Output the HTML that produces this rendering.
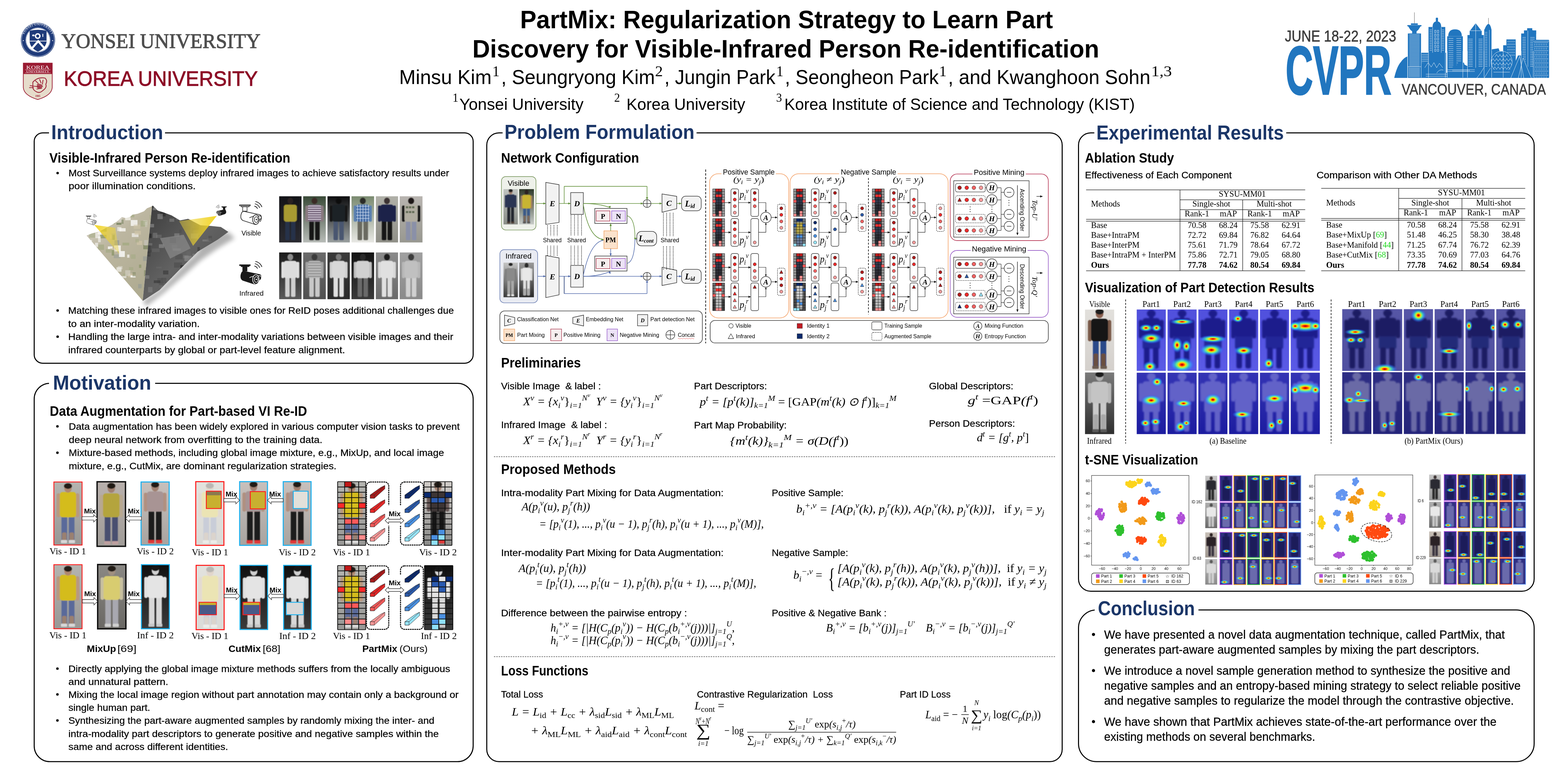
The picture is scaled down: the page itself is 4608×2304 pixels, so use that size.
<!DOCTYPE html>
<html><head><meta charset="utf-8"><title>PartMix: Regularization Strategy to Learn Part Discovery for Visible-Infrared Person Re-identification</title>
<style>
html,body{margin:0;padding:0;background:#fff;width:4608px;height:2304px;overflow:hidden}
svg{display:block}
text{white-space:pre}
.s{font-family:"Liberation Sans",Arial,sans-serif}
.w{stroke:#000;stroke-width:0.35px}
.r{font-family:"Liberation Serif","Times New Roman",serif}
.b{font-weight:bold}
.i{font-style:italic}
</style></head><body>
<svg width="4608" height="2304" viewBox="0 0 4608 2304">
<rect width="4608" height="2304" fill="#fff"/>
<defs><path id="yring" d="M68.6,117.4 A43,43 0 0 1 154.6,117.4"/><filter id="blur6" x="-20%" y="-20%" width="140%" height="140%"><feGaussianBlur stdDeviation="7"/></filter><clipPath id="cmL"><path d="M254.4,692.3 L270,686 L288,681.5 L300,676 L312,669.4 L330,660 L345,650 L358,638 L370,641 L382,638 L389,631 L405,628 L423,621 L432,612 L444.6,606.9 L447,605.6 L419.3,883.7 Z"/></clipPath><clipPath id="cmR"><path d="M447,605.6 L449.4,604.4 L463.9,619 L480,624 L504.8,633.3 L528.9,647.8 L553,643 L570,652 L589,662 L620,664 L649,667 L671,681.5 L640,704 L581.8,739 L530,790 L468.7,852.4 L419.3,884.5 Z"/></clipPath><linearGradient id="g1" x1="0" y1="0" x2="0.6" y2="1"><stop offset="0" stop-color="#dcd8ce"/><stop offset="0.45" stop-color="#bcb6a0"/><stop offset="1" stop-color="#b0ac92"/></linearGradient><linearGradient id="g2" x1="0" y1="0" x2="1" y2="1"><stop offset="0" stop-color="#3a3a3a"/><stop offset="0.5" stop-color="#626262"/><stop offset="1" stop-color="#4a4a4a"/></linearGradient><linearGradient id="g3" x1="0" y1="0" x2="1" y2="0.4"><stop offset="0" stop-color="#f4d418" stop-opacity="0.95"/><stop offset="1" stop-color="#e8d040" stop-opacity="0.45"/></linearGradient><linearGradient id="g4" x1="0" y1="0" x2="1" y2="0"><stop offset="0" stop-color="#e8d040" stop-opacity="0.45"/><stop offset="1" stop-color="#f4d418" stop-opacity="0.95"/></linearGradient><linearGradient id="g5" x1="0" y1="0" x2="0" y2="1"><stop offset="0" stop-color="#141418"/><stop offset="1" stop-color="#2a2a30"/></linearGradient><clipPath id="c6"><rect x="820.4" y="576.8" width="65.7" height="135.7"/></clipPath><filter id="b1_2" x="-10%" y="-10%" width="120%" height="120%"><feGaussianBlur stdDeviation="1.2"/></filter><linearGradient id="g7" x1="0" y1="0" x2="0" y2="1"><stop offset="0" stop-color="#3a4a38"/><stop offset="1" stop-color="#b8bcb8"/></linearGradient><clipPath id="c8"><rect x="891.0" y="576.8" width="66.5" height="135.7"/></clipPath><linearGradient id="g9" x1="0" y1="0" x2="0" y2="1"><stop offset="0" stop-color="#0e0e10"/><stop offset="1" stop-color="#9aa0a0"/></linearGradient><clipPath id="c10"><rect x="962.4" y="576.8" width="65.6" height="135.7"/></clipPath><linearGradient id="g11" x1="0" y1="0" x2="0" y2="1"><stop offset="0" stop-color="#7a8a70"/><stop offset="1" stop-color="#e8e8e4"/></linearGradient><clipPath id="c12"><rect x="1033.0" y="576.8" width="66.4" height="135.7"/></clipPath><linearGradient id="g13" x1="0" y1="0" x2="0" y2="1"><stop offset="0" stop-color="#b0b0a8"/><stop offset="1" stop-color="#909088"/></linearGradient><clipPath id="c14"><rect x="1104.5" y="576.8" width="65.3" height="135.7"/></clipPath><linearGradient id="g15" x1="0" y1="0" x2="0" y2="1"><stop offset="0" stop-color="#b8b4b0"/><stop offset="1" stop-color="#989890"/></linearGradient><clipPath id="c16"><rect x="1174.7" y="576.8" width="66.9" height="135.7"/></clipPath><linearGradient id="g17" x1="0" y1="0" x2="0" y2="1"><stop offset="0" stop-color="#1a1a1a"/><stop offset="1" stop-color="#5a5a5a"/></linearGradient><clipPath id="c18"><rect x="820.4" y="741.9" width="65.7" height="137.4"/></clipPath><linearGradient id="g19" x1="0" y1="0" x2="0" y2="1"><stop offset="0" stop-color="#6a6a6a"/><stop offset="1" stop-color="#505050"/></linearGradient><clipPath id="c20"><rect x="891.0" y="741.9" width="66.5" height="137.4"/></clipPath><linearGradient id="g21" x1="0" y1="0" x2="0" y2="1"><stop offset="0" stop-color="#3a3a3a"/><stop offset="1" stop-color="#2a2a2a"/></linearGradient><clipPath id="c22"><rect x="962.4" y="741.9" width="65.6" height="137.4"/></clipPath><linearGradient id="g23" x1="0" y1="0" x2="0" y2="1"><stop offset="0" stop-color="#141414"/><stop offset="1" stop-color="#3a3a3a"/></linearGradient><clipPath id="c24"><rect x="1033.0" y="741.9" width="66.4" height="137.4"/></clipPath><linearGradient id="g25" x1="0" y1="0" x2="0" y2="1"><stop offset="0" stop-color="#8a8a8a"/><stop offset="1" stop-color="#6a6a6a"/></linearGradient><clipPath id="c26"><rect x="1104.5" y="741.9" width="65.3" height="137.4"/></clipPath><linearGradient id="g27" x1="0" y1="0" x2="0" y2="1"><stop offset="0" stop-color="#a0a0a0"/><stop offset="1" stop-color="#8a8a8a"/></linearGradient><clipPath id="c28"><rect x="1174.7" y="741.9" width="66.9" height="137.4"/></clipPath><linearGradient id="g29" x1="0" y1="0" x2="0" y2="1"><stop offset="0" stop-color="#b4b4b0"/><stop offset="1" stop-color="#989896"/></linearGradient><clipPath id="c30"><rect x="158.3" y="1416.4" width="82.9" height="185.4"/></clipPath><linearGradient id="g31" x1="0" y1="0" x2="0" y2="1"><stop offset="0" stop-color="#b4b4b0"/><stop offset="1" stop-color="#989896"/></linearGradient><clipPath id="c32"><rect x="158.3" y="1659.5" width="82.9" height="188.3"/></clipPath><linearGradient id="g33" x1="0" y1="0" x2="0" y2="1"><stop offset="0" stop-color="#b8b0ac"/><stop offset="1" stop-color="#a09c98"/></linearGradient><clipPath id="c34"><rect x="285.3" y="1415.8" width="83.5" height="189.7"/></clipPath><linearGradient id="g35" x1="0" y1="0" x2="0" y2="1"><stop offset="0" stop-color="#c8c0bc"/><stop offset="1" stop-color="#a8a4a0"/></linearGradient><clipPath id="c36"><rect x="414.5" y="1416.4" width="82.7" height="185.4"/></clipPath><linearGradient id="g37" x1="0" y1="0" x2="0" y2="1"><stop offset="0" stop-color="#8a8884"/><stop offset="1" stop-color="#6a6864"/></linearGradient><clipPath id="c38"><rect x="287.0" y="1659.0" width="83.0" height="189.0"/></clipPath><linearGradient id="g39" x1="0" y1="0" x2="0" y2="1"><stop offset="0" stop-color="#101010"/><stop offset="1" stop-color="#3a3a3a"/></linearGradient><clipPath id="c40"><rect x="415.5" y="1659.5" width="82.2" height="188.3"/></clipPath><linearGradient id="g41" x1="0" y1="0" x2="0" y2="1"><stop offset="0" stop-color="#b4b4b0"/><stop offset="1" stop-color="#989896"/></linearGradient><clipPath id="c42"><rect x="575.2" y="1415.5" width="82.8" height="187.2"/></clipPath><linearGradient id="g43" x1="0" y1="0" x2="0" y2="1"><stop offset="0" stop-color="#c8c0bc"/><stop offset="1" stop-color="#a8a4a0"/></linearGradient><clipPath id="c44"><rect x="704.2" y="1415.5" width="81.9" height="187.2"/></clipPath><linearGradient id="g45" x1="0" y1="0" x2="0" y2="1"><stop offset="0" stop-color="#c8c0bc"/><stop offset="1" stop-color="#a8a4a0"/></linearGradient><clipPath id="c46"><rect x="832.3" y="1415.5" width="81.9" height="187.2"/></clipPath><linearGradient id="g47" x1="0" y1="0" x2="0" y2="1"><stop offset="0" stop-color="#b4b4b0"/><stop offset="1" stop-color="#989896"/></linearGradient><clipPath id="c48"><rect x="576.4" y="1661.4" width="82.3" height="189.1"/></clipPath><linearGradient id="g49" x1="0" y1="0" x2="0" y2="1"><stop offset="0" stop-color="#101010"/><stop offset="1" stop-color="#3a3a3a"/></linearGradient><clipPath id="c50"><rect x="705.3" y="1661.4" width="81.3" height="188.5"/></clipPath><linearGradient id="g51" x1="0" y1="0" x2="0" y2="1"><stop offset="0" stop-color="#101010"/><stop offset="1" stop-color="#3a3a3a"/></linearGradient><clipPath id="c52"><rect x="833.5" y="1661.4" width="81.3" height="188.5"/></clipPath><linearGradient id="g53" x1="0" y1="0" x2="0" y2="1"><stop offset="0" stop-color="#b4b4b0"/><stop offset="1" stop-color="#989896"/></linearGradient><clipPath id="c54"><rect x="992.2" y="1415.5" width="82.4" height="187.2"/></clipPath><linearGradient id="g55" x1="0" y1="0" x2="0" y2="1"><stop offset="0" stop-color="#d0ccc8"/><stop offset="1" stop-color="#8a8a88"/></linearGradient><clipPath id="c56"><rect x="1246.2" y="1415.5" width="82.0" height="187.2"/></clipPath><linearGradient id="g57" x1="0" y1="0" x2="0" y2="1"><stop offset="0" stop-color="#b4b4b0"/><stop offset="1" stop-color="#989896"/></linearGradient><clipPath id="c58"><rect x="992.2" y="1662.0" width="82.4" height="188.5"/></clipPath><linearGradient id="g59" x1="0" y1="0" x2="0" y2="1"><stop offset="0" stop-color="#101010"/><stop offset="1" stop-color="#3a3a3a"/></linearGradient><clipPath id="c60"><rect x="1247.4" y="1662.0" width="83.5" height="188.5"/></clipPath><linearGradient id="g61" x1="0" y1="0" x2="0" y2="1"><stop offset="0" stop-color="#c0c4c0"/><stop offset="1" stop-color="#8a8e88"/></linearGradient><clipPath id="c62"><rect x="1479.7" y="555.8" width="42.0" height="103.7"/></clipPath><linearGradient id="g63" x1="0" y1="0" x2="0" y2="1"><stop offset="0" stop-color="#2e3a2a"/><stop offset="1" stop-color="#c8ccc8"/></linearGradient><clipPath id="c64"><rect x="1525.8" y="555.8" width="43.2" height="103.7"/></clipPath><linearGradient id="g65" x1="0" y1="0" x2="0" y2="1"><stop offset="0" stop-color="#c4c4c4"/><stop offset="1" stop-color="#3a3a3a"/></linearGradient><clipPath id="c66"><rect x="1479.7" y="771.8" width="42.0" height="101.7"/></clipPath><linearGradient id="g67" x1="0" y1="0" x2="0" y2="1"><stop offset="0" stop-color="#9a9a9a"/><stop offset="1" stop-color="#2a2a2a"/></linearGradient><clipPath id="c68"><rect x="1525.8" y="771.8" width="43.2" height="101.7"/></clipPath><linearGradient id="g69" x1="0" y1="0" x2="0" y2="1"><stop offset="0" stop-color="#e2e0dc"/><stop offset="1" stop-color="#d4d0cc"/></linearGradient><clipPath id="c70"><rect x="3188.6" y="909.8" width="85.7" height="179.5"/></clipPath><linearGradient id="g71" x1="0" y1="0" x2="0" y2="1"><stop offset="0" stop-color="#7a7a7a"/><stop offset="1" stop-color="#2e2e2e"/></linearGradient><clipPath id="c72"><rect x="3188.6" y="1094.6" width="85.7" height="181.1"/></clipPath><linearGradient id="g73" x1="0" y1="0" x2="0" y2="1"><stop offset="0" stop-color="#5050dc"/><stop offset="1" stop-color="#5a5ae6"/></linearGradient><clipPath id="c74"><rect x="3340.6" y="909.6" width="85.4" height="180.2"/></clipPath><filter id="b2" x="-10%" y="-10%" width="120%" height="120%"><feGaussianBlur stdDeviation="2"/></filter><radialGradient id="g75"><stop offset="0" stop-color="#900000"/><stop offset="0.12" stop-color="#ff2000"/><stop offset="0.28" stop-color="#ffe000"/><stop offset="0.46" stop-color="#60ffa0" stop-opacity="0.9"/><stop offset="0.68" stop-color="#30b0ff" stop-opacity="0.6"/><stop offset="1" stop-color="#3040ff" stop-opacity="0"/></radialGradient><linearGradient id="g76" x1="0" y1="0" x2="0" y2="1"><stop offset="0" stop-color="#3434b4"/><stop offset="1" stop-color="#1c1ca0"/></linearGradient><clipPath id="c77"><rect x="3340.6" y="1095.3" width="85.4" height="180.4"/></clipPath><linearGradient id="g78" x1="0" y1="0" x2="0" y2="1"><stop offset="0" stop-color="#5656a6"/><stop offset="1" stop-color="#5050a0"/></linearGradient><clipPath id="c79"><rect x="3944.5" y="908.5" width="85.6" height="181.5"/></clipPath><linearGradient id="g80" x1="0" y1="0" x2="0" y2="1"><stop offset="0" stop-color="#2e2e84"/><stop offset="1" stop-color="#24247a"/></linearGradient><clipPath id="c81"><rect x="3944.5" y="1093.8" width="85.6" height="181.6"/></clipPath><linearGradient id="g82" x1="0" y1="0" x2="0" y2="1"><stop offset="0" stop-color="#5050dc"/><stop offset="1" stop-color="#5a5ae6"/></linearGradient><clipPath id="c83"><rect x="3431.2" y="909.6" width="85.4" height="180.2"/></clipPath><linearGradient id="g84" x1="0" y1="0" x2="0" y2="1"><stop offset="0" stop-color="#3434b4"/><stop offset="1" stop-color="#1c1ca0"/></linearGradient><clipPath id="c85"><rect x="3431.2" y="1095.3" width="85.4" height="180.4"/></clipPath><linearGradient id="g86" x1="0" y1="0" x2="0" y2="1"><stop offset="0" stop-color="#5656a6"/><stop offset="1" stop-color="#5050a0"/></linearGradient><clipPath id="c87"><rect x="4035.1" y="908.5" width="85.6" height="181.5"/></clipPath><linearGradient id="g88" x1="0" y1="0" x2="0" y2="1"><stop offset="0" stop-color="#2e2e84"/><stop offset="1" stop-color="#24247a"/></linearGradient><clipPath id="c89"><rect x="4035.1" y="1093.8" width="85.6" height="181.6"/></clipPath><linearGradient id="g90" x1="0" y1="0" x2="0" y2="1"><stop offset="0" stop-color="#5050dc"/><stop offset="1" stop-color="#5a5ae6"/></linearGradient><clipPath id="c91"><rect x="3521.7" y="909.6" width="85.4" height="180.2"/></clipPath><linearGradient id="g92" x1="0" y1="0" x2="0" y2="1"><stop offset="0" stop-color="#3434b4"/><stop offset="1" stop-color="#1c1ca0"/></linearGradient><clipPath id="c93"><rect x="3521.7" y="1095.3" width="85.4" height="180.4"/></clipPath><linearGradient id="g94" x1="0" y1="0" x2="0" y2="1"><stop offset="0" stop-color="#5656a6"/><stop offset="1" stop-color="#5050a0"/></linearGradient><clipPath id="c95"><rect x="4125.6" y="908.5" width="85.6" height="181.5"/></clipPath><linearGradient id="g96" x1="0" y1="0" x2="0" y2="1"><stop offset="0" stop-color="#2e2e84"/><stop offset="1" stop-color="#24247a"/></linearGradient><clipPath id="c97"><rect x="4125.6" y="1093.8" width="85.6" height="181.6"/></clipPath><linearGradient id="g98" x1="0" y1="0" x2="0" y2="1"><stop offset="0" stop-color="#5050dc"/><stop offset="1" stop-color="#5a5ae6"/></linearGradient><clipPath id="c99"><rect x="3612.2" y="909.6" width="85.4" height="180.2"/></clipPath><linearGradient id="g100" x1="0" y1="0" x2="0" y2="1"><stop offset="0" stop-color="#3434b4"/><stop offset="1" stop-color="#1c1ca0"/></linearGradient><clipPath id="c101"><rect x="3612.2" y="1095.3" width="85.4" height="180.4"/></clipPath><linearGradient id="g102" x1="0" y1="0" x2="0" y2="1"><stop offset="0" stop-color="#5656a6"/><stop offset="1" stop-color="#5050a0"/></linearGradient><clipPath id="c103"><rect x="4216.1" y="908.5" width="85.6" height="181.5"/></clipPath><linearGradient id="g104" x1="0" y1="0" x2="0" y2="1"><stop offset="0" stop-color="#2e2e84"/><stop offset="1" stop-color="#24247a"/></linearGradient><clipPath id="c105"><rect x="4216.1" y="1093.8" width="85.6" height="181.6"/></clipPath><linearGradient id="g106" x1="0" y1="0" x2="0" y2="1"><stop offset="0" stop-color="#5050dc"/><stop offset="1" stop-color="#5a5ae6"/></linearGradient><clipPath id="c107"><rect x="3702.8" y="909.6" width="85.4" height="180.2"/></clipPath><linearGradient id="g108" x1="0" y1="0" x2="0" y2="1"><stop offset="0" stop-color="#3434b4"/><stop offset="1" stop-color="#1c1ca0"/></linearGradient><clipPath id="c109"><rect x="3702.8" y="1095.3" width="85.4" height="180.4"/></clipPath><linearGradient id="g110" x1="0" y1="0" x2="0" y2="1"><stop offset="0" stop-color="#5656a6"/><stop offset="1" stop-color="#5050a0"/></linearGradient><clipPath id="c111"><rect x="4306.7" y="908.5" width="85.6" height="181.5"/></clipPath><linearGradient id="g112" x1="0" y1="0" x2="0" y2="1"><stop offset="0" stop-color="#2e2e84"/><stop offset="1" stop-color="#24247a"/></linearGradient><clipPath id="c113"><rect x="4306.7" y="1093.8" width="85.6" height="181.6"/></clipPath><linearGradient id="g114" x1="0" y1="0" x2="0" y2="1"><stop offset="0" stop-color="#5050dc"/><stop offset="1" stop-color="#5a5ae6"/></linearGradient><clipPath id="c115"><rect x="3793.3" y="909.6" width="85.4" height="180.2"/></clipPath><linearGradient id="g116" x1="0" y1="0" x2="0" y2="1"><stop offset="0" stop-color="#3434b4"/><stop offset="1" stop-color="#1c1ca0"/></linearGradient><clipPath id="c117"><rect x="3793.3" y="1095.3" width="85.4" height="180.4"/></clipPath><linearGradient id="g118" x1="0" y1="0" x2="0" y2="1"><stop offset="0" stop-color="#5656a6"/><stop offset="1" stop-color="#5050a0"/></linearGradient><clipPath id="c119"><rect x="4397.2" y="908.5" width="85.6" height="181.5"/></clipPath><linearGradient id="g120" x1="0" y1="0" x2="0" y2="1"><stop offset="0" stop-color="#2e2e84"/><stop offset="1" stop-color="#24247a"/></linearGradient><clipPath id="c121"><rect x="4397.2" y="1093.8" width="85.6" height="181.6"/></clipPath><linearGradient id="g122" x1="0" y1="0" x2="0" y2="1"><stop offset="0" stop-color="#c8c8c8"/><stop offset="1" stop-color="#9a9a9a"/></linearGradient><clipPath id="c123"><rect x="3542.0" y="1398.0" width="35.0" height="75.0"/></clipPath><linearGradient id="g124" x1="0" y1="0" x2="0" y2="1"><stop offset="0" stop-color="#b0b0b0"/><stop offset="1" stop-color="#6a6a6a"/></linearGradient><clipPath id="c125"><rect x="3542.0" y="1477.0" width="35.0" height="75.0"/></clipPath><linearGradient id="g126" x1="0" y1="0" x2="0" y2="1"><stop offset="0" stop-color="#c8c0b8"/><stop offset="1" stop-color="#a09890"/></linearGradient><clipPath id="c127"><rect x="3542.0" y="1564.5" width="35.0" height="73.9"/></clipPath><linearGradient id="g128" x1="0" y1="0" x2="0" y2="1"><stop offset="0" stop-color="#bcbcbc"/><stop offset="1" stop-color="#8a8a8a"/></linearGradient><clipPath id="c129"><rect x="3542.0" y="1643.0" width="35.0" height="75.0"/></clipPath><linearGradient id="g130" x1="0" y1="0" x2="0" y2="1"><stop offset="0" stop-color="#c8c8c8"/><stop offset="1" stop-color="#9a9a9a"/></linearGradient><clipPath id="c131"><rect x="4200.0" y="1394.6" width="34.8" height="76.1"/></clipPath><linearGradient id="g132" x1="0" y1="0" x2="0" y2="1"><stop offset="0" stop-color="#b0b0b0"/><stop offset="1" stop-color="#6a6a6a"/></linearGradient><clipPath id="c133"><rect x="4200.0" y="1474.5" width="34.8" height="76.5"/></clipPath><linearGradient id="g134" x1="0" y1="0" x2="0" y2="1"><stop offset="0" stop-color="#c8c0b8"/><stop offset="1" stop-color="#a09890"/></linearGradient><clipPath id="c135"><rect x="4200.0" y="1561.8" width="34.8" height="76.0"/></clipPath><linearGradient id="g136" x1="0" y1="0" x2="0" y2="1"><stop offset="0" stop-color="#bcbcbc"/><stop offset="1" stop-color="#8a8a8a"/></linearGradient><clipPath id="c137"><rect x="4200.0" y="1641.0" width="34.8" height="76.0"/></clipPath></defs>
<circle cx="111.6" cy="117.4" r="50.3" fill="#1f3b7a"/>
<circle cx="111.6" cy="117.4" r="48.3" fill="none" stroke="#fff" stroke-width="1.0"/>
<circle cx="111.6" cy="117.4" r="36.5" fill="#fff"/>
<circle cx="111.6" cy="117.4" r="35.2" fill="none" stroke="#1f3b7a" stroke-width="0.8"/>
<path d="M87.19999999999999,90.4 Q111.6,84.4 136.79999999999998,90.4 L136.79999999999998,123.4 Q133.6,141.4 111.6,151.8 Q89.6,141.4 87.19999999999999,123.4 Z" fill="#1f3b7a"/>
<circle cx="110.8" cy="106.0" r="8.5" fill="#fff"/>
<circle cx="110.8" cy="106.0" r="4.5" fill="#1f3b7a"/>
<line x1="87.6" y1="120.8" x2="136.6" y2="120.8" stroke="#fff" stroke-width="2" />
<path d="M91.6,144.4 L112.3,121.0 L133.0,144.4" fill="none" stroke="#fff" stroke-width="6"/>
<rect x="94.6" y="101.4" width="7.0" height="5.0" fill="#fff" rx="2"/>
<rect x="124.6" y="99.4" width="2.5" height="9.0" fill="#fff"/>
<text font-size="9.5" class="r" fill="#fff" letter-spacing="0.6"><textPath href="#yring" startOffset="50%" text-anchor="middle">YONSEI UNIVERSITY</textPath></text>
<circle cx="68.6" cy="119.4" r="1.4" fill="#fff"/>
<circle cx="154.6" cy="119.4" r="1.4" fill="#fff"/>
<text x="180.5" y="141.0" font-size="61.5" class="r" textLength="585.0" lengthAdjust="spacingAndGlyphs" fill="#4f4f4f" stroke="#4f4f4f" stroke-width="1.4">YONSEI UNIVERSITY</text>
<path d="M68.5,185.5 L153.5,185.5 L153.5,257.5 Q151.5,280.5 111.0,292.5 Q70.5,280.5 68.5,257.5 Z" fill="#e6dccb" stroke="#9a1b32" stroke-width="2"/>
<rect x="68.5" y="185.5" width="85.0" height="32.0" fill="#9a1b32"/>
<line x1="73.5" y1="205.0" x2="148.5" y2="205.0" stroke="#f4e8e0" stroke-width="0.8" />
<line x1="73.5" y1="214.0" x2="148.5" y2="214.0" stroke="#f4e8e0" stroke-width="0.8" />
<text x="111.0" y="202.5" font-size="14.5" class="r" textLength="68.0" lengthAdjust="spacingAndGlyphs" fill="#fff" text-anchor="middle">KOREA</text>
<text x="111.0" y="212.5" font-size="7.2" class="r" textLength="68.0" lengthAdjust="spacingAndGlyphs" fill="#fff" text-anchor="middle">UNIVERSITY</text>
<g fill="none" stroke="#9a1b32" stroke-width="2.2" stroke-linecap="round">
<path d="M96.5,241.5 Q110.5,225.5 132.5,229.5 Q140.5,237.5 134.5,247.5 Q138.5,257.5 126.5,265.5 Q116.5,275.5 106.5,269.5 Q94.5,263.5 96.5,251.5 Z" fill="none"/>
<path d="M104.5,237.5 L112.5,245.5 M116.5,233.5 L120.5,243.5 M126.5,235.5 L124.5,247.5 M102.5,253.5 L116.5,255.5 M108.5,261.5 L122.5,259.5 M88.5,251.5 L100.5,253.5 M86.5,257.5 L98.5,257.5" fill="none"/>
</g>
<path d="M108.5,247.5 Q120.5,243.5 126.5,253.5 Q118.5,265.5 108.5,257.5 Z" fill="#9a1b32" opacity="0.75"/>
<text x="111.0" y="284.5" font-size="7.5" class="r b" fill="#9a1b32" text-anchor="middle">1905</text>
<text x="187.5" y="251.5" font-size="61.3" class="s" textLength="570.0" lengthAdjust="spacingAndGlyphs" fill="#8d0d27" stroke="#8d0d27" stroke-width="1.3">KOREA UNIVERSITY</text>
<text x="1528.5" y="83.4" font-size="74.6" class="s b" textLength="1566.0" lengthAdjust="spacingAndGlyphs">PartMix: Regularization Strategy to Learn Part</text>
<text x="1388.3" y="169.4" font-size="74.6" class="s b" textLength="1842.0" lengthAdjust="spacingAndGlyphs">Discovery for Visible-Infrared Person Re-identification</text>
<text x="1173.0" y="246.8" font-size="59.2" class="s" textLength="271.7" lengthAdjust="spacingAndGlyphs">Minsu Kim</text>
<text x="1472.7" y="246.8" font-size="59.2" class="s" textLength="451.8" lengthAdjust="spacingAndGlyphs">, Seungryong Kim</text>
<text x="1952.5" y="246.8" font-size="59.2" class="s" textLength="326.1" lengthAdjust="spacingAndGlyphs">, Jungin Park</text>
<text x="2306.5" y="246.8" font-size="59.2" class="s" textLength="451.9" lengthAdjust="spacingAndGlyphs">, Seongheon Park</text>
<text x="2786.0" y="246.8" font-size="59.2" class="s" textLength="594.7" lengthAdjust="spacingAndGlyphs">, and Kwanghoon Sohn</text>
<text x="1447.0" y="223.7" font-size="44" class="r" textLength="21.0" lengthAdjust="spacingAndGlyphs">1</text>
<text x="1925.0" y="223.7" font-size="44" class="r" textLength="23.0" lengthAdjust="spacingAndGlyphs">2</text>
<text x="2281.4" y="223.7" font-size="44" class="r" textLength="20.6" lengthAdjust="spacingAndGlyphs">1</text>
<text x="2760.0" y="223.7" font-size="44" class="r" textLength="21.7" lengthAdjust="spacingAndGlyphs">1</text>
<text x="3383.0" y="223.7" font-size="44" class="r" textLength="61.0" lengthAdjust="spacingAndGlyphs">1,3</text>
<text x="1330.0" y="299.0" font-size="36" class="r" textLength="17.0" lengthAdjust="spacingAndGlyphs">1</text>
<text x="1350.0" y="323.2" font-size="48.0" class="s" textLength="365.0" lengthAdjust="spacingAndGlyphs">Yonsei University</text>
<text x="1805.0" y="299.0" font-size="36" class="r" textLength="17.0" lengthAdjust="spacingAndGlyphs">2</text>
<text x="1841.0" y="323.2" font-size="48.0" class="s" textLength="349.0" lengthAdjust="spacingAndGlyphs">Korea University</text>
<text x="2281.0" y="299.0" font-size="36" class="r" textLength="17.0" lengthAdjust="spacingAndGlyphs">3</text>
<text x="2305.0" y="323.2" font-size="48.0" class="s" textLength="1030.0" lengthAdjust="spacingAndGlyphs">Korea Institute of Science and Technology (KIST)</text>
<text x="3776.0" y="122.0" font-size="46.5" class="s" textLength="327.0" lengthAdjust="spacingAndGlyphs" fill="#3c3c3c" stroke="#3c3c3c" stroke-width="0.8">JUNE 18-22, 2023</text>
<text x="3778.0" y="277.0" font-size="203" class="s b" textLength="311.0" lengthAdjust="spacingAndGlyphs" fill="#2176bf" stroke="#2176bf" stroke-width="3.5">CVPR</text>
<text x="4119.0" y="278.0" font-size="45" class="s" textLength="424.0" lengthAdjust="spacingAndGlyphs" fill="#3c3c3c" stroke="#3c3c3c" stroke-width="0.8">VANCOUVER, CANADA</text>
<path d="M4097.3,229 Q4105,195 4117,182 Q4125,170 4136,166 L4136,229 Z" fill="#2176bf"/>
<rect x="4176.0" y="155.0" width="74.0" height="74.0" fill="#2176bf"/>
<line x1="4178.0" y1="160.0" x2="4220.0" y2="160.0" stroke="#fff" stroke-width="0.9" />
<line x1="4178.0" y1="165.0" x2="4220.0" y2="165.0" stroke="#fff" stroke-width="0.9" />
<line x1="4178.0" y1="170.0" x2="4220.0" y2="170.0" stroke="#fff" stroke-width="0.9" />
<line x1="4178.0" y1="175.0" x2="4220.0" y2="175.0" stroke="#fff" stroke-width="0.9" />
<line x1="4178.0" y1="180.0" x2="4220.0" y2="180.0" stroke="#fff" stroke-width="0.9" />
<line x1="4178.0" y1="185.0" x2="4220.0" y2="185.0" stroke="#fff" stroke-width="0.9" />
<rect x="4198.0" y="79.3" width="49.3" height="149.7" fill="#2176bf"/>
<path d="M4210,80 Q4210,63 4222.7,62.8 Q4235.4,63 4235.4,80 Z" fill="#2176bf"/>
<rect x="4219.5" y="52.0" width="6.5" height="11.0" fill="#2176bf" rx="1.5"/>
<rect x="4216.0" y="89.0" width="4.0" height="7.0" fill="none" stroke="#fff" stroke-width="0.9"/>
<rect x="4224.0" y="89.0" width="4.0" height="7.0" fill="none" stroke="#fff" stroke-width="0.9"/>
<rect x="4216.0" y="100.0" width="4.0" height="7.0" fill="none" stroke="#fff" stroke-width="0.9"/>
<rect x="4224.0" y="100.0" width="4.0" height="7.0" fill="none" stroke="#fff" stroke-width="0.9"/>
<rect x="4216.0" y="111.0" width="4.0" height="7.0" fill="none" stroke="#fff" stroke-width="0.9"/>
<rect x="4224.0" y="111.0" width="4.0" height="7.0" fill="none" stroke="#fff" stroke-width="0.9"/>
<rect x="4216.0" y="122.0" width="4.0" height="7.0" fill="none" stroke="#fff" stroke-width="0.9"/>
<rect x="4224.0" y="122.0" width="4.0" height="7.0" fill="none" stroke="#fff" stroke-width="0.9"/>
<rect x="4216.0" y="133.0" width="4.0" height="7.0" fill="none" stroke="#fff" stroke-width="0.9"/>
<rect x="4224.0" y="133.0" width="4.0" height="7.0" fill="none" stroke="#fff" stroke-width="0.9"/>
<rect x="4216.0" y="144.0" width="4.0" height="7.0" fill="none" stroke="#fff" stroke-width="0.9"/>
<rect x="4224.0" y="144.0" width="4.0" height="7.0" fill="none" stroke="#fff" stroke-width="0.9"/>
<line x1="4201.0" y1="88.0" x2="4208.0" y2="88.0" stroke="#fff" stroke-width="0.9" />
<line x1="4237.0" y1="88.0" x2="4244.0" y2="88.0" stroke="#fff" stroke-width="0.9" />
<line x1="4201.0" y1="93.0" x2="4208.0" y2="93.0" stroke="#fff" stroke-width="0.9" />
<line x1="4237.0" y1="93.0" x2="4244.0" y2="93.0" stroke="#fff" stroke-width="0.9" />
<line x1="4201.0" y1="98.0" x2="4208.0" y2="98.0" stroke="#fff" stroke-width="0.9" />
<line x1="4237.0" y1="98.0" x2="4244.0" y2="98.0" stroke="#fff" stroke-width="0.9" />
<line x1="4201.0" y1="103.0" x2="4208.0" y2="103.0" stroke="#fff" stroke-width="0.9" />
<line x1="4237.0" y1="103.0" x2="4244.0" y2="103.0" stroke="#fff" stroke-width="0.9" />
<line x1="4201.0" y1="108.0" x2="4208.0" y2="108.0" stroke="#fff" stroke-width="0.9" />
<line x1="4237.0" y1="108.0" x2="4244.0" y2="108.0" stroke="#fff" stroke-width="0.9" />
<line x1="4201.0" y1="113.0" x2="4208.0" y2="113.0" stroke="#fff" stroke-width="0.9" />
<line x1="4237.0" y1="113.0" x2="4244.0" y2="113.0" stroke="#fff" stroke-width="0.9" />
<line x1="4201.0" y1="118.0" x2="4208.0" y2="118.0" stroke="#fff" stroke-width="0.9" />
<line x1="4237.0" y1="118.0" x2="4244.0" y2="118.0" stroke="#fff" stroke-width="0.9" />
<line x1="4201.0" y1="123.0" x2="4208.0" y2="123.0" stroke="#fff" stroke-width="0.9" />
<line x1="4237.0" y1="123.0" x2="4244.0" y2="123.0" stroke="#fff" stroke-width="0.9" />
<line x1="4201.0" y1="128.0" x2="4208.0" y2="128.0" stroke="#fff" stroke-width="0.9" />
<line x1="4237.0" y1="128.0" x2="4244.0" y2="128.0" stroke="#fff" stroke-width="0.9" />
<line x1="4201.0" y1="133.0" x2="4208.0" y2="133.0" stroke="#fff" stroke-width="0.9" />
<line x1="4237.0" y1="133.0" x2="4244.0" y2="133.0" stroke="#fff" stroke-width="0.9" />
<line x1="4201.0" y1="138.0" x2="4208.0" y2="138.0" stroke="#fff" stroke-width="0.9" />
<line x1="4237.0" y1="138.0" x2="4244.0" y2="138.0" stroke="#fff" stroke-width="0.9" />
<line x1="4201.0" y1="143.0" x2="4208.0" y2="143.0" stroke="#fff" stroke-width="0.9" />
<line x1="4237.0" y1="143.0" x2="4244.0" y2="143.0" stroke="#fff" stroke-width="0.9" />
<line x1="4201.0" y1="148.0" x2="4208.0" y2="148.0" stroke="#fff" stroke-width="0.9" />
<line x1="4237.0" y1="148.0" x2="4244.0" y2="148.0" stroke="#fff" stroke-width="0.9" />
<line x1="4210.0" y1="80.0" x2="4210.0" y2="155.0" stroke="#fff" stroke-width="0.9" />
<line x1="4235.4" y1="80.0" x2="4235.4" y2="155.0" stroke="#fff" stroke-width="0.9" />
<rect x="4137.4" y="98.4" width="38.7" height="130.6" fill="#2176bf"/>
<rect x="4135.6" y="73.8" width="42.0" height="3.5" fill="#2176bf" rx="1.5"/>
<rect x="4146.5" y="68.7" width="20.0" height="4.5" fill="#2176bf"/>
<path d="M4138,77 L4175,77 L4168,88 L4163,92 L4150,92 L4145,88 Z" fill="#2176bf"/>
<rect x="4150.0" y="92.0" width="13.0" height="6.4" fill="#2176bf"/>
<line x1="4156.6" y1="36.4" x2="4156.6" y2="68.7" stroke="#555" stroke-width="1" />
<line x1="4141.5" y1="102.0" x2="4172.0" y2="102.0" stroke="#fff" stroke-width="0.9" />
<line x1="4141.5" y1="106.0" x2="4172.0" y2="106.0" stroke="#fff" stroke-width="0.9" />
<line x1="4141.5" y1="110.0" x2="4172.0" y2="110.0" stroke="#fff" stroke-width="0.9" />
<line x1="4141.5" y1="114.0" x2="4172.0" y2="114.0" stroke="#fff" stroke-width="0.9" />
<line x1="4141.5" y1="118.0" x2="4172.0" y2="118.0" stroke="#fff" stroke-width="0.9" />
<line x1="4141.5" y1="122.0" x2="4172.0" y2="122.0" stroke="#fff" stroke-width="0.9" />
<line x1="4141.5" y1="126.0" x2="4172.0" y2="126.0" stroke="#fff" stroke-width="0.9" />
<line x1="4141.5" y1="130.0" x2="4172.0" y2="130.0" stroke="#fff" stroke-width="0.9" />
<line x1="4141.5" y1="134.0" x2="4172.0" y2="134.0" stroke="#fff" stroke-width="0.9" />
<line x1="4141.5" y1="138.0" x2="4172.0" y2="138.0" stroke="#fff" stroke-width="0.9" />
<line x1="4141.5" y1="142.0" x2="4172.0" y2="142.0" stroke="#fff" stroke-width="0.9" />
<line x1="4141.5" y1="146.0" x2="4172.0" y2="146.0" stroke="#fff" stroke-width="0.9" />
<line x1="4141.5" y1="150.0" x2="4172.0" y2="150.0" stroke="#fff" stroke-width="0.9" />
<line x1="4141.5" y1="154.0" x2="4172.0" y2="154.0" stroke="#fff" stroke-width="0.9" />
<line x1="4141.5" y1="158.0" x2="4172.0" y2="158.0" stroke="#fff" stroke-width="0.9" />
<line x1="4141.5" y1="162.0" x2="4172.0" y2="162.0" stroke="#fff" stroke-width="0.9" />
<line x1="4141.5" y1="166.0" x2="4172.0" y2="166.0" stroke="#fff" stroke-width="0.9" />
<line x1="4141.5" y1="170.0" x2="4172.0" y2="170.0" stroke="#fff" stroke-width="0.9" />
<line x1="4141.5" y1="174.0" x2="4172.0" y2="174.0" stroke="#fff" stroke-width="0.9" />
<line x1="4141.5" y1="178.0" x2="4172.0" y2="178.0" stroke="#fff" stroke-width="0.9" />
<line x1="4141.5" y1="182.0" x2="4172.0" y2="182.0" stroke="#fff" stroke-width="0.9" />
<line x1="4141.5" y1="186.0" x2="4172.0" y2="186.0" stroke="#fff" stroke-width="0.9" />
<line x1="4141.5" y1="190.0" x2="4172.0" y2="190.0" stroke="#fff" stroke-width="0.9" />
<line x1="4141.5" y1="194.0" x2="4172.0" y2="194.0" stroke="#fff" stroke-width="0.9" />
<line x1="4141.0" y1="198.0" x2="4141.0" y2="227.0" stroke="#fff" stroke-width="0.8" />
<line x1="4144.0" y1="198.0" x2="4144.0" y2="227.0" stroke="#fff" stroke-width="0.8" />
<line x1="4147.0" y1="198.0" x2="4147.0" y2="227.0" stroke="#fff" stroke-width="0.8" />
<line x1="4150.0" y1="198.0" x2="4150.0" y2="227.0" stroke="#fff" stroke-width="0.8" />
<line x1="4153.0" y1="198.0" x2="4153.0" y2="227.0" stroke="#fff" stroke-width="0.8" />
<line x1="4156.0" y1="198.0" x2="4156.0" y2="227.0" stroke="#fff" stroke-width="0.8" />
<line x1="4159.0" y1="198.0" x2="4159.0" y2="227.0" stroke="#fff" stroke-width="0.8" />
<line x1="4162.0" y1="198.0" x2="4162.0" y2="227.0" stroke="#fff" stroke-width="0.8" />
<line x1="4165.0" y1="198.0" x2="4165.0" y2="227.0" stroke="#fff" stroke-width="0.8" />
<line x1="4168.0" y1="198.0" x2="4168.0" y2="227.0" stroke="#fff" stroke-width="0.8" />
<line x1="4171.0" y1="198.0" x2="4171.0" y2="227.0" stroke="#fff" stroke-width="0.8" />
<line x1="4137.4" y1="196.0" x2="4176.0" y2="196.0" stroke="#fff" stroke-width="0.9" />
<rect x="4253.0" y="106.6" width="46.0" height="122.4" fill="#2176bf"/>
<path d="M4256,106.6 Q4256,86.2 4276,86.2 Q4296,86.2 4296,106.6 Z" fill="#2176bf"/>
<line x1="4257.0" y1="113.0" x2="4271.0" y2="113.0" stroke="#fff" stroke-width="0.9" />
<line x1="4280.0" y1="113.0" x2="4294.0" y2="113.0" stroke="#fff" stroke-width="0.9" />
<line x1="4257.0" y1="119.0" x2="4271.0" y2="119.0" stroke="#fff" stroke-width="0.9" />
<line x1="4280.0" y1="119.0" x2="4294.0" y2="119.0" stroke="#fff" stroke-width="0.9" />
<line x1="4257.0" y1="125.0" x2="4271.0" y2="125.0" stroke="#fff" stroke-width="0.9" />
<line x1="4280.0" y1="125.0" x2="4294.0" y2="125.0" stroke="#fff" stroke-width="0.9" />
<line x1="4257.0" y1="131.0" x2="4271.0" y2="131.0" stroke="#fff" stroke-width="0.9" />
<line x1="4280.0" y1="131.0" x2="4294.0" y2="131.0" stroke="#fff" stroke-width="0.9" />
<line x1="4257.0" y1="137.0" x2="4271.0" y2="137.0" stroke="#fff" stroke-width="0.9" />
<line x1="4280.0" y1="137.0" x2="4294.0" y2="137.0" stroke="#fff" stroke-width="0.9" />
<line x1="4257.0" y1="143.0" x2="4271.0" y2="143.0" stroke="#fff" stroke-width="0.9" />
<line x1="4280.0" y1="143.0" x2="4294.0" y2="143.0" stroke="#fff" stroke-width="0.9" />
<line x1="4257.0" y1="149.0" x2="4271.0" y2="149.0" stroke="#fff" stroke-width="0.9" />
<line x1="4280.0" y1="149.0" x2="4294.0" y2="149.0" stroke="#fff" stroke-width="0.9" />
<line x1="4257.0" y1="155.0" x2="4271.0" y2="155.0" stroke="#fff" stroke-width="0.9" />
<line x1="4280.0" y1="155.0" x2="4294.0" y2="155.0" stroke="#fff" stroke-width="0.9" />
<line x1="4257.0" y1="161.0" x2="4271.0" y2="161.0" stroke="#fff" stroke-width="0.9" />
<line x1="4280.0" y1="161.0" x2="4294.0" y2="161.0" stroke="#fff" stroke-width="0.9" />
<line x1="4257.0" y1="167.0" x2="4271.0" y2="167.0" stroke="#fff" stroke-width="0.9" />
<line x1="4280.0" y1="167.0" x2="4294.0" y2="167.0" stroke="#fff" stroke-width="0.9" />
<line x1="4257.0" y1="173.0" x2="4271.0" y2="173.0" stroke="#fff" stroke-width="0.9" />
<line x1="4280.0" y1="173.0" x2="4294.0" y2="173.0" stroke="#fff" stroke-width="0.9" />
<line x1="4257.0" y1="179.0" x2="4271.0" y2="179.0" stroke="#fff" stroke-width="0.9" />
<line x1="4280.0" y1="179.0" x2="4294.0" y2="179.0" stroke="#fff" stroke-width="0.9" />
<line x1="4257.0" y1="185.0" x2="4271.0" y2="185.0" stroke="#fff" stroke-width="0.9" />
<line x1="4280.0" y1="185.0" x2="4294.0" y2="185.0" stroke="#fff" stroke-width="0.9" />
<line x1="4257.0" y1="191.0" x2="4271.0" y2="191.0" stroke="#fff" stroke-width="0.9" />
<line x1="4280.0" y1="191.0" x2="4294.0" y2="191.0" stroke="#fff" stroke-width="0.9" />
<line x1="4257.0" y1="197.0" x2="4271.0" y2="197.0" stroke="#fff" stroke-width="0.9" />
<line x1="4280.0" y1="197.0" x2="4294.0" y2="197.0" stroke="#fff" stroke-width="0.9" />
<rect x="4312.6" y="103.0" width="48.0" height="126.0" fill="#2176bf"/>
<rect x="4319.0" y="90.2" width="35.5" height="13.0" fill="#2176bf"/>
<path d="M4320,90.2 L4336.7,68.3 L4353.5,90.2 Z" fill="#2176bf"/>
<line x1="4336.7" y1="68.3" x2="4336.7" y2="225.0" stroke="#fff" stroke-width="0.9" />
<line x1="4320.0" y1="90.2" x2="4353.5" y2="90.2" stroke="#fff" stroke-width="0.9" />
<line x1="4315.0" y1="115.0" x2="4328.0" y2="115.0" stroke="#fff" stroke-width="0.9" />
<line x1="4345.0" y1="115.0" x2="4357.0" y2="115.0" stroke="#fff" stroke-width="0.9" />
<line x1="4315.0" y1="120.0" x2="4328.0" y2="120.0" stroke="#fff" stroke-width="0.9" />
<line x1="4345.0" y1="120.0" x2="4357.0" y2="120.0" stroke="#fff" stroke-width="0.9" />
<line x1="4315.0" y1="125.0" x2="4328.0" y2="125.0" stroke="#fff" stroke-width="0.9" />
<line x1="4345.0" y1="125.0" x2="4357.0" y2="125.0" stroke="#fff" stroke-width="0.9" />
<line x1="4315.0" y1="130.0" x2="4328.0" y2="130.0" stroke="#fff" stroke-width="0.9" />
<line x1="4345.0" y1="130.0" x2="4357.0" y2="130.0" stroke="#fff" stroke-width="0.9" />
<line x1="4315.0" y1="135.0" x2="4328.0" y2="135.0" stroke="#fff" stroke-width="0.9" />
<line x1="4345.0" y1="135.0" x2="4357.0" y2="135.0" stroke="#fff" stroke-width="0.9" />
<line x1="4315.0" y1="140.0" x2="4328.0" y2="140.0" stroke="#fff" stroke-width="0.9" />
<line x1="4345.0" y1="140.0" x2="4357.0" y2="140.0" stroke="#fff" stroke-width="0.9" />
<line x1="4315.0" y1="145.0" x2="4328.0" y2="145.0" stroke="#fff" stroke-width="0.9" />
<line x1="4345.0" y1="145.0" x2="4357.0" y2="145.0" stroke="#fff" stroke-width="0.9" />
<line x1="4315.0" y1="150.0" x2="4328.0" y2="150.0" stroke="#fff" stroke-width="0.9" />
<line x1="4345.0" y1="150.0" x2="4357.0" y2="150.0" stroke="#fff" stroke-width="0.9" />
<line x1="4315.0" y1="155.0" x2="4328.0" y2="155.0" stroke="#fff" stroke-width="0.9" />
<line x1="4345.0" y1="155.0" x2="4357.0" y2="155.0" stroke="#fff" stroke-width="0.9" />
<line x1="4315.0" y1="160.0" x2="4328.0" y2="160.0" stroke="#fff" stroke-width="0.9" />
<line x1="4345.0" y1="160.0" x2="4357.0" y2="160.0" stroke="#fff" stroke-width="0.9" />
<line x1="4315.0" y1="165.0" x2="4328.0" y2="165.0" stroke="#fff" stroke-width="0.9" />
<line x1="4345.0" y1="165.0" x2="4357.0" y2="165.0" stroke="#fff" stroke-width="0.9" />
<line x1="4315.0" y1="170.0" x2="4328.0" y2="170.0" stroke="#fff" stroke-width="0.9" />
<line x1="4345.0" y1="170.0" x2="4357.0" y2="170.0" stroke="#fff" stroke-width="0.9" />
<line x1="4315.0" y1="175.0" x2="4328.0" y2="175.0" stroke="#fff" stroke-width="0.9" />
<line x1="4345.0" y1="175.0" x2="4357.0" y2="175.0" stroke="#fff" stroke-width="0.9" />
<line x1="4315.0" y1="180.0" x2="4328.0" y2="180.0" stroke="#fff" stroke-width="0.9" />
<line x1="4345.0" y1="180.0" x2="4357.0" y2="180.0" stroke="#fff" stroke-width="0.9" />
<line x1="4315.0" y1="185.0" x2="4328.0" y2="185.0" stroke="#fff" stroke-width="0.9" />
<line x1="4345.0" y1="185.0" x2="4357.0" y2="185.0" stroke="#fff" stroke-width="0.9" />
<line x1="4315.0" y1="190.0" x2="4328.0" y2="190.0" stroke="#fff" stroke-width="0.9" />
<line x1="4345.0" y1="190.0" x2="4357.0" y2="190.0" stroke="#fff" stroke-width="0.9" />
<line x1="4315.0" y1="195.0" x2="4328.0" y2="195.0" stroke="#fff" stroke-width="0.9" />
<line x1="4345.0" y1="195.0" x2="4357.0" y2="195.0" stroke="#fff" stroke-width="0.9" />
<rect x="4361.8" y="86.6" width="21.4" height="142.4" fill="#2176bf"/>
<path d="M4362.5,87 Q4368,72 4374.3,70.1 Q4380.5,72 4383,87 Z" fill="#2176bf"/>
<line x1="4374.3" y1="52.8" x2="4374.3" y2="70.0" stroke="#555" stroke-width="1" />
<line x1="4364.0" y1="95.0" x2="4371.0" y2="95.0" stroke="#fff" stroke-width="0.9" />
<line x1="4364.0" y1="100.0" x2="4371.0" y2="100.0" stroke="#fff" stroke-width="0.9" />
<line x1="4364.0" y1="105.0" x2="4371.0" y2="105.0" stroke="#fff" stroke-width="0.9" />
<line x1="4364.0" y1="110.0" x2="4371.0" y2="110.0" stroke="#fff" stroke-width="0.9" />
<line x1="4364.0" y1="115.0" x2="4371.0" y2="115.0" stroke="#fff" stroke-width="0.9" />
<line x1="4364.0" y1="120.0" x2="4371.0" y2="120.0" stroke="#fff" stroke-width="0.9" />
<line x1="4364.0" y1="125.0" x2="4371.0" y2="125.0" stroke="#fff" stroke-width="0.9" />
<line x1="4364.0" y1="130.0" x2="4371.0" y2="130.0" stroke="#fff" stroke-width="0.9" />
<line x1="4364.0" y1="135.0" x2="4371.0" y2="135.0" stroke="#fff" stroke-width="0.9" />
<line x1="4364.0" y1="140.0" x2="4371.0" y2="140.0" stroke="#fff" stroke-width="0.9" />
<line x1="4364.0" y1="145.0" x2="4371.0" y2="145.0" stroke="#fff" stroke-width="0.9" />
<line x1="4364.0" y1="150.0" x2="4371.0" y2="150.0" stroke="#fff" stroke-width="0.9" />
<line x1="4364.0" y1="155.0" x2="4371.0" y2="155.0" stroke="#fff" stroke-width="0.9" />
<line x1="4364.0" y1="160.0" x2="4371.0" y2="160.0" stroke="#fff" stroke-width="0.9" />
<line x1="4364.0" y1="165.0" x2="4371.0" y2="165.0" stroke="#fff" stroke-width="0.9" />
<line x1="4364.0" y1="170.0" x2="4371.0" y2="170.0" stroke="#fff" stroke-width="0.9" />
<line x1="4364.0" y1="175.0" x2="4371.0" y2="175.0" stroke="#fff" stroke-width="0.9" />
<line x1="4364.0" y1="180.0" x2="4371.0" y2="180.0" stroke="#fff" stroke-width="0.9" />
<line x1="4364.0" y1="185.0" x2="4371.0" y2="185.0" stroke="#fff" stroke-width="0.9" />
<line x1="4364.0" y1="190.0" x2="4371.0" y2="190.0" stroke="#fff" stroke-width="0.9" />
<line x1="4364.0" y1="195.0" x2="4371.0" y2="195.0" stroke="#fff" stroke-width="0.9" />
<line x1="4377.0" y1="88.0" x2="4377.0" y2="200.0" stroke="#fff" stroke-width="0.9" />
<path d="M4384,229 L4384,145 L4404,142 L4407,150 L4407,229 Z" fill="#2176bf"/>
<rect x="4417.5" y="133.0" width="37.0" height="96.0" fill="#2176bf"/>
<rect x="4427.0" y="115.8" width="27.3" height="20.0" fill="#2176bf"/>
<line x1="4431.0" y1="120.0" x2="4431.0" y2="124.0" stroke="#fff" stroke-width="0.9" />
<line x1="4435.0" y1="120.0" x2="4435.0" y2="124.0" stroke="#fff" stroke-width="0.9" />
<line x1="4439.0" y1="120.0" x2="4439.0" y2="124.0" stroke="#fff" stroke-width="0.9" />
<line x1="4443.0" y1="120.0" x2="4443.0" y2="124.0" stroke="#fff" stroke-width="0.9" />
<line x1="4447.0" y1="120.0" x2="4447.0" y2="124.0" stroke="#fff" stroke-width="0.9" />
<line x1="4451.0" y1="120.0" x2="4451.0" y2="124.0" stroke="#fff" stroke-width="0.9" />
<line x1="4431.0" y1="128.0" x2="4431.0" y2="132.0" stroke="#fff" stroke-width="0.9" />
<line x1="4435.0" y1="128.0" x2="4435.0" y2="132.0" stroke="#fff" stroke-width="0.9" />
<line x1="4439.0" y1="128.0" x2="4439.0" y2="132.0" stroke="#fff" stroke-width="0.9" />
<line x1="4443.0" y1="128.0" x2="4443.0" y2="132.0" stroke="#fff" stroke-width="0.9" />
<line x1="4447.0" y1="128.0" x2="4447.0" y2="132.0" stroke="#fff" stroke-width="0.9" />
<line x1="4451.0" y1="128.0" x2="4451.0" y2="132.0" stroke="#fff" stroke-width="0.9" />
<line x1="4431.0" y1="136.0" x2="4431.0" y2="140.0" stroke="#fff" stroke-width="0.9" />
<line x1="4435.0" y1="136.0" x2="4435.0" y2="140.0" stroke="#fff" stroke-width="0.9" />
<line x1="4439.0" y1="136.0" x2="4439.0" y2="140.0" stroke="#fff" stroke-width="0.9" />
<line x1="4443.0" y1="136.0" x2="4443.0" y2="140.0" stroke="#fff" stroke-width="0.9" />
<line x1="4447.0" y1="136.0" x2="4447.0" y2="140.0" stroke="#fff" stroke-width="0.9" />
<line x1="4451.0" y1="136.0" x2="4451.0" y2="140.0" stroke="#fff" stroke-width="0.9" />
<line x1="4431.0" y1="144.0" x2="4431.0" y2="148.0" stroke="#fff" stroke-width="0.9" />
<line x1="4435.0" y1="144.0" x2="4435.0" y2="148.0" stroke="#fff" stroke-width="0.9" />
<line x1="4439.0" y1="144.0" x2="4439.0" y2="148.0" stroke="#fff" stroke-width="0.9" />
<line x1="4443.0" y1="144.0" x2="4443.0" y2="148.0" stroke="#fff" stroke-width="0.9" />
<line x1="4447.0" y1="144.0" x2="4447.0" y2="148.0" stroke="#fff" stroke-width="0.9" />
<line x1="4451.0" y1="144.0" x2="4451.0" y2="148.0" stroke="#fff" stroke-width="0.9" />
<line x1="4431.0" y1="152.0" x2="4431.0" y2="156.0" stroke="#fff" stroke-width="0.9" />
<line x1="4435.0" y1="152.0" x2="4435.0" y2="156.0" stroke="#fff" stroke-width="0.9" />
<line x1="4439.0" y1="152.0" x2="4439.0" y2="156.0" stroke="#fff" stroke-width="0.9" />
<line x1="4443.0" y1="152.0" x2="4443.0" y2="156.0" stroke="#fff" stroke-width="0.9" />
<line x1="4447.0" y1="152.0" x2="4447.0" y2="156.0" stroke="#fff" stroke-width="0.9" />
<line x1="4451.0" y1="152.0" x2="4451.0" y2="156.0" stroke="#fff" stroke-width="0.9" />
<line x1="4431.0" y1="160.0" x2="4431.0" y2="164.0" stroke="#fff" stroke-width="0.9" />
<line x1="4435.0" y1="160.0" x2="4435.0" y2="164.0" stroke="#fff" stroke-width="0.9" />
<line x1="4439.0" y1="160.0" x2="4439.0" y2="164.0" stroke="#fff" stroke-width="0.9" />
<line x1="4443.0" y1="160.0" x2="4443.0" y2="164.0" stroke="#fff" stroke-width="0.9" />
<line x1="4447.0" y1="160.0" x2="4447.0" y2="164.0" stroke="#fff" stroke-width="0.9" />
<line x1="4451.0" y1="160.0" x2="4451.0" y2="164.0" stroke="#fff" stroke-width="0.9" />
<rect x="4470.4" y="98.4" width="44.0" height="130.6" fill="#2176bf"/>
<rect x="4478.6" y="89.3" width="36.0" height="10.0" fill="#2176bf"/>
<rect x="4488.0" y="82.9" width="15.0" height="8.0" fill="#2176bf"/>
<path d="M4503,88 L4514,97 L4514,110 L4503,110 Z" fill="#2176bf"/>
<line x1="4474.0" y1="110.0" x2="4484.0" y2="110.0" stroke="#fff" stroke-width="0.9" />
<line x1="4497.0" y1="110.0" x2="4510.0" y2="110.0" stroke="#fff" stroke-width="0.9" />
<line x1="4474.0" y1="115.0" x2="4484.0" y2="115.0" stroke="#fff" stroke-width="0.9" />
<line x1="4497.0" y1="115.0" x2="4510.0" y2="115.0" stroke="#fff" stroke-width="0.9" />
<line x1="4474.0" y1="120.0" x2="4484.0" y2="120.0" stroke="#fff" stroke-width="0.9" />
<line x1="4497.0" y1="120.0" x2="4510.0" y2="120.0" stroke="#fff" stroke-width="0.9" />
<line x1="4474.0" y1="125.0" x2="4484.0" y2="125.0" stroke="#fff" stroke-width="0.9" />
<line x1="4497.0" y1="125.0" x2="4510.0" y2="125.0" stroke="#fff" stroke-width="0.9" />
<line x1="4474.0" y1="130.0" x2="4484.0" y2="130.0" stroke="#fff" stroke-width="0.9" />
<line x1="4497.0" y1="130.0" x2="4510.0" y2="130.0" stroke="#fff" stroke-width="0.9" />
<line x1="4474.0" y1="135.0" x2="4484.0" y2="135.0" stroke="#fff" stroke-width="0.9" />
<line x1="4497.0" y1="135.0" x2="4510.0" y2="135.0" stroke="#fff" stroke-width="0.9" />
<line x1="4474.0" y1="140.0" x2="4484.0" y2="140.0" stroke="#fff" stroke-width="0.9" />
<line x1="4497.0" y1="140.0" x2="4510.0" y2="140.0" stroke="#fff" stroke-width="0.9" />
<line x1="4474.0" y1="145.0" x2="4484.0" y2="145.0" stroke="#fff" stroke-width="0.9" />
<line x1="4497.0" y1="145.0" x2="4510.0" y2="145.0" stroke="#fff" stroke-width="0.9" />
<line x1="4474.0" y1="150.0" x2="4484.0" y2="150.0" stroke="#fff" stroke-width="0.9" />
<line x1="4497.0" y1="150.0" x2="4510.0" y2="150.0" stroke="#fff" stroke-width="0.9" />
<line x1="4474.0" y1="155.0" x2="4484.0" y2="155.0" stroke="#fff" stroke-width="0.9" />
<line x1="4497.0" y1="155.0" x2="4510.0" y2="155.0" stroke="#fff" stroke-width="0.9" />
<line x1="4474.0" y1="160.0" x2="4484.0" y2="160.0" stroke="#fff" stroke-width="0.9" />
<line x1="4497.0" y1="160.0" x2="4510.0" y2="160.0" stroke="#fff" stroke-width="0.9" />
<line x1="4474.0" y1="165.0" x2="4484.0" y2="165.0" stroke="#fff" stroke-width="0.9" />
<line x1="4497.0" y1="165.0" x2="4510.0" y2="165.0" stroke="#fff" stroke-width="0.9" />
<line x1="4474.0" y1="170.0" x2="4484.0" y2="170.0" stroke="#fff" stroke-width="0.9" />
<line x1="4497.0" y1="170.0" x2="4510.0" y2="170.0" stroke="#fff" stroke-width="0.9" />
<line x1="4474.0" y1="175.0" x2="4484.0" y2="175.0" stroke="#fff" stroke-width="0.9" />
<line x1="4497.0" y1="175.0" x2="4510.0" y2="175.0" stroke="#fff" stroke-width="0.9" />
<line x1="4474.0" y1="180.0" x2="4484.0" y2="180.0" stroke="#fff" stroke-width="0.9" />
<line x1="4497.0" y1="180.0" x2="4510.0" y2="180.0" stroke="#fff" stroke-width="0.9" />
<line x1="4474.0" y1="185.0" x2="4484.0" y2="185.0" stroke="#fff" stroke-width="0.9" />
<line x1="4497.0" y1="185.0" x2="4510.0" y2="185.0" stroke="#fff" stroke-width="0.9" />
<line x1="4474.0" y1="190.0" x2="4484.0" y2="190.0" stroke="#fff" stroke-width="0.9" />
<line x1="4497.0" y1="190.0" x2="4510.0" y2="190.0" stroke="#fff" stroke-width="0.9" />
<line x1="4474.0" y1="195.0" x2="4484.0" y2="195.0" stroke="#fff" stroke-width="0.9" />
<line x1="4497.0" y1="195.0" x2="4510.0" y2="195.0" stroke="#fff" stroke-width="0.9" />
<line x1="4490.0" y1="90.0" x2="4490.0" y2="225.0" stroke="#fff" stroke-width="0.9" />
<rect x="4506.0" y="117.0" width="46.5" height="112.0" fill="#2176bf" rx="2"/>
<line x1="4508.0" y1="125.0" x2="4550.0" y2="125.0" stroke="#fff" stroke-width="0.9" />
<line x1="4510.0" y1="128.0" x2="4510.0" y2="134.0" stroke="#fff" stroke-width="0.8" />
<line x1="4515.0" y1="128.0" x2="4515.0" y2="134.0" stroke="#fff" stroke-width="0.8" />
<line x1="4520.0" y1="128.0" x2="4520.0" y2="134.0" stroke="#fff" stroke-width="0.8" />
<line x1="4525.0" y1="128.0" x2="4525.0" y2="134.0" stroke="#fff" stroke-width="0.8" />
<line x1="4530.0" y1="128.0" x2="4530.0" y2="134.0" stroke="#fff" stroke-width="0.8" />
<line x1="4535.0" y1="128.0" x2="4535.0" y2="134.0" stroke="#fff" stroke-width="0.8" />
<line x1="4540.0" y1="128.0" x2="4540.0" y2="134.0" stroke="#fff" stroke-width="0.8" />
<line x1="4545.0" y1="128.0" x2="4545.0" y2="134.0" stroke="#fff" stroke-width="0.8" />
<line x1="4508.0" y1="137.0" x2="4550.0" y2="137.0" stroke="#fff" stroke-width="0.9" />
<line x1="4510.0" y1="140.0" x2="4510.0" y2="146.0" stroke="#fff" stroke-width="0.8" />
<line x1="4515.0" y1="140.0" x2="4515.0" y2="146.0" stroke="#fff" stroke-width="0.8" />
<line x1="4520.0" y1="140.0" x2="4520.0" y2="146.0" stroke="#fff" stroke-width="0.8" />
<line x1="4525.0" y1="140.0" x2="4525.0" y2="146.0" stroke="#fff" stroke-width="0.8" />
<line x1="4530.0" y1="140.0" x2="4530.0" y2="146.0" stroke="#fff" stroke-width="0.8" />
<line x1="4535.0" y1="140.0" x2="4535.0" y2="146.0" stroke="#fff" stroke-width="0.8" />
<line x1="4540.0" y1="140.0" x2="4540.0" y2="146.0" stroke="#fff" stroke-width="0.8" />
<line x1="4545.0" y1="140.0" x2="4545.0" y2="146.0" stroke="#fff" stroke-width="0.8" />
<line x1="4508.0" y1="149.0" x2="4550.0" y2="149.0" stroke="#fff" stroke-width="0.9" />
<line x1="4510.0" y1="152.0" x2="4510.0" y2="158.0" stroke="#fff" stroke-width="0.8" />
<line x1="4515.0" y1="152.0" x2="4515.0" y2="158.0" stroke="#fff" stroke-width="0.8" />
<line x1="4520.0" y1="152.0" x2="4520.0" y2="158.0" stroke="#fff" stroke-width="0.8" />
<line x1="4525.0" y1="152.0" x2="4525.0" y2="158.0" stroke="#fff" stroke-width="0.8" />
<line x1="4530.0" y1="152.0" x2="4530.0" y2="158.0" stroke="#fff" stroke-width="0.8" />
<line x1="4535.0" y1="152.0" x2="4535.0" y2="158.0" stroke="#fff" stroke-width="0.8" />
<line x1="4540.0" y1="152.0" x2="4540.0" y2="158.0" stroke="#fff" stroke-width="0.8" />
<line x1="4545.0" y1="152.0" x2="4545.0" y2="158.0" stroke="#fff" stroke-width="0.8" />
<line x1="4508.0" y1="161.0" x2="4550.0" y2="161.0" stroke="#fff" stroke-width="0.9" />
<line x1="4510.0" y1="164.0" x2="4510.0" y2="170.0" stroke="#fff" stroke-width="0.8" />
<line x1="4515.0" y1="164.0" x2="4515.0" y2="170.0" stroke="#fff" stroke-width="0.8" />
<line x1="4520.0" y1="164.0" x2="4520.0" y2="170.0" stroke="#fff" stroke-width="0.8" />
<line x1="4525.0" y1="164.0" x2="4525.0" y2="170.0" stroke="#fff" stroke-width="0.8" />
<line x1="4530.0" y1="164.0" x2="4530.0" y2="170.0" stroke="#fff" stroke-width="0.8" />
<line x1="4535.0" y1="164.0" x2="4535.0" y2="170.0" stroke="#fff" stroke-width="0.8" />
<line x1="4540.0" y1="164.0" x2="4540.0" y2="170.0" stroke="#fff" stroke-width="0.8" />
<line x1="4545.0" y1="164.0" x2="4545.0" y2="170.0" stroke="#fff" stroke-width="0.8" />
<line x1="4508.0" y1="173.0" x2="4550.0" y2="173.0" stroke="#fff" stroke-width="0.9" />
<line x1="4510.0" y1="176.0" x2="4510.0" y2="182.0" stroke="#fff" stroke-width="0.8" />
<line x1="4515.0" y1="176.0" x2="4515.0" y2="182.0" stroke="#fff" stroke-width="0.8" />
<line x1="4520.0" y1="176.0" x2="4520.0" y2="182.0" stroke="#fff" stroke-width="0.8" />
<line x1="4525.0" y1="176.0" x2="4525.0" y2="182.0" stroke="#fff" stroke-width="0.8" />
<line x1="4530.0" y1="176.0" x2="4530.0" y2="182.0" stroke="#fff" stroke-width="0.8" />
<line x1="4535.0" y1="176.0" x2="4535.0" y2="182.0" stroke="#fff" stroke-width="0.8" />
<line x1="4540.0" y1="176.0" x2="4540.0" y2="182.0" stroke="#fff" stroke-width="0.8" />
<line x1="4545.0" y1="176.0" x2="4545.0" y2="182.0" stroke="#fff" stroke-width="0.8" />
<line x1="4508.0" y1="185.0" x2="4550.0" y2="185.0" stroke="#fff" stroke-width="0.9" />
<line x1="4510.0" y1="188.0" x2="4510.0" y2="194.0" stroke="#fff" stroke-width="0.8" />
<line x1="4515.0" y1="188.0" x2="4515.0" y2="194.0" stroke="#fff" stroke-width="0.8" />
<line x1="4520.0" y1="188.0" x2="4520.0" y2="194.0" stroke="#fff" stroke-width="0.8" />
<line x1="4525.0" y1="188.0" x2="4525.0" y2="194.0" stroke="#fff" stroke-width="0.8" />
<line x1="4530.0" y1="188.0" x2="4530.0" y2="194.0" stroke="#fff" stroke-width="0.8" />
<line x1="4535.0" y1="188.0" x2="4535.0" y2="194.0" stroke="#fff" stroke-width="0.8" />
<line x1="4540.0" y1="188.0" x2="4540.0" y2="194.0" stroke="#fff" stroke-width="0.8" />
<line x1="4545.0" y1="188.0" x2="4545.0" y2="194.0" stroke="#fff" stroke-width="0.8" />
<line x1="4508.0" y1="197.0" x2="4550.0" y2="197.0" stroke="#fff" stroke-width="0.9" />
<line x1="4510.0" y1="200.0" x2="4510.0" y2="206.0" stroke="#fff" stroke-width="0.8" />
<line x1="4515.0" y1="200.0" x2="4515.0" y2="206.0" stroke="#fff" stroke-width="0.8" />
<line x1="4520.0" y1="200.0" x2="4520.0" y2="206.0" stroke="#fff" stroke-width="0.8" />
<line x1="4525.0" y1="200.0" x2="4525.0" y2="206.0" stroke="#fff" stroke-width="0.8" />
<line x1="4530.0" y1="200.0" x2="4530.0" y2="206.0" stroke="#fff" stroke-width="0.8" />
<line x1="4535.0" y1="200.0" x2="4535.0" y2="206.0" stroke="#fff" stroke-width="0.8" />
<line x1="4540.0" y1="200.0" x2="4540.0" y2="206.0" stroke="#fff" stroke-width="0.8" />
<line x1="4545.0" y1="200.0" x2="4545.0" y2="206.0" stroke="#fff" stroke-width="0.8" />
<line x1="4508.0" y1="209.0" x2="4550.0" y2="209.0" stroke="#fff" stroke-width="0.9" />
<line x1="4510.0" y1="212.0" x2="4510.0" y2="218.0" stroke="#fff" stroke-width="0.8" />
<line x1="4515.0" y1="212.0" x2="4515.0" y2="218.0" stroke="#fff" stroke-width="0.8" />
<line x1="4520.0" y1="212.0" x2="4520.0" y2="218.0" stroke="#fff" stroke-width="0.8" />
<line x1="4525.0" y1="212.0" x2="4525.0" y2="218.0" stroke="#fff" stroke-width="0.8" />
<line x1="4530.0" y1="212.0" x2="4530.0" y2="218.0" stroke="#fff" stroke-width="0.8" />
<line x1="4535.0" y1="212.0" x2="4535.0" y2="218.0" stroke="#fff" stroke-width="0.8" />
<line x1="4540.0" y1="212.0" x2="4540.0" y2="218.0" stroke="#fff" stroke-width="0.8" />
<line x1="4545.0" y1="212.0" x2="4545.0" y2="218.0" stroke="#fff" stroke-width="0.8" />
<line x1="4508.0" y1="221.0" x2="4550.0" y2="221.0" stroke="#fff" stroke-width="0.9" />
<line x1="4510.0" y1="224.0" x2="4510.0" y2="230.0" stroke="#fff" stroke-width="0.8" />
<line x1="4515.0" y1="224.0" x2="4515.0" y2="230.0" stroke="#fff" stroke-width="0.8" />
<line x1="4520.0" y1="224.0" x2="4520.0" y2="230.0" stroke="#fff" stroke-width="0.8" />
<line x1="4525.0" y1="224.0" x2="4525.0" y2="230.0" stroke="#fff" stroke-width="0.8" />
<line x1="4530.0" y1="224.0" x2="4530.0" y2="230.0" stroke="#fff" stroke-width="0.8" />
<line x1="4535.0" y1="224.0" x2="4535.0" y2="230.0" stroke="#fff" stroke-width="0.8" />
<line x1="4540.0" y1="224.0" x2="4540.0" y2="230.0" stroke="#fff" stroke-width="0.8" />
<line x1="4545.0" y1="224.0" x2="4545.0" y2="230.0" stroke="#fff" stroke-width="0.8" />
<line x1="4506.0" y1="121.0" x2="4552.5" y2="121.0" stroke="#fff" stroke-width="0.9" />
<circle cx="4413.0" cy="181.4" r="31.0" fill="#2176bf"/>
<circle cx="4413.0" cy="181.4" r="31.0" fill="none" stroke="#fff" stroke-width="0.9"/>
<path d="M4393,168 L4398,160 L4403,168" fill="none" stroke="#fff" stroke-width="0.9"/>
<path d="M4403,168 L4408,160 L4413,168" fill="none" stroke="#fff" stroke-width="0.9"/>
<path d="M4413,168 L4418,160 L4423,168" fill="none" stroke="#fff" stroke-width="0.9"/>
<path d="M4423,168 L4428,160 L4433,168" fill="none" stroke="#fff" stroke-width="0.9"/>
<path d="M4383,180 L4388,172 L4393,180" fill="none" stroke="#fff" stroke-width="0.9"/>
<path d="M4393,180 L4398,172 L4403,180" fill="none" stroke="#fff" stroke-width="0.9"/>
<path d="M4403,180 L4408,172 L4413,180" fill="none" stroke="#fff" stroke-width="0.9"/>
<path d="M4413,180 L4418,172 L4423,180" fill="none" stroke="#fff" stroke-width="0.9"/>
<path d="M4423,180 L4428,172 L4433,180" fill="none" stroke="#fff" stroke-width="0.9"/>
<path d="M4433,180 L4438,172 L4443,180" fill="none" stroke="#fff" stroke-width="0.9"/>
<path d="M4383,192 L4388,184 L4393,192" fill="none" stroke="#fff" stroke-width="0.9"/>
<path d="M4393,192 L4398,184 L4403,192" fill="none" stroke="#fff" stroke-width="0.9"/>
<path d="M4403,192 L4408,184 L4413,192" fill="none" stroke="#fff" stroke-width="0.9"/>
<path d="M4413,192 L4418,184 L4423,192" fill="none" stroke="#fff" stroke-width="0.9"/>
<path d="M4423,192 L4428,184 L4433,192" fill="none" stroke="#fff" stroke-width="0.9"/>
<path d="M4433,192 L4438,184 L4443,192" fill="none" stroke="#fff" stroke-width="0.9"/>
<path d="M4388,204 L4393,196 L4398,204" fill="none" stroke="#fff" stroke-width="0.9"/>
<path d="M4398,204 L4403,196 L4408,204" fill="none" stroke="#fff" stroke-width="0.9"/>
<path d="M4408,204 L4413,196 L4418,204" fill="none" stroke="#fff" stroke-width="0.9"/>
<path d="M4418,204 L4423,196 L4428,204" fill="none" stroke="#fff" stroke-width="0.9"/>
<path d="M4428,204 L4433,196 L4438,204" fill="none" stroke="#fff" stroke-width="0.9"/>
<rect x="4389.0" y="205.0" width="48.0" height="24.0" fill="#2176bf"/>
<line x1="4389.0" y1="212.0" x2="4437.0" y2="212.0" stroke="#fff" stroke-width="0.9" />
<path d="M4433,229 L4461,163 L4474,163 L4506,229 Z" fill="#2176bf"/>
<path d="M4440,229 L4466,165 L4478,229 M4462,229 L4476,170 L4500,229" fill="none" stroke="#fff" stroke-width="0.9"/>
<path d="M4177,229 L4177,185 Q4210,180 4240,200 L4252,229 Z" fill="#2176bf"/>
<path d="M4187,199 L4197,184 L4206,197 L4214,184 L4222,199 L4230,186 L4240,199" fill="none" stroke="#fff" stroke-width="0.9"/>
<path d="M4190,229 Q4195,200 4215,200 Q4235,200 4240,214 L4262,214 L4262,229 Z" fill="#2176bf"/>
<path d="M4190,218 L4262,218 M4190,224 L4262,224 M4222,215 Q4230,202 4242,206" fill="none" stroke="#fff" stroke-width="0.9"/>
<path d="M4254,229 L4254,205 L4283,190 L4285,184 L4302,184 L4304,190 L4334,205 L4334,229 Z" fill="#2176bf"/>
<path d="M4254,205 L4334,205 M4254,210 L4334,210" fill="none" stroke="#fff" stroke-width="0.9"/>
<line x1="4270.0" y1="205.0" x2="4270.0" y2="210.0" stroke="#fff" stroke-width="0.8" />
<line x1="4274.0" y1="205.0" x2="4274.0" y2="210.0" stroke="#fff" stroke-width="0.8" />
<line x1="4278.0" y1="205.0" x2="4278.0" y2="210.0" stroke="#fff" stroke-width="0.8" />
<line x1="4282.0" y1="205.0" x2="4282.0" y2="210.0" stroke="#fff" stroke-width="0.8" />
<line x1="4286.0" y1="205.0" x2="4286.0" y2="210.0" stroke="#fff" stroke-width="0.8" />
<line x1="4290.0" y1="205.0" x2="4290.0" y2="210.0" stroke="#fff" stroke-width="0.8" />
<line x1="4294.0" y1="205.0" x2="4294.0" y2="210.0" stroke="#fff" stroke-width="0.8" />
<line x1="4298.0" y1="205.0" x2="4298.0" y2="210.0" stroke="#fff" stroke-width="0.8" />
<line x1="4302.0" y1="205.0" x2="4302.0" y2="210.0" stroke="#fff" stroke-width="0.8" />
<line x1="4306.0" y1="205.0" x2="4306.0" y2="210.0" stroke="#fff" stroke-width="0.8" />
<line x1="4310.0" y1="205.0" x2="4310.0" y2="210.0" stroke="#fff" stroke-width="0.8" />
<line x1="4314.0" y1="205.0" x2="4314.0" y2="210.0" stroke="#fff" stroke-width="0.8" />
<line x1="4318.0" y1="205.0" x2="4318.0" y2="210.0" stroke="#fff" stroke-width="0.8" />
<path d="M4334,229 L4334,200 L4345,196 L4360,200 L4375,196 L4384,198 L4384,229 Z" fill="#2176bf"/>
<path d="M4340,229 Q4352,215 4360,200 M4362,229 Q4372,212 4380,200" fill="none" stroke="#fff" stroke-width="0.9"/>
<path d="M4125,229 L4125,185 L4134,183 L4134,229 Z" fill="#2176bf"/>
<line x1="4136.5" y1="150.0" x2="4136.5" y2="228.0" stroke="#fff" stroke-width="0.9" />
<line x1="4176.6" y1="150.0" x2="4176.6" y2="228.0" stroke="#fff" stroke-width="0.9" />
<line x1="4198.0" y1="150.0" x2="4198.0" y2="228.0" stroke="#fff" stroke-width="0.9" />
<line x1="4247.6" y1="150.0" x2="4247.6" y2="228.0" stroke="#fff" stroke-width="0.9" />
<line x1="4253.0" y1="150.0" x2="4253.0" y2="228.0" stroke="#fff" stroke-width="0.9" />
<line x1="4299.0" y1="150.0" x2="4299.0" y2="228.0" stroke="#fff" stroke-width="0.9" />
<line x1="4312.6" y1="150.0" x2="4312.6" y2="228.0" stroke="#fff" stroke-width="0.9" />
<line x1="4361.4" y1="150.0" x2="4361.4" y2="228.0" stroke="#fff" stroke-width="0.9" />
<line x1="4383.6" y1="150.0" x2="4383.6" y2="228.0" stroke="#fff" stroke-width="0.9" />
<line x1="4417.5" y1="150.0" x2="4417.5" y2="228.0" stroke="#fff" stroke-width="0.9" />
<line x1="4470.4" y1="150.0" x2="4470.4" y2="228.0" stroke="#fff" stroke-width="0.9" />
<line x1="4506.0" y1="150.0" x2="4506.0" y2="228.0" stroke="#fff" stroke-width="0.9" />
<line x1="4098.0" y1="229.5" x2="4552.0" y2="229.5" stroke="#fff" stroke-width="1" />
<rect x="100.5" y="390.5" width="1290.0" height="677.0" rx="25" ry="25" fill="none" stroke="#000" stroke-width="3"/>
<rect x="144" y="386.5" width="341" height="8" fill="#fff"/>
<text x="150.5" y="408.6" font-size="58.7" class="s b" textLength="329.0" lengthAdjust="spacingAndGlyphs" fill="#1b3668">Introduction</text>
<rect x="100.5" y="1126.5" width="1290.0" height="1111.8000000000002" rx="46" ry="46" fill="none" stroke="#000" stroke-width="3"/>
<rect x="144" y="1122.5" width="312" height="8" fill="#fff"/>
<text x="155.4" y="1145.3" font-size="58.7" class="s b" textLength="289.0" lengthAdjust="spacingAndGlyphs" fill="#1b3668">Motivation</text>
<rect x="1430.5" y="390.5" width="1691.0" height="1847.8000000000002" rx="36" ry="36" fill="none" stroke="#000" stroke-width="3"/>
<rect x="1477" y="386.5" width="570" height="8" fill="#fff"/>
<text x="1482.5" y="407.5" font-size="58.7" class="s b" textLength="558.5" lengthAdjust="spacingAndGlyphs" fill="#1b3668">Problem Formulation</text>
<rect x="3169.5" y="390.5" width="1339.0" height="1347.0" rx="36" ry="36" fill="none" stroke="#000" stroke-width="3"/>
<rect x="3216" y="386.5" width="564" height="8" fill="#fff"/>
<text x="3222.0" y="409.5" font-size="58.7" class="s b" textLength="551.0" lengthAdjust="spacingAndGlyphs" fill="#1b3668">Experimental Results</text>
<rect x="3169.5" y="1792.5" width="1339.0" height="445.8000000000002" rx="53" ry="53" fill="none" stroke="#000" stroke-width="3"/>
<rect x="3217" y="1788.5" width="305" height="8" fill="#fff"/>
<text x="3226.6" y="1808.0" font-size="58.7" class="s b" textLength="285.0" lengthAdjust="spacingAndGlyphs" fill="#1b3668">Conclusion</text>
<text x="145.0" y="478.0" font-size="39.8" class="s b" textLength="708.0" lengthAdjust="spacingAndGlyphs">Visible-Infrared Person Re-identification</text>
<circle cx="169.3" cy="508.6" r="3.7" fill="#000"/>
<text x="201.5" y="518.4" font-size="27.9" class="s w" textLength="1118.5" lengthAdjust="spacingAndGlyphs">Most Surveillance systems deploy infrared images to achieve satisfactory results under</text>
<text x="201.5" y="556.0" font-size="27.9" class="s w" textLength="373.5" lengthAdjust="spacingAndGlyphs">poor illumination conditions.</text>
<circle cx="169.3" cy="912.4" r="3.7" fill="#000"/>
<text x="200.5" y="922.2" font-size="27.9" class="s w" textLength="1133.5" lengthAdjust="spacingAndGlyphs">Matching these infrared images to visible ones for ReID poses additional challenges due</text>
<text x="200.5" y="961.0" font-size="27.9" class="s w" textLength="386.5" lengthAdjust="spacingAndGlyphs">to an inter-modality variation.</text>
<circle cx="169.3" cy="989.4" r="3.7" fill="#000"/>
<text x="200.5" y="999.2" font-size="27.9" class="s w" textLength="1131.5" lengthAdjust="spacingAndGlyphs">Handling the large intra- and inter-modality variations between visible images and their</text>
<text x="200.5" y="1038.0" font-size="27.9" class="s w" textLength="813.5" lengthAdjust="spacingAndGlyphs">infrared counterparts by global or part-level feature alignment.</text>
<text x="709.7" y="691.7" font-size="20.9" class="s" textLength="57.6" lengthAdjust="spacingAndGlyphs">Visible</text>
<text x="703.5" y="868.6" font-size="20.9" class="s" textLength="71.2" lengthAdjust="spacingAndGlyphs">Infrared</text>
<text x="146.3" y="1222.4" font-size="39.8" class="s b" textLength="756.0" lengthAdjust="spacingAndGlyphs">Data Augmentation for Part-based VI Re-ID</text>
<circle cx="168.8" cy="1252.9" r="3.7" fill="#000"/>
<text x="202.0" y="1262.7" font-size="27.9" class="s w" textLength="1149.0" lengthAdjust="spacingAndGlyphs">Data augmentation has been widely explored in various computer vision tasks to prevent</text>
<text x="202.0" y="1301.6" font-size="27.9" class="s w" textLength="745.7" lengthAdjust="spacingAndGlyphs">deep neural network from overfitting to the training data.</text>
<circle cx="168.8" cy="1330.5" r="3.7" fill="#000"/>
<text x="202.0" y="1340.3" font-size="27.9" class="s w" textLength="1103.0" lengthAdjust="spacingAndGlyphs">Mixture-based methods, including global image mixture, e.g., MixUp, and local image</text>
<text x="202.0" y="1378.7" font-size="27.9" class="s w" textLength="786.8" lengthAdjust="spacingAndGlyphs">mixture, e.g., CutMix, are dominant regularization strategies.</text>
<circle cx="168.8" cy="1964.9" r="3.7" fill="#000"/>
<text x="201.0" y="1974.7" font-size="27.9" class="s w" textLength="1122.0" lengthAdjust="spacingAndGlyphs">Directly applying the global image mixture methods suffers from the locally ambiguous</text>
<text x="201.0" y="2012.7" font-size="27.9" class="s w" textLength="293.6" lengthAdjust="spacingAndGlyphs">and unnatural pattern.</text>
<circle cx="168.8" cy="2040.8" r="3.7" fill="#000"/>
<text x="201.0" y="2050.6" font-size="27.9" class="s w" textLength="1146.7" lengthAdjust="spacingAndGlyphs">Mixing the local image region without part annotation may contain only a background or</text>
<text x="201.0" y="2089.0" font-size="27.9" class="s w" textLength="240.5" lengthAdjust="spacingAndGlyphs">single human part.</text>
<circle cx="168.8" cy="2117.2" r="3.7" fill="#000"/>
<text x="201.0" y="2127.0" font-size="27.9" class="s w" textLength="1075.5" lengthAdjust="spacingAndGlyphs">Synthesizing the part-aware augmented samples by randomly mixing the inter- and</text>
<text x="201.0" y="2166.0" font-size="27.9" class="s w" textLength="1088.5" lengthAdjust="spacingAndGlyphs">intra-modality part descriptors to generate positive and negative samples within the</text>
<text x="201.0" y="2204.0" font-size="27.9" class="s w" textLength="469.4" lengthAdjust="spacingAndGlyphs">same and across different identities.</text>
<text x="255.0" y="1916.0" font-size="27.9" class="s b" textLength="86.0" lengthAdjust="spacingAndGlyphs">MixUp</text>
<text x="345.0" y="1916.0" font-size="27.9" class="s" textLength="56.0" lengthAdjust="spacingAndGlyphs">[69]</text>
<text x="671.5" y="1916.0" font-size="27.9" class="s b" textLength="95.0" lengthAdjust="spacingAndGlyphs">CutMix</text>
<text x="772.0" y="1916.0" font-size="27.9" class="s" textLength="52.0" lengthAdjust="spacingAndGlyphs">[68]</text>
<text x="1064.7" y="1916.0" font-size="27.9" class="s b" textLength="103.0" lengthAdjust="spacingAndGlyphs">PartMix</text>
<text x="1174.0" y="1916.0" font-size="27.9" class="s" textLength="82.7" lengthAdjust="spacingAndGlyphs">(Ours)</text>
<text x="1472.5" y="477.6" font-size="39.8" class="s b" textLength="405.5" lengthAdjust="spacingAndGlyphs">Network Configuration</text>
<text x="1472.5" y="1080.0" font-size="39.8" class="s b" textLength="234.5" lengthAdjust="spacingAndGlyphs">Preliminaries</text>
<text x="1472.5" y="1144.0" font-size="27.9" class="s w" textLength="293.5" lengthAdjust="spacingAndGlyphs">Visible Image  &amp; label :</text>
<text x="1472.5" y="1258.0" font-size="27.9" class="s w" textLength="311.5" lengthAdjust="spacingAndGlyphs">Infrared Image  &amp; label :</text>
<text x="2039.6" y="1143.7" font-size="27.9" class="s w" textLength="214.4" lengthAdjust="spacingAndGlyphs">Part Descriptors:</text>
<text x="2039.6" y="1259.2" font-size="27.9" class="s w" textLength="272.4" lengthAdjust="spacingAndGlyphs">Part Map Probability:</text>
<text x="2730.0" y="1144.0" font-size="27.9" class="s w" textLength="248.0" lengthAdjust="spacingAndGlyphs">Global Descriptors:</text>
<text x="2730.0" y="1253.6" font-size="27.9" class="s w" textLength="253.0" lengthAdjust="spacingAndGlyphs">Person Descriptors:</text>
<text x="1537.6" y="1191.0" font-size="34" class="r i" textLength="409.0" lengthAdjust="spacingAndGlyphs" xml:space="preserve"><tspan dy="0.0" font-size="34.0">X</tspan><tspan dy="-14.3" font-size="23.8">v</tspan><tspan dy="14.3" font-size="34.0"> = {x</tspan><tspan dy="7.5" font-size="23.8">i</tspan><tspan dy="-21.8" font-size="23.8">v</tspan><tspan dy="14.3" font-size="34.0" font-style="normal">}</tspan><tspan dy="7.5" font-size="23.8">i=1</tspan><tspan dy="-21.8" font-size="23.8">N</tspan><tspan dy="-10.0" font-size="16.7">v</tspan><tspan dy="24.3" font-size="34.0">  Y</tspan><tspan dy="-14.3" font-size="23.8">v</tspan><tspan dy="14.3" font-size="34.0"> = {y</tspan><tspan dy="7.5" font-size="23.8">i</tspan><tspan dy="-21.8" font-size="23.8">v</tspan><tspan dy="14.3" font-size="34.0" font-style="normal">}</tspan><tspan dy="7.5" font-size="23.8">i=1</tspan><tspan dy="-21.8" font-size="23.8">N</tspan><tspan dy="-10.0" font-size="16.7">v</tspan></text>
<text x="1537.6" y="1305.0" font-size="34" class="r i" textLength="409.0" lengthAdjust="spacingAndGlyphs" xml:space="preserve"><tspan dy="0.0" font-size="34.0">X</tspan><tspan dy="-14.3" font-size="23.8">r</tspan><tspan dy="14.3" font-size="34.0"> = {x</tspan><tspan dy="7.5" font-size="23.8">i</tspan><tspan dy="-21.8" font-size="23.8">r</tspan><tspan dy="14.3" font-size="34.0" font-style="normal">}</tspan><tspan dy="7.5" font-size="23.8">i=1</tspan><tspan dy="-21.8" font-size="23.8">N</tspan><tspan dy="-10.0" font-size="16.7">r</tspan><tspan dy="24.3" font-size="34.0">  Y</tspan><tspan dy="-14.3" font-size="23.8">r</tspan><tspan dy="14.3" font-size="34.0"> = {y</tspan><tspan dy="7.5" font-size="23.8">i</tspan><tspan dy="-21.8" font-size="23.8">r</tspan><tspan dy="14.3" font-size="34.0" font-style="normal">}</tspan><tspan dy="7.5" font-size="23.8">i=1</tspan><tspan dy="-21.8" font-size="23.8">N</tspan><tspan dy="-10.0" font-size="16.7">r</tspan></text>
<text x="2056.5" y="1191.8" font-size="34" class="r i" textLength="578.0" lengthAdjust="spacingAndGlyphs" xml:space="preserve"><tspan dy="0.0" font-size="34.0">p</tspan><tspan dy="-14.3" font-size="23.8">t</tspan><tspan dy="14.3" font-size="34.0"> = [p</tspan><tspan dy="-14.3" font-size="23.8">t</tspan><tspan dy="14.3" font-size="34.0">(k)]</tspan><tspan dy="7.5" font-size="23.8">k=1</tspan><tspan dy="-21.8" font-size="23.8">M</tspan><tspan dy="14.3" font-size="34.0" font-style="normal"> = [</tspan><tspan dy="0.0" font-size="34.0" font-style="normal">GAP</tspan><tspan dy="0.0" font-size="34.0">(m</tspan><tspan dy="-14.3" font-size="23.8">t</tspan><tspan dy="14.3" font-size="34.0">(k) ⊙ f</tspan><tspan dy="-14.3" font-size="23.8">t</tspan><tspan dy="14.3" font-size="34.0" font-style="normal">)]</tspan><tspan dy="7.5" font-size="23.8">k=1</tspan><tspan dy="-21.8" font-size="23.8">M</tspan></text>
<text x="2145.5" y="1307.4" font-size="34" class="r i" textLength="348.0" lengthAdjust="spacingAndGlyphs" xml:space="preserve"><tspan dy="0.0" font-size="34.0">{m</tspan><tspan dy="-14.3" font-size="23.8">t</tspan><tspan dy="14.3" font-size="34.0">(k)}</tspan><tspan dy="7.5" font-size="23.8">k=1</tspan><tspan dy="-21.8" font-size="23.8">M</tspan><tspan dy="14.3" font-size="34.0"> = σ(D(f</tspan><tspan dy="-14.3" font-size="23.8">t</tspan><tspan dy="14.3" font-size="34.0" font-style="normal">))</tspan></text>
<text x="2844.0" y="1188.0" font-size="34" class="r i" textLength="207.0" lengthAdjust="spacingAndGlyphs" xml:space="preserve"><tspan dy="0.0" font-size="34.0">g</tspan><tspan dy="-14.3" font-size="23.8">t</tspan><tspan dy="14.3" font-size="34.0" font-style="normal"> =</tspan><tspan dy="0.0" font-size="34.0" font-style="normal">GAP</tspan><tspan dy="0.0" font-size="34.0">(f</tspan><tspan dy="-14.3" font-size="23.8">t</tspan><tspan dy="14.3" font-size="34.0" font-style="normal">)</tspan></text>
<text x="2870.7" y="1297.0" font-size="34" class="r i" textLength="153.0" lengthAdjust="spacingAndGlyphs" xml:space="preserve"><tspan dy="0.0" font-size="34.0">d</tspan><tspan dy="-14.3" font-size="23.8">t</tspan><tspan dy="14.3" font-size="34.0"> = [g</tspan><tspan dy="-14.3" font-size="23.8">t</tspan><tspan dy="14.3" font-size="34.0">, p</tspan><tspan dy="-14.3" font-size="23.8">t</tspan><tspan dy="14.3" font-size="34.0" font-style="normal">]</tspan></text>
<line x1="1451.6" y1="1342.3" x2="3100.4" y2="1342.3" stroke="#333" stroke-width="1.5" stroke-dasharray="4 3"/>
<text x="1472.5" y="1392.7" font-size="39.8" class="s b" textLength="337.0" lengthAdjust="spacingAndGlyphs">Proposed Methods</text>
<text x="1472.5" y="1457.8" font-size="27.9" class="s w" textLength="654.1" lengthAdjust="spacingAndGlyphs">Intra-modality Part Mixing for Data Augmentation:</text>
<text x="1472.5" y="1634.0" font-size="27.9" class="s w" textLength="654.1" lengthAdjust="spacingAndGlyphs">Inter-modality Part Mixing for Data Augmentation:</text>
<text x="1472.5" y="1810.6" font-size="27.9" class="s w" textLength="546.5" lengthAdjust="spacingAndGlyphs">Difference between the pairwise entropy :</text>
<text x="2268.0" y="1457.8" font-size="27.9" class="s w" textLength="211.0" lengthAdjust="spacingAndGlyphs">Positive Sample:</text>
<text x="2268.0" y="1634.0" font-size="27.9" class="s w" textLength="224.6" lengthAdjust="spacingAndGlyphs">Negative Sample:</text>
<text x="2268.0" y="1810.6" font-size="27.9" class="s w" textLength="337.4" lengthAdjust="spacingAndGlyphs">Positive &amp; Negative Bank :</text>
<text x="1533.0" y="1500.0" font-size="34" class="r i" textLength="201.0" lengthAdjust="spacingAndGlyphs" xml:space="preserve"><tspan dy="0.0" font-size="34.0">A(p</tspan><tspan dy="7.5" font-size="23.8">i</tspan><tspan dy="-21.8" font-size="23.8">v</tspan><tspan dy="14.3" font-size="34.0">(u), p</tspan><tspan dy="7.5" font-size="23.8">j</tspan><tspan dy="-21.8" font-size="23.8">r</tspan><tspan dy="14.3" font-size="34.0">(h))</tspan></text>
<text x="1584.6" y="1550.5" font-size="34" class="r i" textLength="660.0" lengthAdjust="spacingAndGlyphs" xml:space="preserve"><tspan dy="0.0" font-size="34.0">= [p</tspan><tspan dy="7.5" font-size="23.8">i</tspan><tspan dy="-21.8" font-size="23.8">v</tspan><tspan dy="14.3" font-size="34.0">(1), ..., p</tspan><tspan dy="7.5" font-size="23.8">i</tspan><tspan dy="-21.8" font-size="23.8">v</tspan><tspan dy="14.3" font-size="34.0">(u − 1), p</tspan><tspan dy="7.5" font-size="23.8">j</tspan><tspan dy="-21.8" font-size="23.8">r</tspan><tspan dy="14.3" font-size="34.0">(h), p</tspan><tspan dy="7.5" font-size="23.8">i</tspan><tspan dy="-21.8" font-size="23.8">v</tspan><tspan dy="14.3" font-size="34.0">(u + 1), ..., p</tspan><tspan dy="7.5" font-size="23.8">i</tspan><tspan dy="-21.8" font-size="23.8">v</tspan><tspan dy="14.3" font-size="34.0">(M)],</tspan></text>
<text x="2340.0" y="1506.8" font-size="34" class="r i" textLength="729.0" lengthAdjust="spacingAndGlyphs" xml:space="preserve"><tspan dy="0.0" font-size="34.0">b</tspan><tspan dy="7.5" font-size="23.8">i</tspan><tspan dy="-21.8" font-size="23.8">+,v</tspan><tspan dy="14.3" font-size="34.0"> = [A(p</tspan><tspan dy="7.5" font-size="23.8">i</tspan><tspan dy="-21.8" font-size="23.8">v</tspan><tspan dy="14.3" font-size="34.0">(k), p</tspan><tspan dy="7.5" font-size="23.8">j</tspan><tspan dy="-21.8" font-size="23.8">r</tspan><tspan dy="14.3" font-size="34.0">(k)), A(p</tspan><tspan dy="7.5" font-size="23.8">i</tspan><tspan dy="-21.8" font-size="23.8">v</tspan><tspan dy="14.3" font-size="34.0">(k), p</tspan><tspan dy="7.5" font-size="23.8">j</tspan><tspan dy="-21.8" font-size="23.8">v</tspan><tspan dy="14.3" font-size="34.0">(k))],   </tspan><tspan dy="0.0" font-size="34.0" font-style="normal">if</tspan><tspan dy="0.0" font-size="34.0"> y</tspan><tspan dy="7.5" font-size="23.8">i</tspan><tspan dy="-7.5" font-size="34.0"> = y</tspan><tspan dy="7.5" font-size="23.8">j</tspan></text>
<text x="1524.0" y="1681.0" font-size="34" class="r i" textLength="198.0" lengthAdjust="spacingAndGlyphs" xml:space="preserve"><tspan dy="0.0" font-size="34.0">A(p</tspan><tspan dy="7.5" font-size="23.8">i</tspan><tspan dy="-21.8" font-size="23.8">t</tspan><tspan dy="14.3" font-size="34.0">(u), p</tspan><tspan dy="7.5" font-size="23.8">j</tspan><tspan dy="-21.8" font-size="23.8">t</tspan><tspan dy="14.3" font-size="34.0">(h))</tspan></text>
<text x="1574.5" y="1724.7" font-size="34" class="r i" textLength="648.0" lengthAdjust="spacingAndGlyphs" xml:space="preserve"><tspan dy="0.0" font-size="34.0">= [p</tspan><tspan dy="7.5" font-size="23.8">i</tspan><tspan dy="-21.8" font-size="23.8">t</tspan><tspan dy="14.3" font-size="34.0">(1), ..., p</tspan><tspan dy="7.5" font-size="23.8">i</tspan><tspan dy="-21.8" font-size="23.8">t</tspan><tspan dy="14.3" font-size="34.0">(u − 1), p</tspan><tspan dy="7.5" font-size="23.8">j</tspan><tspan dy="-21.8" font-size="23.8">t</tspan><tspan dy="14.3" font-size="34.0">(h), p</tspan><tspan dy="7.5" font-size="23.8">i</tspan><tspan dy="-21.8" font-size="23.8">t</tspan><tspan dy="14.3" font-size="34.0">(u + 1), ..., p</tspan><tspan dy="7.5" font-size="23.8">i</tspan><tspan dy="-21.8" font-size="23.8">t</tspan><tspan dy="14.3" font-size="34.0">(M)],</tspan></text>
<text x="2331.4" y="1701.0" font-size="34" class="r i" textLength="85.0" lengthAdjust="spacingAndGlyphs" xml:space="preserve"><tspan dy="0.0" font-size="34.0">b</tspan><tspan dy="7.5" font-size="23.8">i</tspan><tspan dy="-21.8" font-size="23.8">−,v</tspan><tspan dy="14.3" font-size="34.0" font-style="normal"> =</tspan></text>
<text x="2434.0" y="1726.0" font-size="80" class="r" textLength="20.0" lengthAdjust="spacingAndGlyphs">{</text>
<text x="2461.0" y="1681.0" font-size="34" class="r i" textLength="614.6" lengthAdjust="spacingAndGlyphs" xml:space="preserve"><tspan dy="0.0" font-size="34.0">[A(p</tspan><tspan dy="7.5" font-size="23.8">i</tspan><tspan dy="-21.8" font-size="23.8">v</tspan><tspan dy="14.3" font-size="34.0">(k), p</tspan><tspan dy="7.5" font-size="23.8">j</tspan><tspan dy="-21.8" font-size="23.8">r</tspan><tspan dy="14.3" font-size="34.0">(h)), A(p</tspan><tspan dy="7.5" font-size="23.8">i</tspan><tspan dy="-21.8" font-size="23.8">v</tspan><tspan dy="14.3" font-size="34.0">(k), p</tspan><tspan dy="7.5" font-size="23.8">j</tspan><tspan dy="-21.8" font-size="23.8">v</tspan><tspan dy="14.3" font-size="34.0">(h))],  </tspan><tspan dy="0.0" font-size="34.0" font-style="normal">if</tspan><tspan dy="0.0" font-size="34.0"> y</tspan><tspan dy="7.5" font-size="23.8">i</tspan><tspan dy="-7.5" font-size="34.0"> = y</tspan><tspan dy="7.5" font-size="23.8">j</tspan></text>
<text x="2461.0" y="1721.3" font-size="34" class="r i" textLength="614.6" lengthAdjust="spacingAndGlyphs" xml:space="preserve"><tspan dy="0.0" font-size="34.0">[A(p</tspan><tspan dy="7.5" font-size="23.8">i</tspan><tspan dy="-21.8" font-size="23.8">v</tspan><tspan dy="14.3" font-size="34.0">(k), p</tspan><tspan dy="7.5" font-size="23.8">j</tspan><tspan dy="-21.8" font-size="23.8">r</tspan><tspan dy="14.3" font-size="34.0">(k)), A(p</tspan><tspan dy="7.5" font-size="23.8">i</tspan><tspan dy="-21.8" font-size="23.8">v</tspan><tspan dy="14.3" font-size="34.0">(k), p</tspan><tspan dy="7.5" font-size="23.8">j</tspan><tspan dy="-21.8" font-size="23.8">v</tspan><tspan dy="14.3" font-size="34.0">(k))],  </tspan><tspan dy="0.0" font-size="34.0" font-style="normal">if</tspan><tspan dy="0.0" font-size="34.0"> y</tspan><tspan dy="7.5" font-size="23.8">i</tspan><tspan dy="-7.5" font-size="34.0"> ≠ y</tspan><tspan dy="7.5" font-size="23.8">j</tspan></text>
<text x="1618.0" y="1855.6" font-size="34" class="r i" textLength="541.0" lengthAdjust="spacingAndGlyphs" xml:space="preserve"><tspan dy="0.0" font-size="34.0">h</tspan><tspan dy="7.5" font-size="23.8">i</tspan><tspan dy="-21.8" font-size="23.8">+,v</tspan><tspan dy="14.3" font-size="34.0"> = [|H(C</tspan><tspan dy="7.5" font-size="23.8">p</tspan><tspan dy="-7.5" font-size="34.0">(p</tspan><tspan dy="7.5" font-size="23.8">i</tspan><tspan dy="-21.8" font-size="23.8">v</tspan><tspan dy="14.3" font-size="34.0">)) − H(C</tspan><tspan dy="7.5" font-size="23.8">p</tspan><tspan dy="-7.5" font-size="34.0">(b</tspan><tspan dy="7.5" font-size="23.8">i</tspan><tspan dy="-21.8" font-size="23.8">+,v</tspan><tspan dy="14.3" font-size="34.0">(j)))|]</tspan><tspan dy="7.5" font-size="23.8">j=1</tspan><tspan dy="-21.8" font-size="23.8">U</tspan><tspan dy="14.3" font-size="34.0" font-style="normal">,</tspan></text>
<text x="1618.0" y="1892.6" font-size="34" class="r i" textLength="541.0" lengthAdjust="spacingAndGlyphs" xml:space="preserve"><tspan dy="0.0" font-size="34.0">h</tspan><tspan dy="7.5" font-size="23.8">i</tspan><tspan dy="-21.8" font-size="23.8">−,v</tspan><tspan dy="14.3" font-size="34.0"> = [|H(C</tspan><tspan dy="7.5" font-size="23.8">p</tspan><tspan dy="-7.5" font-size="34.0">(p</tspan><tspan dy="7.5" font-size="23.8">i</tspan><tspan dy="-21.8" font-size="23.8">v</tspan><tspan dy="14.3" font-size="34.0">)) − H(C</tspan><tspan dy="7.5" font-size="23.8">p</tspan><tspan dy="-7.5" font-size="34.0">(b</tspan><tspan dy="7.5" font-size="23.8">i</tspan><tspan dy="-21.8" font-size="23.8">−,v</tspan><tspan dy="14.3" font-size="34.0">(j)))|]</tspan><tspan dy="7.5" font-size="23.8">j=1</tspan><tspan dy="-21.8" font-size="23.8">Q</tspan><tspan dy="14.3" font-size="34.0" font-style="normal">,</tspan></text>
<text x="2427.5" y="1855.6" font-size="34" class="r i" textLength="554.0" lengthAdjust="spacingAndGlyphs" xml:space="preserve"><tspan dy="0.0" font-size="34.0">B</tspan><tspan dy="7.5" font-size="23.8">i</tspan><tspan dy="-21.8" font-size="23.8">+,v</tspan><tspan dy="14.3" font-size="34.0"> = [b</tspan><tspan dy="7.5" font-size="23.8">i</tspan><tspan dy="-21.8" font-size="23.8">+,v</tspan><tspan dy="14.3" font-size="34.0">(j)]</tspan><tspan dy="7.5" font-size="23.8">j=1</tspan><tspan dy="-21.8" font-size="23.8">U′</tspan><tspan dy="14.3" font-size="34.0">    B</tspan><tspan dy="7.5" font-size="23.8">i</tspan><tspan dy="-21.8" font-size="23.8">−,v</tspan><tspan dy="14.3" font-size="34.0"> = [b</tspan><tspan dy="7.5" font-size="23.8">i</tspan><tspan dy="-21.8" font-size="23.8">−,v</tspan><tspan dy="14.3" font-size="34.0">(j)]</tspan><tspan dy="7.5" font-size="23.8">j=1</tspan><tspan dy="-21.8" font-size="23.8">Q′</tspan></text>
<line x1="1451.6" y1="1929.7" x2="3100.4" y2="1929.7" stroke="#333" stroke-width="1.5" stroke-dasharray="4 3"/>
<text x="1472.5" y="1985.0" font-size="39.8" class="s b" textLength="256.5" lengthAdjust="spacingAndGlyphs">Loss Functions</text>
<text x="1472.5" y="2049.6" font-size="27.9" class="s w" textLength="123.5" lengthAdjust="spacingAndGlyphs">Total Loss</text>
<text x="2048.0" y="2049.6" font-size="27.9" class="s w" textLength="399.6" lengthAdjust="spacingAndGlyphs">Contrastive Regularization  Loss</text>
<text x="2644.4" y="2049.6" font-size="27.9" class="s w" textLength="149.1" lengthAdjust="spacingAndGlyphs">Part ID Loss</text>
<text x="1504.0" y="2102.7" font-size="34" class="r i" textLength="477.0" lengthAdjust="spacingAndGlyphs" xml:space="preserve"><tspan dy="0.0" font-size="34.0">L = L</tspan><tspan dy="7.5" font-size="23.8" font-style="normal">id</tspan><tspan dy="-7.5" font-size="34.0"> + L</tspan><tspan dy="7.5" font-size="23.8" font-style="normal">cc</tspan><tspan dy="-7.5" font-size="34.0"> + λ</tspan><tspan dy="7.5" font-size="23.8" font-style="normal">sid</tspan><tspan dy="-7.5" font-size="34.0">L</tspan><tspan dy="7.5" font-size="23.8" font-style="normal">sid</tspan><tspan dy="-7.5" font-size="34.0"> + λ</tspan><tspan dy="7.5" font-size="23.8" font-style="normal">ML</tspan><tspan dy="-7.5" font-size="34.0">L</tspan><tspan dy="7.5" font-size="23.8" font-style="normal">ML</tspan></text>
<text x="1559.0" y="2158.4" font-size="34" class="r i" textLength="460.0" lengthAdjust="spacingAndGlyphs" xml:space="preserve"><tspan dy="0.0" font-size="34.0">+ λ</tspan><tspan dy="7.5" font-size="23.8" font-style="normal">ML</tspan><tspan dy="-7.5" font-size="34.0">L</tspan><tspan dy="7.5" font-size="23.8" font-style="normal">ML</tspan><tspan dy="-7.5" font-size="34.0"> + λ</tspan><tspan dy="7.5" font-size="23.8" font-style="normal">aid</tspan><tspan dy="-7.5" font-size="34.0">L</tspan><tspan dy="7.5" font-size="23.8" font-style="normal">aid</tspan><tspan dy="-7.5" font-size="34.0"> + λ</tspan><tspan dy="7.5" font-size="23.8" font-style="normal">cont</tspan><tspan dy="-7.5" font-size="34.0">L</tspan><tspan dy="7.5" font-size="23.8" font-style="normal">cont</tspan></text>
<text x="2041.0" y="2084.5" font-size="34" class="r i" textLength="87.6" lengthAdjust="spacingAndGlyphs" xml:space="preserve"><tspan dy="0.0" font-size="34.0">L</tspan><tspan dy="7.5" font-size="23.8" font-style="normal">cont</tspan><tspan dy="-7.5" font-size="34.0" font-style="normal"> =</tspan></text>
<text x="2044.0" y="2128.0" font-size="26" class="r i" textLength="46.0" lengthAdjust="spacingAndGlyphs" xml:space="preserve"><tspan dy="0.0" font-size="26.0">N</tspan><tspan dy="-10.9" font-size="18.2">v</tspan><tspan dy="10.9" font-size="26.0">+N</tspan><tspan dy="-10.9" font-size="18.2">r</tspan></text>
<text x="2046.0" y="2163.0" font-size="50" class="r" textLength="42.0" lengthAdjust="spacingAndGlyphs">∑</text>
<text x="2067.0" y="2192.0" font-size="21" class="r i" text-anchor="middle">i=1</text>
<text x="2128.6" y="2158.4" font-size="34" class="r i" textLength="57.0" lengthAdjust="spacingAndGlyphs" xml:space="preserve"><tspan dy="0.0" font-size="34.0" font-style="normal">− </tspan><tspan dy="0.0" font-size="34.0" font-style="normal">log</tspan></text>
<text x="2316.6" y="2138.0" font-size="30" class="r i" textLength="198.0" lengthAdjust="spacingAndGlyphs" xml:space="preserve"><tspan dy="0.0" font-size="30.0">∑</tspan><tspan dy="6.6" font-size="21.0">j=1</tspan><tspan dy="-19.2" font-size="21.0">U′</tspan><tspan dy="12.6" font-size="30.0" font-style="normal"> </tspan><tspan dy="0.0" font-size="30.0" font-style="normal">exp</tspan><tspan dy="0.0" font-size="30.0">(s</tspan><tspan dy="6.6" font-size="21.0">i,j</tspan><tspan dy="-19.2" font-size="21.0" font-style="normal">+</tspan><tspan dy="12.6" font-size="30.0">/τ)</tspan></text>
<line x1="2195.8" y1="2151.7" x2="2633.6" y2="2151.7" stroke="#000" stroke-width="1.6" />
<text x="2195.8" y="2183.0" font-size="30" class="r i" textLength="437.8" lengthAdjust="spacingAndGlyphs" xml:space="preserve"><tspan dy="0.0" font-size="30.0">∑</tspan><tspan dy="6.6" font-size="21.0">j=1</tspan><tspan dy="-19.2" font-size="21.0">U′</tspan><tspan dy="12.6" font-size="30.0" font-style="normal"> </tspan><tspan dy="0.0" font-size="30.0" font-style="normal">exp</tspan><tspan dy="0.0" font-size="30.0">(s</tspan><tspan dy="6.6" font-size="21.0">i,j</tspan><tspan dy="-19.2" font-size="21.0" font-style="normal">+</tspan><tspan dy="12.6" font-size="30.0">/τ) + ∑</tspan><tspan dy="6.6" font-size="21.0">k=1</tspan><tspan dy="-19.2" font-size="21.0">Q′</tspan><tspan dy="12.6" font-size="30.0" font-style="normal"> </tspan><tspan dy="0.0" font-size="30.0" font-style="normal">exp</tspan><tspan dy="0.0" font-size="30.0">(s</tspan><tspan dy="6.6" font-size="21.0">i,k</tspan><tspan dy="-19.2" font-size="21.0" font-style="normal">−</tspan><tspan dy="12.6" font-size="30.0">/τ)</tspan></text>
<text x="2719.6" y="2111.4" font-size="34" class="r i" textLength="95.0" lengthAdjust="spacingAndGlyphs" xml:space="preserve"><tspan dy="0.0" font-size="34.0">L</tspan><tspan dy="7.5" font-size="23.8" font-style="normal">aid</tspan><tspan dy="-7.5" font-size="34.0" font-style="normal"> = −</tspan></text>
<text x="2836.0" y="2092.0" font-size="28" class="r" text-anchor="middle">1</text>
<line x1="2825.0" y1="2100.0" x2="2847.0" y2="2100.0" stroke="#000" stroke-width="1.5" />
<text x="2836.0" y="2127.0" font-size="28" class="r i" text-anchor="middle">N</text>
<text x="2853.0" y="2117.0" font-size="44" class="r" textLength="34.0" lengthAdjust="spacingAndGlyphs">∑</text>
<text x="2870.0" y="2072.0" font-size="20" class="r i" text-anchor="middle">N</text>
<text x="2870.0" y="2146.0" font-size="19" class="r i" text-anchor="middle">i=1</text>
<text x="2890.0" y="2111.4" font-size="34" class="r i" textLength="168.8" lengthAdjust="spacingAndGlyphs" xml:space="preserve"><tspan dy="0.0" font-size="34.0">y</tspan><tspan dy="7.5" font-size="23.8">i</tspan><tspan dy="-7.5" font-size="34.0" font-style="normal"> </tspan><tspan dy="0.0" font-size="34.0" font-style="normal">log</tspan><tspan dy="0.0" font-size="34.0">(C</tspan><tspan dy="7.5" font-size="23.8">p</tspan><tspan dy="-7.5" font-size="34.0">(p</tspan><tspan dy="7.5" font-size="23.8">i</tspan><tspan dy="-7.5" font-size="34.0" font-style="normal">))</tspan></text>
<text x="3188.6" y="477.5" font-size="39.8" class="s b" textLength="261.4" lengthAdjust="spacingAndGlyphs">Ablation Study</text>
<text x="3188.6" y="524.1" font-size="27.9" class="s w" textLength="431.2" lengthAdjust="spacingAndGlyphs">Effectiveness of Each Component</text>
<text x="3869.0" y="524.1" font-size="27.9" class="s w" textLength="472.0" lengthAdjust="spacingAndGlyphs">Comparison with Other DA Methods</text>
<text x="3188.6" y="859.0" font-size="39.8" class="s b" textLength="674.0" lengthAdjust="spacingAndGlyphs">Visualization of Part Detection Results</text>
<text x="3188.6" y="1365.0" font-size="39.8" class="s b" textLength="332.4" lengthAdjust="spacingAndGlyphs">t-SNE Visualization</text>
<circle cx="3213.5" cy="1864.6" r="4.6" fill="#000"/>
<circle cx="3213.5" cy="1970.7" r="4.6" fill="#000"/>
<circle cx="3213.5" cy="2120.7" r="4.6" fill="#000"/>
<text x="3244.8" y="1876.6" font-size="34.9" class="s w" textLength="1177.5" lengthAdjust="spacingAndGlyphs">We have presented a novel data augmentation technique, called PartMix, that</text>
<text x="3244.8" y="1921.0" font-size="34.9" class="s w" textLength="1102.5" lengthAdjust="spacingAndGlyphs">generates part-aware augmented samples by mixing the part descriptors.</text>
<text x="3244.8" y="1982.7" font-size="34.9" class="s w" textLength="1193.6" lengthAdjust="spacingAndGlyphs">We introduce a novel sample generation method to synthesize the positive and</text>
<text x="3244.8" y="2026.6" font-size="34.9" class="s w" textLength="1224.2" lengthAdjust="spacingAndGlyphs">negative samples and an entropy-based mining strategy to select reliable positive</text>
<text x="3244.8" y="2071.0" font-size="34.9" class="s w" textLength="1204.2" lengthAdjust="spacingAndGlyphs">and negative samples to regularize the model through the contrastive objective.</text>
<text x="3244.8" y="2132.7" font-size="34.9" class="s w" textLength="1153.2" lengthAdjust="spacingAndGlyphs">We have shown that PartMix achieves state-of-the-art performance over the</text>
<text x="3244.8" y="2176.6" font-size="34.9" class="s w" textLength="620.2" lengthAdjust="spacingAndGlyphs">existing methods on several benchmarks.</text>
<path d="M600,690 L671,681.5 L690,700 L640,730 L590,765 L540,810 L480,862 L430,900 L419.3,884.5 L468.7,852.4 L530,790 L581.8,739 Z" fill="#000" opacity="0.3" filter="url(#blur6)"/>
<path d="M254.4,692.3 L270,686 L288,681.5 L300,676 L312,669.4 L330,660 L345,650 L358,638 L370,641 L382,638 L389,631 L405,628 L423,621 L432,612 L444.6,606.9 L447,605.6 L419.3,883.7 Z" fill="url(#g1)"/>
<g clip-path="url(#cmL)">
<rect x="297.6" y="755.1" width="11.9" height="12.9" fill="#ffffff" opacity="0.53"/>
<rect x="252.6" y="838.7" width="10.1" height="8.0" fill="#c4c0b4" opacity="0.72"/>
<rect x="359.9" y="713.2" width="19.8" height="8.0" fill="#a4aa84" opacity="0.85"/>
<rect x="354.6" y="811.3" width="16.7" height="5.8" fill="#ffffff" opacity="0.52"/>
<rect x="406.0" y="834.7" width="10.3" height="12.7" fill="#9a9e96" opacity="0.79"/>
<rect x="434.2" y="712.6" width="18.8" height="10.8" fill="#a4aa84" opacity="0.85"/>
<rect x="269.5" y="638.8" width="9.5" height="17.6" fill="#9a9e96" opacity="0.81"/>
<rect x="421.0" y="720.0" width="19.3" height="12.5" fill="#7a8460" opacity="0.73"/>
<rect x="366.9" y="857.7" width="16.9" height="17.1" fill="#d0c4a8" opacity="0.90"/>
<rect x="384.3" y="646.5" width="19.8" height="17.5" fill="#ffffff" opacity="0.73"/>
<rect x="392.8" y="660.2" width="19.3" height="12.5" fill="#d0c4a8" opacity="0.55"/>
<rect x="346.4" y="782.0" width="13.7" height="9.5" fill="#d8d4ca" opacity="0.66"/>
<rect x="280.2" y="683.8" width="18.3" height="16.3" fill="#eeece6" opacity="0.74"/>
<rect x="402.3" y="707.7" width="15.4" height="12.2" fill="#d0c4a8" opacity="0.70"/>
<rect x="449.7" y="688.3" width="7.2" height="12.8" fill="#eeece6" opacity="0.88"/>
<rect x="444.3" y="683.1" width="10.2" height="14.0" fill="#f6f4ee" opacity="0.63"/>
<rect x="441.7" y="855.5" width="12.0" height="11.0" fill="#7a8460" opacity="0.65"/>
<rect x="423.4" y="794.1" width="7.6" height="17.6" fill="#7a8460" opacity="0.61"/>
<rect x="376.9" y="804.0" width="21.0" height="10.7" fill="#d0c4a8" opacity="0.71"/>
<rect x="359.7" y="603.3" width="12.6" height="12.5" fill="#eeece6" opacity="0.65"/>
<rect x="367.8" y="638.0" width="16.1" height="9.3" fill="#f6f4ee" opacity="0.77"/>
<rect x="320.5" y="801.5" width="17.8" height="5.3" fill="#eeece6" opacity="0.88"/>
<rect x="254.3" y="705.2" width="16.0" height="8.9" fill="#ffffff" opacity="0.63"/>
<rect x="322.8" y="689.1" width="11.9" height="12.7" fill="#d0c4a8" opacity="0.81"/>
<rect x="271.0" y="831.7" width="21.5" height="13.9" fill="#a4aa84" opacity="0.62"/>
<rect x="294.5" y="829.1" width="9.8" height="7.4" fill="#9a9e96" opacity="0.76"/>
<rect x="269.4" y="771.2" width="21.2" height="13.8" fill="#8a9466" opacity="0.68"/>
<rect x="421.1" y="648.2" width="11.4" height="13.5" fill="#ffffff" opacity="0.68"/>
<rect x="295.0" y="634.5" width="14.5" height="7.5" fill="#ffffff" opacity="0.57"/>
<rect x="305.7" y="830.1" width="16.3" height="15.5" fill="#f6f4ee" opacity="0.74"/>
<rect x="334.3" y="747.7" width="19.6" height="11.0" fill="#9a9e96" opacity="0.62"/>
<rect x="363.7" y="610.1" width="12.6" height="7.6" fill="#c4c0b4" opacity="0.88"/>
<rect x="426.0" y="881.3" width="12.9" height="17.4" fill="#8a9466" opacity="0.51"/>
<rect x="341.3" y="814.7" width="18.0" height="17.5" fill="#7a8460" opacity="0.64"/>
<rect x="295.5" y="619.4" width="15.4" height="8.7" fill="#8a9466" opacity="0.52"/>
<rect x="430.7" y="797.7" width="20.8" height="16.7" fill="#9a9e96" opacity="0.73"/>
<rect x="252.6" y="812.4" width="8.7" height="8.9" fill="#eeece6" opacity="0.71"/>
<rect x="332.8" y="867.6" width="15.8" height="9.4" fill="#d0c4a8" opacity="0.89"/>
<rect x="358.2" y="831.3" width="7.0" height="7.9" fill="#d8d4ca" opacity="0.71"/>
<rect x="413.4" y="648.8" width="18.7" height="17.0" fill="#a4aa84" opacity="0.83"/>
<rect x="251.5" y="779.2" width="19.8" height="5.6" fill="#d0c4a8" opacity="0.60"/>
<rect x="373.6" y="748.1" width="6.8" height="9.2" fill="#eeece6" opacity="0.84"/>
<rect x="405.0" y="613.2" width="6.8" height="11.3" fill="#eeece6" opacity="0.84"/>
<rect x="267.2" y="743.1" width="11.1" height="9.1" fill="#f6f4ee" opacity="0.65"/>
<rect x="327.9" y="686.7" width="10.2" height="17.8" fill="#9a9e96" opacity="0.55"/>
<rect x="361.1" y="804.1" width="12.1" height="6.0" fill="#a4aa84" opacity="0.52"/>
<rect x="342.2" y="785.3" width="14.7" height="13.3" fill="#eeece6" opacity="0.75"/>
<rect x="336.3" y="706.1" width="13.9" height="14.1" fill="#9a9e96" opacity="0.88"/>
<rect x="333.7" y="605.1" width="9.5" height="8.5" fill="#ffffff" opacity="0.53"/>
<rect x="335.0" y="721.4" width="20.1" height="17.2" fill="#f6f4ee" opacity="0.89"/>
<rect x="361.8" y="848.1" width="7.9" height="14.0" fill="#7a8460" opacity="0.82"/>
<rect x="383.5" y="809.1" width="15.0" height="6.3" fill="#ffffff" opacity="0.79"/>
<rect x="344.7" y="667.3" width="12.2" height="11.9" fill="#ffffff" opacity="0.54"/>
<rect x="426.1" y="651.1" width="6.4" height="15.9" fill="#d8d4ca" opacity="0.51"/>
<rect x="273.0" y="737.3" width="17.1" height="8.7" fill="#d0c4a8" opacity="0.82"/>
<rect x="257.3" y="818.7" width="14.2" height="14.3" fill="#d8d4ca" opacity="0.72"/>
<rect x="270.0" y="757.7" width="14.8" height="16.3" fill="#a4aa84" opacity="0.83"/>
<rect x="298.4" y="651.2" width="10.0" height="13.0" fill="#9a9e96" opacity="0.60"/>
<rect x="369.9" y="867.5" width="14.9" height="17.6" fill="#9a9e96" opacity="0.70"/>
<rect x="444.6" y="717.7" width="18.0" height="7.1" fill="#ffffff" opacity="0.80"/>
<rect x="384.8" y="747.4" width="13.7" height="13.4" fill="#a4aa84" opacity="0.57"/>
<rect x="349.6" y="737.8" width="17.2" height="17.4" fill="#ffffff" opacity="0.79"/>
<rect x="287.2" y="676.2" width="9.2" height="12.6" fill="#f6f4ee" opacity="0.87"/>
<rect x="420.3" y="753.3" width="18.5" height="13.7" fill="#9a9e96" opacity="0.74"/>
<rect x="366.9" y="880.4" width="20.2" height="9.0" fill="#d0c4a8" opacity="0.69"/>
<rect x="326.6" y="649.1" width="11.8" height="9.2" fill="#a4aa84" opacity="0.67"/>
<rect x="389.5" y="799.9" width="9.3" height="12.5" fill="#7a8460" opacity="0.51"/>
<rect x="448.6" y="620.6" width="21.2" height="15.2" fill="#eeece6" opacity="0.69"/>
<rect x="295.9" y="666.9" width="17.5" height="13.8" fill="#8a9466" opacity="0.84"/>
<rect x="298.4" y="654.0" width="10.1" height="7.4" fill="#eeece6" opacity="0.86"/>
<rect x="301.0" y="846.6" width="11.0" height="10.5" fill="#d8d4ca" opacity="0.55"/>
<rect x="302.8" y="860.4" width="6.6" height="10.9" fill="#f6f4ee" opacity="0.50"/>
<rect x="317.0" y="724.3" width="13.8" height="7.7" fill="#ffffff" opacity="0.80"/>
<rect x="348.0" y="635.7" width="11.1" height="16.5" fill="#d8d4ca" opacity="0.77"/>
<rect x="272.5" y="852.8" width="20.5" height="6.3" fill="#f6f4ee" opacity="0.77"/>
<rect x="323.7" y="728.4" width="16.6" height="13.7" fill="#d0c4a8" opacity="0.54"/>
<rect x="438.9" y="696.5" width="15.1" height="11.8" fill="#c4c0b4" opacity="0.70"/>
<rect x="261.9" y="683.9" width="17.6" height="14.6" fill="#a4aa84" opacity="0.57"/>
<rect x="428.0" y="786.8" width="8.0" height="17.1" fill="#a4aa84" opacity="0.87"/>
<rect x="379.0" y="785.1" width="12.7" height="8.9" fill="#a4aa84" opacity="0.68"/>
<rect x="312.5" y="650.3" width="7.1" height="14.3" fill="#7a8460" opacity="0.72"/>
<rect x="397.9" y="702.4" width="10.3" height="10.0" fill="#a4aa84" opacity="0.52"/>
<rect x="350.9" y="670.5" width="18.3" height="9.6" fill="#f6f4ee" opacity="0.88"/>
<rect x="339.6" y="830.6" width="7.1" height="11.5" fill="#d8d4ca" opacity="0.56"/>
<rect x="368.0" y="794.2" width="15.0" height="16.8" fill="#d8d4ca" opacity="0.57"/>
<rect x="287.8" y="718.7" width="17.9" height="15.6" fill="#a4aa84" opacity="0.74"/>
<rect x="279.3" y="713.5" width="9.1" height="11.9" fill="#ffffff" opacity="0.57"/>
<rect x="423.7" y="705.3" width="10.7" height="15.9" fill="#c4c0b4" opacity="0.86"/>
<rect x="439.9" y="709.2" width="14.8" height="12.6" fill="#c4c0b4" opacity="0.89"/>
<rect x="387.3" y="685.3" width="19.8" height="11.3" fill="#ffffff" opacity="0.58"/>
<rect x="376.8" y="630.6" width="18.1" height="8.0" fill="#a4aa84" opacity="0.71"/>
<rect x="342.1" y="655.1" width="14.5" height="5.5" fill="#7a8460" opacity="0.87"/>
<rect x="439.3" y="631.8" width="10.5" height="13.5" fill="#a4aa84" opacity="0.55"/>
<rect x="408.5" y="777.6" width="6.8" height="9.7" fill="#8a9466" opacity="0.70"/>
<rect x="349.7" y="605.4" width="11.4" height="9.3" fill="#f6f4ee" opacity="0.78"/>
<rect x="276.9" y="844.6" width="15.6" height="17.1" fill="#d8d4ca" opacity="0.80"/>
<rect x="318.7" y="829.9" width="20.9" height="16.2" fill="#9a9e96" opacity="0.78"/>
<rect x="294.2" y="690.0" width="18.6" height="10.3" fill="#8a9466" opacity="0.78"/>
<rect x="328.3" y="734.9" width="7.1" height="16.1" fill="#8a9466" opacity="0.76"/>
<rect x="310.9" y="732.4" width="18.1" height="10.2" fill="#a4aa84" opacity="0.68"/>
<rect x="257.4" y="673.1" width="19.6" height="10.8" fill="#f6f4ee" opacity="0.74"/>
<rect x="294.8" y="600.8" width="9.3" height="15.2" fill="#a4aa84" opacity="0.84"/>
<rect x="356.8" y="645.3" width="6.4" height="12.6" fill="#7a8460" opacity="0.57"/>
<rect x="255.5" y="631.4" width="8.7" height="11.4" fill="#eeece6" opacity="0.84"/>
<rect x="330.6" y="690.6" width="6.5" height="14.3" fill="#8a9466" opacity="0.66"/>
<rect x="329.3" y="607.6" width="21.4" height="7.8" fill="#d8d4ca" opacity="0.66"/>
<rect x="288.1" y="694.9" width="7.9" height="16.9" fill="#ffffff" opacity="0.52"/>
<rect x="395.5" y="678.4" width="18.6" height="11.1" fill="#d0c4a8" opacity="0.70"/>
<rect x="362.2" y="608.6" width="11.4" height="17.9" fill="#f6f4ee" opacity="0.54"/>
<rect x="386.5" y="876.2" width="15.5" height="5.0" fill="#eeece6" opacity="0.77"/>
</g>
<path d="M447,605.6 L449.4,604.4 L463.9,619 L480,624 L504.8,633.3 L528.9,647.8 L553,643 L570,652 L589,662 L620,664 L649,667 L671,681.5 L640,704 L581.8,739 L530,790 L468.7,852.4 L419.3,884.5 Z" fill="url(#g2)"/>
<g clip-path="url(#cmR)">
<rect x="424.9" y="743.4" width="14.7" height="7.1" fill="#8c8c8c" opacity="0.76"/>
<rect x="471.2" y="877.5" width="14.6" height="13.8" fill="#7e7e7e" opacity="0.78"/>
<rect x="428.7" y="686.8" width="16.9" height="15.4" fill="#2a2a2a" opacity="0.78"/>
<rect x="466.9" y="717.7" width="15.1" height="11.0" fill="#8c8c8c" opacity="0.67"/>
<rect x="656.8" y="649.8" width="19.3" height="13.1" fill="#8c8c8c" opacity="0.54"/>
<rect x="466.9" y="828.5" width="13.9" height="9.9" fill="#505050" opacity="0.59"/>
<rect x="488.7" y="648.4" width="19.0" height="11.7" fill="#505050" opacity="0.68"/>
<rect x="662.1" y="612.2" width="9.1" height="13.3" fill="#3a3a3a" opacity="0.44"/>
<rect x="596.4" y="788.3" width="11.8" height="11.6" fill="#505050" opacity="0.42"/>
<rect x="576.1" y="613.7" width="14.4" height="14.6" fill="#505050" opacity="0.53"/>
<rect x="514.4" y="620.5" width="13.2" height="15.5" fill="#2a2a2a" opacity="0.54"/>
<rect x="499.4" y="728.3" width="20.8" height="7.3" fill="#505050" opacity="0.42"/>
<rect x="458.9" y="783.7" width="16.5" height="5.1" fill="#6a6a6a" opacity="0.52"/>
<rect x="473.2" y="842.5" width="15.3" height="10.6" fill="#8c8c8c" opacity="0.53"/>
<rect x="645.1" y="822.9" width="14.4" height="11.8" fill="#2a2a2a" opacity="0.73"/>
<rect x="448.7" y="606.8" width="23.4" height="7.2" fill="#7e7e7e" opacity="0.43"/>
<rect x="538.6" y="663.5" width="20.9" height="11.8" fill="#505050" opacity="0.59"/>
<rect x="590.5" y="799.4" width="13.3" height="12.3" fill="#2a2a2a" opacity="0.52"/>
<rect x="661.0" y="726.5" width="12.8" height="6.3" fill="#2a2a2a" opacity="0.59"/>
<rect x="605.6" y="622.0" width="12.2" height="10.3" fill="#2a2a2a" opacity="0.77"/>
<rect x="595.0" y="703.9" width="20.1" height="5.7" fill="#8c8c8c" opacity="0.49"/>
<rect x="509.4" y="883.8" width="12.0" height="9.7" fill="#2a2a2a" opacity="0.50"/>
<rect x="502.4" y="813.6" width="9.7" height="7.4" fill="#505050" opacity="0.64"/>
<rect x="657.5" y="752.7" width="13.5" height="15.4" fill="#8c8c8c" opacity="0.78"/>
<rect x="543.5" y="820.4" width="13.3" height="16.0" fill="#2a2a2a" opacity="0.52"/>
<rect x="658.2" y="652.6" width="7.7" height="12.9" fill="#7e7e7e" opacity="0.60"/>
<rect x="435.6" y="734.5" width="9.5" height="7.3" fill="#3a3a3a" opacity="0.57"/>
<rect x="507.9" y="811.5" width="19.4" height="8.2" fill="#2a2a2a" opacity="0.58"/>
<rect x="651.7" y="726.5" width="9.7" height="10.4" fill="#505050" opacity="0.51"/>
<rect x="515.6" y="829.7" width="17.4" height="15.4" fill="#3a3a3a" opacity="0.52"/>
<rect x="538.1" y="749.9" width="15.8" height="9.0" fill="#7e7e7e" opacity="0.51"/>
<rect x="538.1" y="852.7" width="20.5" height="8.3" fill="#6a6a6a" opacity="0.77"/>
<rect x="552.5" y="604.1" width="17.3" height="6.6" fill="#2a2a2a" opacity="0.47"/>
<rect x="432.8" y="658.1" width="19.9" height="10.1" fill="#7e7e7e" opacity="0.79"/>
<rect x="429.0" y="652.7" width="6.2" height="9.8" fill="#7e7e7e" opacity="0.73"/>
<rect x="573.9" y="831.2" width="14.1" height="7.9" fill="#505050" opacity="0.72"/>
<rect x="526.6" y="674.2" width="6.8" height="9.7" fill="#505050" opacity="0.80"/>
<rect x="462.2" y="817.0" width="16.1" height="15.5" fill="#505050" opacity="0.70"/>
<rect x="621.3" y="745.0" width="21.0" height="11.1" fill="#7e7e7e" opacity="0.41"/>
<rect x="431.6" y="738.5" width="7.1" height="14.0" fill="#3a3a3a" opacity="0.59"/>
<rect x="589.7" y="864.7" width="20.7" height="11.6" fill="#3a3a3a" opacity="0.55"/>
<rect x="581.2" y="683.7" width="7.3" height="6.5" fill="#8c8c8c" opacity="0.44"/>
<rect x="617.4" y="726.6" width="11.0" height="7.8" fill="#7e7e7e" opacity="0.78"/>
<rect x="459.6" y="689.7" width="15.4" height="9.5" fill="#6a6a6a" opacity="0.73"/>
<rect x="657.5" y="774.6" width="6.6" height="11.3" fill="#8c8c8c" opacity="0.45"/>
<rect x="451.9" y="823.9" width="19.6" height="7.9" fill="#3a3a3a" opacity="0.67"/>
<rect x="514.7" y="746.7" width="22.1" height="15.6" fill="#505050" opacity="0.58"/>
<rect x="499.4" y="698.6" width="17.8" height="15.4" fill="#3a3a3a" opacity="0.53"/>
<rect x="489.1" y="870.7" width="23.0" height="8.5" fill="#3a3a3a" opacity="0.62"/>
<rect x="429.1" y="718.9" width="13.4" height="14.9" fill="#3a3a3a" opacity="0.49"/>
<rect x="471.0" y="622.7" width="15.5" height="13.2" fill="#2a2a2a" opacity="0.65"/>
<rect x="628.5" y="601.5" width="11.1" height="15.6" fill="#2a2a2a" opacity="0.57"/>
<rect x="670.9" y="731.6" width="11.2" height="11.2" fill="#6a6a6a" opacity="0.49"/>
<rect x="664.2" y="641.1" width="22.3" height="7.0" fill="#3a3a3a" opacity="0.67"/>
<rect x="585.0" y="640.5" width="7.0" height="13.4" fill="#6a6a6a" opacity="0.52"/>
<rect x="585.4" y="637.3" width="8.6" height="10.8" fill="#6a6a6a" opacity="0.61"/>
<rect x="517.5" y="630.5" width="13.0" height="15.9" fill="#7e7e7e" opacity="0.44"/>
<rect x="449.3" y="684.1" width="12.9" height="15.3" fill="#8c8c8c" opacity="0.43"/>
<rect x="469.0" y="867.7" width="23.9" height="15.8" fill="#6a6a6a" opacity="0.43"/>
<rect x="559.2" y="855.1" width="7.9" height="14.3" fill="#3a3a3a" opacity="0.41"/>
<rect x="508.1" y="813.2" width="20.1" height="11.3" fill="#3a3a3a" opacity="0.62"/>
<rect x="497.9" y="642.5" width="14.2" height="9.2" fill="#8c8c8c" opacity="0.52"/>
<rect x="611.2" y="813.1" width="11.4" height="14.4" fill="#6a6a6a" opacity="0.53"/>
<rect x="634.2" y="637.2" width="16.9" height="5.6" fill="#8c8c8c" opacity="0.75"/>
<rect x="449.2" y="604.0" width="21.7" height="13.7" fill="#8c8c8c" opacity="0.67"/>
<rect x="553.9" y="818.3" width="7.7" height="10.9" fill="#3a3a3a" opacity="0.53"/>
<rect x="570.6" y="662.3" width="14.2" height="11.2" fill="#505050" opacity="0.53"/>
<rect x="511.4" y="771.3" width="23.6" height="15.3" fill="#505050" opacity="0.73"/>
<rect x="493.1" y="878.4" width="10.9" height="6.4" fill="#8c8c8c" opacity="0.49"/>
<rect x="673.8" y="807.7" width="10.5" height="9.8" fill="#7e7e7e" opacity="0.58"/>
<rect x="541.9" y="751.5" width="21.7" height="15.9" fill="#8c8c8c" opacity="0.61"/>
<rect x="673.6" y="614.7" width="13.5" height="11.0" fill="#8c8c8c" opacity="0.71"/>
<rect x="435.1" y="843.5" width="12.9" height="15.8" fill="#7e7e7e" opacity="0.61"/>
<rect x="434.1" y="740.8" width="8.1" height="13.1" fill="#3a3a3a" opacity="0.68"/>
<rect x="512.2" y="685.7" width="15.1" height="9.4" fill="#7e7e7e" opacity="0.76"/>
<rect x="594.8" y="629.7" width="14.9" height="8.6" fill="#2a2a2a" opacity="0.55"/>
<rect x="576.7" y="639.8" width="7.5" height="8.5" fill="#7e7e7e" opacity="0.48"/>
<rect x="427.2" y="809.0" width="11.6" height="9.9" fill="#7e7e7e" opacity="0.73"/>
<rect x="633.6" y="860.2" width="13.9" height="12.5" fill="#2a2a2a" opacity="0.60"/>
<rect x="656.6" y="664.1" width="8.5" height="8.4" fill="#8c8c8c" opacity="0.48"/>
<rect x="630.0" y="770.7" width="7.5" height="5.3" fill="#7e7e7e" opacity="0.55"/>
<rect x="545.0" y="880.9" width="14.5" height="6.5" fill="#6a6a6a" opacity="0.60"/>
<rect x="530.2" y="779.2" width="17.9" height="9.8" fill="#2a2a2a" opacity="0.66"/>
<rect x="610.1" y="850.1" width="7.2" height="14.6" fill="#505050" opacity="0.80"/>
<rect x="436.8" y="602.7" width="14.6" height="9.6" fill="#2a2a2a" opacity="0.73"/>
<rect x="504.6" y="719.3" width="16.5" height="14.7" fill="#6a6a6a" opacity="0.66"/>
<rect x="664.3" y="614.8" width="15.3" height="14.9" fill="#8c8c8c" opacity="0.61"/>
<rect x="566.3" y="624.3" width="10.2" height="10.2" fill="#8c8c8c" opacity="0.56"/>
<rect x="507.7" y="730.0" width="23.3" height="7.5" fill="#8c8c8c" opacity="0.52"/>
<rect x="649.5" y="637.9" width="15.6" height="11.8" fill="#7e7e7e" opacity="0.53"/>
<rect x="639.3" y="766.6" width="19.0" height="10.8" fill="#3a3a3a" opacity="0.42"/>
<rect x="530.4" y="688.9" width="9.5" height="14.6" fill="#6a6a6a" opacity="0.47"/>
<rect x="446.4" y="730.2" width="22.7" height="10.5" fill="#6a6a6a" opacity="0.53"/>
<rect x="612.5" y="693.2" width="10.4" height="14.7" fill="#505050" opacity="0.73"/>
<rect x="434.5" y="714.4" width="13.0" height="7.0" fill="#7e7e7e" opacity="0.54"/>
<rect x="433.5" y="875.2" width="19.2" height="7.3" fill="#7e7e7e" opacity="0.58"/>
<rect x="564.0" y="670.0" width="18.6" height="7.4" fill="#505050" opacity="0.55"/>
<rect x="479.2" y="794.9" width="15.6" height="11.6" fill="#3a3a3a" opacity="0.64"/>
<rect x="580.2" y="726.1" width="7.0" height="13.7" fill="#3a3a3a" opacity="0.60"/>
<rect x="567.6" y="676.5" width="22.2" height="12.5" fill="#6a6a6a" opacity="0.56"/>
<rect x="547.7" y="738.3" width="13.3" height="11.8" fill="#6a6a6a" opacity="0.45"/>
<rect x="526.9" y="846.3" width="8.6" height="8.5" fill="#7e7e7e" opacity="0.61"/>
<rect x="637.0" y="736.2" width="15.7" height="14.5" fill="#3a3a3a" opacity="0.55"/>
<rect x="430.7" y="699.0" width="17.4" height="11.9" fill="#505050" opacity="0.70"/>
<rect x="560.9" y="686.3" width="22.1" height="14.7" fill="#8c8c8c" opacity="0.53"/>
<rect x="524.6" y="863.2" width="17.7" height="15.2" fill="#3a3a3a" opacity="0.67"/>
<rect x="607.5" y="699.9" width="14.6" height="11.2" fill="#6a6a6a" opacity="0.52"/>
<rect x="468.2" y="837.7" width="18.8" height="8.6" fill="#6a6a6a" opacity="0.53"/>
<rect x="604.8" y="649.2" width="13.1" height="7.2" fill="#3a3a3a" opacity="0.62"/>
<rect x="513.3" y="806.3" width="16.9" height="12.7" fill="#6a6a6a" opacity="0.60"/>
<rect x="462.6" y="628.7" width="15.7" height="15.2" fill="#8c8c8c" opacity="0.61"/>
<rect x="521.3" y="618.8" width="11.0" height="8.5" fill="#7e7e7e" opacity="0.45"/>
<rect x="661.7" y="735.9" width="13.8" height="7.9" fill="#505050" opacity="0.47"/>
<rect x="565.7" y="745.6" width="9.6" height="7.5" fill="#7e7e7e" opacity="0.72"/>
<rect x="607.0" y="857.3" width="7.8" height="12.7" fill="#2a2a2a" opacity="0.49"/>
<rect x="536.5" y="877.7" width="11.9" height="13.4" fill="#6a6a6a" opacity="0.42"/>
<rect x="545.2" y="883.6" width="8.4" height="14.9" fill="#3a3a3a" opacity="0.70"/>
<rect x="548.6" y="795.9" width="13.7" height="13.8" fill="#7e7e7e" opacity="0.52"/>
<rect x="489.4" y="856.8" width="8.8" height="5.3" fill="#3a3a3a" opacity="0.66"/>
<rect x="473.9" y="816.1" width="15.1" height="15.5" fill="#505050" opacity="0.69"/>
<path d="M470,700 L540,690 L560,730 L500,760 Z" fill="#8a8a8a" opacity="0.7"/>
</g>
<path d="M277,661 L338.7,669.4 L350.7,746.5 Z" fill="url(#g3)"/>
<path d="M637,634.5 L526.5,650 L567.4,722.4 Z" fill="url(#g4)"/>
<rect x="704.0" y="602.0" width="31.5" height="2.6" fill="#fff" stroke="#1a1a1a" stroke-width="1.6"/>
<rect x="708.7" y="604.6" width="23.3" height="3.0" fill="#fff" stroke="#1a1a1a" stroke-width="1.6"/>
<rect x="713.3" y="607.6" width="12.7" height="13.0" fill="#fff" stroke="#1a1a1a" stroke-width="1.6"/>
<path d="M715.6,620.8 L762,630.5 Q770,633 767,642 L751,660 L714,648 Q706,644 708,632 Q710,622 715.6,620.8 Z" fill="#fff" stroke="#1a1a1a" stroke-width="1.8"/>
<path d="M733,640 Q749,632 767,635 Q770,644 764,652" fill="none" stroke="#1a1a1a" stroke-width="1.6"/>
<ellipse cx="752.0" cy="645.3" rx="9.5" ry="14.0" fill="#fff" stroke="#1a1a1a" stroke-width="1.8"/>
<ellipse cx="753.0" cy="645.3" rx="5.5" ry="8.5" fill="#fff" stroke="#1a1a1a" stroke-width="1.6"/>
<circle cx="753.5" cy="645.3" r="2.0" fill="#1a1a1a"/>
<path d="M747.5,605.8 A13,13 0 0 1 756.9,613.6" fill="none" stroke="#1a1a1a" stroke-width="1.9"/>
<path d="M749.0,598.9 A20,20 0 0 1 763.3,611.0" fill="none" stroke="#1a1a1a" stroke-width="1.9"/>
<path d="M750.4,592.1 A27,27 0 0 1 769.8,608.4" fill="none" stroke="#1a1a1a" stroke-width="1.9"/>
<rect x="704.0" y="778.0" width="31.5" height="2.6" fill="#1a1a1a" stroke="#1a1a1a" stroke-width="1.6"/>
<rect x="708.7" y="780.6" width="23.3" height="3.0" fill="#1a1a1a" stroke="#1a1a1a" stroke-width="1.6"/>
<rect x="713.3" y="783.6" width="12.7" height="13.0" fill="#1a1a1a" stroke="#1a1a1a" stroke-width="1.6"/>
<path d="M715.6,796.8 L762,806.5 Q770,809 767,818 L751,836 L714,824 Q706,820 708,808 Q710,798 715.6,796.8 Z" fill="#1a1a1a" stroke="#1a1a1a" stroke-width="1.8"/>
<path d="M733,816 Q749,808 767,811 Q770,820 764,828" fill="none" stroke="#fff" stroke-width="1.6"/>
<ellipse cx="752.0" cy="821.3" rx="9.5" ry="14.0" fill="#1a1a1a" stroke="#fff" stroke-width="1.8"/>
<ellipse cx="753.0" cy="821.3" rx="5.5" ry="8.5" fill="#1a1a1a" stroke="#fff" stroke-width="1.6"/>
<circle cx="753.5" cy="821.3" r="2.0" fill="#fff"/>
<path d="M747.5,781.8 A13,13 0 0 1 756.9,789.6" fill="none" stroke="#1a1a1a" stroke-width="1.9"/>
<path d="M749.0,774.9 A20,20 0 0 1 763.3,787.0" fill="none" stroke="#1a1a1a" stroke-width="1.9"/>
<path d="M750.4,768.1 A27,27 0 0 1 769.8,784.4" fill="none" stroke="#1a1a1a" stroke-width="1.9"/>
<g transform="translate(253,634) scale(0.47)">
<rect x="0.0" y="0.0" width="31.5" height="2.6" fill="#fff" stroke="#1a1a1a" stroke-width="1.6"/>
<rect x="4.7" y="2.6" width="23.3" height="3.0" fill="#fff" stroke="#1a1a1a" stroke-width="1.6"/>
<rect x="9.3" y="5.6" width="12.7" height="13.0" fill="#fff" stroke="#1a1a1a" stroke-width="1.6"/>
<path d="M11.6,18.8 L58,28.5 Q66,31 63,40 L47,58 L10,46 Q2,42 4,30 Q6,20 11.6,18.8 Z" fill="#fff" stroke="#1a1a1a" stroke-width="1.8"/>
<path d="M29,38 Q45,30 63,33 Q66,42 60,50" fill="none" stroke="#1a1a1a" stroke-width="1.6"/>
<ellipse cx="48.0" cy="43.3" rx="9.5" ry="14.0" fill="#fff" stroke="#1a1a1a" stroke-width="1.8"/>
<ellipse cx="49.0" cy="43.3" rx="5.5" ry="8.5" fill="#fff" stroke="#1a1a1a" stroke-width="1.6"/>
<circle cx="49.5" cy="43.3" r="2.0" fill="#1a1a1a"/>
<path d="M43.5,3.8 A13,13 0 0 1 52.9,11.6" fill="none" stroke="#1a1a1a" stroke-width="1.9"/>
<path d="M45.0,-3.1 A20,20 0 0 1 59.3,9.0" fill="none" stroke="#1a1a1a" stroke-width="1.9"/>
<path d="M46.4,-9.9 A27,27 0 0 1 65.8,6.4" fill="none" stroke="#1a1a1a" stroke-width="1.9"/>
</g>
<g transform="translate(666,607) scale(-0.47,0.47)">
<rect x="0.0" y="0.0" width="31.5" height="2.6" fill="#1a1a1a" stroke="#1a1a1a" stroke-width="1.6"/>
<rect x="4.7" y="2.6" width="23.3" height="3.0" fill="#1a1a1a" stroke="#1a1a1a" stroke-width="1.6"/>
<rect x="9.3" y="5.6" width="12.7" height="13.0" fill="#1a1a1a" stroke="#1a1a1a" stroke-width="1.6"/>
<path d="M11.6,18.8 L58,28.5 Q66,31 63,40 L47,58 L10,46 Q2,42 4,30 Q6,20 11.6,18.8 Z" fill="#1a1a1a" stroke="#1a1a1a" stroke-width="1.8"/>
<path d="M29,38 Q45,30 63,33 Q66,42 60,50" fill="none" stroke="#fff" stroke-width="1.6"/>
<ellipse cx="48.0" cy="43.3" rx="9.5" ry="14.0" fill="#1a1a1a" stroke="#fff" stroke-width="1.8"/>
<ellipse cx="49.0" cy="43.3" rx="5.5" ry="8.5" fill="#1a1a1a" stroke="#fff" stroke-width="1.6"/>
<circle cx="49.5" cy="43.3" r="2.0" fill="#fff"/>
<path d="M43.5,3.8 A13,13 0 0 1 52.9,11.6" fill="none" stroke="#1a1a1a" stroke-width="1.9"/>
<path d="M45.0,-3.1 A20,20 0 0 1 59.3,9.0" fill="none" stroke="#1a1a1a" stroke-width="1.9"/>
<path d="M46.4,-9.9 A27,27 0 0 1 65.8,6.4" fill="none" stroke="#1a1a1a" stroke-width="1.9"/>
</g>
<rect x="820.4" y="576.8" width="65.7" height="135.7" fill="url(#g5)"/>
<g clip-path="url(#c6)">
<g opacity="1.0" filter="url(#b1_2)">
<rect x="838.1" y="647.4" width="13.1" height="58.4" fill="#283048" rx="3.2850000000000024"/>
<rect x="855.2" y="647.4" width="13.1" height="58.4" fill="#283048" rx="3.2850000000000024"/>
<rect x="827.0" y="603.9" width="8.5" height="47.5" fill="#1a1a22" rx="3.9420000000000024"/>
<rect x="871.0" y="603.9" width="8.5" height="47.5" fill="#1a1a22" rx="3.9420000000000024"/>
<rect x="834.2" y="601.2" width="38.1" height="50.2" fill="#a89a30" rx="6.570000000000005"/>
<ellipse cx="853.2" cy="590.4" rx="8.5" ry="9.5" fill="#2a2020"/>
</g>
</g>
<rect x="891.0" y="576.8" width="66.5" height="135.7" fill="url(#g7)"/>
<g clip-path="url(#c8)">
<g opacity="1.0" filter="url(#b1_2)">
<rect x="909.0" y="647.4" width="13.3" height="58.4" fill="#141414" rx="3.325"/>
<rect x="926.2" y="647.4" width="13.3" height="58.4" fill="#141414" rx="3.325"/>
<rect x="897.6" y="603.9" width="8.6" height="47.5" fill="#8a7a80" rx="3.9899999999999998"/>
<rect x="942.2" y="603.9" width="8.6" height="47.5" fill="#8a7a80" rx="3.9899999999999998"/>
<rect x="905.0" y="601.2" width="38.6" height="50.2" fill="#7a6a80" rx="6.65"/>
<ellipse cx="924.2" cy="590.4" rx="8.6" ry="9.5" fill="#3a2a28"/>
</g>
</g>
<rect x="962.4" y="576.8" width="65.6" height="135.7" fill="url(#g9)"/>
<g clip-path="url(#c10)">
<g opacity="1.0" filter="url(#b1_2)">
<rect x="980.1" y="647.4" width="13.1" height="58.4" fill="#4a5670" rx="3.280000000000001"/>
<rect x="997.2" y="647.4" width="13.1" height="58.4" fill="#4a5670" rx="3.280000000000001"/>
<rect x="969.0" y="603.9" width="8.5" height="47.5" fill="#141414" rx="3.9360000000000013"/>
<rect x="1012.9" y="603.9" width="8.5" height="47.5" fill="#141414" rx="3.9360000000000013"/>
<rect x="976.2" y="601.2" width="38.0" height="50.2" fill="#1c2228" rx="6.560000000000002"/>
<ellipse cx="995.2" cy="590.4" rx="8.5" ry="9.5" fill="#101010"/>
</g>
</g>
<rect x="1033.0" y="576.8" width="66.4" height="135.7" fill="url(#g11)"/>
<g clip-path="url(#c12)">
<g opacity="1.0" filter="url(#b1_2)">
<rect x="1050.9" y="647.4" width="13.3" height="58.4" fill="#6a6a60" rx="3.3200000000000047"/>
<rect x="1068.2" y="647.4" width="13.3" height="58.4" fill="#6a6a60" rx="3.3200000000000047"/>
<rect x="1039.6" y="603.9" width="8.6" height="47.5" fill="#5a80b0" rx="3.9840000000000053"/>
<rect x="1084.1" y="603.9" width="8.6" height="47.5" fill="#5a80b0" rx="3.9840000000000053"/>
<rect x="1046.9" y="601.2" width="38.5" height="50.2" fill="#4a70a8" rx="6.6400000000000095"/>
<ellipse cx="1066.2" cy="590.4" rx="8.6" ry="9.5" fill="#2a2a28"/>
</g>
</g>
<rect x="1104.5" y="576.8" width="65.3" height="135.7" fill="url(#g13)"/>
<g clip-path="url(#c14)">
<g opacity="1.0" filter="url(#b1_2)">
<rect x="1122.1" y="647.4" width="13.1" height="58.4" fill="#121212" rx="3.264999999999998"/>
<rect x="1139.1" y="647.4" width="13.1" height="58.4" fill="#121212" rx="3.264999999999998"/>
<rect x="1111.0" y="603.9" width="8.5" height="47.5" fill="#1a2448" rx="3.917999999999997"/>
<rect x="1154.8" y="603.9" width="8.5" height="47.5" fill="#1a2448" rx="3.917999999999997"/>
<rect x="1118.2" y="601.2" width="37.9" height="50.2" fill="#1a2448" rx="6.529999999999996"/>
<ellipse cx="1137.2" cy="590.4" rx="8.5" ry="9.5" fill="#3a3030"/>
</g>
</g>
<rect x="1174.7" y="576.8" width="66.9" height="135.7" fill="url(#g15)"/>
<g clip-path="url(#c16)">
<g opacity="1.0" filter="url(#b1_2)">
<rect x="1192.8" y="647.4" width="13.4" height="58.4" fill="#8a90a8" rx="3.3449999999999935"/>
<rect x="1210.2" y="647.4" width="13.4" height="58.4" fill="#8a90a8" rx="3.3449999999999935"/>
<rect x="1181.4" y="603.9" width="8.7" height="47.5" fill="#161616" rx="4.013999999999991"/>
<rect x="1226.2" y="603.9" width="8.7" height="47.5" fill="#161616" rx="4.013999999999991"/>
<rect x="1188.7" y="601.2" width="38.8" height="50.2" fill="#b0aca0" rx="6.689999999999987"/>
<ellipse cx="1208.2" cy="590.4" rx="8.7" ry="9.5" fill="#1a1414"/>
</g>
</g>
<rect x="905.0" y="604.2" width="38.6" height="2.4" fill="#e8e0ec" opacity="0.85"/>
<rect x="905.0" y="610.7" width="38.6" height="2.4" fill="#e8e0ec" opacity="0.85"/>
<rect x="905.0" y="617.2" width="38.6" height="2.4" fill="#e8e0ec" opacity="0.85"/>
<rect x="905.0" y="623.7" width="38.6" height="2.4" fill="#e8e0ec" opacity="0.85"/>
<rect x="905.0" y="630.2" width="38.6" height="2.4" fill="#e8e0ec" opacity="0.85"/>
<rect x="905.0" y="636.7" width="38.6" height="2.4" fill="#e8e0ec" opacity="0.85"/>
<rect x="905.0" y="643.2" width="38.6" height="2.4" fill="#e8e0ec" opacity="0.85"/>
<rect x="1046.9" y="605.2" width="38.5" height="1.6" fill="#d8e4f4" opacity="0.8"/>
<rect x="1049.9" y="601.2" width="1.6" height="50.2" fill="#d8e4f4" opacity="0.8"/>
<rect x="1046.9" y="614.2" width="38.5" height="1.6" fill="#d8e4f4" opacity="0.8"/>
<rect x="1057.9" y="601.2" width="1.6" height="50.2" fill="#d8e4f4" opacity="0.8"/>
<rect x="1046.9" y="623.2" width="38.5" height="1.6" fill="#d8e4f4" opacity="0.8"/>
<rect x="1065.9" y="601.2" width="1.6" height="50.2" fill="#d8e4f4" opacity="0.8"/>
<rect x="1046.9" y="632.2" width="38.5" height="1.6" fill="#d8e4f4" opacity="0.8"/>
<rect x="1073.9" y="601.2" width="1.6" height="50.2" fill="#d8e4f4" opacity="0.8"/>
<rect x="1046.9" y="641.2" width="38.5" height="1.6" fill="#d8e4f4" opacity="0.8"/>
<rect x="1081.9" y="601.2" width="1.6" height="50.2" fill="#d8e4f4" opacity="0.8"/>
<rect x="1192.7" y="606.2" width="7.0" height="6.0" fill="#3a4a30" opacity="0.6"/>
<rect x="1201.7" y="606.2" width="7.0" height="6.0" fill="#3a4a30" opacity="0.6"/>
<rect x="1210.7" y="606.2" width="7.0" height="6.0" fill="#3a4a30" opacity="0.6"/>
<rect x="1192.7" y="620.2" width="7.0" height="6.0" fill="#3a4a30" opacity="0.6"/>
<rect x="1201.7" y="620.2" width="7.0" height="6.0" fill="#3a4a30" opacity="0.6"/>
<rect x="1210.7" y="620.2" width="7.0" height="6.0" fill="#3a4a30" opacity="0.6"/>
<rect x="820.4" y="741.9" width="65.7" height="137.4" fill="url(#g17)"/>
<g clip-path="url(#c18)">
<g opacity="1.0" filter="url(#b1_2)">
<rect x="838.1" y="813.3" width="13.1" height="59.1" fill="#d0d0d0" rx="3.2850000000000024"/>
<rect x="855.2" y="813.3" width="13.1" height="59.1" fill="#d0d0d0" rx="3.2850000000000024"/>
<rect x="827.0" y="769.4" width="8.5" height="48.1" fill="#e0e0e0" rx="3.9420000000000024"/>
<rect x="871.0" y="769.4" width="8.5" height="48.1" fill="#e0e0e0" rx="3.9420000000000024"/>
<rect x="834.2" y="766.6" width="38.1" height="50.8" fill="#dcdcdc" rx="6.570000000000005"/>
<ellipse cx="853.2" cy="755.6" rx="8.5" ry="9.6" fill="#8a8a8a"/>
</g>
</g>
<rect x="891.0" y="741.9" width="66.5" height="137.4" fill="url(#g19)"/>
<g clip-path="url(#c20)">
<g opacity="1.0" filter="url(#b1_2)">
<rect x="909.0" y="813.3" width="13.3" height="59.1" fill="#c8c8c8" rx="3.325"/>
<rect x="926.2" y="813.3" width="13.3" height="59.1" fill="#c8c8c8" rx="3.325"/>
<rect x="897.6" y="769.4" width="8.6" height="48.1" fill="#a0a0a0" rx="3.9899999999999998"/>
<rect x="942.2" y="769.4" width="8.6" height="48.1" fill="#a0a0a0" rx="3.9899999999999998"/>
<rect x="905.0" y="766.6" width="38.6" height="50.8" fill="#b8b8b8" rx="6.65"/>
<ellipse cx="924.2" cy="755.6" rx="8.6" ry="9.6" fill="#3a3a3a"/>
</g>
</g>
<rect x="962.4" y="741.9" width="65.6" height="137.4" fill="url(#g21)"/>
<g clip-path="url(#c22)">
<g opacity="1.0" filter="url(#b1_2)">
<rect x="980.1" y="813.3" width="13.1" height="59.1" fill="#e0e0e0" rx="3.280000000000001"/>
<rect x="997.2" y="813.3" width="13.1" height="59.1" fill="#e0e0e0" rx="3.280000000000001"/>
<rect x="969.0" y="769.4" width="8.5" height="48.1" fill="#d0d0d0" rx="3.9360000000000013"/>
<rect x="1012.9" y="769.4" width="8.5" height="48.1" fill="#d0d0d0" rx="3.9360000000000013"/>
<rect x="976.2" y="766.6" width="38.0" height="50.8" fill="#d8d8d8" rx="6.560000000000002"/>
<ellipse cx="995.2" cy="755.6" rx="8.5" ry="9.6" fill="#7a7a7a"/>
</g>
</g>
<rect x="1033.0" y="741.9" width="66.4" height="137.4" fill="url(#g23)"/>
<g clip-path="url(#c24)">
<g opacity="1.0" filter="url(#b1_2)">
<rect x="1050.9" y="813.3" width="13.3" height="59.1" fill="#6a6a6a" rx="3.3200000000000047"/>
<rect x="1068.2" y="813.3" width="13.3" height="59.1" fill="#6a6a6a" rx="3.3200000000000047"/>
<rect x="1039.6" y="769.4" width="8.6" height="48.1" fill="#c0c0c0" rx="3.9840000000000053"/>
<rect x="1084.1" y="769.4" width="8.6" height="48.1" fill="#c0c0c0" rx="3.9840000000000053"/>
<rect x="1046.9" y="766.6" width="38.5" height="50.8" fill="#d0d0d0" rx="6.6400000000000095"/>
<ellipse cx="1066.2" cy="755.6" rx="8.6" ry="9.6" fill="#2a2a2a"/>
</g>
</g>
<rect x="1104.5" y="741.9" width="65.3" height="137.4" fill="url(#g25)"/>
<g clip-path="url(#c26)">
<g opacity="1.0" filter="url(#b1_2)">
<rect x="1122.1" y="813.3" width="13.1" height="59.1" fill="#e0e0e0" rx="3.264999999999998"/>
<rect x="1139.1" y="813.3" width="13.1" height="59.1" fill="#e0e0e0" rx="3.264999999999998"/>
<rect x="1111.0" y="769.4" width="8.5" height="48.1" fill="#d8d8d8" rx="3.917999999999997"/>
<rect x="1154.8" y="769.4" width="8.5" height="48.1" fill="#d8d8d8" rx="3.917999999999997"/>
<rect x="1118.2" y="766.6" width="37.9" height="50.8" fill="#e0e0e0" rx="6.529999999999996"/>
<ellipse cx="1137.2" cy="755.6" rx="8.5" ry="9.6" fill="#1a1a1a"/>
</g>
</g>
<rect x="1174.7" y="741.9" width="66.9" height="137.4" fill="url(#g27)"/>
<g clip-path="url(#c28)">
<g opacity="1.0" filter="url(#b1_2)">
<rect x="1192.8" y="813.3" width="13.4" height="59.1" fill="#d0d0d0" rx="3.3449999999999935"/>
<rect x="1210.2" y="813.3" width="13.4" height="59.1" fill="#d0d0d0" rx="3.3449999999999935"/>
<rect x="1181.4" y="769.4" width="8.7" height="48.1" fill="#b8b8b8" rx="4.013999999999991"/>
<rect x="1226.2" y="769.4" width="8.7" height="48.1" fill="#b8b8b8" rx="4.013999999999991"/>
<rect x="1188.7" y="766.6" width="38.8" height="50.8" fill="#c0c0c0" rx="6.689999999999987"/>
<ellipse cx="1208.2" cy="755.6" rx="8.7" ry="9.6" fill="#3a3a3a"/>
</g>
</g>
<rect x="905.0" y="770.6" width="38.6" height="3.5" fill="#8a8a8a" opacity="0.7"/>
<rect x="905.0" y="778.6" width="38.6" height="3.5" fill="#8a8a8a" opacity="0.7"/>
<rect x="905.0" y="786.6" width="38.6" height="3.5" fill="#8a8a8a" opacity="0.7"/>
<rect x="905.0" y="794.6" width="38.6" height="3.5" fill="#8a8a8a" opacity="0.7"/>
<rect x="905.0" y="802.6" width="38.6" height="3.5" fill="#8a8a8a" opacity="0.7"/>
<rect x="905.0" y="810.6" width="38.6" height="3.5" fill="#8a8a8a" opacity="0.7"/>
<rect x="158.3" y="1416.4" width="82.9" height="185.4" fill="url(#g29)"/>
<g clip-path="url(#c30)">
<g opacity="1.0" filter="url(#b1_2)">
<rect x="180.7" y="1514.7" width="16.6" height="77.9" fill="#5a6a9a" rx="4.1450000000000005"/>
<rect x="202.2" y="1514.7" width="16.6" height="77.9" fill="#5a6a9a" rx="4.1450000000000005"/>
<rect x="182.3" y="1564.7" width="13.3" height="27.8" fill="#9a8070" rx="4.1450000000000005"/>
<rect x="203.9" y="1564.7" width="13.3" height="27.8" fill="#9a8070" rx="4.1450000000000005"/>
<rect x="179.0" y="1587.0" width="18.2" height="9.3" fill="#d8d8d8" rx="2"/>
<rect x="202.2" y="1587.0" width="18.2" height="9.3" fill="#d8d8d8" rx="2"/>
<rect x="166.6" y="1449.8" width="10.8" height="70.5" fill="#b89880" rx="4.974"/>
<rect x="222.1" y="1449.8" width="10.8" height="70.5" fill="#b89880" rx="4.974"/>
<rect x="175.7" y="1446.1" width="48.1" height="74.2" fill="#d4bc1c" rx="8.290000000000001"/>
<ellipse cx="199.8" cy="1434.9" rx="10.8" ry="13.0" fill="#b08870"/>
<ellipse cx="199.8" cy="1428.5" rx="11.6" ry="8.3" fill="#201a18"/>
</g>
</g>
<rect x="158.3" y="1416.4" width="82.9" height="185.4" fill="none" stroke="#ff1a1a" stroke-width="2.5"/>
<rect x="158.3" y="1659.5" width="82.9" height="188.3" fill="url(#g31)"/>
<g clip-path="url(#c32)">
<g opacity="1.0" filter="url(#b1_2)">
<rect x="180.7" y="1759.3" width="16.6" height="79.1" fill="#5a6a9a" rx="4.1450000000000005"/>
<rect x="202.2" y="1759.3" width="16.6" height="79.1" fill="#5a6a9a" rx="4.1450000000000005"/>
<rect x="182.3" y="1810.1" width="13.3" height="28.2" fill="#9a8070" rx="4.1450000000000005"/>
<rect x="203.9" y="1810.1" width="13.3" height="28.2" fill="#9a8070" rx="4.1450000000000005"/>
<rect x="179.0" y="1832.7" width="18.2" height="9.4" fill="#d8d8d8" rx="2"/>
<rect x="202.2" y="1832.7" width="18.2" height="9.4" fill="#d8d8d8" rx="2"/>
<rect x="166.6" y="1693.4" width="10.8" height="71.6" fill="#b89880" rx="4.974"/>
<rect x="222.1" y="1693.4" width="10.8" height="71.6" fill="#b89880" rx="4.974"/>
<rect x="175.7" y="1689.6" width="48.1" height="75.3" fill="#d4bc1c" rx="8.290000000000001"/>
<ellipse cx="199.8" cy="1678.3" rx="10.8" ry="13.2" fill="#b08870"/>
<ellipse cx="199.8" cy="1671.7" rx="11.6" ry="8.5" fill="#201a18"/>
</g>
</g>
<rect x="158.3" y="1659.5" width="82.9" height="188.3" fill="none" stroke="#ff1a1a" stroke-width="2.5"/>
<rect x="285.3" y="1415.8" width="83.5" height="189.7" fill="url(#g33)"/>
<g clip-path="url(#c34)">
<g opacity="1.0" filter="url(#b1_2)">
<rect x="307.8" y="1514.4" width="16.7" height="81.6" fill="#4a5070" rx="4.175"/>
<rect x="329.6" y="1514.4" width="16.7" height="81.6" fill="#4a5070" rx="4.175"/>
<rect x="306.2" y="1590.3" width="18.4" height="9.5" fill="#c0a0a0" rx="2"/>
<rect x="329.6" y="1590.3" width="18.4" height="9.5" fill="#c0a0a0" rx="2"/>
<rect x="293.7" y="1453.7" width="10.9" height="66.4" fill="#b8a890" rx="5.01"/>
<rect x="349.6" y="1453.7" width="10.9" height="66.4" fill="#b8a890" rx="5.01"/>
<rect x="302.8" y="1449.9" width="48.4" height="70.2" fill="#b4a43c" rx="8.35"/>
<ellipse cx="327.1" cy="1434.8" rx="10.9" ry="13.3" fill="#a08070"/>
<ellipse cx="327.1" cy="1428.1" rx="11.7" ry="8.5" fill="#201a18"/>
</g>
</g>
<rect x="285.3" y="1415.8" width="83.5" height="189.7" fill="none" stroke="#111" stroke-width="4"/>
<rect x="414.5" y="1416.4" width="82.7" height="185.4" fill="url(#g35)"/>
<g clip-path="url(#c36)">
<g opacity="1.0" filter="url(#b1_2)">
<rect x="436.8" y="1498.0" width="16.5" height="94.6" fill="#1c1c1c" rx="4.135000000000001"/>
<rect x="458.3" y="1498.0" width="16.5" height="94.6" fill="#1c1c1c" rx="4.135000000000001"/>
<rect x="435.2" y="1587.0" width="18.2" height="9.3" fill="#e03838" rx="2"/>
<rect x="458.3" y="1587.0" width="18.2" height="9.3" fill="#e03838" rx="2"/>
<rect x="422.8" y="1447.9" width="10.8" height="55.6" fill="#b09080" rx="4.962"/>
<rect x="478.2" y="1447.9" width="10.8" height="55.6" fill="#b09080" rx="4.962"/>
<rect x="431.9" y="1444.2" width="48.0" height="59.3" fill="#a89494" rx="8.270000000000001"/>
<ellipse cx="455.9" cy="1431.2" rx="10.8" ry="13.0" fill="#a08070"/>
<ellipse cx="455.9" cy="1424.7" rx="11.6" ry="8.3" fill="#201a18"/>
</g>
</g>
<rect x="414.5" y="1416.4" width="82.7" height="185.4" fill="none" stroke="#1ab0ef" stroke-width="3"/>
<rect x="287.0" y="1659.0" width="83.0" height="189.0" fill="url(#g37)"/>
<g clip-path="url(#c38)">
<g opacity="1.0" filter="url(#b1_2)">
<rect x="309.4" y="1757.3" width="16.6" height="81.3" fill="#a8a8b0" rx="4.15"/>
<rect x="331.0" y="1757.3" width="16.6" height="81.3" fill="#a8a8b0" rx="4.15"/>
<rect x="307.8" y="1832.9" width="18.3" height="9.5" fill="#d0d0d0" rx="2"/>
<rect x="331.0" y="1832.9" width="18.3" height="9.5" fill="#d0d0d0" rx="2"/>
<rect x="295.3" y="1696.8" width="10.8" height="66.2" fill="#c8c0a0" rx="4.9799999999999995"/>
<rect x="350.9" y="1696.8" width="10.8" height="66.2" fill="#c8c0a0" rx="4.9799999999999995"/>
<rect x="304.4" y="1693.0" width="48.1" height="69.9" fill="#d8cc70" rx="8.3"/>
<ellipse cx="328.5" cy="1677.9" rx="10.8" ry="13.2" fill="#a09080"/>
<ellipse cx="328.5" cy="1671.3" rx="11.6" ry="8.5" fill="#201a18"/>
</g>
</g>
<rect x="287.0" y="1659.0" width="83.0" height="189.0" fill="none" stroke="#111" stroke-width="4"/>
<rect x="415.5" y="1659.5" width="82.2" height="188.3" fill="url(#g39)"/>
<g clip-path="url(#c40)">
<g opacity="1.0" filter="url(#b1_2)">
<rect x="437.7" y="1751.8" width="16.4" height="86.6" fill="#d8d8d8" rx="4.11"/>
<rect x="459.1" y="1751.8" width="16.4" height="86.6" fill="#d8d8d8" rx="4.11"/>
<rect x="436.1" y="1832.7" width="18.1" height="9.4" fill="#c8c8c8" rx="2"/>
<rect x="459.1" y="1832.7" width="18.1" height="9.4" fill="#c8c8c8" rx="2"/>
<rect x="423.7" y="1695.3" width="10.7" height="62.1" fill="#e0e0e0" rx="4.932"/>
<rect x="478.8" y="1695.3" width="10.7" height="62.1" fill="#e0e0e0" rx="4.932"/>
<rect x="432.8" y="1691.5" width="47.7" height="65.9" fill="#e4e4e4" rx="8.22"/>
<ellipse cx="456.6" cy="1676.4" rx="10.7" ry="13.2" fill="#d0d0d0"/>
<ellipse cx="456.6" cy="1669.9" rx="11.5" ry="8.5" fill="#151515"/>
</g>
</g>
<rect x="415.5" y="1659.5" width="82.2" height="188.3" fill="none" stroke="#1ab0ef" stroke-width="3"/>
<path d="M241.2,1518.3 L275.3,1518.3 L275.3,1512.3 L286.3,1523.3 L275.3,1534.3 L275.3,1528.3 L241.2,1528.3 Z" fill="#fff" stroke="#222" stroke-width="1.3"/>
<path d="M415.4,1518.3 L380,1518.3 L380,1512.3 L369,1523.3 L380,1534.3 L380,1528.3 L415.4,1528.3 Z" fill="#fff" stroke="#222" stroke-width="1.3"/>
<text x="247.0" y="1509.0" font-size="20.4" class="s b" textLength="34.6" lengthAdjust="spacingAndGlyphs">Mix</text>
<text x="375.7" y="1509.0" font-size="20.4" class="s b" textLength="34.3" lengthAdjust="spacingAndGlyphs">Mix</text>
<path d="M242,1762.0 L276,1762.0 L276,1756.0 L287,1767 L276,1778.0 L276,1772.0 L242,1772.0 Z" fill="#fff" stroke="#222" stroke-width="1.3"/>
<path d="M416,1762.0 L381,1762.0 L381,1756.0 L370,1767 L381,1778.0 L381,1772.0 L416,1772.0 Z" fill="#fff" stroke="#222" stroke-width="1.3"/>
<text x="247.5" y="1752.0" font-size="20.4" class="s b" textLength="34.5" lengthAdjust="spacingAndGlyphs">Mix</text>
<text x="376.0" y="1752.0" font-size="20.4" class="s b" textLength="34.5" lengthAdjust="spacingAndGlyphs">Mix</text>
<text x="145.6" y="1629.2" font-size="27" class="r" textLength="107.1" lengthAdjust="spacingAndGlyphs">Vis - ID 1</text>
<text x="401.8" y="1629.2" font-size="27" class="r" textLength="109.0" lengthAdjust="spacingAndGlyphs">Vis - ID 2</text>
<text x="145.0" y="1876.4" font-size="27" class="r" textLength="109.0" lengthAdjust="spacingAndGlyphs">Vis - ID 1</text>
<text x="402.5" y="1876.4" font-size="27" class="r" textLength="108.2" lengthAdjust="spacingAndGlyphs">Inf - ID 2</text>
<rect x="575.2" y="1415.5" width="82.8" height="187.2" fill="url(#g41)"/>
<g clip-path="url(#c42)">
<g opacity="1.0" filter="url(#b1_2)">
<rect x="597.6" y="1514.7" width="16.6" height="78.6" fill="#5a6a9a" rx="4.14"/>
<rect x="619.1" y="1514.7" width="16.6" height="78.6" fill="#5a6a9a" rx="4.14"/>
<rect x="599.2" y="1565.3" width="13.2" height="28.1" fill="#9a8070" rx="4.14"/>
<rect x="620.7" y="1565.3" width="13.2" height="28.1" fill="#9a8070" rx="4.14"/>
<rect x="595.9" y="1587.7" width="18.2" height="9.4" fill="#d8d8d8" rx="2"/>
<rect x="619.1" y="1587.7" width="18.2" height="9.4" fill="#d8d8d8" rx="2"/>
<rect x="583.5" y="1449.2" width="10.8" height="71.1" fill="#b89880" rx="4.968"/>
<rect x="639.0" y="1449.2" width="10.8" height="71.1" fill="#b89880" rx="4.968"/>
<rect x="592.6" y="1445.5" width="48.0" height="74.9" fill="#d4bc1c" rx="8.28"/>
<ellipse cx="616.6" cy="1434.2" rx="10.8" ry="13.1" fill="#b08870"/>
<ellipse cx="616.6" cy="1427.7" rx="11.6" ry="8.4" fill="#201a18"/>
</g>
</g>
<rect x="575.2" y="1415.5" width="82.8" height="187.2" fill="#f4f4f0" opacity="0.72"/>
<rect x="575.2" y="1415.5" width="82.8" height="187.2" fill="none" stroke="#ff1a1a" stroke-width="3"/>
<rect x="606.3" y="1443.5" width="43.9" height="50.9" fill="#c8b030"/>
<rect x="606.3" y="1443.5" width="43.9" height="12.0" fill="#8a7a50"/>
<rect x="606.3" y="1443.5" width="43.9" height="50.9" fill="none" stroke="#ff1a1a" stroke-width="2.5"/>
<rect x="704.2" y="1415.5" width="81.9" height="187.2" fill="url(#g43)"/>
<g clip-path="url(#c44)">
<g opacity="1.0" filter="url(#b1_2)">
<rect x="726.3" y="1497.9" width="16.4" height="95.5" fill="#1c1c1c" rx="4.095000000000001"/>
<rect x="747.6" y="1497.9" width="16.4" height="95.5" fill="#1c1c1c" rx="4.095000000000001"/>
<rect x="724.7" y="1587.7" width="18.0" height="9.4" fill="#e03838" rx="2"/>
<rect x="747.6" y="1587.7" width="18.0" height="9.4" fill="#e03838" rx="2"/>
<rect x="712.4" y="1447.3" width="10.6" height="56.2" fill="#b09080" rx="4.914000000000001"/>
<rect x="767.3" y="1447.3" width="10.6" height="56.2" fill="#b09080" rx="4.914000000000001"/>
<rect x="721.4" y="1443.6" width="47.5" height="59.9" fill="#a89494" rx="8.190000000000001"/>
<ellipse cx="745.2" cy="1430.5" rx="10.6" ry="13.1" fill="#a08070"/>
<ellipse cx="745.2" cy="1423.9" rx="11.5" ry="8.4" fill="#201a18"/>
</g>
</g>
<rect x="704.2" y="1415.5" width="81.9" height="187.2" fill="none" stroke="#1ab0ef" stroke-width="3"/>
<rect x="832.3" y="1415.5" width="81.9" height="187.2" fill="url(#g45)"/>
<g clip-path="url(#c46)">
<g opacity="1.0" filter="url(#b1_2)">
<rect x="854.4" y="1497.9" width="16.4" height="95.5" fill="#1c1c1c" rx="4.095000000000001"/>
<rect x="875.7" y="1497.9" width="16.4" height="95.5" fill="#1c1c1c" rx="4.095000000000001"/>
<rect x="852.8" y="1587.7" width="18.0" height="9.4" fill="#e03838" rx="2"/>
<rect x="875.7" y="1587.7" width="18.0" height="9.4" fill="#e03838" rx="2"/>
<rect x="840.5" y="1447.3" width="10.6" height="56.2" fill="#b09080" rx="4.914000000000001"/>
<rect x="895.4" y="1447.3" width="10.6" height="56.2" fill="#b09080" rx="4.914000000000001"/>
<rect x="849.5" y="1443.6" width="47.5" height="59.9" fill="#a89494" rx="8.190000000000001"/>
<ellipse cx="873.2" cy="1430.5" rx="10.6" ry="13.1" fill="#a08070"/>
<ellipse cx="873.2" cy="1423.9" rx="11.5" ry="8.4" fill="#201a18"/>
</g>
</g>
<rect x="832.3" y="1415.5" width="81.9" height="187.2" fill="none" stroke="#1ab0ef" stroke-width="3"/>
<rect x="735.6" y="1444.7" width="44.3" height="50.8" fill="#c8b030"/>
<rect x="735.6" y="1444.7" width="44.3" height="50.8" fill="none" stroke="#ff1a1a" stroke-width="2.5"/>
<rect x="861.8" y="1443.5" width="43.5" height="50.9" fill="#e2e0da"/>
<rect x="861.8" y="1443.5" width="43.5" height="50.9" fill="none" stroke="#1ab0ef" stroke-width="2.5"/>
<path d="M658,1465.0 L693,1465.0 L693,1459.0 L704,1470 L693,1481.0 L693,1475.0 L658,1475.0 Z" fill="#fff" stroke="#222" stroke-width="1.3"/>
<path d="M832,1465.0 L797,1465.0 L797,1459.0 L786,1470 L797,1481.0 L797,1475.0 L832,1475.0 Z" fill="#fff" stroke="#222" stroke-width="1.3"/>
<text x="663.0" y="1459.0" font-size="20.4" class="s b" textLength="34.0" lengthAdjust="spacingAndGlyphs">Mix</text>
<text x="791.0" y="1459.0" font-size="20.4" class="s b" textLength="35.0" lengthAdjust="spacingAndGlyphs">Mix</text>
<rect x="576.4" y="1661.4" width="82.3" height="189.1" fill="url(#g47)"/>
<g clip-path="url(#c48)">
<g opacity="1.0" filter="url(#b1_2)">
<rect x="598.6" y="1761.6" width="16.5" height="79.4" fill="#5a6a9a" rx="4.115"/>
<rect x="620.0" y="1761.6" width="16.5" height="79.4" fill="#5a6a9a" rx="4.115"/>
<rect x="600.3" y="1812.7" width="13.2" height="28.4" fill="#9a8070" rx="4.115"/>
<rect x="621.7" y="1812.7" width="13.2" height="28.4" fill="#9a8070" rx="4.115"/>
<rect x="597.0" y="1835.4" width="18.1" height="9.5" fill="#d8d8d8" rx="2"/>
<rect x="620.0" y="1835.4" width="18.1" height="9.5" fill="#d8d8d8" rx="2"/>
<rect x="584.6" y="1695.4" width="10.7" height="71.9" fill="#b89880" rx="4.938"/>
<rect x="639.8" y="1695.4" width="10.7" height="71.9" fill="#b89880" rx="4.938"/>
<rect x="593.7" y="1691.7" width="47.7" height="75.6" fill="#d4bc1c" rx="8.23"/>
<ellipse cx="617.5" cy="1680.3" rx="10.7" ry="13.2" fill="#b08870"/>
<ellipse cx="617.5" cy="1673.7" rx="11.5" ry="8.5" fill="#201a18"/>
</g>
</g>
<rect x="576.4" y="1661.4" width="82.3" height="189.1" fill="#f4f4f0" opacity="0.72"/>
<rect x="576.4" y="1661.4" width="82.3" height="189.1" fill="none" stroke="#ff1a1a" stroke-width="3"/>
<rect x="585.0" y="1770.0" width="51.0" height="36.6" fill="#4a5a88"/>
<rect x="585.0" y="1770.0" width="51.0" height="8.0" fill="#c8b030"/>
<rect x="585.0" y="1770.0" width="51.0" height="36.6" fill="none" stroke="#ff1a1a" stroke-width="2.5"/>
<rect x="705.3" y="1661.4" width="81.3" height="188.5" fill="url(#g49)"/>
<g clip-path="url(#c50)">
<g opacity="1.0" filter="url(#b1_2)">
<rect x="727.3" y="1753.8" width="16.3" height="86.7" fill="#d8d8d8" rx="4.065"/>
<rect x="748.4" y="1753.8" width="16.3" height="86.7" fill="#d8d8d8" rx="4.065"/>
<rect x="725.6" y="1834.8" width="17.9" height="9.4" fill="#c8c8c8" rx="2"/>
<rect x="748.4" y="1834.8" width="17.9" height="9.4" fill="#c8c8c8" rx="2"/>
<rect x="713.4" y="1697.2" width="10.6" height="62.2" fill="#e0e0e0" rx="4.877999999999999"/>
<rect x="767.9" y="1697.2" width="10.6" height="62.2" fill="#e0e0e0" rx="4.877999999999999"/>
<rect x="722.4" y="1693.4" width="47.2" height="66.0" fill="#e4e4e4" rx="8.13"/>
<ellipse cx="745.9" cy="1678.4" rx="10.6" ry="13.2" fill="#d0d0d0"/>
<ellipse cx="745.9" cy="1671.8" rx="11.4" ry="8.5" fill="#151515"/>
</g>
</g>
<rect x="705.3" y="1661.4" width="81.3" height="188.5" fill="none" stroke="#1ab0ef" stroke-width="3"/>
<rect x="833.5" y="1661.4" width="81.3" height="188.5" fill="url(#g51)"/>
<g clip-path="url(#c52)">
<g opacity="1.0" filter="url(#b1_2)">
<rect x="855.5" y="1753.8" width="16.3" height="86.7" fill="#d8d8d8" rx="4.065"/>
<rect x="876.6" y="1753.8" width="16.3" height="86.7" fill="#d8d8d8" rx="4.065"/>
<rect x="853.8" y="1834.8" width="17.9" height="9.4" fill="#c8c8c8" rx="2"/>
<rect x="876.6" y="1834.8" width="17.9" height="9.4" fill="#c8c8c8" rx="2"/>
<rect x="841.6" y="1697.2" width="10.6" height="62.2" fill="#e0e0e0" rx="4.877999999999999"/>
<rect x="896.1" y="1697.2" width="10.6" height="62.2" fill="#e0e0e0" rx="4.877999999999999"/>
<rect x="850.6" y="1693.4" width="47.2" height="66.0" fill="#e4e4e4" rx="8.13"/>
<ellipse cx="874.1" cy="1678.4" rx="10.6" ry="13.2" fill="#d0d0d0"/>
<ellipse cx="874.1" cy="1671.8" rx="11.4" ry="8.5" fill="#151515"/>
</g>
</g>
<rect x="833.5" y="1661.4" width="81.3" height="188.5" fill="none" stroke="#1ab0ef" stroke-width="3"/>
<rect x="713.9" y="1770.0" width="49.7" height="36.6" fill="#4a5a88"/>
<rect x="713.9" y="1770.0" width="49.7" height="8.0" fill="#c8b030"/>
<rect x="713.9" y="1770.0" width="49.7" height="36.6" fill="none" stroke="#ff1a1a" stroke-width="2.5"/>
<rect x="841.3" y="1770.0" width="50.4" height="36.6" fill="#d8d8d8"/>
<rect x="841.3" y="1770.0" width="50.4" height="36.6" fill="none" stroke="#1ab0ef" stroke-width="2.5"/>
<path d="M659,1746.5 L694,1746.5 L694,1740.5 L705,1751.5 L694,1762.5 L694,1756.5 L659,1756.5 Z" fill="#fff" stroke="#222" stroke-width="1.3"/>
<path d="M833,1746.5 L798,1746.5 L798,1740.5 L787,1751.5 L798,1762.5 L798,1756.5 L833,1756.5 Z" fill="#fff" stroke="#222" stroke-width="1.3"/>
<text x="664.0" y="1741.0" font-size="20.4" class="s b" textLength="34.0" lengthAdjust="spacingAndGlyphs">Mix</text>
<text x="792.0" y="1741.0" font-size="20.4" class="s b" textLength="35.0" lengthAdjust="spacingAndGlyphs">Mix</text>
<text x="563.6" y="1631.8" font-size="27" class="r" textLength="106.8" lengthAdjust="spacingAndGlyphs">Vis - ID 1</text>
<text x="819.0" y="1631.8" font-size="27" class="r" textLength="109.0" lengthAdjust="spacingAndGlyphs">Vis - ID 2</text>
<text x="562.8" y="1877.7" font-size="27" class="r" textLength="108.2" lengthAdjust="spacingAndGlyphs">Vis - ID 1</text>
<text x="820.7" y="1877.7" font-size="27" class="r" textLength="107.3" lengthAdjust="spacingAndGlyphs">Inf - ID 2</text>
<rect x="992.2" y="1415.5" width="82.4" height="187.2" fill="url(#g53)"/>
<g clip-path="url(#c54)">
<g opacity="1.0" filter="url(#b1_2)">
<rect x="1014.4" y="1514.7" width="16.5" height="78.6" fill="#5a6a9a" rx="4.12"/>
<rect x="1035.9" y="1514.7" width="16.5" height="78.6" fill="#5a6a9a" rx="4.12"/>
<rect x="1016.1" y="1565.3" width="13.2" height="28.1" fill="#9a8070" rx="4.12"/>
<rect x="1037.5" y="1565.3" width="13.2" height="28.1" fill="#9a8070" rx="4.12"/>
<rect x="1012.8" y="1587.7" width="18.1" height="9.4" fill="#d8d8d8" rx="2"/>
<rect x="1035.9" y="1587.7" width="18.1" height="9.4" fill="#d8d8d8" rx="2"/>
<rect x="1000.4" y="1449.2" width="10.7" height="71.1" fill="#b89880" rx="4.944"/>
<rect x="1055.6" y="1449.2" width="10.7" height="71.1" fill="#b89880" rx="4.944"/>
<rect x="1009.5" y="1445.5" width="47.8" height="74.9" fill="#d4bc1c" rx="8.24"/>
<ellipse cx="1033.4" cy="1434.2" rx="10.7" ry="13.1" fill="#b08870"/>
<ellipse cx="1033.4" cy="1427.7" rx="11.5" ry="8.4" fill="#201a18"/>
</g>
</g>
<rect x="1012.8" y="1415.5" width="20.6" height="15.6" fill="#c01818"/>
<rect x="992.2" y="1477.9" width="20.6" height="15.6" fill="#ff2a2a"/>
<rect x="1054.0" y="1477.9" width="20.6" height="15.6" fill="#ff2a2a"/>
<rect x="1012.8" y="1524.7" width="20.6" height="15.6" fill="#ff5a5a"/>
<rect x="1033.4" y="1524.7" width="20.6" height="15.6" fill="#ff5a5a"/>
<rect x="1012.8" y="1571.5" width="20.6" height="15.6" fill="#ff8a8a"/>
<rect x="1054.0" y="1571.5" width="20.6" height="15.6" fill="#ff8a8a"/>
<line x1="992.2" y1="1415.5" x2="992.2" y2="1602.7" stroke="#111" stroke-width="2.2" />
<line x1="1012.8" y1="1415.5" x2="1012.8" y2="1602.7" stroke="#111" stroke-width="2.2" />
<line x1="1033.4" y1="1415.5" x2="1033.4" y2="1602.7" stroke="#111" stroke-width="2.2" />
<line x1="1054.0" y1="1415.5" x2="1054.0" y2="1602.7" stroke="#111" stroke-width="2.2" />
<line x1="1074.6" y1="1415.5" x2="1074.6" y2="1602.7" stroke="#111" stroke-width="2.2" />
<line x1="992.2" y1="1415.5" x2="1074.6" y2="1415.5" stroke="#111" stroke-width="2.2" />
<line x1="992.2" y1="1431.1" x2="1074.6" y2="1431.1" stroke="#111" stroke-width="2.2" />
<line x1="992.2" y1="1446.7" x2="1074.6" y2="1446.7" stroke="#111" stroke-width="2.2" />
<line x1="992.2" y1="1462.3" x2="1074.6" y2="1462.3" stroke="#111" stroke-width="2.2" />
<line x1="992.2" y1="1477.9" x2="1074.6" y2="1477.9" stroke="#111" stroke-width="2.2" />
<line x1="992.2" y1="1493.5" x2="1074.6" y2="1493.5" stroke="#111" stroke-width="2.2" />
<line x1="992.2" y1="1509.1" x2="1074.6" y2="1509.1" stroke="#111" stroke-width="2.2" />
<line x1="992.2" y1="1524.7" x2="1074.6" y2="1524.7" stroke="#111" stroke-width="2.2" />
<line x1="992.2" y1="1540.3" x2="1074.6" y2="1540.3" stroke="#111" stroke-width="2.2" />
<line x1="992.2" y1="1555.9" x2="1074.6" y2="1555.9" stroke="#111" stroke-width="2.2" />
<line x1="992.2" y1="1571.5" x2="1074.6" y2="1571.5" stroke="#111" stroke-width="2.2" />
<line x1="992.2" y1="1587.1" x2="1074.6" y2="1587.1" stroke="#111" stroke-width="2.2" />
<line x1="992.2" y1="1602.7" x2="1074.6" y2="1602.7" stroke="#111" stroke-width="2.2" />
<rect x="1246.2" y="1415.5" width="82.0" height="187.2" fill="url(#g55)"/>
<g clip-path="url(#c56)">
<g opacity="1.0" filter="url(#b1_2)">
<rect x="1268.3" y="1497.9" width="16.4" height="95.5" fill="#121212" rx="4.1000000000000005"/>
<rect x="1289.7" y="1497.9" width="16.4" height="95.5" fill="#121212" rx="4.1000000000000005"/>
<rect x="1266.7" y="1587.7" width="18.0" height="9.4" fill="#e03838" rx="2"/>
<rect x="1289.7" y="1587.7" width="18.0" height="9.4" fill="#e03838" rx="2"/>
<rect x="1254.4" y="1447.3" width="10.7" height="56.2" fill="#6a5a58" rx="4.92"/>
<rect x="1309.3" y="1447.3" width="10.7" height="56.2" fill="#6a5a58" rx="4.92"/>
<rect x="1263.4" y="1443.6" width="47.6" height="59.9" fill="#3e3636" rx="8.200000000000001"/>
<ellipse cx="1287.2" cy="1430.5" rx="10.7" ry="13.1" fill="#a08070"/>
<ellipse cx="1287.2" cy="1423.9" rx="11.5" ry="8.4" fill="#201a18"/>
</g>
</g>
<rect x="1246.2" y="1446.7" width="20.5" height="15.6" fill="#0a2a70"/>
<rect x="1307.7" y="1446.7" width="20.5" height="15.6" fill="#0a2a70"/>
<rect x="1266.7" y="1462.3" width="20.5" height="15.6" fill="#2a5ab0"/>
<rect x="1287.2" y="1462.3" width="20.5" height="15.6" fill="#2a5ab0"/>
<rect x="1287.2" y="1555.9" width="20.5" height="15.6" fill="#4a90e0"/>
<rect x="1266.7" y="1571.5" width="20.5" height="15.6" fill="#4a90e0"/>
<rect x="1287.2" y="1571.5" width="20.5" height="15.6" fill="#90e0f8"/>
<rect x="1266.7" y="1587.1" width="20.5" height="15.6" fill="#90e0f8"/>
<line x1="1246.2" y1="1415.5" x2="1246.2" y2="1602.7" stroke="#111" stroke-width="2.2" />
<line x1="1266.7" y1="1415.5" x2="1266.7" y2="1602.7" stroke="#111" stroke-width="2.2" />
<line x1="1287.2" y1="1415.5" x2="1287.2" y2="1602.7" stroke="#111" stroke-width="2.2" />
<line x1="1307.7" y1="1415.5" x2="1307.7" y2="1602.7" stroke="#111" stroke-width="2.2" />
<line x1="1328.2" y1="1415.5" x2="1328.2" y2="1602.7" stroke="#111" stroke-width="2.2" />
<line x1="1246.2" y1="1415.5" x2="1328.2" y2="1415.5" stroke="#111" stroke-width="2.2" />
<line x1="1246.2" y1="1431.1" x2="1328.2" y2="1431.1" stroke="#111" stroke-width="2.2" />
<line x1="1246.2" y1="1446.7" x2="1328.2" y2="1446.7" stroke="#111" stroke-width="2.2" />
<line x1="1246.2" y1="1462.3" x2="1328.2" y2="1462.3" stroke="#111" stroke-width="2.2" />
<line x1="1246.2" y1="1477.9" x2="1328.2" y2="1477.9" stroke="#111" stroke-width="2.2" />
<line x1="1246.2" y1="1493.5" x2="1328.2" y2="1493.5" stroke="#111" stroke-width="2.2" />
<line x1="1246.2" y1="1509.1" x2="1328.2" y2="1509.1" stroke="#111" stroke-width="2.2" />
<line x1="1246.2" y1="1524.7" x2="1328.2" y2="1524.7" stroke="#111" stroke-width="2.2" />
<line x1="1246.2" y1="1540.3" x2="1328.2" y2="1540.3" stroke="#111" stroke-width="2.2" />
<line x1="1246.2" y1="1555.9" x2="1328.2" y2="1555.9" stroke="#111" stroke-width="2.2" />
<line x1="1246.2" y1="1571.5" x2="1328.2" y2="1571.5" stroke="#111" stroke-width="2.2" />
<line x1="1246.2" y1="1587.1" x2="1328.2" y2="1587.1" stroke="#111" stroke-width="2.2" />
<line x1="1246.2" y1="1602.7" x2="1328.2" y2="1602.7" stroke="#111" stroke-width="2.2" />
<rect x="1077.0" y="1416.5" width="65.5" height="185.2" fill="none" stroke="#111" stroke-width="3" rx="12" stroke-dasharray="2.5 4" stroke-linecap="round"/>
<rect x="1177.0" y="1416.5" width="67.0" height="185.2" fill="none" stroke="#111" stroke-width="3" rx="12" stroke-dasharray="2.5 4" stroke-linecap="round"/>
<path d="M1088,1454.5 L1119,1432.5 L1131,1426.5 L1131,1436.5 L1100,1464.5 L1088,1464.5 Z" fill="#a81c1c" stroke="#222" stroke-width="1"/>
<path d="M1088,1454.5 L1100,1454.5 L1131,1426.5 " fill="none" stroke="#222" stroke-width="1"/>
<rect x="1088.0" y="1454.5" width="12.0" height="10.0" fill="#a81c1c" stroke="#222" stroke-width="1" opacity="0.9"/>
<path d="M1088,1496.5 L1119,1474.5 L1131,1468.5 L1131,1478.5 L1100,1506.5 L1088,1506.5 Z" fill="#e42828" stroke="#222" stroke-width="1"/>
<path d="M1088,1496.5 L1100,1496.5 L1131,1468.5 " fill="none" stroke="#222" stroke-width="1"/>
<rect x="1088.0" y="1496.5" width="12.0" height="10.0" fill="#e42828" stroke="#222" stroke-width="1" opacity="0.9"/>
<path d="M1088,1538.5 L1119,1516.5 L1131,1510.5 L1131,1520.5 L1100,1548.5 L1088,1548.5 Z" fill="#f05a5a" stroke="#222" stroke-width="1"/>
<path d="M1088,1538.5 L1100,1538.5 L1131,1510.5 " fill="none" stroke="#222" stroke-width="1"/>
<rect x="1088.0" y="1538.5" width="12.0" height="10.0" fill="#f05a5a" stroke="#222" stroke-width="1" opacity="0.9"/>
<path d="M1088,1580.5 L1119,1558.5 L1131,1552.5 L1131,1562.5 L1100,1590.5 L1088,1590.5 Z" fill="#f89898" stroke="#222" stroke-width="1"/>
<path d="M1088,1580.5 L1100,1580.5 L1131,1552.5 " fill="none" stroke="#222" stroke-width="1"/>
<rect x="1088.0" y="1580.5" width="12.0" height="10.0" fill="#f89898" stroke="#222" stroke-width="1" opacity="0.9"/>
<path d="M1190,1454.5 L1221,1432.5 L1233,1426.5 L1233,1436.5 L1202,1464.5 L1190,1464.5 Z" fill="#0c2a6c" stroke="#222" stroke-width="1"/>
<path d="M1190,1454.5 L1202,1454.5 L1233,1426.5 " fill="none" stroke="#222" stroke-width="1"/>
<rect x="1190.0" y="1454.5" width="12.0" height="10.0" fill="#0c2a6c" stroke="#222" stroke-width="1" opacity="0.9"/>
<path d="M1190,1496.5 L1221,1474.5 L1233,1468.5 L1233,1478.5 L1202,1506.5 L1190,1506.5 Z" fill="#2c5aa8" stroke="#222" stroke-width="1"/>
<path d="M1190,1496.5 L1202,1496.5 L1233,1468.5 " fill="none" stroke="#222" stroke-width="1"/>
<rect x="1190.0" y="1496.5" width="12.0" height="10.0" fill="#2c5aa8" stroke="#222" stroke-width="1" opacity="0.9"/>
<path d="M1190,1538.5 L1221,1516.5 L1233,1510.5 L1233,1520.5 L1202,1548.5 L1190,1548.5 Z" fill="#4a90e0" stroke="#222" stroke-width="1"/>
<path d="M1190,1538.5 L1202,1538.5 L1233,1510.5 " fill="none" stroke="#222" stroke-width="1"/>
<rect x="1190.0" y="1538.5" width="12.0" height="10.0" fill="#4a90e0" stroke="#222" stroke-width="1" opacity="0.9"/>
<path d="M1190,1580.5 L1221,1558.5 L1233,1552.5 L1233,1562.5 L1202,1590.5 L1190,1590.5 Z" fill="#98e4f8" stroke="#222" stroke-width="1"/>
<path d="M1190,1580.5 L1202,1580.5 L1233,1552.5 " fill="none" stroke="#222" stroke-width="1"/>
<rect x="1190.0" y="1580.5" width="12.0" height="10.0" fill="#98e4f8" stroke="#222" stroke-width="1" opacity="0.9"/>
<rect x="992.2" y="1662.0" width="82.4" height="188.5" fill="url(#g57)"/>
<g clip-path="url(#c58)">
<g opacity="1.0" filter="url(#b1_2)">
<rect x="1014.4" y="1761.9" width="16.5" height="79.2" fill="#5a6a9a" rx="4.12"/>
<rect x="1035.9" y="1761.9" width="16.5" height="79.2" fill="#5a6a9a" rx="4.12"/>
<rect x="1016.1" y="1812.8" width="13.2" height="28.3" fill="#9a8070" rx="4.12"/>
<rect x="1037.5" y="1812.8" width="13.2" height="28.3" fill="#9a8070" rx="4.12"/>
<rect x="1012.8" y="1835.4" width="18.1" height="9.4" fill="#d8d8d8" rx="2"/>
<rect x="1035.9" y="1835.4" width="18.1" height="9.4" fill="#d8d8d8" rx="2"/>
<rect x="1000.4" y="1695.9" width="10.7" height="71.6" fill="#b89880" rx="4.944"/>
<rect x="1055.6" y="1695.9" width="10.7" height="71.6" fill="#b89880" rx="4.944"/>
<rect x="1009.5" y="1692.2" width="47.8" height="75.4" fill="#d4bc1c" rx="8.24"/>
<ellipse cx="1033.4" cy="1680.8" rx="10.7" ry="13.2" fill="#b08870"/>
<ellipse cx="1033.4" cy="1674.3" rx="11.5" ry="8.5" fill="#201a18"/>
</g>
</g>
<rect x="1012.8" y="1662.0" width="20.6" height="15.7" fill="#c01818"/>
<rect x="992.2" y="1724.8" width="20.6" height="15.7" fill="#ff2a2a"/>
<rect x="1054.0" y="1724.8" width="20.6" height="15.7" fill="#ff2a2a"/>
<rect x="1012.8" y="1772.0" width="20.6" height="15.7" fill="#ff5a5a"/>
<rect x="1033.4" y="1772.0" width="20.6" height="15.7" fill="#ff5a5a"/>
<rect x="1012.8" y="1819.1" width="20.6" height="15.7" fill="#ff8a8a"/>
<rect x="1054.0" y="1819.1" width="20.6" height="15.7" fill="#ff8a8a"/>
<line x1="992.2" y1="1662.0" x2="992.2" y2="1850.5" stroke="#111" stroke-width="2.2" />
<line x1="1012.8" y1="1662.0" x2="1012.8" y2="1850.5" stroke="#111" stroke-width="2.2" />
<line x1="1033.4" y1="1662.0" x2="1033.4" y2="1850.5" stroke="#111" stroke-width="2.2" />
<line x1="1054.0" y1="1662.0" x2="1054.0" y2="1850.5" stroke="#111" stroke-width="2.2" />
<line x1="1074.6" y1="1662.0" x2="1074.6" y2="1850.5" stroke="#111" stroke-width="2.2" />
<line x1="992.2" y1="1662.0" x2="1074.6" y2="1662.0" stroke="#111" stroke-width="2.2" />
<line x1="992.2" y1="1677.7" x2="1074.6" y2="1677.7" stroke="#111" stroke-width="2.2" />
<line x1="992.2" y1="1693.4" x2="1074.6" y2="1693.4" stroke="#111" stroke-width="2.2" />
<line x1="992.2" y1="1709.1" x2="1074.6" y2="1709.1" stroke="#111" stroke-width="2.2" />
<line x1="992.2" y1="1724.8" x2="1074.6" y2="1724.8" stroke="#111" stroke-width="2.2" />
<line x1="992.2" y1="1740.5" x2="1074.6" y2="1740.5" stroke="#111" stroke-width="2.2" />
<line x1="992.2" y1="1756.2" x2="1074.6" y2="1756.2" stroke="#111" stroke-width="2.2" />
<line x1="992.2" y1="1772.0" x2="1074.6" y2="1772.0" stroke="#111" stroke-width="2.2" />
<line x1="992.2" y1="1787.7" x2="1074.6" y2="1787.7" stroke="#111" stroke-width="2.2" />
<line x1="992.2" y1="1803.4" x2="1074.6" y2="1803.4" stroke="#111" stroke-width="2.2" />
<line x1="992.2" y1="1819.1" x2="1074.6" y2="1819.1" stroke="#111" stroke-width="2.2" />
<line x1="992.2" y1="1834.8" x2="1074.6" y2="1834.8" stroke="#111" stroke-width="2.2" />
<line x1="992.2" y1="1850.5" x2="1074.6" y2="1850.5" stroke="#111" stroke-width="2.2" />
<rect x="1247.4" y="1662.0" width="83.5" height="188.5" fill="url(#g59)"/>
<g clip-path="url(#c60)">
<g opacity="1.0" filter="url(#b1_2)">
<rect x="1269.9" y="1754.4" width="16.7" height="86.7" fill="#d8d8d8" rx="4.175"/>
<rect x="1291.7" y="1754.4" width="16.7" height="86.7" fill="#d8d8d8" rx="4.175"/>
<rect x="1268.3" y="1835.4" width="18.4" height="9.4" fill="#c8c8c8" rx="2"/>
<rect x="1291.7" y="1835.4" width="18.4" height="9.4" fill="#c8c8c8" rx="2"/>
<rect x="1255.8" y="1697.8" width="10.9" height="62.2" fill="#e0e0e0" rx="5.01"/>
<rect x="1311.7" y="1697.8" width="10.9" height="62.2" fill="#e0e0e0" rx="5.01"/>
<rect x="1264.9" y="1694.0" width="48.4" height="66.0" fill="#e4e4e4" rx="8.35"/>
<ellipse cx="1289.2" cy="1679.0" rx="10.9" ry="13.2" fill="#d0d0d0"/>
<ellipse cx="1289.2" cy="1672.4" rx="11.7" ry="8.5" fill="#151515"/>
</g>
</g>
<rect x="1268.3" y="1693.4" width="20.9" height="15.7" fill="#0a2a70"/>
<rect x="1310.0" y="1693.4" width="20.9" height="15.7" fill="#0a2a70"/>
<rect x="1268.3" y="1709.1" width="20.9" height="15.7" fill="#2a5ab0"/>
<rect x="1289.2" y="1709.1" width="20.9" height="15.7" fill="#2a5ab0"/>
<rect x="1289.2" y="1724.8" width="20.9" height="15.7" fill="#2a5ab0"/>
<rect x="1289.2" y="1803.4" width="20.9" height="15.7" fill="#4a90e0"/>
<rect x="1268.3" y="1819.1" width="20.9" height="15.7" fill="#4a90e0"/>
<rect x="1289.2" y="1819.1" width="20.9" height="15.7" fill="#90e0f8"/>
<rect x="1268.3" y="1834.8" width="20.9" height="15.7" fill="#90e0f8"/>
<line x1="1247.4" y1="1662.0" x2="1247.4" y2="1850.5" stroke="#111" stroke-width="2.2" />
<line x1="1268.3" y1="1662.0" x2="1268.3" y2="1850.5" stroke="#111" stroke-width="2.2" />
<line x1="1289.2" y1="1662.0" x2="1289.2" y2="1850.5" stroke="#111" stroke-width="2.2" />
<line x1="1310.0" y1="1662.0" x2="1310.0" y2="1850.5" stroke="#111" stroke-width="2.2" />
<line x1="1330.9" y1="1662.0" x2="1330.9" y2="1850.5" stroke="#111" stroke-width="2.2" />
<line x1="1247.4" y1="1662.0" x2="1330.9" y2="1662.0" stroke="#111" stroke-width="2.2" />
<line x1="1247.4" y1="1677.7" x2="1330.9" y2="1677.7" stroke="#111" stroke-width="2.2" />
<line x1="1247.4" y1="1693.4" x2="1330.9" y2="1693.4" stroke="#111" stroke-width="2.2" />
<line x1="1247.4" y1="1709.1" x2="1330.9" y2="1709.1" stroke="#111" stroke-width="2.2" />
<line x1="1247.4" y1="1724.8" x2="1330.9" y2="1724.8" stroke="#111" stroke-width="2.2" />
<line x1="1247.4" y1="1740.5" x2="1330.9" y2="1740.5" stroke="#111" stroke-width="2.2" />
<line x1="1247.4" y1="1756.2" x2="1330.9" y2="1756.2" stroke="#111" stroke-width="2.2" />
<line x1="1247.4" y1="1772.0" x2="1330.9" y2="1772.0" stroke="#111" stroke-width="2.2" />
<line x1="1247.4" y1="1787.7" x2="1330.9" y2="1787.7" stroke="#111" stroke-width="2.2" />
<line x1="1247.4" y1="1803.4" x2="1330.9" y2="1803.4" stroke="#111" stroke-width="2.2" />
<line x1="1247.4" y1="1819.1" x2="1330.9" y2="1819.1" stroke="#111" stroke-width="2.2" />
<line x1="1247.4" y1="1834.8" x2="1330.9" y2="1834.8" stroke="#111" stroke-width="2.2" />
<line x1="1247.4" y1="1850.5" x2="1330.9" y2="1850.5" stroke="#111" stroke-width="2.2" />
<rect x="1077.0" y="1663.0" width="65.5" height="186.5" fill="none" stroke="#111" stroke-width="3" rx="12" stroke-dasharray="2.5 4" stroke-linecap="round"/>
<rect x="1177.0" y="1663.0" width="67.0" height="186.5" fill="none" stroke="#111" stroke-width="3" rx="12" stroke-dasharray="2.5 4" stroke-linecap="round"/>
<path d="M1088,1701 L1119,1679 L1131,1673 L1131,1683 L1100,1711 L1088,1711 Z" fill="#a81c1c" stroke="#222" stroke-width="1"/>
<path d="M1088,1701 L1100,1701 L1131,1673 " fill="none" stroke="#222" stroke-width="1"/>
<rect x="1088.0" y="1701.0" width="12.0" height="10.0" fill="#a81c1c" stroke="#222" stroke-width="1" opacity="0.9"/>
<path d="M1088,1743 L1119,1721 L1131,1715 L1131,1725 L1100,1753 L1088,1753 Z" fill="#e42828" stroke="#222" stroke-width="1"/>
<path d="M1088,1743 L1100,1743 L1131,1715 " fill="none" stroke="#222" stroke-width="1"/>
<rect x="1088.0" y="1743.0" width="12.0" height="10.0" fill="#e42828" stroke="#222" stroke-width="1" opacity="0.9"/>
<path d="M1088,1785 L1119,1763 L1131,1757 L1131,1767 L1100,1795 L1088,1795 Z" fill="#f05a5a" stroke="#222" stroke-width="1"/>
<path d="M1088,1785 L1100,1785 L1131,1757 " fill="none" stroke="#222" stroke-width="1"/>
<rect x="1088.0" y="1785.0" width="12.0" height="10.0" fill="#f05a5a" stroke="#222" stroke-width="1" opacity="0.9"/>
<path d="M1088,1827 L1119,1805 L1131,1799 L1131,1809 L1100,1837 L1088,1837 Z" fill="#f89898" stroke="#222" stroke-width="1"/>
<path d="M1088,1827 L1100,1827 L1131,1799 " fill="none" stroke="#222" stroke-width="1"/>
<rect x="1088.0" y="1827.0" width="12.0" height="10.0" fill="#f89898" stroke="#222" stroke-width="1" opacity="0.9"/>
<path d="M1190,1701 L1221,1679 L1233,1673 L1233,1683 L1202,1711 L1190,1711 Z" fill="#0c2a6c" stroke="#222" stroke-width="1"/>
<path d="M1190,1701 L1202,1701 L1233,1673 " fill="none" stroke="#222" stroke-width="1"/>
<rect x="1190.0" y="1701.0" width="12.0" height="10.0" fill="#0c2a6c" stroke="#222" stroke-width="1" opacity="0.9"/>
<path d="M1190,1743 L1221,1721 L1233,1715 L1233,1725 L1202,1753 L1190,1753 Z" fill="#2c5aa8" stroke="#222" stroke-width="1"/>
<path d="M1190,1743 L1202,1743 L1233,1715 " fill="none" stroke="#222" stroke-width="1"/>
<rect x="1190.0" y="1743.0" width="12.0" height="10.0" fill="#2c5aa8" stroke="#222" stroke-width="1" opacity="0.9"/>
<path d="M1190,1785 L1221,1763 L1233,1757 L1233,1767 L1202,1795 L1190,1795 Z" fill="#4a90e0" stroke="#222" stroke-width="1"/>
<path d="M1190,1785 L1202,1785 L1233,1757 " fill="none" stroke="#222" stroke-width="1"/>
<rect x="1190.0" y="1785.0" width="12.0" height="10.0" fill="#4a90e0" stroke="#222" stroke-width="1" opacity="0.9"/>
<path d="M1190,1827 L1221,1805 L1233,1799 L1233,1809 L1202,1837 L1190,1837 Z" fill="#98e4f8" stroke="#222" stroke-width="1"/>
<path d="M1190,1827 L1202,1827 L1233,1799 " fill="none" stroke="#222" stroke-width="1"/>
<rect x="1190.0" y="1827.0" width="12.0" height="10.0" fill="#98e4f8" stroke="#222" stroke-width="1" opacity="0.9"/>
<rect x="1139.0" y="1485.0" width="8.0" height="60.0" fill="#fff"/>
<rect x="1173.0" y="1485.0" width="8.0" height="60.0" fill="#fff"/>
<path d="M1132,1530 L1142,1521.0 L1142,1526.0 L1177,1526.0 L1177,1521.0 L1187,1530 L1177,1539.0 L1177,1534.0 L1142,1534.0 L1142,1539.0 Z" fill="#fff" stroke="#222" stroke-width="1.3"/>
<text x="1142.5" y="1516.5" font-size="20.4" class="s b" textLength="35.0" lengthAdjust="spacingAndGlyphs">Mix</text>
<rect x="1139.0" y="1689.0" width="8.0" height="60.0" fill="#fff"/>
<rect x="1173.0" y="1689.0" width="8.0" height="60.0" fill="#fff"/>
<path d="M1132,1734 L1142,1725.0 L1142,1730.0 L1177,1730.0 L1177,1725.0 L1187,1734 L1177,1743.0 L1177,1738.0 L1142,1738.0 L1142,1743.0 Z" fill="#fff" stroke="#222" stroke-width="1.3"/>
<text x="1142.5" y="1720.4" font-size="20.4" class="s b" textLength="35.0" lengthAdjust="spacingAndGlyphs">Mix</text>
<text x="978.6" y="1631.8" font-size="27" class="r" textLength="108.8" lengthAdjust="spacingAndGlyphs">Vis - ID 1</text>
<text x="1231.8" y="1631.8" font-size="27" class="r" textLength="110.7" lengthAdjust="spacingAndGlyphs">Vis - ID 2</text>
<text x="978.6" y="1877.7" font-size="27" class="r" textLength="108.8" lengthAdjust="spacingAndGlyphs">Vis - ID 1</text>
<text x="1236.9" y="1877.7" font-size="27" class="r" textLength="105.6" lengthAdjust="spacingAndGlyphs">Inf - ID 2</text>
<rect x="1473.6" y="518.8" width="101.6" height="157.2" fill="#eef1ea" stroke="#76945a" stroke-width="1.7" rx="13"/>
<text x="1492.0" y="545.5" font-size="22.5" class="s" textLength="63.5" lengthAdjust="spacingAndGlyphs">Visible</text>
<rect x="1479.7" y="555.8" width="42.0" height="103.7" fill="url(#g61)"/>
<g clip-path="url(#c62)">
<g opacity="1.0" filter="url(#b1_2)">
<rect x="1491.0" y="606.6" width="8.4" height="47.7" fill="#24282e" rx="2.1"/>
<rect x="1502.0" y="606.6" width="8.4" height="47.7" fill="#24282e" rx="2.1"/>
<rect x="1490.2" y="651.2" width="9.2" height="5.2" fill="#4a3a30" rx="2"/>
<rect x="1502.0" y="651.2" width="9.2" height="5.2" fill="#4a3a30" rx="2"/>
<rect x="1483.9" y="573.4" width="5.5" height="36.3" fill="#2c3652" rx="2.52"/>
<rect x="1512.0" y="573.4" width="5.5" height="36.3" fill="#2c3652" rx="2.52"/>
<rect x="1488.5" y="571.4" width="24.4" height="38.4" fill="#2c3652" rx="4.2"/>
<ellipse cx="1500.7" cy="564.1" rx="5.5" ry="7.3" fill="#a08070"/>
<ellipse cx="1500.7" cy="560.5" rx="5.9" ry="4.7" fill="#1a1a1a"/>
</g>
</g>
<rect x="1525.8" y="555.8" width="43.2" height="103.7" fill="url(#g63)"/>
<g clip-path="url(#c64)">
<g opacity="1.0" filter="url(#b1_2)">
<rect x="1537.5" y="609.7" width="8.6" height="44.6" fill="#3a5a88" rx="2.16"/>
<rect x="1548.7" y="609.7" width="8.6" height="44.6" fill="#3a5a88" rx="2.16"/>
<rect x="1538.3" y="633.6" width="6.9" height="20.7" fill="#7a6a5a" rx="2.16"/>
<rect x="1549.6" y="633.6" width="6.9" height="20.7" fill="#7a6a5a" rx="2.16"/>
<rect x="1536.6" y="651.2" width="9.5" height="5.2" fill="#555" rx="2"/>
<rect x="1548.7" y="651.2" width="9.5" height="5.2" fill="#555" rx="2"/>
<rect x="1530.1" y="574.5" width="5.6" height="38.4" fill="#a08060" rx="2.592"/>
<rect x="1559.1" y="574.5" width="5.6" height="38.4" fill="#a08060" rx="2.592"/>
<rect x="1534.9" y="572.4" width="25.1" height="40.4" fill="#c8b430" rx="4.32"/>
<ellipse cx="1547.4" cy="565.1" rx="5.6" ry="7.3" fill="#2a2420"/>
</g>
</g>
<rect x="1469.0" y="733.6" width="111.0" height="156.4" fill="#e9ebf2" stroke="#6a7eb2" stroke-width="1.7" rx="13"/>
<text x="1485.5" y="759.5" font-size="22.5" class="s" textLength="76.5" lengthAdjust="spacingAndGlyphs">Infrared</text>
<rect x="1479.7" y="771.8" width="42.0" height="101.7" fill="url(#g65)"/>
<g clip-path="url(#c66)">
<g opacity="1.0" filter="url(#b1_2)">
<rect x="1491.0" y="822.6" width="8.4" height="45.8" fill="#a8a8a8" rx="2.1"/>
<rect x="1502.0" y="822.6" width="8.4" height="45.8" fill="#a8a8a8" rx="2.1"/>
<rect x="1490.2" y="865.4" width="9.2" height="5.1" fill="#eee" rx="2"/>
<rect x="1502.0" y="865.4" width="9.2" height="5.1" fill="#eee" rx="2"/>
<rect x="1483.9" y="790.1" width="5.5" height="35.6" fill="#7a7a7a" rx="2.52"/>
<rect x="1512.0" y="790.1" width="5.5" height="35.6" fill="#7a7a7a" rx="2.52"/>
<rect x="1488.5" y="788.1" width="24.4" height="37.6" fill="#8a8a8a" rx="4.2"/>
<ellipse cx="1500.7" cy="781.0" rx="5.5" ry="7.1" fill="#c0c0c0"/>
<ellipse cx="1500.7" cy="777.4" rx="5.9" ry="4.6" fill="#202020"/>
</g>
</g>
<rect x="1525.8" y="771.8" width="43.2" height="101.7" fill="url(#g67)"/>
<g clip-path="url(#c68)">
<g opacity="1.0" filter="url(#b1_2)">
<rect x="1537.5" y="821.6" width="8.6" height="46.8" fill="#e0e0e0" rx="2.16"/>
<rect x="1548.7" y="821.6" width="8.6" height="46.8" fill="#e0e0e0" rx="2.16"/>
<rect x="1538.3" y="848.1" width="6.9" height="20.3" fill="#a8a8a8" rx="2.16"/>
<rect x="1549.6" y="848.1" width="6.9" height="20.3" fill="#a8a8a8" rx="2.16"/>
<rect x="1530.1" y="789.1" width="5.6" height="35.6" fill="#d8d8d8" rx="2.592"/>
<rect x="1559.1" y="789.1" width="5.6" height="35.6" fill="#d8d8d8" rx="2.592"/>
<rect x="1534.9" y="787.1" width="25.1" height="37.6" fill="#e8e8e8" rx="4.32"/>
<ellipse cx="1547.4" cy="779.9" rx="5.6" ry="7.1" fill="#2a2a2a"/>
</g>
</g>
<path d="M1604,536 L1643,542.7 L1643,653.7 L1604,659.5 Z" fill="#f2f2f2" stroke="#2a2a2a" stroke-width="1.5"/>
<path d="M1604,751 L1643,758 L1643,866.5 L1604,874.7 Z" fill="#f2f2f2" stroke="#2a2a2a" stroke-width="1.5"/>
<text x="1623.5" y="605.8" font-size="24" class="r b i" text-anchor="middle">E</text>
<text x="1623.5" y="820.5" font-size="24" class="r b i" text-anchor="middle">E</text>
<rect x="1677.2" y="566.0" width="37.1" height="64.0" fill="#f2f2f2" stroke="#2a2a2a" stroke-width="1.5"/>
<text x="1695.7" y="606.0" font-size="23" class="r b i" text-anchor="middle">D</text>
<rect x="1677.2" y="780.0" width="37.1" height="63.8" fill="#f2f2f2" stroke="#2a2a2a" stroke-width="1.5"/>
<text x="1695.7" y="819.9" font-size="23" class="r b i" text-anchor="middle">D</text>
<path d="M1945.5,570 L1988.7,577 L1988.7,613.4 L1945.5,623.7 Z" fill="#f2f2f2" stroke="#2a2a2a" stroke-width="1.5"/>
<path d="M1945.5,785.4 L1988.7,794.4 L1988.7,830.7 L1945.5,839 Z" fill="#f2f2f2" stroke="#2a2a2a" stroke-width="1.5"/>
<text x="1966.0" y="605.0" font-size="24" class="r b i" text-anchor="middle">C</text>
<text x="1966.0" y="820.0" font-size="24" class="r b i" text-anchor="middle">C</text>
<rect x="2003.0" y="576.4" width="57.7" height="43.2" fill="#f2f2f2" stroke="#2a2a2a" stroke-width="1.5" rx="12"/>
<text x="2013" y="607.0" font-size="26" class="r b i">L<tspan font-size="17" dy="4">id</tspan></text>
<rect x="2003.0" y="791.6" width="57.7" height="41.1" fill="#f2f2f2" stroke="#2a2a2a" stroke-width="1.5" rx="12"/>
<text x="2013" y="821.2" font-size="26" class="r b i">L<tspan font-size="17" dy="4">id</tspan></text>
<line x1="1609.0" y1="662.0" x2="1609.0" y2="693.6" stroke="#111" stroke-width="2" stroke-dasharray="2 2.4"/>
<line x1="1609.0" y1="722.5" x2="1609.0" y2="753.3" stroke="#111" stroke-width="2" stroke-dasharray="2 2.4"/>
<line x1="1618.4" y1="662.0" x2="1618.4" y2="693.6" stroke="#111" stroke-width="2" stroke-dasharray="2 2.4"/>
<line x1="1618.4" y1="722.5" x2="1618.4" y2="753.3" stroke="#111" stroke-width="2" stroke-dasharray="2 2.4"/>
<line x1="1627.9" y1="662.0" x2="1627.9" y2="693.6" stroke="#111" stroke-width="2" stroke-dasharray="2 2.4"/>
<line x1="1627.9" y1="722.5" x2="1627.9" y2="753.3" stroke="#111" stroke-width="2" stroke-dasharray="2 2.4"/>
<line x1="1637.7" y1="662.0" x2="1637.7" y2="693.6" stroke="#111" stroke-width="2" stroke-dasharray="2 2.4"/>
<line x1="1637.7" y1="722.5" x2="1637.7" y2="753.3" stroke="#111" stroke-width="2" stroke-dasharray="2 2.4"/>
<line x1="1678.0" y1="632.0" x2="1678.0" y2="692.4" stroke="#111" stroke-width="2" stroke-dasharray="2 2.4"/>
<line x1="1678.0" y1="722.5" x2="1678.0" y2="778.0" stroke="#111" stroke-width="2" stroke-dasharray="2 2.4"/>
<line x1="1688.3" y1="632.0" x2="1688.3" y2="692.4" stroke="#111" stroke-width="2" stroke-dasharray="2 2.4"/>
<line x1="1688.3" y1="722.5" x2="1688.3" y2="778.0" stroke="#111" stroke-width="2" stroke-dasharray="2 2.4"/>
<line x1="1698.6" y1="632.0" x2="1698.6" y2="692.4" stroke="#111" stroke-width="2" stroke-dasharray="2 2.4"/>
<line x1="1698.6" y1="722.5" x2="1698.6" y2="778.0" stroke="#111" stroke-width="2" stroke-dasharray="2 2.4"/>
<line x1="1709.0" y1="632.0" x2="1709.0" y2="692.4" stroke="#111" stroke-width="2" stroke-dasharray="2 2.4"/>
<line x1="1709.0" y1="722.5" x2="1709.0" y2="778.0" stroke="#111" stroke-width="2" stroke-dasharray="2 2.4"/>
<line x1="1949.6" y1="625.8" x2="1949.6" y2="693.6" stroke="#111" stroke-width="2" stroke-dasharray="2 2.4"/>
<line x1="1949.6" y1="723.7" x2="1949.6" y2="792.4" stroke="#111" stroke-width="2" stroke-dasharray="2 2.4"/>
<line x1="1959.0" y1="625.8" x2="1959.0" y2="693.6" stroke="#111" stroke-width="2" stroke-dasharray="2 2.4"/>
<line x1="1959.0" y1="723.7" x2="1959.0" y2="792.4" stroke="#111" stroke-width="2" stroke-dasharray="2 2.4"/>
<line x1="1968.9" y1="625.8" x2="1968.9" y2="693.6" stroke="#111" stroke-width="2" stroke-dasharray="2 2.4"/>
<line x1="1968.9" y1="723.7" x2="1968.9" y2="792.4" stroke="#111" stroke-width="2" stroke-dasharray="2 2.4"/>
<line x1="1978.4" y1="625.8" x2="1978.4" y2="693.6" stroke="#111" stroke-width="2" stroke-dasharray="2 2.4"/>
<line x1="1978.4" y1="723.7" x2="1978.4" y2="792.4" stroke="#111" stroke-width="2" stroke-dasharray="2 2.4"/>
<text x="1595.8" y="712.2" font-size="18" class="s" textLength="54.7" lengthAdjust="spacingAndGlyphs">Shared</text>
<text x="1667.0" y="712.2" font-size="18" class="s" textLength="55.0" lengthAdjust="spacingAndGlyphs">Shared</text>
<text x="1941.4" y="712.2" font-size="18" class="s" textLength="54.6" lengthAdjust="spacingAndGlyphs">Shared</text>
<circle cx="1901.5" cy="598.2" r="11.5" fill="#fff" stroke="#2a2a2a" stroke-width="1.5"/>
<line x1="1890.0" y1="598.2" x2="1913.0" y2="598.2" stroke="#2a2a2a" stroke-width="1.5" />
<line x1="1901.5" y1="586.7" x2="1901.5" y2="609.7" stroke="#2a2a2a" stroke-width="1.5" />
<circle cx="1901.5" cy="812.0" r="11.5" fill="#fff" stroke="#2a2a2a" stroke-width="1.5"/>
<line x1="1890.0" y1="812.0" x2="1913.0" y2="812.0" stroke="#2a2a2a" stroke-width="1.5" />
<line x1="1901.5" y1="800.5" x2="1901.5" y2="823.5" stroke="#2a2a2a" stroke-width="1.5" />
<rect x="1748.0" y="612.6" width="94.6" height="44.0" fill="#fff" stroke="#2a2a2a" stroke-width="1.6"/>
<rect x="1752.0" y="619.6" width="40.4" height="30.0" fill="#f6eeee" stroke="#a83048" stroke-width="1.5"/>
<rect x="1797.4" y="619.6" width="40.3" height="30.0" fill="#ece2f6" stroke="#9050c8" stroke-width="1.5"/>
<text x="1772.2" y="642.6" font-size="21" class="r b" text-anchor="middle">P</text>
<text x="1817.5" y="642.6" font-size="21" class="r b" text-anchor="middle">N</text>
<rect x="1748.0" y="752.5" width="94.6" height="44.0" fill="#fff" stroke="#2a2a2a" stroke-width="1.6"/>
<rect x="1752.0" y="759.5" width="40.4" height="30.0" fill="#f6eeee" stroke="#a83048" stroke-width="1.5"/>
<rect x="1797.4" y="759.5" width="40.3" height="30.0" fill="#ece2f6" stroke="#9050c8" stroke-width="1.5"/>
<text x="1772.2" y="782.5" font-size="21" class="r b" text-anchor="middle">P</text>
<text x="1817.5" y="782.5" font-size="21" class="r b" text-anchor="middle">N</text>
<rect x="1774.7" y="678.4" width="39.9" height="52.3" fill="#fbe2cc" stroke="#f0a060" stroke-width="1.5"/>
<text x="1794.6" y="712.0" font-size="20" class="r b" text-anchor="middle">PM</text>
<rect x="1871.4" y="680.0" width="58.4" height="42.5" fill="#f2f2f2" stroke="#2a2a2a" stroke-width="1.5" rx="14"/>
<text x="1877" y="709" font-size="25" class="r b i">L<tspan font-size="16" dy="4">cont</tspan></text>
<line x1="1575.2" y1="598.0" x2="1604.0" y2="598.0" stroke="#5b8c32" stroke-width="1.6" />
<path d="M1604.0,598.0 L1597.0,594.9 L1597.0,601.1 Z" fill="#5b8c32"/>
<line x1="1643.0" y1="598.0" x2="1677.2" y2="598.0" stroke="#5b8c32" stroke-width="1.6" />
<path d="M1677.2,598.0 L1670.2,594.9 L1670.2,601.1 Z" fill="#5b8c32"/>
<line x1="1658.0" y1="598.0" x2="1658.0" y2="547.6" stroke="#5b8c32" stroke-width="1.6" />
<line x1="1658.0" y1="547.6" x2="1901.5" y2="547.6" stroke="#5b8c32" stroke-width="1.6" />
<line x1="1901.5" y1="547.6" x2="1901.5" y2="586.7" stroke="#5b8c32" stroke-width="1.6" />
<path d="M1901.5,586.7 L1904.7,579.7 L1898.3,579.7 Z" fill="#5b8c32"/>
<line x1="1714.3" y1="598.0" x2="1890.0" y2="598.0" stroke="#5b8c32" stroke-width="1.6" />
<path d="M1890.0,598.0 L1883.0,594.9 L1883.0,601.1 Z" fill="#5b8c32"/>
<line x1="1913.0" y1="598.0" x2="1945.5" y2="598.0" stroke="#5b8c32" stroke-width="1.6" />
<path d="M1945.5,598.0 L1938.5,594.9 L1938.5,601.1 Z" fill="#5b8c32"/>
<line x1="1988.7" y1="598.0" x2="2003.0" y2="598.0" stroke="#5b8c32" stroke-width="1.6" />
<path d="M2003.0,598.0 L1996.0,594.9 L1996.0,601.1 Z" fill="#5b8c32"/>
<path d="M1714,598 Q1760,598 1793,610" fill="none" stroke="#5b8c32" stroke-width="1.6"/>
<path d="M1793.0,612.6 L1794.9,605.2 L1788.7,606.3 Z" fill="#5b8c32"/>
<path d="M1714,600 Q1730,700 1774,704" fill="none" stroke="#5b8c32" stroke-width="1.6"/>
<path d="M1774.7,704.0 L1767.7,700.9 L1767.7,707.1 Z" fill="#5b8c32"/>
<line x1="1794.6" y1="678.4" x2="1794.6" y2="657.0" stroke="#5b8c32" stroke-width="1.6" />
<path d="M1794.6,657.0 L1791.4,664.0 L1797.8,664.0 Z" fill="#5b8c32"/>
<path d="M1842.6,634 Q1866,640 1866,700 L1871,700" fill="none" stroke="#5b8c32" stroke-width="1.6"/>
<path d="M1871.4,701.0 L1864.4,697.9 L1864.4,704.1 Z" fill="#5b8c32"/>
<line x1="1580.0" y1="812.0" x2="1604.0" y2="812.0" stroke="#4a64a8" stroke-width="1.6" />
<path d="M1604.0,812.0 L1597.0,808.9 L1597.0,815.1 Z" fill="#4a64a8"/>
<line x1="1643.0" y1="812.0" x2="1677.2" y2="812.0" stroke="#4a64a8" stroke-width="1.6" />
<path d="M1677.2,812.0 L1670.2,808.9 L1670.2,815.1 Z" fill="#4a64a8"/>
<line x1="1658.0" y1="812.0" x2="1658.0" y2="862.8" stroke="#000" stroke-width="2" />
<line x1="1658.0" y1="812.0" x2="1658.0" y2="862.8" stroke="#4a64a8" stroke-width="1.6" />
<line x1="1658.0" y1="862.8" x2="1901.5" y2="862.8" stroke="#4a64a8" stroke-width="1.6" />
<line x1="1901.5" y1="862.8" x2="1901.5" y2="823.5" stroke="#4a64a8" stroke-width="1.6" />
<path d="M1901.5,823.5 L1898.3,830.5 L1904.7,830.5 Z" fill="#4a64a8"/>
<line x1="1714.3" y1="812.0" x2="1890.0" y2="812.0" stroke="#4a64a8" stroke-width="1.6" />
<path d="M1890.0,812.0 L1883.0,808.9 L1883.0,815.1 Z" fill="#4a64a8"/>
<line x1="1913.0" y1="812.0" x2="1945.5" y2="812.0" stroke="#4a64a8" stroke-width="1.6" />
<path d="M1945.5,812.0 L1938.5,808.9 L1938.5,815.1 Z" fill="#4a64a8"/>
<line x1="1988.7" y1="812.0" x2="2003.0" y2="812.0" stroke="#4a64a8" stroke-width="1.6" />
<path d="M2003.0,812.0 L1996.0,808.9 L1996.0,815.1 Z" fill="#4a64a8"/>
<path d="M1714,812 Q1760,812 1793,798" fill="none" stroke="#4a64a8" stroke-width="1.6"/>
<path d="M1793.0,796.5 L1788.7,802.8 L1794.9,803.9 Z" fill="#4a64a8"/>
<path d="M1714,810 Q1735,710 1774,706" fill="none" stroke="#4a64a8" stroke-width="1.6"/>
<line x1="1794.6" y1="730.7" x2="1794.6" y2="752.0" stroke="#4a64a8" stroke-width="1.6" />
<path d="M1794.6,752.0 L1797.8,745.0 L1791.4,745.0 Z" fill="#4a64a8"/>
<path d="M1842.6,774 Q1864,770 1866,705 L1871,703" fill="none" stroke="#4a64a8" stroke-width="1.6"/>
<rect x="1469.0" y="913.8" width="595.0" height="95.4" fill="#fff" stroke="#2a2a2a" stroke-width="1.6" rx="14"/>
<path d="M1482.6,926 L1512.7,933 L1512.7,951 L1482.6,958 Z" fill="#f2f2f2" stroke="#2a2a2a" stroke-width="1.5"/>
<text x="1496.0" y="948.0" font-size="16" class="r b i" text-anchor="middle">C</text>
<text x="1519.7" y="943.8" font-size="16.7" class="s" textLength="122.0" lengthAdjust="spacingAndGlyphs">Classification Net</text>
<path d="M1683.4,933 L1715,926 L1715,958 L1683.4,951 Z" fill="#f2f2f2" stroke="#2a2a2a" stroke-width="1.5"/>
<text x="1699.0" y="948.0" font-size="16" class="r b i" text-anchor="middle">E</text>
<text x="1721.7" y="943.8" font-size="16.7" class="s" textLength="110.0" lengthAdjust="spacingAndGlyphs">Embedding Net</text>
<rect x="1873.5" y="924.5" width="30.0" height="33.0" fill="#f2f2f2" stroke="#2a2a2a" stroke-width="1.4"/>
<text x="1888.5" y="947.0" font-size="16" class="r b i" text-anchor="middle">D</text>
<text x="1911.3" y="943.8" font-size="16.7" class="s" textLength="130.0" lengthAdjust="spacingAndGlyphs">Part detection Net</text>
<rect x="1480.6" y="967.0" width="32.0" height="34.4" fill="#fbe2cc" stroke="#f0a060" stroke-width="1.4"/>
<text x="1496.6" y="990.0" font-size="14" class="r b" text-anchor="middle">PM</text>
<text x="1519.7" y="990.0" font-size="16.7" class="s" textLength="81.0" lengthAdjust="spacingAndGlyphs">Part Mixing</text>
<rect x="1618.4" y="967.0" width="32.0" height="34.4" fill="#f6eeee" stroke="#a83048" stroke-width="1.4"/>
<text x="1634.4" y="990.0" font-size="15" class="r b" text-anchor="middle">P</text>
<text x="1655.8" y="990.0" font-size="16.7" class="s" textLength="108.7" lengthAdjust="spacingAndGlyphs">Positive Mining</text>
<rect x="1783.8" y="967.0" width="31.0" height="34.4" fill="#ece2f6" stroke="#9050c8" stroke-width="1.4"/>
<text x="1799.3" y="990.0" font-size="15" class="r b" text-anchor="middle">N</text>
<text x="1821.2" y="990.0" font-size="16.7" class="s" textLength="116.0" lengthAdjust="spacingAndGlyphs">Negative Mining</text>
<circle cx="1970.0" cy="984.0" r="13.0" fill="#fff" stroke="#2a2a2a" stroke-width="1.4"/>
<line x1="1957.0" y1="984.0" x2="1983.0" y2="984.0" stroke="#2a2a2a" stroke-width="1.4" />
<line x1="1970.0" y1="971.0" x2="1970.0" y2="997.0" stroke="#2a2a2a" stroke-width="1.4" />
<text x="1992.0" y="990.0" font-size="16.7" class="s" textLength="49.0" lengthAdjust="spacingAndGlyphs">Concat</text>
<path d="M1992,995 q2,-2 4,0 t4,0 t4,0 t4,0 t4,0 t4,0 t4,0 t4,0 t4,0 t4,0 t4,0 t4,0" fill="none" stroke="#e03030" stroke-width="0.8"/>
<line x1="2073.8" y1="498.0" x2="2073.8" y2="1009.0" stroke="#111" stroke-width="2" stroke-dasharray="7 4"/>
<rect x="2085.3" y="510.6" width="232.4" height="423.7" fill="none" stroke="#f4a46c" stroke-width="1.8" rx="25"/>
<rect x="2321.8" y="510.6" width="464.6" height="423.9" fill="none" stroke="#f4a46c" stroke-width="1.8" rx="25"/>
<rect x="2120.0" y="505.0" width="160.0" height="12.0" fill="#fff"/>
<rect x="2466.0" y="505.0" width="172.0" height="12.0" fill="#fff"/>
<text x="2124.4" y="512.6" font-size="22" class="s" textLength="152.2" lengthAdjust="spacingAndGlyphs">Positive Sample</text>
<text x="2471.0" y="512.6" font-size="22" class="s" textLength="162.6" lengthAdjust="spacingAndGlyphs">Negative Sample</text>
<text x="2155.0" y="535.3" font-size="24" class="r i" textLength="90.7" lengthAdjust="spacingAndGlyphs" xml:space="preserve"><tspan dy="0.0" font-size="24.0">(y</tspan><tspan dy="5.3" font-size="16.8">i</tspan><tspan dy="-5.3" font-size="24.0"> = y</tspan><tspan dy="5.3" font-size="16.8">j</tspan><tspan dy="-5.3" font-size="24.0" font-style="normal">)</tspan></text>
<text x="2391.8" y="535.3" font-size="24" class="r i" textLength="90.5" lengthAdjust="spacingAndGlyphs" xml:space="preserve"><tspan dy="0.0" font-size="24.0">(y</tspan><tspan dy="5.3" font-size="16.8">i</tspan><tspan dy="-5.3" font-size="24.0"> ≠ y</tspan><tspan dy="5.3" font-size="16.8">j</tspan><tspan dy="-5.3" font-size="24.0" font-style="normal">)</tspan></text>
<text x="2623.8" y="535.3" font-size="24" class="r i" textLength="90.5" lengthAdjust="spacingAndGlyphs" xml:space="preserve"><tspan dy="0.0" font-size="24.0">(y</tspan><tspan dy="5.3" font-size="16.8">i</tspan><tspan dy="-5.3" font-size="24.0"> = y</tspan><tspan dy="5.3" font-size="16.8">j</tspan><tspan dy="-5.3" font-size="24.0" font-style="normal">)</tspan></text>
<line x1="2552.2" y1="523.0" x2="2552.2" y2="924.0" stroke="#111" stroke-width="1.8" stroke-dasharray="6 4"/>
<rect x="2094.3" y="555.0" width="35.4" height="81.0" fill="#5a5a5a"/>
<rect x="2094.3" y="555.0" width="7.1" height="81.0" fill="#9a9a9a"/>
<rect x="2122.6" y="555.0" width="7.1" height="81.0" fill="#9a9a9a"/>
<rect x="2104.9" y="561.5" width="14.2" height="9.7" fill="#3a3a48"/>
<rect x="2101.4" y="571.2" width="21.2" height="28.3" fill="#33384a"/>
<rect x="2103.2" y="599.5" width="17.7" height="32.4" fill="#2c2c34"/>
<rect x="2103.2" y="555.0" width="8.8" height="8.1" fill="#c41c1c"/>
<rect x="2112.0" y="555.0" width="8.8" height="8.1" fill="#c41c1c"/>
<rect x="2103.2" y="571.2" width="8.8" height="8.1" fill="#ff3030"/>
<rect x="2112.0" y="571.2" width="8.8" height="8.1" fill="#ff3030"/>
<rect x="2094.3" y="587.4" width="8.8" height="8.1" fill="#ff5a5a"/>
<rect x="2120.9" y="587.4" width="8.8" height="8.1" fill="#ff5a5a"/>
<rect x="2112.0" y="619.8" width="8.8" height="8.1" fill="#ff9090"/>
<rect x="2094.3" y="627.9" width="8.8" height="8.1" fill="#ff9090"/>
<rect x="2112.0" y="627.9" width="8.8" height="8.1" fill="#ff9090"/>
<line x1="2094.3" y1="555.0" x2="2094.3" y2="636.0" stroke="#111" stroke-width="0.9" />
<line x1="2103.2" y1="555.0" x2="2103.2" y2="636.0" stroke="#111" stroke-width="0.9" />
<line x1="2112.0" y1="555.0" x2="2112.0" y2="636.0" stroke="#111" stroke-width="0.9" />
<line x1="2120.9" y1="555.0" x2="2120.9" y2="636.0" stroke="#111" stroke-width="0.9" />
<line x1="2129.7" y1="555.0" x2="2129.7" y2="636.0" stroke="#111" stroke-width="0.9" />
<line x1="2094.3" y1="555.0" x2="2129.7" y2="555.0" stroke="#111" stroke-width="0.9" />
<line x1="2094.3" y1="563.1" x2="2129.7" y2="563.1" stroke="#111" stroke-width="0.9" />
<line x1="2094.3" y1="571.2" x2="2129.7" y2="571.2" stroke="#111" stroke-width="0.9" />
<line x1="2094.3" y1="579.3" x2="2129.7" y2="579.3" stroke="#111" stroke-width="0.9" />
<line x1="2094.3" y1="587.4" x2="2129.7" y2="587.4" stroke="#111" stroke-width="0.9" />
<line x1="2094.3" y1="595.5" x2="2129.7" y2="595.5" stroke="#111" stroke-width="0.9" />
<line x1="2094.3" y1="603.6" x2="2129.7" y2="603.6" stroke="#111" stroke-width="0.9" />
<line x1="2094.3" y1="611.7" x2="2129.7" y2="611.7" stroke="#111" stroke-width="0.9" />
<line x1="2094.3" y1="619.8" x2="2129.7" y2="619.8" stroke="#111" stroke-width="0.9" />
<line x1="2094.3" y1="627.9" x2="2129.7" y2="627.9" stroke="#111" stroke-width="0.9" />
<line x1="2094.3" y1="636.0" x2="2129.7" y2="636.0" stroke="#111" stroke-width="0.9" />
<line x1="2129.7" y1="595.5" x2="2148.2" y2="595.5" stroke="#111" stroke-width="1.2" />
<path d="M2148.2,595.5 L2141.2,592.4 L2141.2,598.6 Z" fill="#111"/>
<rect x="2148.2" y="555.0" width="22.2" height="81.0" fill="#fff" stroke="#2a2a2a" stroke-width="1.4" rx="5"/>
<circle cx="2159.3" cy="567.0" r="4.6" fill="#b01c1c" stroke="#2a2a2a" stroke-width="1"/>
<circle cx="2159.3" cy="586.5" r="4.6" fill="#ee2a2a" stroke="#2a2a2a" stroke-width="1"/>
<circle cx="2159.3" cy="606.0" r="4.6" fill="#f46262" stroke="#2a2a2a" stroke-width="1"/>
<circle cx="2159.3" cy="625.0" r="4.6" fill="#f89a9a" stroke="#2a2a2a" stroke-width="1"/>
<line x1="2170.4" y1="595.5" x2="2206.6" y2="595.5" stroke="#111" stroke-width="1.2" />
<path d="M2206.6,595.5 L2199.6,592.4 L2199.6,598.6 Z" fill="#111"/>
<rect x="2206.6" y="555.0" width="22.7" height="81.0" fill="#fff" stroke="#2a2a2a" stroke-width="1.4" rx="5"/>
<circle cx="2217.9" cy="567.0" r="4.6" fill="#b01c1c" stroke="#2a2a2a" stroke-width="1"/>
<circle cx="2217.9" cy="586.5" r="4.6" fill="#ee2a2a" stroke="#2a2a2a" stroke-width="1"/>
<circle cx="2217.9" cy="606.0" r="4.6" fill="#f46262" stroke="#2a2a2a" stroke-width="1"/>
<text x="2173.7" y="581.0" font-size="30" class="r i" textLength="26.0" lengthAdjust="spacingAndGlyphs" xml:space="preserve"><tspan dy="0.0" font-size="30.0">p</tspan><tspan dy="6.6" font-size="21.0">i</tspan><tspan dy="-19.2" font-size="21.0">v</tspan></text>
<rect x="2094.3" y="642.2" width="35.4" height="81.5" fill="#5a5a5a"/>
<rect x="2094.3" y="642.2" width="7.1" height="81.5" fill="#9a9a9a"/>
<rect x="2122.6" y="642.2" width="7.1" height="81.5" fill="#9a9a9a"/>
<rect x="2104.9" y="648.7" width="14.2" height="9.8" fill="#3a3a48"/>
<rect x="2101.4" y="658.5" width="21.2" height="28.5" fill="#33384a"/>
<rect x="2103.2" y="687.0" width="17.7" height="32.6" fill="#2c2c34"/>
<rect x="2103.2" y="642.2" width="8.8" height="8.2" fill="#c41c1c"/>
<rect x="2112.0" y="642.2" width="8.8" height="8.2" fill="#c41c1c"/>
<rect x="2103.2" y="658.5" width="8.8" height="8.2" fill="#ff3030"/>
<rect x="2112.0" y="658.5" width="8.8" height="8.2" fill="#ff3030"/>
<rect x="2094.3" y="674.8" width="8.8" height="8.2" fill="#ff5a5a"/>
<rect x="2120.9" y="674.8" width="8.8" height="8.2" fill="#ff5a5a"/>
<rect x="2112.0" y="707.4" width="8.8" height="8.2" fill="#ff9090"/>
<rect x="2094.3" y="715.6" width="8.8" height="8.2" fill="#ff9090"/>
<rect x="2112.0" y="715.6" width="8.8" height="8.2" fill="#ff9090"/>
<line x1="2094.3" y1="642.2" x2="2094.3" y2="723.7" stroke="#111" stroke-width="0.9" />
<line x1="2103.2" y1="642.2" x2="2103.2" y2="723.7" stroke="#111" stroke-width="0.9" />
<line x1="2112.0" y1="642.2" x2="2112.0" y2="723.7" stroke="#111" stroke-width="0.9" />
<line x1="2120.9" y1="642.2" x2="2120.9" y2="723.7" stroke="#111" stroke-width="0.9" />
<line x1="2129.7" y1="642.2" x2="2129.7" y2="723.7" stroke="#111" stroke-width="0.9" />
<line x1="2094.3" y1="642.2" x2="2129.7" y2="642.2" stroke="#111" stroke-width="0.9" />
<line x1="2094.3" y1="650.4" x2="2129.7" y2="650.4" stroke="#111" stroke-width="0.9" />
<line x1="2094.3" y1="658.5" x2="2129.7" y2="658.5" stroke="#111" stroke-width="0.9" />
<line x1="2094.3" y1="666.7" x2="2129.7" y2="666.7" stroke="#111" stroke-width="0.9" />
<line x1="2094.3" y1="674.8" x2="2129.7" y2="674.8" stroke="#111" stroke-width="0.9" />
<line x1="2094.3" y1="683.0" x2="2129.7" y2="683.0" stroke="#111" stroke-width="0.9" />
<line x1="2094.3" y1="691.1" x2="2129.7" y2="691.1" stroke="#111" stroke-width="0.9" />
<line x1="2094.3" y1="699.2" x2="2129.7" y2="699.2" stroke="#111" stroke-width="0.9" />
<line x1="2094.3" y1="707.4" x2="2129.7" y2="707.4" stroke="#111" stroke-width="0.9" />
<line x1="2094.3" y1="715.6" x2="2129.7" y2="715.6" stroke="#111" stroke-width="0.9" />
<line x1="2094.3" y1="723.7" x2="2129.7" y2="723.7" stroke="#111" stroke-width="0.9" />
<line x1="2129.7" y1="683.0" x2="2148.2" y2="683.0" stroke="#111" stroke-width="1.2" />
<path d="M2148.2,683.0 L2141.2,679.8 L2141.2,686.1 Z" fill="#111"/>
<rect x="2148.2" y="642.2" width="22.2" height="81.5" fill="#fff" stroke="#2a2a2a" stroke-width="1.4" rx="5"/>
<circle cx="2159.3" cy="654.3" r="4.6" fill="#b01c1c" stroke="#2a2a2a" stroke-width="1"/>
<circle cx="2159.3" cy="673.9" r="4.6" fill="#ee2a2a" stroke="#2a2a2a" stroke-width="1"/>
<circle cx="2159.3" cy="693.5" r="4.6" fill="#f46262" stroke="#2a2a2a" stroke-width="1"/>
<circle cx="2159.3" cy="712.6" r="4.6" fill="#f89a9a" stroke="#2a2a2a" stroke-width="1"/>
<line x1="2170.4" y1="683.0" x2="2206.6" y2="683.0" stroke="#111" stroke-width="1.2" />
<path d="M2206.6,683.0 L2199.6,679.8 L2199.6,686.1 Z" fill="#111"/>
<rect x="2206.6" y="642.2" width="22.7" height="81.5" fill="#fff" stroke="#2a2a2a" stroke-width="1.4" rx="5"/>
<circle cx="2217.9" cy="712.6" r="4.6" fill="#f89a9a" stroke="#2a2a2a" stroke-width="1"/>
<text x="2173.7" y="715.2" font-size="30" class="r i" textLength="26.0" lengthAdjust="spacingAndGlyphs" xml:space="preserve"><tspan dy="0.0" font-size="30.0">p</tspan><tspan dy="6.6" font-size="21.0">j</tspan><tspan dy="-19.2" font-size="21.0">v</tspan></text>
<rect x="2094.3" y="745.0" width="35.4" height="81.5" fill="#5a5a5a"/>
<rect x="2094.3" y="745.0" width="7.1" height="81.5" fill="#9a9a9a"/>
<rect x="2122.6" y="745.0" width="7.1" height="81.5" fill="#9a9a9a"/>
<rect x="2104.9" y="751.5" width="14.2" height="9.8" fill="#3a3a48"/>
<rect x="2101.4" y="761.3" width="21.2" height="28.5" fill="#33384a"/>
<rect x="2103.2" y="789.8" width="17.7" height="32.6" fill="#2c2c34"/>
<rect x="2103.2" y="745.0" width="8.8" height="8.2" fill="#c41c1c"/>
<rect x="2112.0" y="745.0" width="8.8" height="8.2" fill="#c41c1c"/>
<rect x="2103.2" y="761.3" width="8.8" height="8.2" fill="#ff3030"/>
<rect x="2112.0" y="761.3" width="8.8" height="8.2" fill="#ff3030"/>
<rect x="2094.3" y="777.6" width="8.8" height="8.2" fill="#ff5a5a"/>
<rect x="2120.9" y="777.6" width="8.8" height="8.2" fill="#ff5a5a"/>
<rect x="2112.0" y="810.2" width="8.8" height="8.2" fill="#ff9090"/>
<rect x="2094.3" y="818.4" width="8.8" height="8.2" fill="#ff9090"/>
<rect x="2112.0" y="818.4" width="8.8" height="8.2" fill="#ff9090"/>
<line x1="2094.3" y1="745.0" x2="2094.3" y2="826.5" stroke="#111" stroke-width="0.9" />
<line x1="2103.2" y1="745.0" x2="2103.2" y2="826.5" stroke="#111" stroke-width="0.9" />
<line x1="2112.0" y1="745.0" x2="2112.0" y2="826.5" stroke="#111" stroke-width="0.9" />
<line x1="2120.9" y1="745.0" x2="2120.9" y2="826.5" stroke="#111" stroke-width="0.9" />
<line x1="2129.7" y1="745.0" x2="2129.7" y2="826.5" stroke="#111" stroke-width="0.9" />
<line x1="2094.3" y1="745.0" x2="2129.7" y2="745.0" stroke="#111" stroke-width="0.9" />
<line x1="2094.3" y1="753.1" x2="2129.7" y2="753.1" stroke="#111" stroke-width="0.9" />
<line x1="2094.3" y1="761.3" x2="2129.7" y2="761.3" stroke="#111" stroke-width="0.9" />
<line x1="2094.3" y1="769.5" x2="2129.7" y2="769.5" stroke="#111" stroke-width="0.9" />
<line x1="2094.3" y1="777.6" x2="2129.7" y2="777.6" stroke="#111" stroke-width="0.9" />
<line x1="2094.3" y1="785.8" x2="2129.7" y2="785.8" stroke="#111" stroke-width="0.9" />
<line x1="2094.3" y1="793.9" x2="2129.7" y2="793.9" stroke="#111" stroke-width="0.9" />
<line x1="2094.3" y1="802.0" x2="2129.7" y2="802.0" stroke="#111" stroke-width="0.9" />
<line x1="2094.3" y1="810.2" x2="2129.7" y2="810.2" stroke="#111" stroke-width="0.9" />
<line x1="2094.3" y1="818.4" x2="2129.7" y2="818.4" stroke="#111" stroke-width="0.9" />
<line x1="2094.3" y1="826.5" x2="2129.7" y2="826.5" stroke="#111" stroke-width="0.9" />
<line x1="2129.7" y1="785.8" x2="2148.2" y2="785.8" stroke="#111" stroke-width="1.2" />
<path d="M2148.2,785.8 L2141.2,782.6 L2141.2,788.9 Z" fill="#111"/>
<rect x="2148.2" y="745.0" width="22.2" height="81.5" fill="#fff" stroke="#2a2a2a" stroke-width="1.4" rx="5"/>
<circle cx="2159.3" cy="757.1" r="4.6" fill="#b01c1c" stroke="#2a2a2a" stroke-width="1"/>
<circle cx="2159.3" cy="776.7" r="4.6" fill="#ee2a2a" stroke="#2a2a2a" stroke-width="1"/>
<circle cx="2159.3" cy="796.3" r="4.6" fill="#f46262" stroke="#2a2a2a" stroke-width="1"/>
<circle cx="2159.3" cy="815.4" r="4.6" fill="#f89a9a" stroke="#2a2a2a" stroke-width="1"/>
<line x1="2170.4" y1="785.8" x2="2206.6" y2="785.8" stroke="#111" stroke-width="1.2" />
<path d="M2206.6,785.8 L2199.6,782.6 L2199.6,788.9 Z" fill="#111"/>
<rect x="2206.6" y="745.0" width="22.7" height="81.5" fill="#fff" stroke="#2a2a2a" stroke-width="1.4" rx="5"/>
<circle cx="2217.9" cy="776.7" r="4.6" fill="#ee2a2a" stroke="#2a2a2a" stroke-width="1"/>
<circle cx="2217.9" cy="796.3" r="4.6" fill="#f46262" stroke="#2a2a2a" stroke-width="1"/>
<circle cx="2217.9" cy="815.4" r="4.6" fill="#f89a9a" stroke="#2a2a2a" stroke-width="1"/>
<text x="2173.7" y="771.0" font-size="30" class="r i" textLength="26.0" lengthAdjust="spacingAndGlyphs" xml:space="preserve"><tspan dy="0.0" font-size="30.0">p</tspan><tspan dy="6.6" font-size="21.0">i</tspan><tspan dy="-19.2" font-size="21.0">v</tspan></text>
<rect x="2094.3" y="831.5" width="35.4" height="81.5" fill="#6a6a6a"/>
<rect x="2101.4" y="839.6" width="21.2" height="36.7" fill="#d8d8d8"/>
<rect x="2103.2" y="876.3" width="17.7" height="32.6" fill="#bcbcbc"/>
<rect x="2094.3" y="880.4" width="7.1" height="32.6" fill="#3a3a3a"/>
<rect x="2122.6" y="880.4" width="7.1" height="32.6" fill="#3a3a3a"/>
<rect x="2103.2" y="831.5" width="8.8" height="8.2" fill="#c41c1c"/>
<rect x="2112.0" y="831.5" width="8.8" height="8.2" fill="#c41c1c"/>
<rect x="2103.2" y="847.8" width="8.8" height="8.2" fill="#ff3030"/>
<rect x="2112.0" y="847.8" width="8.8" height="8.2" fill="#ff3030"/>
<rect x="2094.3" y="864.1" width="8.8" height="8.2" fill="#ff5a5a"/>
<rect x="2120.9" y="864.1" width="8.8" height="8.2" fill="#ff5a5a"/>
<rect x="2103.2" y="904.9" width="8.8" height="8.2" fill="#ff9090"/>
<rect x="2112.0" y="904.9" width="8.8" height="8.2" fill="#ff9090"/>
<line x1="2094.3" y1="831.5" x2="2094.3" y2="913.0" stroke="#111" stroke-width="0.9" />
<line x1="2103.2" y1="831.5" x2="2103.2" y2="913.0" stroke="#111" stroke-width="0.9" />
<line x1="2112.0" y1="831.5" x2="2112.0" y2="913.0" stroke="#111" stroke-width="0.9" />
<line x1="2120.9" y1="831.5" x2="2120.9" y2="913.0" stroke="#111" stroke-width="0.9" />
<line x1="2129.7" y1="831.5" x2="2129.7" y2="913.0" stroke="#111" stroke-width="0.9" />
<line x1="2094.3" y1="831.5" x2="2129.7" y2="831.5" stroke="#111" stroke-width="0.9" />
<line x1="2094.3" y1="839.6" x2="2129.7" y2="839.6" stroke="#111" stroke-width="0.9" />
<line x1="2094.3" y1="847.8" x2="2129.7" y2="847.8" stroke="#111" stroke-width="0.9" />
<line x1="2094.3" y1="856.0" x2="2129.7" y2="856.0" stroke="#111" stroke-width="0.9" />
<line x1="2094.3" y1="864.1" x2="2129.7" y2="864.1" stroke="#111" stroke-width="0.9" />
<line x1="2094.3" y1="872.2" x2="2129.7" y2="872.2" stroke="#111" stroke-width="0.9" />
<line x1="2094.3" y1="880.4" x2="2129.7" y2="880.4" stroke="#111" stroke-width="0.9" />
<line x1="2094.3" y1="888.5" x2="2129.7" y2="888.5" stroke="#111" stroke-width="0.9" />
<line x1="2094.3" y1="896.7" x2="2129.7" y2="896.7" stroke="#111" stroke-width="0.9" />
<line x1="2094.3" y1="904.9" x2="2129.7" y2="904.9" stroke="#111" stroke-width="0.9" />
<line x1="2094.3" y1="913.0" x2="2129.7" y2="913.0" stroke="#111" stroke-width="0.9" />
<line x1="2129.7" y1="872.2" x2="2148.2" y2="872.2" stroke="#111" stroke-width="1.2" />
<path d="M2148.2,872.2 L2141.2,869.1 L2141.2,875.4 Z" fill="#111"/>
<rect x="2148.2" y="831.5" width="22.2" height="81.5" fill="#fff" stroke="#2a2a2a" stroke-width="1.4" rx="5"/>
<path d="M2159.2999999999997,838.074074074074 L2164.2999999999997,847.574074074074 L2154.2999999999997,847.574074074074 Z" fill="#b01c1c" stroke="#2a2a2a" stroke-width="1"/>
<path d="M2159.2999999999997,857.6944444444445 L2164.2999999999997,867.1944444444445 L2154.2999999999997,867.1944444444445 Z" fill="#ee2a2a" stroke="#2a2a2a" stroke-width="1"/>
<path d="M2159.2999999999997,877.3148148148148 L2164.2999999999997,886.8148148148148 L2154.2999999999997,886.8148148148148 Z" fill="#f46262" stroke="#2a2a2a" stroke-width="1"/>
<path d="M2159.2999999999997,896.4320987654321 L2164.2999999999997,905.9320987654321 L2154.2999999999997,905.9320987654321 Z" fill="#f89a9a" stroke="#2a2a2a" stroke-width="1"/>
<line x1="2170.4" y1="872.2" x2="2206.6" y2="872.2" stroke="#111" stroke-width="1.2" />
<path d="M2206.6,872.2 L2199.6,869.1 L2199.6,875.4 Z" fill="#111"/>
<rect x="2206.6" y="831.5" width="22.7" height="81.5" fill="#fff" stroke="#2a2a2a" stroke-width="1.4" rx="5"/>
<path d="M2217.95,838.074074074074 L2222.95,847.574074074074 L2212.95,847.574074074074 Z" fill="#b01c1c" stroke="#2a2a2a" stroke-width="1"/>
<text x="2173.7" y="904.5" font-size="30" class="r i" textLength="26.0" lengthAdjust="spacingAndGlyphs" xml:space="preserve"><tspan dy="0.0" font-size="30.0">p</tspan><tspan dy="6.6" font-size="21.0">j</tspan><tspan dy="-19.2" font-size="21.0">r</tspan></text>
<path d="M2229.2999999999997,595.5 L2250.7,595.5 L2250.7,623.4" fill="none" stroke="#111" stroke-width="1.2"/>
<path d="M2250.7,623.4 L2253.4,617.4 L2248.0,617.4 Z" fill="#111"/>
<path d="M2229.2999999999997,682.7 L2250.7,682.7 L2250.7,654.6" fill="none" stroke="#111" stroke-width="1.2"/>
<path d="M2250.7,654.6 L2248.0,660.6 L2253.4,660.6 Z" fill="#111"/>
<circle cx="2250.7" cy="639.0" r="15.6" fill="#fff" stroke="#2a2a2a" stroke-width="1.5"/>
<text x="2250.7" y="646.7" font-size="22" class="r b i" text-anchor="middle">A</text>
<line x1="2266.3" y1="639.0" x2="2284.8" y2="639.0" stroke="#111" stroke-width="1.2" />
<path d="M2284.8,639.0 L2277.8,635.9 L2277.8,642.1 Z" fill="#111"/>
<rect x="2284.8" y="600.3" width="22.6" height="80.0" fill="#fff" stroke="#2a2a2a" stroke-width="1.4" rx="5" stroke-dasharray="3 2"/>
<circle cx="2296.1" cy="612.2" r="4.6" fill="#b01c1c" stroke="#2a2a2a" stroke-width="1"/>
<circle cx="2296.1" cy="631.4" r="4.6" fill="#ee2a2a" stroke="#2a2a2a" stroke-width="1"/>
<circle cx="2296.1" cy="650.7" r="4.6" fill="#f46262" stroke="#2a2a2a" stroke-width="1"/>
<circle cx="2296.1" cy="669.4" r="4.6" fill="#f89a9a" stroke="#2a2a2a" stroke-width="1"/>
<path d="M2229.2999999999997,785.5 L2250.7,785.5 L2250.7,812.6" fill="none" stroke="#111" stroke-width="1.2"/>
<path d="M2250.7,812.6 L2253.4,806.6 L2248.0,806.6 Z" fill="#111"/>
<path d="M2229.2999999999997,872.0 L2250.7,872.0 L2250.7,843.8000000000001" fill="none" stroke="#111" stroke-width="1.2"/>
<path d="M2250.7,843.8 L2248.0,849.8 L2253.4,849.8 Z" fill="#111"/>
<circle cx="2250.7" cy="828.2" r="15.6" fill="#fff" stroke="#2a2a2a" stroke-width="1.5"/>
<text x="2250.7" y="835.9" font-size="22" class="r b i" text-anchor="middle">A</text>
<line x1="2266.3" y1="828.2" x2="2284.8" y2="828.2" stroke="#111" stroke-width="1.2" />
<path d="M2284.8,828.2 L2277.8,825.1 L2277.8,831.4 Z" fill="#111"/>
<rect x="2284.8" y="788.0" width="22.6" height="80.0" fill="#fff" stroke="#2a2a2a" stroke-width="1.4" rx="5" stroke-dasharray="3 2"/>
<path d="M2296.1000000000004,794.3518518518518 L2301.1000000000004,803.8518518518518 L2291.1000000000004,803.8518518518518 Z" fill="#b01c1c" stroke="#2a2a2a" stroke-width="1"/>
<circle cx="2296.1" cy="819.1" r="4.6" fill="#ee2a2a" stroke="#2a2a2a" stroke-width="1"/>
<circle cx="2296.1" cy="838.4" r="4.6" fill="#b01c1c" stroke="#2a2a2a" stroke-width="1"/>
<circle cx="2296.1" cy="857.1" r="4.6" fill="#f89a9a" stroke="#2a2a2a" stroke-width="1"/>
<rect x="2332.0" y="555.0" width="35.4" height="81.0" fill="#5a5a5a"/>
<rect x="2332.0" y="555.0" width="7.1" height="81.0" fill="#9a9a9a"/>
<rect x="2360.3" y="555.0" width="7.1" height="81.0" fill="#9a9a9a"/>
<rect x="2342.6" y="561.5" width="14.2" height="9.7" fill="#3a3a48"/>
<rect x="2339.1" y="571.2" width="21.2" height="28.3" fill="#33384a"/>
<rect x="2340.8" y="599.5" width="17.7" height="32.4" fill="#2c2c34"/>
<rect x="2340.8" y="555.0" width="8.8" height="8.1" fill="#c41c1c"/>
<rect x="2349.7" y="555.0" width="8.8" height="8.1" fill="#c41c1c"/>
<rect x="2340.8" y="571.2" width="8.8" height="8.1" fill="#ff3030"/>
<rect x="2349.7" y="571.2" width="8.8" height="8.1" fill="#ff3030"/>
<rect x="2332.0" y="587.4" width="8.8" height="8.1" fill="#ff5a5a"/>
<rect x="2358.6" y="587.4" width="8.8" height="8.1" fill="#ff5a5a"/>
<rect x="2349.7" y="619.8" width="8.8" height="8.1" fill="#ff9090"/>
<rect x="2332.0" y="627.9" width="8.8" height="8.1" fill="#ff9090"/>
<rect x="2349.7" y="627.9" width="8.8" height="8.1" fill="#ff9090"/>
<line x1="2332.0" y1="555.0" x2="2332.0" y2="636.0" stroke="#111" stroke-width="0.9" />
<line x1="2340.8" y1="555.0" x2="2340.8" y2="636.0" stroke="#111" stroke-width="0.9" />
<line x1="2349.7" y1="555.0" x2="2349.7" y2="636.0" stroke="#111" stroke-width="0.9" />
<line x1="2358.6" y1="555.0" x2="2358.6" y2="636.0" stroke="#111" stroke-width="0.9" />
<line x1="2367.4" y1="555.0" x2="2367.4" y2="636.0" stroke="#111" stroke-width="0.9" />
<line x1="2332.0" y1="555.0" x2="2367.4" y2="555.0" stroke="#111" stroke-width="0.9" />
<line x1="2332.0" y1="563.1" x2="2367.4" y2="563.1" stroke="#111" stroke-width="0.9" />
<line x1="2332.0" y1="571.2" x2="2367.4" y2="571.2" stroke="#111" stroke-width="0.9" />
<line x1="2332.0" y1="579.3" x2="2367.4" y2="579.3" stroke="#111" stroke-width="0.9" />
<line x1="2332.0" y1="587.4" x2="2367.4" y2="587.4" stroke="#111" stroke-width="0.9" />
<line x1="2332.0" y1="595.5" x2="2367.4" y2="595.5" stroke="#111" stroke-width="0.9" />
<line x1="2332.0" y1="603.6" x2="2367.4" y2="603.6" stroke="#111" stroke-width="0.9" />
<line x1="2332.0" y1="611.7" x2="2367.4" y2="611.7" stroke="#111" stroke-width="0.9" />
<line x1="2332.0" y1="619.8" x2="2367.4" y2="619.8" stroke="#111" stroke-width="0.9" />
<line x1="2332.0" y1="627.9" x2="2367.4" y2="627.9" stroke="#111" stroke-width="0.9" />
<line x1="2332.0" y1="636.0" x2="2367.4" y2="636.0" stroke="#111" stroke-width="0.9" />
<line x1="2367.4" y1="595.5" x2="2384.4" y2="595.5" stroke="#111" stroke-width="1.2" />
<path d="M2384.4,595.5 L2377.4,592.4 L2377.4,598.6 Z" fill="#111"/>
<rect x="2384.4" y="555.0" width="22.2" height="81.0" fill="#fff" stroke="#2a2a2a" stroke-width="1.4" rx="5"/>
<circle cx="2395.5" cy="567.0" r="4.6" fill="#b01c1c" stroke="#2a2a2a" stroke-width="1"/>
<circle cx="2395.5" cy="586.5" r="4.6" fill="#ee2a2a" stroke="#2a2a2a" stroke-width="1"/>
<circle cx="2395.5" cy="606.0" r="4.6" fill="#f46262" stroke="#2a2a2a" stroke-width="1"/>
<circle cx="2395.5" cy="625.0" r="4.6" fill="#f89a9a" stroke="#2a2a2a" stroke-width="1"/>
<line x1="2406.6" y1="595.5" x2="2442.4" y2="595.5" stroke="#111" stroke-width="1.2" />
<path d="M2442.4,595.5 L2435.4,592.4 L2435.4,598.6 Z" fill="#111"/>
<rect x="2442.4" y="555.0" width="22.7" height="81.0" fill="#fff" stroke="#2a2a2a" stroke-width="1.4" rx="5"/>
<circle cx="2453.8" cy="567.0" r="4.6" fill="#b01c1c" stroke="#2a2a2a" stroke-width="1"/>
<circle cx="2453.8" cy="606.0" r="4.6" fill="#f46262" stroke="#2a2a2a" stroke-width="1"/>
<circle cx="2453.8" cy="625.0" r="4.6" fill="#f89a9a" stroke="#2a2a2a" stroke-width="1"/>
<text x="2409.9" y="581.0" font-size="30" class="r i" textLength="26.0" lengthAdjust="spacingAndGlyphs" xml:space="preserve"><tspan dy="0.0" font-size="30.0">p</tspan><tspan dy="6.6" font-size="21.0">i</tspan><tspan dy="-19.2" font-size="21.0">v</tspan></text>
<rect x="2332.0" y="642.2" width="35.4" height="81.5" fill="#707a80"/>
<rect x="2339.1" y="654.4" width="21.2" height="32.6" fill="#b8a848"/>
<rect x="2340.8" y="687.0" width="17.7" height="32.6" fill="#6a7a98"/>
<rect x="2340.8" y="642.2" width="8.8" height="8.2" fill="#0c2a6c"/>
<rect x="2349.7" y="642.2" width="8.8" height="8.2" fill="#0c2a6c"/>
<rect x="2332.0" y="658.5" width="8.8" height="8.2" fill="#2c5aa8"/>
<rect x="2358.6" y="658.5" width="8.8" height="8.2" fill="#2c5aa8"/>
<rect x="2340.8" y="691.1" width="8.8" height="8.2" fill="#4a90e0"/>
<rect x="2349.7" y="691.1" width="8.8" height="8.2" fill="#4a90e0"/>
<rect x="2332.0" y="715.6" width="8.8" height="8.2" fill="#98e4f8"/>
<rect x="2358.6" y="715.6" width="8.8" height="8.2" fill="#98e4f8"/>
<line x1="2332.0" y1="642.2" x2="2332.0" y2="723.7" stroke="#111" stroke-width="0.9" />
<line x1="2340.8" y1="642.2" x2="2340.8" y2="723.7" stroke="#111" stroke-width="0.9" />
<line x1="2349.7" y1="642.2" x2="2349.7" y2="723.7" stroke="#111" stroke-width="0.9" />
<line x1="2358.6" y1="642.2" x2="2358.6" y2="723.7" stroke="#111" stroke-width="0.9" />
<line x1="2367.4" y1="642.2" x2="2367.4" y2="723.7" stroke="#111" stroke-width="0.9" />
<line x1="2332.0" y1="642.2" x2="2367.4" y2="642.2" stroke="#111" stroke-width="0.9" />
<line x1="2332.0" y1="650.4" x2="2367.4" y2="650.4" stroke="#111" stroke-width="0.9" />
<line x1="2332.0" y1="658.5" x2="2367.4" y2="658.5" stroke="#111" stroke-width="0.9" />
<line x1="2332.0" y1="666.7" x2="2367.4" y2="666.7" stroke="#111" stroke-width="0.9" />
<line x1="2332.0" y1="674.8" x2="2367.4" y2="674.8" stroke="#111" stroke-width="0.9" />
<line x1="2332.0" y1="683.0" x2="2367.4" y2="683.0" stroke="#111" stroke-width="0.9" />
<line x1="2332.0" y1="691.1" x2="2367.4" y2="691.1" stroke="#111" stroke-width="0.9" />
<line x1="2332.0" y1="699.2" x2="2367.4" y2="699.2" stroke="#111" stroke-width="0.9" />
<line x1="2332.0" y1="707.4" x2="2367.4" y2="707.4" stroke="#111" stroke-width="0.9" />
<line x1="2332.0" y1="715.6" x2="2367.4" y2="715.6" stroke="#111" stroke-width="0.9" />
<line x1="2332.0" y1="723.7" x2="2367.4" y2="723.7" stroke="#111" stroke-width="0.9" />
<line x1="2367.4" y1="683.0" x2="2384.4" y2="683.0" stroke="#111" stroke-width="1.2" />
<path d="M2384.4,683.0 L2377.4,679.8 L2377.4,686.1 Z" fill="#111"/>
<rect x="2384.4" y="642.2" width="22.2" height="81.5" fill="#fff" stroke="#2a2a2a" stroke-width="1.4" rx="5"/>
<circle cx="2395.5" cy="654.3" r="4.6" fill="#0c2a6c" stroke="#2a2a2a" stroke-width="1"/>
<circle cx="2395.5" cy="673.9" r="4.6" fill="#2c5aa8" stroke="#2a2a2a" stroke-width="1"/>
<circle cx="2395.5" cy="693.5" r="4.6" fill="#4a90e0" stroke="#2a2a2a" stroke-width="1"/>
<circle cx="2395.5" cy="712.6" r="4.6" fill="#98e4f8" stroke="#2a2a2a" stroke-width="1"/>
<line x1="2406.6" y1="683.0" x2="2442.4" y2="683.0" stroke="#111" stroke-width="1.2" />
<path d="M2442.4,683.0 L2435.4,679.8 L2435.4,686.1 Z" fill="#111"/>
<rect x="2442.4" y="642.2" width="22.7" height="81.5" fill="#fff" stroke="#2a2a2a" stroke-width="1.4" rx="5"/>
<circle cx="2453.8" cy="673.9" r="4.6" fill="#2c5aa8" stroke="#2a2a2a" stroke-width="1"/>
<text x="2409.9" y="715.2" font-size="30" class="r i" textLength="26.0" lengthAdjust="spacingAndGlyphs" xml:space="preserve"><tspan dy="0.0" font-size="30.0">p</tspan><tspan dy="6.6" font-size="21.0">j</tspan><tspan dy="-19.2" font-size="21.0">v</tspan></text>
<rect x="2332.0" y="745.0" width="35.4" height="81.5" fill="#5a5a5a"/>
<rect x="2332.0" y="745.0" width="7.1" height="81.5" fill="#9a9a9a"/>
<rect x="2360.3" y="745.0" width="7.1" height="81.5" fill="#9a9a9a"/>
<rect x="2342.6" y="751.5" width="14.2" height="9.8" fill="#3a3a48"/>
<rect x="2339.1" y="761.3" width="21.2" height="28.5" fill="#33384a"/>
<rect x="2340.8" y="789.8" width="17.7" height="32.6" fill="#2c2c34"/>
<rect x="2340.8" y="745.0" width="8.8" height="8.2" fill="#c41c1c"/>
<rect x="2349.7" y="745.0" width="8.8" height="8.2" fill="#c41c1c"/>
<rect x="2340.8" y="761.3" width="8.8" height="8.2" fill="#ff3030"/>
<rect x="2349.7" y="761.3" width="8.8" height="8.2" fill="#ff3030"/>
<rect x="2332.0" y="777.6" width="8.8" height="8.2" fill="#ff5a5a"/>
<rect x="2358.6" y="777.6" width="8.8" height="8.2" fill="#ff5a5a"/>
<rect x="2349.7" y="810.2" width="8.8" height="8.2" fill="#ff9090"/>
<rect x="2332.0" y="818.4" width="8.8" height="8.2" fill="#ff9090"/>
<rect x="2349.7" y="818.4" width="8.8" height="8.2" fill="#ff9090"/>
<line x1="2332.0" y1="745.0" x2="2332.0" y2="826.5" stroke="#111" stroke-width="0.9" />
<line x1="2340.8" y1="745.0" x2="2340.8" y2="826.5" stroke="#111" stroke-width="0.9" />
<line x1="2349.7" y1="745.0" x2="2349.7" y2="826.5" stroke="#111" stroke-width="0.9" />
<line x1="2358.6" y1="745.0" x2="2358.6" y2="826.5" stroke="#111" stroke-width="0.9" />
<line x1="2367.4" y1="745.0" x2="2367.4" y2="826.5" stroke="#111" stroke-width="0.9" />
<line x1="2332.0" y1="745.0" x2="2367.4" y2="745.0" stroke="#111" stroke-width="0.9" />
<line x1="2332.0" y1="753.1" x2="2367.4" y2="753.1" stroke="#111" stroke-width="0.9" />
<line x1="2332.0" y1="761.3" x2="2367.4" y2="761.3" stroke="#111" stroke-width="0.9" />
<line x1="2332.0" y1="769.5" x2="2367.4" y2="769.5" stroke="#111" stroke-width="0.9" />
<line x1="2332.0" y1="777.6" x2="2367.4" y2="777.6" stroke="#111" stroke-width="0.9" />
<line x1="2332.0" y1="785.8" x2="2367.4" y2="785.8" stroke="#111" stroke-width="0.9" />
<line x1="2332.0" y1="793.9" x2="2367.4" y2="793.9" stroke="#111" stroke-width="0.9" />
<line x1="2332.0" y1="802.0" x2="2367.4" y2="802.0" stroke="#111" stroke-width="0.9" />
<line x1="2332.0" y1="810.2" x2="2367.4" y2="810.2" stroke="#111" stroke-width="0.9" />
<line x1="2332.0" y1="818.4" x2="2367.4" y2="818.4" stroke="#111" stroke-width="0.9" />
<line x1="2332.0" y1="826.5" x2="2367.4" y2="826.5" stroke="#111" stroke-width="0.9" />
<line x1="2367.4" y1="785.8" x2="2384.4" y2="785.8" stroke="#111" stroke-width="1.2" />
<path d="M2384.4,785.8 L2377.4,782.6 L2377.4,788.9 Z" fill="#111"/>
<rect x="2384.4" y="745.0" width="22.2" height="81.5" fill="#fff" stroke="#2a2a2a" stroke-width="1.4" rx="5"/>
<circle cx="2395.5" cy="757.1" r="4.6" fill="#b01c1c" stroke="#2a2a2a" stroke-width="1"/>
<circle cx="2395.5" cy="776.7" r="4.6" fill="#ee2a2a" stroke="#2a2a2a" stroke-width="1"/>
<circle cx="2395.5" cy="796.3" r="4.6" fill="#f46262" stroke="#2a2a2a" stroke-width="1"/>
<circle cx="2395.5" cy="815.4" r="4.6" fill="#f89a9a" stroke="#2a2a2a" stroke-width="1"/>
<line x1="2406.6" y1="785.8" x2="2442.4" y2="785.8" stroke="#111" stroke-width="1.2" />
<path d="M2442.4,785.8 L2435.4,782.6 L2435.4,788.9 Z" fill="#111"/>
<rect x="2442.4" y="745.0" width="22.7" height="81.5" fill="#fff" stroke="#2a2a2a" stroke-width="1.4" rx="5"/>
<circle cx="2453.8" cy="757.1" r="4.6" fill="#b01c1c" stroke="#2a2a2a" stroke-width="1"/>
<circle cx="2453.8" cy="776.7" r="4.6" fill="#ee2a2a" stroke="#2a2a2a" stroke-width="1"/>
<circle cx="2453.8" cy="815.4" r="4.6" fill="#f89a9a" stroke="#2a2a2a" stroke-width="1"/>
<text x="2409.9" y="771.0" font-size="30" class="r i" textLength="26.0" lengthAdjust="spacingAndGlyphs" xml:space="preserve"><tspan dy="0.0" font-size="30.0">p</tspan><tspan dy="6.6" font-size="21.0">i</tspan><tspan dy="-19.2" font-size="21.0">v</tspan></text>
<rect x="2332.0" y="831.5" width="35.4" height="81.5" fill="#4a4a4a"/>
<rect x="2339.1" y="839.6" width="21.2" height="36.7" fill="#d0d0d0"/>
<rect x="2340.8" y="876.3" width="17.7" height="32.6" fill="#b0b0b0"/>
<rect x="2340.8" y="831.5" width="8.8" height="8.2" fill="#0c2a6c"/>
<rect x="2349.7" y="831.5" width="8.8" height="8.2" fill="#0c2a6c"/>
<rect x="2332.0" y="847.8" width="8.8" height="8.2" fill="#2c5aa8"/>
<rect x="2358.6" y="847.8" width="8.8" height="8.2" fill="#2c5aa8"/>
<rect x="2340.8" y="880.4" width="8.8" height="8.2" fill="#4a90e0"/>
<rect x="2349.7" y="888.5" width="8.8" height="8.2" fill="#4a90e0"/>
<rect x="2332.0" y="904.9" width="8.8" height="8.2" fill="#98e4f8"/>
<rect x="2340.8" y="904.9" width="8.8" height="8.2" fill="#98e4f8"/>
<line x1="2332.0" y1="831.5" x2="2332.0" y2="913.0" stroke="#111" stroke-width="0.9" />
<line x1="2340.8" y1="831.5" x2="2340.8" y2="913.0" stroke="#111" stroke-width="0.9" />
<line x1="2349.7" y1="831.5" x2="2349.7" y2="913.0" stroke="#111" stroke-width="0.9" />
<line x1="2358.6" y1="831.5" x2="2358.6" y2="913.0" stroke="#111" stroke-width="0.9" />
<line x1="2367.4" y1="831.5" x2="2367.4" y2="913.0" stroke="#111" stroke-width="0.9" />
<line x1="2332.0" y1="831.5" x2="2367.4" y2="831.5" stroke="#111" stroke-width="0.9" />
<line x1="2332.0" y1="839.6" x2="2367.4" y2="839.6" stroke="#111" stroke-width="0.9" />
<line x1="2332.0" y1="847.8" x2="2367.4" y2="847.8" stroke="#111" stroke-width="0.9" />
<line x1="2332.0" y1="856.0" x2="2367.4" y2="856.0" stroke="#111" stroke-width="0.9" />
<line x1="2332.0" y1="864.1" x2="2367.4" y2="864.1" stroke="#111" stroke-width="0.9" />
<line x1="2332.0" y1="872.2" x2="2367.4" y2="872.2" stroke="#111" stroke-width="0.9" />
<line x1="2332.0" y1="880.4" x2="2367.4" y2="880.4" stroke="#111" stroke-width="0.9" />
<line x1="2332.0" y1="888.5" x2="2367.4" y2="888.5" stroke="#111" stroke-width="0.9" />
<line x1="2332.0" y1="896.7" x2="2367.4" y2="896.7" stroke="#111" stroke-width="0.9" />
<line x1="2332.0" y1="904.9" x2="2367.4" y2="904.9" stroke="#111" stroke-width="0.9" />
<line x1="2332.0" y1="913.0" x2="2367.4" y2="913.0" stroke="#111" stroke-width="0.9" />
<line x1="2367.4" y1="872.2" x2="2384.4" y2="872.2" stroke="#111" stroke-width="1.2" />
<path d="M2384.4,872.2 L2377.4,869.1 L2377.4,875.4 Z" fill="#111"/>
<rect x="2384.4" y="831.5" width="22.2" height="81.5" fill="#fff" stroke="#2a2a2a" stroke-width="1.4" rx="5"/>
<path d="M2395.5,838.074074074074 L2400.5,847.574074074074 L2390.5,847.574074074074 Z" fill="#0c2a6c" stroke="#2a2a2a" stroke-width="1"/>
<path d="M2395.5,857.6944444444445 L2400.5,867.1944444444445 L2390.5,867.1944444444445 Z" fill="#2c5aa8" stroke="#2a2a2a" stroke-width="1"/>
<path d="M2395.5,877.3148148148148 L2400.5,886.8148148148148 L2390.5,886.8148148148148 Z" fill="#4a90e0" stroke="#2a2a2a" stroke-width="1"/>
<path d="M2395.5,896.4320987654321 L2400.5,905.9320987654321 L2390.5,905.9320987654321 Z" fill="#98e4f8" stroke="#2a2a2a" stroke-width="1"/>
<line x1="2406.6" y1="872.2" x2="2442.4" y2="872.2" stroke="#111" stroke-width="1.2" />
<path d="M2442.4,872.2 L2435.4,869.1 L2435.4,875.4 Z" fill="#111"/>
<rect x="2442.4" y="831.5" width="22.7" height="81.5" fill="#fff" stroke="#2a2a2a" stroke-width="1.4" rx="5"/>
<path d="M2453.75,877.3148148148148 L2458.75,886.8148148148148 L2448.75,886.8148148148148 Z" fill="#4a90e0" stroke="#2a2a2a" stroke-width="1"/>
<text x="2409.9" y="904.5" font-size="30" class="r i" textLength="26.0" lengthAdjust="spacingAndGlyphs" xml:space="preserve"><tspan dy="0.0" font-size="30.0">p</tspan><tspan dy="6.6" font-size="21.0">j</tspan><tspan dy="-19.2" font-size="21.0">r</tspan></text>
<path d="M2465.1,595.5 L2486.4,595.5 L2486.4,623.4" fill="none" stroke="#111" stroke-width="1.2"/>
<path d="M2486.4,623.4 L2489.1,617.4 L2483.7,617.4 Z" fill="#111"/>
<path d="M2465.1,682.7 L2486.4,682.7 L2486.4,654.6" fill="none" stroke="#111" stroke-width="1.2"/>
<path d="M2486.4,654.6 L2483.7,660.6 L2489.1,660.6 Z" fill="#111"/>
<circle cx="2486.4" cy="639.0" r="15.6" fill="#fff" stroke="#2a2a2a" stroke-width="1.5"/>
<text x="2486.4" y="646.7" font-size="22" class="r b i" text-anchor="middle">A</text>
<line x1="2502.0" y1="639.0" x2="2522.2" y2="639.0" stroke="#111" stroke-width="1.2" />
<path d="M2522.2,639.0 L2515.2,635.9 L2515.2,642.1 Z" fill="#111"/>
<rect x="2522.2" y="600.3" width="22.6" height="80.0" fill="#fff" stroke="#2a2a2a" stroke-width="1.4" rx="5" stroke-dasharray="3 2"/>
<circle cx="2533.5" cy="612.2" r="4.6" fill="#b01c1c" stroke="#2a2a2a" stroke-width="1"/>
<circle cx="2533.5" cy="631.4" r="4.6" fill="#2c5aa8" stroke="#2a2a2a" stroke-width="1"/>
<circle cx="2533.5" cy="650.7" r="4.6" fill="#f46262" stroke="#2a2a2a" stroke-width="1"/>
<circle cx="2533.5" cy="669.4" r="4.6" fill="#f89a9a" stroke="#2a2a2a" stroke-width="1"/>
<path d="M2465.1,785.5 L2486.4,785.5 L2486.4,812.6" fill="none" stroke="#111" stroke-width="1.2"/>
<path d="M2486.4,812.6 L2489.1,806.6 L2483.7,806.6 Z" fill="#111"/>
<path d="M2465.1,872.0 L2486.4,872.0 L2486.4,843.8000000000001" fill="none" stroke="#111" stroke-width="1.2"/>
<path d="M2486.4,843.8 L2483.7,849.8 L2489.1,849.8 Z" fill="#111"/>
<circle cx="2486.4" cy="828.2" r="15.6" fill="#fff" stroke="#2a2a2a" stroke-width="1.5"/>
<text x="2486.4" y="835.9" font-size="22" class="r b i" text-anchor="middle">A</text>
<line x1="2502.0" y1="828.2" x2="2522.2" y2="828.2" stroke="#111" stroke-width="1.2" />
<path d="M2522.2,828.2 L2515.2,825.1 L2515.2,831.4 Z" fill="#111"/>
<rect x="2522.2" y="788.0" width="22.6" height="80.0" fill="#fff" stroke="#2a2a2a" stroke-width="1.4" rx="5" stroke-dasharray="3 2"/>
<circle cx="2533.5" cy="799.9" r="4.6" fill="#b01c1c" stroke="#2a2a2a" stroke-width="1"/>
<circle cx="2533.5" cy="819.1" r="4.6" fill="#ee2a2a" stroke="#2a2a2a" stroke-width="1"/>
<path d="M2533.5,832.8703703703703 L2538.5,842.3703703703703 L2528.5,842.3703703703703 Z" fill="#4a90e0" stroke="#2a2a2a" stroke-width="1"/>
<circle cx="2533.5" cy="857.1" r="4.6" fill="#f89a9a" stroke="#2a2a2a" stroke-width="1"/>
<rect x="2563.3" y="555.0" width="35.4" height="81.0" fill="#5a5a5a"/>
<rect x="2563.3" y="555.0" width="7.1" height="81.0" fill="#9a9a9a"/>
<rect x="2591.6" y="555.0" width="7.1" height="81.0" fill="#9a9a9a"/>
<rect x="2573.9" y="561.5" width="14.2" height="9.7" fill="#3a3a48"/>
<rect x="2570.4" y="571.2" width="21.2" height="28.3" fill="#33384a"/>
<rect x="2572.2" y="599.5" width="17.7" height="32.4" fill="#2c2c34"/>
<rect x="2572.2" y="555.0" width="8.8" height="8.1" fill="#c41c1c"/>
<rect x="2581.0" y="555.0" width="8.8" height="8.1" fill="#c41c1c"/>
<rect x="2572.2" y="571.2" width="8.8" height="8.1" fill="#ff3030"/>
<rect x="2581.0" y="571.2" width="8.8" height="8.1" fill="#ff3030"/>
<rect x="2563.3" y="587.4" width="8.8" height="8.1" fill="#ff5a5a"/>
<rect x="2589.9" y="587.4" width="8.8" height="8.1" fill="#ff5a5a"/>
<rect x="2581.0" y="619.8" width="8.8" height="8.1" fill="#ff9090"/>
<rect x="2563.3" y="627.9" width="8.8" height="8.1" fill="#ff9090"/>
<rect x="2581.0" y="627.9" width="8.8" height="8.1" fill="#ff9090"/>
<line x1="2563.3" y1="555.0" x2="2563.3" y2="636.0" stroke="#111" stroke-width="0.9" />
<line x1="2572.2" y1="555.0" x2="2572.2" y2="636.0" stroke="#111" stroke-width="0.9" />
<line x1="2581.0" y1="555.0" x2="2581.0" y2="636.0" stroke="#111" stroke-width="0.9" />
<line x1="2589.9" y1="555.0" x2="2589.9" y2="636.0" stroke="#111" stroke-width="0.9" />
<line x1="2598.7" y1="555.0" x2="2598.7" y2="636.0" stroke="#111" stroke-width="0.9" />
<line x1="2563.3" y1="555.0" x2="2598.7" y2="555.0" stroke="#111" stroke-width="0.9" />
<line x1="2563.3" y1="563.1" x2="2598.7" y2="563.1" stroke="#111" stroke-width="0.9" />
<line x1="2563.3" y1="571.2" x2="2598.7" y2="571.2" stroke="#111" stroke-width="0.9" />
<line x1="2563.3" y1="579.3" x2="2598.7" y2="579.3" stroke="#111" stroke-width="0.9" />
<line x1="2563.3" y1="587.4" x2="2598.7" y2="587.4" stroke="#111" stroke-width="0.9" />
<line x1="2563.3" y1="595.5" x2="2598.7" y2="595.5" stroke="#111" stroke-width="0.9" />
<line x1="2563.3" y1="603.6" x2="2598.7" y2="603.6" stroke="#111" stroke-width="0.9" />
<line x1="2563.3" y1="611.7" x2="2598.7" y2="611.7" stroke="#111" stroke-width="0.9" />
<line x1="2563.3" y1="619.8" x2="2598.7" y2="619.8" stroke="#111" stroke-width="0.9" />
<line x1="2563.3" y1="627.9" x2="2598.7" y2="627.9" stroke="#111" stroke-width="0.9" />
<line x1="2563.3" y1="636.0" x2="2598.7" y2="636.0" stroke="#111" stroke-width="0.9" />
<line x1="2598.7" y1="595.5" x2="2615.6" y2="595.5" stroke="#111" stroke-width="1.2" />
<path d="M2615.6,595.5 L2608.6,592.4 L2608.6,598.6 Z" fill="#111"/>
<rect x="2615.6" y="555.0" width="22.2" height="81.0" fill="#fff" stroke="#2a2a2a" stroke-width="1.4" rx="5"/>
<circle cx="2626.7" cy="567.0" r="4.6" fill="#b01c1c" stroke="#2a2a2a" stroke-width="1"/>
<circle cx="2626.7" cy="586.5" r="4.6" fill="#ee2a2a" stroke="#2a2a2a" stroke-width="1"/>
<circle cx="2626.7" cy="606.0" r="4.6" fill="#f46262" stroke="#2a2a2a" stroke-width="1"/>
<circle cx="2626.7" cy="625.0" r="4.6" fill="#f89a9a" stroke="#2a2a2a" stroke-width="1"/>
<line x1="2637.8" y1="595.5" x2="2674.4" y2="595.5" stroke="#111" stroke-width="1.2" />
<path d="M2674.4,595.5 L2667.4,592.4 L2667.4,598.6 Z" fill="#111"/>
<rect x="2674.4" y="555.0" width="22.7" height="81.0" fill="#fff" stroke="#2a2a2a" stroke-width="1.4" rx="5"/>
<circle cx="2685.8" cy="586.5" r="4.6" fill="#ee2a2a" stroke="#2a2a2a" stroke-width="1"/>
<circle cx="2685.8" cy="606.0" r="4.6" fill="#f46262" stroke="#2a2a2a" stroke-width="1"/>
<circle cx="2685.8" cy="625.0" r="4.6" fill="#f89a9a" stroke="#2a2a2a" stroke-width="1"/>
<text x="2641.1" y="581.0" font-size="30" class="r i" textLength="26.0" lengthAdjust="spacingAndGlyphs" xml:space="preserve"><tspan dy="0.0" font-size="30.0">p</tspan><tspan dy="6.6" font-size="21.0">i</tspan><tspan dy="-19.2" font-size="21.0">v</tspan></text>
<rect x="2563.3" y="642.2" width="35.4" height="81.5" fill="#5a5a5a"/>
<rect x="2563.3" y="642.2" width="7.1" height="81.5" fill="#9a9a9a"/>
<rect x="2591.6" y="642.2" width="7.1" height="81.5" fill="#9a9a9a"/>
<rect x="2573.9" y="648.7" width="14.2" height="9.8" fill="#3a3a48"/>
<rect x="2570.4" y="658.5" width="21.2" height="28.5" fill="#33384a"/>
<rect x="2572.2" y="687.0" width="17.7" height="32.6" fill="#2c2c34"/>
<rect x="2572.2" y="642.2" width="8.8" height="8.2" fill="#c41c1c"/>
<rect x="2581.0" y="642.2" width="8.8" height="8.2" fill="#c41c1c"/>
<rect x="2572.2" y="658.5" width="8.8" height="8.2" fill="#ff3030"/>
<rect x="2581.0" y="658.5" width="8.8" height="8.2" fill="#ff3030"/>
<rect x="2563.3" y="674.8" width="8.8" height="8.2" fill="#ff5a5a"/>
<rect x="2589.9" y="674.8" width="8.8" height="8.2" fill="#ff5a5a"/>
<rect x="2581.0" y="707.4" width="8.8" height="8.2" fill="#ff9090"/>
<rect x="2563.3" y="715.6" width="8.8" height="8.2" fill="#ff9090"/>
<rect x="2581.0" y="715.6" width="8.8" height="8.2" fill="#ff9090"/>
<line x1="2563.3" y1="642.2" x2="2563.3" y2="723.7" stroke="#111" stroke-width="0.9" />
<line x1="2572.2" y1="642.2" x2="2572.2" y2="723.7" stroke="#111" stroke-width="0.9" />
<line x1="2581.0" y1="642.2" x2="2581.0" y2="723.7" stroke="#111" stroke-width="0.9" />
<line x1="2589.9" y1="642.2" x2="2589.9" y2="723.7" stroke="#111" stroke-width="0.9" />
<line x1="2598.7" y1="642.2" x2="2598.7" y2="723.7" stroke="#111" stroke-width="0.9" />
<line x1="2563.3" y1="642.2" x2="2598.7" y2="642.2" stroke="#111" stroke-width="0.9" />
<line x1="2563.3" y1="650.4" x2="2598.7" y2="650.4" stroke="#111" stroke-width="0.9" />
<line x1="2563.3" y1="658.5" x2="2598.7" y2="658.5" stroke="#111" stroke-width="0.9" />
<line x1="2563.3" y1="666.7" x2="2598.7" y2="666.7" stroke="#111" stroke-width="0.9" />
<line x1="2563.3" y1="674.8" x2="2598.7" y2="674.8" stroke="#111" stroke-width="0.9" />
<line x1="2563.3" y1="683.0" x2="2598.7" y2="683.0" stroke="#111" stroke-width="0.9" />
<line x1="2563.3" y1="691.1" x2="2598.7" y2="691.1" stroke="#111" stroke-width="0.9" />
<line x1="2563.3" y1="699.2" x2="2598.7" y2="699.2" stroke="#111" stroke-width="0.9" />
<line x1="2563.3" y1="707.4" x2="2598.7" y2="707.4" stroke="#111" stroke-width="0.9" />
<line x1="2563.3" y1="715.6" x2="2598.7" y2="715.6" stroke="#111" stroke-width="0.9" />
<line x1="2563.3" y1="723.7" x2="2598.7" y2="723.7" stroke="#111" stroke-width="0.9" />
<line x1="2598.7" y1="683.0" x2="2615.6" y2="683.0" stroke="#111" stroke-width="1.2" />
<path d="M2615.6,683.0 L2608.6,679.8 L2608.6,686.1 Z" fill="#111"/>
<rect x="2615.6" y="642.2" width="22.2" height="81.5" fill="#fff" stroke="#2a2a2a" stroke-width="1.4" rx="5"/>
<circle cx="2626.7" cy="654.3" r="4.6" fill="#b01c1c" stroke="#2a2a2a" stroke-width="1"/>
<circle cx="2626.7" cy="673.9" r="4.6" fill="#ee2a2a" stroke="#2a2a2a" stroke-width="1"/>
<circle cx="2626.7" cy="693.5" r="4.6" fill="#f46262" stroke="#2a2a2a" stroke-width="1"/>
<circle cx="2626.7" cy="712.6" r="4.6" fill="#f89a9a" stroke="#2a2a2a" stroke-width="1"/>
<line x1="2637.8" y1="683.0" x2="2674.4" y2="683.0" stroke="#111" stroke-width="1.2" />
<path d="M2674.4,683.0 L2667.4,679.8 L2667.4,686.1 Z" fill="#111"/>
<rect x="2674.4" y="642.2" width="22.7" height="81.5" fill="#fff" stroke="#2a2a2a" stroke-width="1.4" rx="5"/>
<circle cx="2685.8" cy="712.6" r="4.6" fill="#f89a9a" stroke="#2a2a2a" stroke-width="1"/>
<text x="2641.1" y="715.2" font-size="30" class="r i" textLength="26.0" lengthAdjust="spacingAndGlyphs" xml:space="preserve"><tspan dy="0.0" font-size="30.0">p</tspan><tspan dy="6.6" font-size="21.0">j</tspan><tspan dy="-19.2" font-size="21.0">v</tspan></text>
<rect x="2563.3" y="745.0" width="35.4" height="81.5" fill="#5a5a5a"/>
<rect x="2563.3" y="745.0" width="7.1" height="81.5" fill="#9a9a9a"/>
<rect x="2591.6" y="745.0" width="7.1" height="81.5" fill="#9a9a9a"/>
<rect x="2573.9" y="751.5" width="14.2" height="9.8" fill="#3a3a48"/>
<rect x="2570.4" y="761.3" width="21.2" height="28.5" fill="#33384a"/>
<rect x="2572.2" y="789.8" width="17.7" height="32.6" fill="#2c2c34"/>
<rect x="2572.2" y="745.0" width="8.8" height="8.2" fill="#c41c1c"/>
<rect x="2581.0" y="745.0" width="8.8" height="8.2" fill="#c41c1c"/>
<rect x="2572.2" y="761.3" width="8.8" height="8.2" fill="#ff3030"/>
<rect x="2581.0" y="761.3" width="8.8" height="8.2" fill="#ff3030"/>
<rect x="2563.3" y="777.6" width="8.8" height="8.2" fill="#ff5a5a"/>
<rect x="2589.9" y="777.6" width="8.8" height="8.2" fill="#ff5a5a"/>
<rect x="2581.0" y="810.2" width="8.8" height="8.2" fill="#ff9090"/>
<rect x="2563.3" y="818.4" width="8.8" height="8.2" fill="#ff9090"/>
<rect x="2581.0" y="818.4" width="8.8" height="8.2" fill="#ff9090"/>
<line x1="2563.3" y1="745.0" x2="2563.3" y2="826.5" stroke="#111" stroke-width="0.9" />
<line x1="2572.2" y1="745.0" x2="2572.2" y2="826.5" stroke="#111" stroke-width="0.9" />
<line x1="2581.0" y1="745.0" x2="2581.0" y2="826.5" stroke="#111" stroke-width="0.9" />
<line x1="2589.9" y1="745.0" x2="2589.9" y2="826.5" stroke="#111" stroke-width="0.9" />
<line x1="2598.7" y1="745.0" x2="2598.7" y2="826.5" stroke="#111" stroke-width="0.9" />
<line x1="2563.3" y1="745.0" x2="2598.7" y2="745.0" stroke="#111" stroke-width="0.9" />
<line x1="2563.3" y1="753.1" x2="2598.7" y2="753.1" stroke="#111" stroke-width="0.9" />
<line x1="2563.3" y1="761.3" x2="2598.7" y2="761.3" stroke="#111" stroke-width="0.9" />
<line x1="2563.3" y1="769.5" x2="2598.7" y2="769.5" stroke="#111" stroke-width="0.9" />
<line x1="2563.3" y1="777.6" x2="2598.7" y2="777.6" stroke="#111" stroke-width="0.9" />
<line x1="2563.3" y1="785.8" x2="2598.7" y2="785.8" stroke="#111" stroke-width="0.9" />
<line x1="2563.3" y1="793.9" x2="2598.7" y2="793.9" stroke="#111" stroke-width="0.9" />
<line x1="2563.3" y1="802.0" x2="2598.7" y2="802.0" stroke="#111" stroke-width="0.9" />
<line x1="2563.3" y1="810.2" x2="2598.7" y2="810.2" stroke="#111" stroke-width="0.9" />
<line x1="2563.3" y1="818.4" x2="2598.7" y2="818.4" stroke="#111" stroke-width="0.9" />
<line x1="2563.3" y1="826.5" x2="2598.7" y2="826.5" stroke="#111" stroke-width="0.9" />
<line x1="2598.7" y1="785.8" x2="2615.6" y2="785.8" stroke="#111" stroke-width="1.2" />
<path d="M2615.6,785.8 L2608.6,782.6 L2608.6,788.9 Z" fill="#111"/>
<rect x="2615.6" y="745.0" width="22.2" height="81.5" fill="#fff" stroke="#2a2a2a" stroke-width="1.4" rx="5"/>
<circle cx="2626.7" cy="757.1" r="4.6" fill="#b01c1c" stroke="#2a2a2a" stroke-width="1"/>
<circle cx="2626.7" cy="776.7" r="4.6" fill="#ee2a2a" stroke="#2a2a2a" stroke-width="1"/>
<circle cx="2626.7" cy="796.3" r="4.6" fill="#f46262" stroke="#2a2a2a" stroke-width="1"/>
<circle cx="2626.7" cy="815.4" r="4.6" fill="#f89a9a" stroke="#2a2a2a" stroke-width="1"/>
<line x1="2637.8" y1="785.8" x2="2674.4" y2="785.8" stroke="#111" stroke-width="1.2" />
<path d="M2674.4,785.8 L2667.4,782.6 L2667.4,788.9 Z" fill="#111"/>
<rect x="2674.4" y="745.0" width="22.7" height="81.5" fill="#fff" stroke="#2a2a2a" stroke-width="1.4" rx="5"/>
<circle cx="2685.8" cy="757.1" r="4.6" fill="#b01c1c" stroke="#2a2a2a" stroke-width="1"/>
<circle cx="2685.8" cy="776.7" r="4.6" fill="#ee2a2a" stroke="#2a2a2a" stroke-width="1"/>
<circle cx="2685.8" cy="815.4" r="4.6" fill="#f89a9a" stroke="#2a2a2a" stroke-width="1"/>
<text x="2641.1" y="771.0" font-size="30" class="r i" textLength="26.0" lengthAdjust="spacingAndGlyphs" xml:space="preserve"><tspan dy="0.0" font-size="30.0">p</tspan><tspan dy="6.6" font-size="21.0">i</tspan><tspan dy="-19.2" font-size="21.0">v</tspan></text>
<rect x="2563.3" y="831.5" width="35.4" height="81.5" fill="#6a6a6a"/>
<rect x="2570.4" y="839.6" width="21.2" height="36.7" fill="#d8d8d8"/>
<rect x="2572.2" y="876.3" width="17.7" height="32.6" fill="#bcbcbc"/>
<rect x="2563.3" y="880.4" width="7.1" height="32.6" fill="#3a3a3a"/>
<rect x="2591.6" y="880.4" width="7.1" height="32.6" fill="#3a3a3a"/>
<rect x="2572.2" y="831.5" width="8.8" height="8.2" fill="#c41c1c"/>
<rect x="2581.0" y="831.5" width="8.8" height="8.2" fill="#c41c1c"/>
<rect x="2572.2" y="847.8" width="8.8" height="8.2" fill="#ff3030"/>
<rect x="2581.0" y="847.8" width="8.8" height="8.2" fill="#ff3030"/>
<rect x="2563.3" y="864.1" width="8.8" height="8.2" fill="#ff5a5a"/>
<rect x="2589.9" y="864.1" width="8.8" height="8.2" fill="#ff5a5a"/>
<rect x="2572.2" y="904.9" width="8.8" height="8.2" fill="#ff9090"/>
<rect x="2581.0" y="904.9" width="8.8" height="8.2" fill="#ff9090"/>
<line x1="2563.3" y1="831.5" x2="2563.3" y2="913.0" stroke="#111" stroke-width="0.9" />
<line x1="2572.2" y1="831.5" x2="2572.2" y2="913.0" stroke="#111" stroke-width="0.9" />
<line x1="2581.0" y1="831.5" x2="2581.0" y2="913.0" stroke="#111" stroke-width="0.9" />
<line x1="2589.9" y1="831.5" x2="2589.9" y2="913.0" stroke="#111" stroke-width="0.9" />
<line x1="2598.7" y1="831.5" x2="2598.7" y2="913.0" stroke="#111" stroke-width="0.9" />
<line x1="2563.3" y1="831.5" x2="2598.7" y2="831.5" stroke="#111" stroke-width="0.9" />
<line x1="2563.3" y1="839.6" x2="2598.7" y2="839.6" stroke="#111" stroke-width="0.9" />
<line x1="2563.3" y1="847.8" x2="2598.7" y2="847.8" stroke="#111" stroke-width="0.9" />
<line x1="2563.3" y1="856.0" x2="2598.7" y2="856.0" stroke="#111" stroke-width="0.9" />
<line x1="2563.3" y1="864.1" x2="2598.7" y2="864.1" stroke="#111" stroke-width="0.9" />
<line x1="2563.3" y1="872.2" x2="2598.7" y2="872.2" stroke="#111" stroke-width="0.9" />
<line x1="2563.3" y1="880.4" x2="2598.7" y2="880.4" stroke="#111" stroke-width="0.9" />
<line x1="2563.3" y1="888.5" x2="2598.7" y2="888.5" stroke="#111" stroke-width="0.9" />
<line x1="2563.3" y1="896.7" x2="2598.7" y2="896.7" stroke="#111" stroke-width="0.9" />
<line x1="2563.3" y1="904.9" x2="2598.7" y2="904.9" stroke="#111" stroke-width="0.9" />
<line x1="2563.3" y1="913.0" x2="2598.7" y2="913.0" stroke="#111" stroke-width="0.9" />
<line x1="2598.7" y1="872.2" x2="2615.6" y2="872.2" stroke="#111" stroke-width="1.2" />
<path d="M2615.6,872.2 L2608.6,869.1 L2608.6,875.4 Z" fill="#111"/>
<rect x="2615.6" y="831.5" width="22.2" height="81.5" fill="#fff" stroke="#2a2a2a" stroke-width="1.4" rx="5"/>
<path d="M2626.7,838.074074074074 L2631.7,847.574074074074 L2621.7,847.574074074074 Z" fill="#b01c1c" stroke="#2a2a2a" stroke-width="1"/>
<path d="M2626.7,857.6944444444445 L2631.7,867.1944444444445 L2621.7,867.1944444444445 Z" fill="#ee2a2a" stroke="#2a2a2a" stroke-width="1"/>
<path d="M2626.7,877.3148148148148 L2631.7,886.8148148148148 L2621.7,886.8148148148148 Z" fill="#f46262" stroke="#2a2a2a" stroke-width="1"/>
<path d="M2626.7,896.4320987654321 L2631.7,905.9320987654321 L2621.7,905.9320987654321 Z" fill="#f89a9a" stroke="#2a2a2a" stroke-width="1"/>
<line x1="2637.8" y1="872.2" x2="2674.4" y2="872.2" stroke="#111" stroke-width="1.2" />
<path d="M2674.4,872.2 L2667.4,869.1 L2667.4,875.4 Z" fill="#111"/>
<rect x="2674.4" y="831.5" width="22.7" height="81.5" fill="#fff" stroke="#2a2a2a" stroke-width="1.4" rx="5"/>
<path d="M2685.75,838.074074074074 L2690.75,847.574074074074 L2680.75,847.574074074074 Z" fill="#b01c1c" stroke="#2a2a2a" stroke-width="1"/>
<text x="2641.1" y="904.5" font-size="30" class="r i" textLength="26.0" lengthAdjust="spacingAndGlyphs" xml:space="preserve"><tspan dy="0.0" font-size="30.0">p</tspan><tspan dy="6.6" font-size="21.0">j</tspan><tspan dy="-19.2" font-size="21.0">r</tspan></text>
<path d="M2697.1,595.5 L2718.5,595.5 L2718.5,623.4" fill="none" stroke="#111" stroke-width="1.2"/>
<path d="M2718.5,623.4 L2721.2,617.4 L2715.8,617.4 Z" fill="#111"/>
<path d="M2697.1,682.7 L2718.5,682.7 L2718.5,654.6" fill="none" stroke="#111" stroke-width="1.2"/>
<path d="M2718.5,654.6 L2715.8,660.6 L2721.2,660.6 Z" fill="#111"/>
<circle cx="2718.5" cy="639.0" r="15.6" fill="#fff" stroke="#2a2a2a" stroke-width="1.5"/>
<text x="2718.5" y="646.7" font-size="22" class="r b i" text-anchor="middle">A</text>
<line x1="2734.1" y1="639.0" x2="2752.2" y2="639.0" stroke="#111" stroke-width="1.2" />
<path d="M2752.2,639.0 L2745.2,635.9 L2745.2,642.1 Z" fill="#111"/>
<rect x="2752.2" y="600.3" width="22.6" height="80.0" fill="#fff" stroke="#2a2a2a" stroke-width="1.4" rx="5" stroke-dasharray="3 2"/>
<circle cx="2763.5" cy="612.2" r="4.6" fill="#f89a9a" stroke="#2a2a2a" stroke-width="1"/>
<circle cx="2763.5" cy="631.4" r="4.6" fill="#ee2a2a" stroke="#2a2a2a" stroke-width="1"/>
<circle cx="2763.5" cy="650.7" r="4.6" fill="#f46262" stroke="#2a2a2a" stroke-width="1"/>
<circle cx="2763.5" cy="669.4" r="4.6" fill="#f89a9a" stroke="#2a2a2a" stroke-width="1"/>
<path d="M2697.1,785.5 L2718.5,785.5 L2718.5,812.6" fill="none" stroke="#111" stroke-width="1.2"/>
<path d="M2718.5,812.6 L2721.2,806.6 L2715.8,806.6 Z" fill="#111"/>
<path d="M2697.1,872.0 L2718.5,872.0 L2718.5,843.8000000000001" fill="none" stroke="#111" stroke-width="1.2"/>
<path d="M2718.5,843.8 L2715.8,849.8 L2721.2,849.8 Z" fill="#111"/>
<circle cx="2718.5" cy="828.2" r="15.6" fill="#fff" stroke="#2a2a2a" stroke-width="1.5"/>
<text x="2718.5" y="835.9" font-size="22" class="r b i" text-anchor="middle">A</text>
<line x1="2734.1" y1="828.2" x2="2752.2" y2="828.2" stroke="#111" stroke-width="1.2" />
<path d="M2752.2,828.2 L2745.2,825.1 L2745.2,831.4 Z" fill="#111"/>
<rect x="2752.2" y="788.0" width="22.6" height="80.0" fill="#fff" stroke="#2a2a2a" stroke-width="1.4" rx="5" stroke-dasharray="3 2"/>
<circle cx="2763.5" cy="799.9" r="4.6" fill="#b01c1c" stroke="#2a2a2a" stroke-width="1"/>
<circle cx="2763.5" cy="819.1" r="4.6" fill="#ee2a2a" stroke="#2a2a2a" stroke-width="1"/>
<path d="M2763.5,832.8703703703703 L2768.5,842.3703703703703 L2758.5,842.3703703703703 Z" fill="#b01c1c" stroke="#2a2a2a" stroke-width="1"/>
<circle cx="2763.5" cy="857.1" r="4.6" fill="#f89a9a" stroke="#2a2a2a" stroke-width="1"/>
<rect x="2792.5" y="511.4" width="288.2" height="195.6" fill="none" stroke="#b83a58" stroke-width="1.8" rx="20"/>
<rect x="2857.7" y="505.4" width="157.0" height="12.0" fill="#fff"/>
<text x="2861.7" y="513.9" font-size="22" class="s" textLength="149.0" lengthAdjust="spacingAndGlyphs">Positive Mining</text>
<rect x="2802.8" y="531.2" width="221.5" height="165.6" fill="#fff" stroke="#2a2a2a" stroke-width="1.5"/>
<rect x="2808.2" y="539.2" width="87.2" height="25.0" fill="#fff" stroke="#2a2a2a" stroke-width="1.3" rx="5"/>
<circle cx="2820.0" cy="551.7" r="5.5" fill="#b01c1c" stroke="#2a2a2a" stroke-width="1"/>
<circle cx="2841.0" cy="551.7" r="5.5" fill="#ee2a2a" stroke="#2a2a2a" stroke-width="1"/>
<circle cx="2862.0" cy="551.7" r="5.5" fill="#f46262" stroke="#2a2a2a" stroke-width="1"/>
<circle cx="2883.0" cy="551.7" r="5.5" fill="#f89a9a" stroke="#2a2a2a" stroke-width="1"/>
<line x1="2895.4" y1="551.7" x2="2899.0" y2="551.7" stroke="#2a2a2a" stroke-width="1.3" />
<circle cx="2914.8" cy="551.7" r="15.6" fill="#fff" stroke="#2a2a2a" stroke-width="1.5"/>
<text x="2914.8" y="559.4" font-size="22" class="r b i" text-anchor="middle">H</text>
<line x1="2930.4" y1="551.7" x2="2942.0" y2="551.7" stroke="#2a2a2a" stroke-width="1.3" />
<rect x="2808.2" y="575.0" width="87.2" height="25.0" fill="#fff" stroke="#2a2a2a" stroke-width="1.3" rx="5" stroke-dasharray="3 2"/>
<path d="M2820,581.5 L2825.5,592.0 L2814.5,592.0 Z" fill="#b01c1c" stroke="#2a2a2a" stroke-width="1"/>
<circle cx="2841.0" cy="587.5" r="5.5" fill="#ee2a2a" stroke="#2a2a2a" stroke-width="1"/>
<circle cx="2862.0" cy="587.5" r="5.5" fill="#f46262" stroke="#2a2a2a" stroke-width="1"/>
<circle cx="2883.0" cy="587.5" r="5.5" fill="#f89a9a" stroke="#2a2a2a" stroke-width="1"/>
<line x1="2895.4" y1="587.5" x2="2899.0" y2="587.5" stroke="#2a2a2a" stroke-width="1.3" />
<circle cx="2914.8" cy="587.5" r="15.6" fill="#fff" stroke="#2a2a2a" stroke-width="1.5"/>
<text x="2914.8" y="595.2" font-size="22" class="r b i" text-anchor="middle">H</text>
<line x1="2930.4" y1="587.5" x2="2942.0" y2="587.5" stroke="#2a2a2a" stroke-width="1.3" />
<rect x="2808.2" y="629.8" width="87.2" height="25.0" fill="#fff" stroke="#2a2a2a" stroke-width="1.3" rx="5" stroke-dasharray="3 2"/>
<circle cx="2820.0" cy="642.3" r="5.5" fill="#b01c1c" stroke="#2a2a2a" stroke-width="1"/>
<circle cx="2841.0" cy="642.3" r="5.5" fill="#ee2a2a" stroke="#2a2a2a" stroke-width="1"/>
<path d="M2862,636.3 L2867.5,646.8 L2856.5,646.8 Z" fill="#f46262" stroke="#2a2a2a" stroke-width="1"/>
<circle cx="2883.0" cy="642.3" r="5.5" fill="#f89a9a" stroke="#2a2a2a" stroke-width="1"/>
<line x1="2895.4" y1="642.3" x2="2899.0" y2="642.3" stroke="#2a2a2a" stroke-width="1.3" />
<circle cx="2914.8" cy="642.3" r="15.6" fill="#fff" stroke="#2a2a2a" stroke-width="1.5"/>
<text x="2914.8" y="650.0" font-size="22" class="r b i" text-anchor="middle">H</text>
<line x1="2930.4" y1="642.3" x2="2942.0" y2="642.3" stroke="#2a2a2a" stroke-width="1.3" />
<rect x="2808.2" y="664.8" width="87.2" height="25.0" fill="#fff" stroke="#2a2a2a" stroke-width="1.3" rx="5" stroke-dasharray="3 2"/>
<circle cx="2820.0" cy="677.3" r="5.5" fill="#b01c1c" stroke="#2a2a2a" stroke-width="1"/>
<circle cx="2841.0" cy="677.3" r="5.5" fill="#ee2a2a" stroke="#2a2a2a" stroke-width="1"/>
<circle cx="2862.0" cy="677.3" r="5.5" fill="#f46262" stroke="#2a2a2a" stroke-width="1"/>
<circle cx="2883.0" cy="677.3" r="5.5" fill="#f89a9a" stroke="#2a2a2a" stroke-width="1"/>
<line x1="2895.4" y1="677.3" x2="2899.0" y2="677.3" stroke="#2a2a2a" stroke-width="1.3" />
<circle cx="2914.8" cy="677.3" r="15.6" fill="#fff" stroke="#2a2a2a" stroke-width="1.5"/>
<text x="2914.8" y="685.0" font-size="22" class="r b i" text-anchor="middle">H</text>
<line x1="2930.4" y1="677.3" x2="2942.0" y2="677.3" stroke="#2a2a2a" stroke-width="1.3" />
<line x1="2942.0" y1="551.7" x2="2942.0" y2="677.3" stroke="#2a2a2a" stroke-width="1.3" />
<line x1="2942.0" y1="565.3" x2="2951.0" y2="565.3" stroke="#2a2a2a" stroke-width="1.3" />
<circle cx="2965.4" cy="565.3" r="14.4" fill="#fff" stroke="#2a2a2a" stroke-width="1.5"/>
<line x1="2959.0" y1="565.3" x2="2972.0" y2="565.3" stroke="#2a2a2a" stroke-width="1.5" />
<line x1="2942.0" y1="630.0" x2="2951.0" y2="630.0" stroke="#2a2a2a" stroke-width="1.3" />
<circle cx="2965.4" cy="630.0" r="14.4" fill="#fff" stroke="#2a2a2a" stroke-width="1.5"/>
<line x1="2959.0" y1="630.0" x2="2972.0" y2="630.0" stroke="#2a2a2a" stroke-width="1.5" />
<line x1="2942.0" y1="665.0" x2="2951.0" y2="665.0" stroke="#2a2a2a" stroke-width="1.3" />
<circle cx="2965.4" cy="665.0" r="14.4" fill="#fff" stroke="#2a2a2a" stroke-width="1.5"/>
<line x1="2959.0" y1="665.0" x2="2972.0" y2="665.0" stroke="#2a2a2a" stroke-width="1.5" />
<text x="2965.4" y="601.6" font-size="20" class="s" text-anchor="middle">⋮</text>
<text x="2914.8" y="620.9" font-size="20" class="s" text-anchor="middle">⋮</text>
<text x="2851.0" y="620.9" font-size="20" class="s" text-anchor="middle">⋮</text>
<line x1="2990.0" y1="544.4" x2="2990.0" y2="691.0" stroke="#111" stroke-width="1.4" />
<path d="M2990.0,691.0 L2993.2,684.0 L2986.8,684.0 Z" fill="#111"/>
<text x="0.0" y="0.0" font-size="19" class="s" textLength="125.0" lengthAdjust="spacingAndGlyphs" text-anchor="middle" transform="translate(2998,617.2) rotate(90)">Ascending Order</text>
<text x="0.0" y="0.0" font-size="22" class="r i" text-anchor="middle" transform="translate(3034,617.2) rotate(90)">Top-U′</text>
<line x1="3046.0" y1="577.2" x2="3064.0" y2="577.2" stroke="#111" stroke-width="1.3" />
<path d="M3064.0,577.2 L3057.0,574.1 L3057.0,580.4 Z" fill="#111"/>
<rect x="2792.5" y="736.0" width="288.2" height="196.5" fill="none" stroke="#9a60c8" stroke-width="1.8" rx="20"/>
<rect x="2852.3" y="730.0" width="167.7" height="12.0" fill="#fff"/>
<text x="2856.3" y="739.0" font-size="22" class="s" textLength="159.7" lengthAdjust="spacingAndGlyphs">Negative Mining</text>
<rect x="2802.8" y="755.8" width="221.5" height="166.5" fill="#fff" stroke="#2a2a2a" stroke-width="1.5"/>
<rect x="2808.2" y="763.5" width="87.2" height="25.0" fill="#fff" stroke="#2a2a2a" stroke-width="1.3" rx="5"/>
<circle cx="2820.0" cy="776.0" r="5.5" fill="#b01c1c" stroke="#2a2a2a" stroke-width="1"/>
<circle cx="2841.0" cy="776.0" r="5.5" fill="#ee2a2a" stroke="#2a2a2a" stroke-width="1"/>
<circle cx="2862.0" cy="776.0" r="5.5" fill="#f46262" stroke="#2a2a2a" stroke-width="1"/>
<circle cx="2883.0" cy="776.0" r="5.5" fill="#f89a9a" stroke="#2a2a2a" stroke-width="1"/>
<line x1="2895.4" y1="776.0" x2="2899.0" y2="776.0" stroke="#2a2a2a" stroke-width="1.3" />
<circle cx="2914.8" cy="776.0" r="15.6" fill="#fff" stroke="#2a2a2a" stroke-width="1.5"/>
<text x="2914.8" y="783.7" font-size="22" class="r b i" text-anchor="middle">H</text>
<line x1="2930.4" y1="776.0" x2="2942.0" y2="776.0" stroke="#2a2a2a" stroke-width="1.3" />
<rect x="2808.2" y="799.4" width="87.2" height="25.0" fill="#fff" stroke="#2a2a2a" stroke-width="1.3" rx="5" stroke-dasharray="3 2"/>
<circle cx="2820.0" cy="811.9" r="5.5" fill="#b01c1c" stroke="#2a2a2a" stroke-width="1"/>
<path d="M2841,805.9 L2846.5,816.4 L2835.5,816.4 Z" fill="#2c5aa8" stroke="#2a2a2a" stroke-width="1"/>
<circle cx="2862.0" cy="811.9" r="5.5" fill="#f46262" stroke="#2a2a2a" stroke-width="1"/>
<circle cx="2883.0" cy="811.9" r="5.5" fill="#f89a9a" stroke="#2a2a2a" stroke-width="1"/>
<line x1="2895.4" y1="811.9" x2="2899.0" y2="811.9" stroke="#2a2a2a" stroke-width="1.3" />
<circle cx="2914.8" cy="811.9" r="15.6" fill="#fff" stroke="#2a2a2a" stroke-width="1.5"/>
<text x="2914.8" y="819.6" font-size="22" class="r b i" text-anchor="middle">H</text>
<line x1="2930.4" y1="811.9" x2="2942.0" y2="811.9" stroke="#2a2a2a" stroke-width="1.3" />
<rect x="2808.2" y="853.3" width="87.2" height="25.0" fill="#fff" stroke="#2a2a2a" stroke-width="1.3" rx="5" stroke-dasharray="3 2"/>
<circle cx="2820.0" cy="865.8" r="5.5" fill="#b01c1c" stroke="#2a2a2a" stroke-width="1"/>
<circle cx="2841.0" cy="865.8" r="5.5" fill="#ee2a2a" stroke="#2a2a2a" stroke-width="1"/>
<circle cx="2862.0" cy="865.8" r="5.5" fill="#f46262" stroke="#2a2a2a" stroke-width="1"/>
<path d="M2883,859.8 L2888.5,870.3 L2877.5,870.3 Z" fill="#98e4f8" stroke="#2a2a2a" stroke-width="1"/>
<line x1="2895.4" y1="865.8" x2="2899.0" y2="865.8" stroke="#2a2a2a" stroke-width="1.3" />
<circle cx="2914.8" cy="865.8" r="15.6" fill="#fff" stroke="#2a2a2a" stroke-width="1.5"/>
<text x="2914.8" y="873.5" font-size="22" class="r b i" text-anchor="middle">H</text>
<line x1="2930.4" y1="865.8" x2="2942.0" y2="865.8" stroke="#2a2a2a" stroke-width="1.3" />
<rect x="2808.2" y="888.3" width="87.2" height="25.0" fill="#fff" stroke="#2a2a2a" stroke-width="1.3" rx="5" stroke-dasharray="3 2"/>
<path d="M2820,894.8 L2825.5,905.3 L2814.5,905.3 Z" fill="#0c2a6c" stroke="#2a2a2a" stroke-width="1"/>
<circle cx="2841.0" cy="900.8" r="5.5" fill="#ee2a2a" stroke="#2a2a2a" stroke-width="1"/>
<circle cx="2862.0" cy="900.8" r="5.5" fill="#f46262" stroke="#2a2a2a" stroke-width="1"/>
<circle cx="2883.0" cy="900.8" r="5.5" fill="#f89a9a" stroke="#2a2a2a" stroke-width="1"/>
<line x1="2895.4" y1="900.8" x2="2899.0" y2="900.8" stroke="#2a2a2a" stroke-width="1.3" />
<circle cx="2914.8" cy="900.8" r="15.6" fill="#fff" stroke="#2a2a2a" stroke-width="1.5"/>
<text x="2914.8" y="908.5" font-size="22" class="r b i" text-anchor="middle">H</text>
<line x1="2930.4" y1="900.8" x2="2942.0" y2="900.8" stroke="#2a2a2a" stroke-width="1.3" />
<line x1="2942.0" y1="776.0" x2="2942.0" y2="900.8" stroke="#2a2a2a" stroke-width="1.3" />
<line x1="2942.0" y1="788.4" x2="2951.0" y2="788.4" stroke="#2a2a2a" stroke-width="1.3" />
<circle cx="2965.4" cy="788.4" r="14.4" fill="#fff" stroke="#2a2a2a" stroke-width="1.5"/>
<line x1="2959.0" y1="788.4" x2="2972.0" y2="788.4" stroke="#2a2a2a" stroke-width="1.5" />
<line x1="2942.0" y1="855.0" x2="2951.0" y2="855.0" stroke="#2a2a2a" stroke-width="1.3" />
<circle cx="2965.4" cy="855.0" r="14.4" fill="#fff" stroke="#2a2a2a" stroke-width="1.5"/>
<line x1="2959.0" y1="855.0" x2="2972.0" y2="855.0" stroke="#2a2a2a" stroke-width="1.5" />
<line x1="2942.0" y1="889.2" x2="2951.0" y2="889.2" stroke="#2a2a2a" stroke-width="1.3" />
<circle cx="2965.4" cy="889.2" r="14.4" fill="#fff" stroke="#2a2a2a" stroke-width="1.5"/>
<line x1="2959.0" y1="889.2" x2="2972.0" y2="889.2" stroke="#2a2a2a" stroke-width="1.5" />
<text x="2965.4" y="825.7" font-size="20" class="s" text-anchor="middle">⋮</text>
<text x="2914.8" y="844.8" font-size="20" class="s" text-anchor="middle">⋮</text>
<text x="2851.0" y="844.8" font-size="20" class="s" text-anchor="middle">⋮</text>
<line x1="2990.0" y1="769.0" x2="2990.0" y2="916.5" stroke="#111" stroke-width="1.4" />
<path d="M2990.0,916.5 L2993.2,909.5 L2986.8,909.5 Z" fill="#111"/>
<text x="0.0" y="0.0" font-size="19" class="s" textLength="132.0" lengthAdjust="spacingAndGlyphs" text-anchor="middle" transform="translate(2998,842.25) rotate(90)">Descending Order</text>
<text x="0.0" y="0.0" font-size="22" class="r i" text-anchor="middle" transform="translate(3034,842.25) rotate(90)">Top-Q′</text>
<line x1="3046.0" y1="802.2" x2="3064.0" y2="802.2" stroke="#111" stroke-width="1.3" />
<path d="M3064.0,802.2 L3057.0,799.1 L3057.0,805.4 Z" fill="#111"/>
<rect x="2087.0" y="941.7" width="993.7" height="66.1" fill="#fff" stroke="#2a2a2a" stroke-width="1.6" rx="14"/>
<circle cx="2148.2" cy="957.7" r="6.5" fill="#fff" stroke="#2a2a2a" stroke-width="1.3"/>
<text x="2161.4" y="963.0" font-size="16.7" class="s" textLength="46.5" lengthAdjust="spacingAndGlyphs">Visible</text>
<path d="M2148,981 L2156,995 L2140,995 Z" fill="#fff" stroke="#2a2a2a" stroke-width="1.3"/>
<text x="2162.6" y="994.0" font-size="16.7" class="s" textLength="56.4" lengthAdjust="spacingAndGlyphs">Infrared</text>
<rect x="2342.4" y="950.7" width="15.6" height="14.3" fill="#c01c24" stroke="#2a2a2a" stroke-width="0.8"/>
<text x="2371.2" y="963.0" font-size="16.7" class="s" textLength="66.6" lengthAdjust="spacingAndGlyphs">Identity 1</text>
<rect x="2342.4" y="980.8" width="15.6" height="14.3" fill="#0c2a6c" stroke="#2a2a2a" stroke-width="0.8"/>
<text x="2371.2" y="994.0" font-size="16.7" class="s" textLength="66.6" lengthAdjust="spacingAndGlyphs">Identity 2</text>
<rect x="2562.0" y="946.0" width="30.0" height="23.5" fill="#fff" stroke="#2a2a2a" stroke-width="1.3" rx="4"/>
<text x="2599.0" y="963.3" font-size="16.7" class="s" textLength="111.0" lengthAdjust="spacingAndGlyphs">Training Sample</text>
<rect x="2562.0" y="977.0" width="30.0" height="23.0" fill="#fff" stroke="#2a2a2a" stroke-width="1.3" rx="4" stroke-dasharray="3 2"/>
<text x="2599.0" y="994.0" font-size="16.7" class="s" textLength="138.0" lengthAdjust="spacingAndGlyphs">Augmented Sample</text>
<circle cx="2873.6" cy="958.0" r="12.0" fill="#fff" stroke="#2a2a2a" stroke-width="1.5"/>
<text x="2873.6" y="964.0" font-size="17" class="r b i" text-anchor="middle">A</text>
<text x="2893.4" y="963.0" font-size="16.7" class="s" textLength="114.0" lengthAdjust="spacingAndGlyphs">Mixing Function</text>
<circle cx="2873.6" cy="988.0" r="12.0" fill="#fff" stroke="#2a2a2a" stroke-width="1.5"/>
<text x="2873.6" y="994.0" font-size="17" class="r b i" text-anchor="middle">H</text>
<text x="2893.4" y="994.0" font-size="16.7" class="s" textLength="121.4" lengthAdjust="spacingAndGlyphs">Entropy Function</text>
<line x1="3191.8" y1="557.9" x2="3835.7" y2="557.9" stroke="#222" stroke-width="1.5" />
<line x1="3467.7" y1="587.3" x2="3835.7" y2="587.3" stroke="#222" stroke-width="1.5" />
<line x1="3467.7" y1="616.2" x2="3835.7" y2="616.2" stroke="#222" stroke-width="1.5" />
<line x1="3191.8" y1="644.6" x2="3835.7" y2="644.6" stroke="#222" stroke-width="1.5" />
<line x1="3191.8" y1="650.0" x2="3835.7" y2="650.0" stroke="#222" stroke-width="1.5" />
<line x1="3191.8" y1="795.7" x2="3835.7" y2="795.7" stroke="#222" stroke-width="1.5" />
<line x1="3467.7" y1="557.9" x2="3467.7" y2="795.7" stroke="#222" stroke-width="1.5" />
<line x1="3652.0" y1="587.3" x2="3652.0" y2="795.7" stroke="#222" stroke-width="1.5" />
<text x="3650.9" y="577.7" font-size="24.4" class="r" text-anchor="middle">SYSU-MM01</text>
<text x="3206.2" y="607.0" font-size="24.4" class="r">Methods</text>
<text x="3559.8" y="607.0" font-size="24.4" class="r" text-anchor="middle">Single-shot</text>
<text x="3744.6" y="607.0" font-size="24.4" class="r" text-anchor="middle">Multi-shot</text>
<text x="3517.5" y="635.5" font-size="24.4" class="r" text-anchor="middle">Rank-1</text>
<text x="3609.9" y="635.5" font-size="24.4" class="r" text-anchor="middle">mAP</text>
<text x="3702.0" y="635.5" font-size="24.4" class="r" text-anchor="middle">Rank-1</text>
<text x="3794.7" y="635.5" font-size="24.4" class="r" text-anchor="middle">mAP</text>
<text x="3206.2" y="670.3" font-size="24.4" class="r">Base</text>
<text x="3518.0" y="670.3" font-size="24.4" class="r" text-anchor="middle">70.58</text>
<text x="3609.6" y="670.3" font-size="24.4" class="r" text-anchor="middle">68.24</text>
<text x="3701.8" y="670.3" font-size="24.4" class="r" text-anchor="middle">75.58</text>
<text x="3793.9" y="670.3" font-size="24.4" class="r" text-anchor="middle">62.91</text>
<text x="3206.2" y="699.3" font-size="24.4" class="r">Base+IntraPM</text>
<text x="3518.0" y="699.3" font-size="24.4" class="r" text-anchor="middle">72.72</text>
<text x="3609.6" y="699.3" font-size="24.4" class="r" text-anchor="middle">69.84</text>
<text x="3701.8" y="699.3" font-size="24.4" class="r" text-anchor="middle">76.82</text>
<text x="3793.9" y="699.3" font-size="24.4" class="r" text-anchor="middle">64.64</text>
<text x="3206.2" y="728.2" font-size="24.4" class="r">Base+InterPM</text>
<text x="3518.0" y="728.2" font-size="24.4" class="r" text-anchor="middle">75.61</text>
<text x="3609.6" y="728.2" font-size="24.4" class="r" text-anchor="middle">71.79</text>
<text x="3701.8" y="728.2" font-size="24.4" class="r" text-anchor="middle">78.64</text>
<text x="3793.9" y="728.2" font-size="24.4" class="r" text-anchor="middle">67.72</text>
<text x="3206.2" y="757.0" font-size="24.4" class="r">Base+IntraPM + InterPM</text>
<text x="3518.0" y="757.0" font-size="24.4" class="r" text-anchor="middle">75.86</text>
<text x="3609.6" y="757.0" font-size="24.4" class="r" text-anchor="middle">72.71</text>
<text x="3701.8" y="757.0" font-size="24.4" class="r" text-anchor="middle">79.05</text>
<text x="3793.9" y="757.0" font-size="24.4" class="r" text-anchor="middle">68.80</text>
<text x="3206.2" y="786.6" font-size="24.4" class="r b">Ours</text>
<text x="3518.0" y="786.6" font-size="24.4" class="r b" text-anchor="middle">77.78</text>
<text x="3609.6" y="786.6" font-size="24.4" class="r b" text-anchor="middle">74.62</text>
<text x="3701.8" y="786.6" font-size="24.4" class="r b" text-anchor="middle">80.54</text>
<text x="3793.9" y="786.6" font-size="24.4" class="r b" text-anchor="middle">69.84</text>
<line x1="3882.8" y1="553.6" x2="4482.3" y2="553.6" stroke="#222" stroke-width="1.5" />
<line x1="4110.5" y1="583.0" x2="4482.3" y2="583.0" stroke="#222" stroke-width="1.5" />
<line x1="4110.5" y1="613.6" x2="4482.3" y2="613.6" stroke="#222" stroke-width="1.5" />
<line x1="3882.8" y1="642.0" x2="4482.3" y2="642.0" stroke="#222" stroke-width="1.5" />
<line x1="3882.8" y1="647.3" x2="4482.3" y2="647.3" stroke="#222" stroke-width="1.5" />
<line x1="3882.8" y1="795.7" x2="4482.3" y2="795.7" stroke="#222" stroke-width="1.5" />
<line x1="4110.5" y1="553.6" x2="4110.5" y2="795.7" stroke="#222" stroke-width="1.5" />
<line x1="4296.4" y1="583.0" x2="4296.4" y2="795.7" stroke="#222" stroke-width="1.5" />
<text x="4294.8" y="574.0" font-size="24.4" class="r" text-anchor="middle">SYSU-MM01</text>
<text x="3897.3" y="604.0" font-size="24.4" class="r">Methods</text>
<text x="4203.2" y="604.0" font-size="24.4" class="r" text-anchor="middle">Single-shot</text>
<text x="4389.6" y="604.0" font-size="24.4" class="r" text-anchor="middle">Multi-shot</text>
<text x="4160.8" y="632.8" font-size="24.4" class="r" text-anchor="middle">Rank-1</text>
<text x="4254.3" y="632.8" font-size="24.4" class="r" text-anchor="middle">mAP</text>
<text x="4347.3" y="632.8" font-size="24.4" class="r" text-anchor="middle">Rank-1</text>
<text x="4440.7" y="632.8" font-size="24.4" class="r" text-anchor="middle">mAP</text>
<text x="3897.3" y="668.7" font-size="24.4" class="r">Base</text>
<text x="4162.0" y="668.7" font-size="24.4" class="r" text-anchor="middle">70.58</text>
<text x="4254.0" y="668.7" font-size="24.4" class="r" text-anchor="middle">68.24</text>
<text x="4347.8" y="668.7" font-size="24.4" class="r" text-anchor="middle">75.58</text>
<text x="4440.2" y="668.7" font-size="24.4" class="r" text-anchor="middle">62.91</text>
<text x="3897.3" y="698" font-size="24.4" class="r">Base+MixUp [<tspan fill="#22d822">69</tspan>]</text>
<text x="4162.0" y="698.0" font-size="24.4" class="r" text-anchor="middle">51.48</text>
<text x="4254.0" y="698.0" font-size="24.4" class="r" text-anchor="middle">46.25</text>
<text x="4347.8" y="698.0" font-size="24.4" class="r" text-anchor="middle">58.30</text>
<text x="4440.2" y="698.0" font-size="24.4" class="r" text-anchor="middle">38.48</text>
<text x="3897.3" y="727.7" font-size="24.4" class="r">Base+Manifold [<tspan fill="#22d822">44</tspan>]</text>
<text x="4162.0" y="727.7" font-size="24.4" class="r" text-anchor="middle">71.25</text>
<text x="4254.0" y="727.7" font-size="24.4" class="r" text-anchor="middle">67.74</text>
<text x="4347.8" y="727.7" font-size="24.4" class="r" text-anchor="middle">76.72</text>
<text x="4440.2" y="727.7" font-size="24.4" class="r" text-anchor="middle">62.39</text>
<text x="3897.3" y="757" font-size="24.4" class="r">Base+CutMix [<tspan fill="#22d822">68</tspan>]</text>
<text x="4162.0" y="757.0" font-size="24.4" class="r" text-anchor="middle">73.35</text>
<text x="4254.0" y="757.0" font-size="24.4" class="r" text-anchor="middle">70.69</text>
<text x="4347.8" y="757.0" font-size="24.4" class="r" text-anchor="middle">77.03</text>
<text x="4440.2" y="757.0" font-size="24.4" class="r" text-anchor="middle">64.76</text>
<text x="3897.3" y="786.6" font-size="24.4" class="r b">Ours</text>
<text x="4162.0" y="786.6" font-size="24.4" class="r b" text-anchor="middle">77.78</text>
<text x="4254.0" y="786.6" font-size="24.4" class="r b" text-anchor="middle">74.62</text>
<text x="4347.8" y="786.6" font-size="24.4" class="r b" text-anchor="middle">80.54</text>
<text x="4440.2" y="786.6" font-size="24.4" class="r b" text-anchor="middle">69.84</text>
<text x="3201.0" y="901.8" font-size="24.4" class="r" textLength="61.5" lengthAdjust="spacingAndGlyphs">Visible</text>
<text x="3194.5" y="1303.6" font-size="24.4" class="r" textLength="72.3" lengthAdjust="spacingAndGlyphs">Infrared</text>
<text x="3554.5" y="1303.6" font-size="24.4" class="r" textLength="108.5" lengthAdjust="spacingAndGlyphs">(a) Baseline</text>
<text x="4127.7" y="1303.6" font-size="24.4" class="r" textLength="171.3" lengthAdjust="spacingAndGlyphs">(b) PartMix (Ours)</text>
<line x1="3308.0" y1="880.0" x2="3308.0" y2="1303.6" stroke="#111" stroke-width="1.8" stroke-dasharray="6 4"/>
<line x1="3911.8" y1="880.0" x2="3911.8" y2="1303.6" stroke="#111" stroke-width="1.8" stroke-dasharray="6 4"/>
<rect x="3188.6" y="909.8" width="85.7" height="179.5" fill="url(#g69)"/>
<g clip-path="url(#c70)">
<g opacity="1.0" filter="url(#b1_2)">
<rect x="3211.7" y="997.8" width="17.1" height="82.6" fill="#2a4a8a" rx="4.285"/>
<rect x="3234.0" y="997.8" width="17.1" height="82.6" fill="#2a4a8a" rx="4.285"/>
<rect x="3213.5" y="1039.0" width="13.7" height="41.3" fill="#6a5040" rx="4.285"/>
<rect x="3235.7" y="1039.0" width="13.7" height="41.3" fill="#6a5040" rx="4.285"/>
<rect x="3210.0" y="1074.9" width="18.9" height="9.0" fill="#6a5a50" rx="2"/>
<rect x="3234.0" y="1074.9" width="18.9" height="9.0" fill="#6a5a50" rx="2"/>
<rect x="3197.2" y="940.3" width="11.1" height="62.8" fill="#7a5a4a" rx="5.142"/>
<rect x="3254.6" y="940.3" width="11.1" height="62.8" fill="#7a5a4a" rx="5.142"/>
<rect x="3206.6" y="936.7" width="49.7" height="66.4" fill="#121214" rx="8.57"/>
<ellipse cx="3231.4" cy="922.4" rx="11.1" ry="12.6" fill="#8a6050"/>
<ellipse cx="3231.4" cy="916.1" rx="12.0" ry="8.1" fill="#1a1a1a"/>
</g>
</g>
<rect x="3188.6" y="1094.6" width="85.7" height="181.1" fill="url(#g71)"/>
<g clip-path="url(#c72)">
<g opacity="1.0" filter="url(#b1_2)">
<rect x="3211.7" y="1179.7" width="17.1" height="86.9" fill="#cacaca" rx="4.285"/>
<rect x="3234.0" y="1179.7" width="17.1" height="86.9" fill="#cacaca" rx="4.285"/>
<rect x="3213.5" y="1217.7" width="13.7" height="48.9" fill="#a8a8a8" rx="4.285"/>
<rect x="3235.7" y="1217.7" width="13.7" height="48.9" fill="#a8a8a8" rx="4.285"/>
<rect x="3210.0" y="1261.2" width="18.9" height="9.1" fill="#5a5a5a" rx="2"/>
<rect x="3234.0" y="1261.2" width="18.9" height="9.1" fill="#5a5a5a" rx="2"/>
<rect x="3197.2" y="1125.4" width="11.1" height="59.8" fill="#bababa" rx="5.142"/>
<rect x="3254.6" y="1125.4" width="11.1" height="59.8" fill="#bababa" rx="5.142"/>
<rect x="3206.6" y="1121.8" width="49.7" height="63.4" fill="#c4c4c4" rx="8.57"/>
<ellipse cx="3231.4" cy="1107.3" rx="11.1" ry="12.7" fill="#b0b0b0"/>
<ellipse cx="3231.4" cy="1100.9" rx="12.0" ry="8.1" fill="#1a1a1a"/>
</g>
</g>
<text x="3383.3" y="901.8" font-size="24.4" class="r" text-anchor="middle">Part1</text>
<text x="3987.2" y="901.8" font-size="24.4" class="r" text-anchor="middle">Part1</text>
<rect x="3340.6" y="909.6" width="85.4" height="180.2" fill="url(#g73)"/>
<g clip-path="url(#c74)">
<g filter="url(#b2)">
<ellipse cx="3383.3" cy="921.3" rx="12.8" ry="10.8" fill="#1c1c8c"/>
<rect x="3377.3" y="927.6" width="12.0" height="10.8" fill="#1c1c8c"/>
<rect x="3357.7" y="934.8" width="51.2" height="57.7" fill="#1c1c8c" rx="8.540000000000001"/>
<rect x="3346.6" y="940.2" width="12.0" height="54.1" fill="#1c1c8c" rx="5.1240000000000006"/>
<rect x="3408.1" y="940.2" width="12.0" height="54.1" fill="#1c1c8c" rx="5.1240000000000006"/>
<rect x="3357.7" y="988.9" width="51.2" height="36.0" fill="#202898" rx="4.2700000000000005"/>
<rect x="3361.9" y="1021.3" width="16.2" height="61.3" fill="#1c1c8c" rx="5.1240000000000006"/>
<rect x="3388.4" y="1021.3" width="16.2" height="61.3" fill="#1c1c8c" rx="5.1240000000000006"/>
</g>
<ellipse cx="3383.3" cy="994.3" rx="34.2" ry="16.4" fill="url(#g75)"/>
<ellipse cx="3367.9" cy="963.7" rx="21.4" ry="11.7" fill="url(#g75)"/>
<ellipse cx="3398.7" cy="963.7" rx="16.0" ry="11.7" fill="url(#g75)"/>
<ellipse cx="3379.0" cy="1077.2" rx="21.4" ry="16.4" fill="url(#g75)"/>
</g>
<rect x="3340.6" y="1095.3" width="85.4" height="180.4" fill="url(#g76)"/>
<g clip-path="url(#c77)">
<g filter="url(#b2)">
<ellipse cx="3383.3" cy="1107.0" rx="12.8" ry="10.8" fill="#6262c8"/>
<rect x="3377.3" y="1113.3" width="12.0" height="10.8" fill="#6262c8"/>
<rect x="3357.7" y="1120.6" width="51.2" height="57.7" fill="#6262c8" rx="8.540000000000001"/>
<rect x="3346.6" y="1126.0" width="12.0" height="54.1" fill="#6262c8" rx="5.1240000000000006"/>
<rect x="3408.1" y="1126.0" width="12.0" height="54.1" fill="#6262c8" rx="5.1240000000000006"/>
<rect x="3357.7" y="1174.7" width="51.2" height="36.1" fill="#6262c8" rx="4.2700000000000005"/>
<rect x="3361.9" y="1207.1" width="16.2" height="61.3" fill="#6262c8" rx="5.1240000000000006"/>
<rect x="3388.4" y="1207.1" width="16.2" height="61.3" fill="#6262c8" rx="5.1240000000000006"/>
</g>
<ellipse cx="3400.4" cy="1122.4" rx="17.1" ry="14.1" fill="url(#g75)"/>
<ellipse cx="3383.3" cy="1176.5" rx="32.0" ry="16.4" fill="url(#g75)"/>
<ellipse cx="3396.1" cy="1239.6" rx="16.0" ry="11.7" fill="url(#g75)"/>
<ellipse cx="3366.2" cy="1243.2" rx="16.0" ry="11.7" fill="url(#g75)"/>
</g>
<rect x="3944.5" y="908.5" width="85.6" height="181.5" fill="url(#g78)"/>
<g clip-path="url(#c79)">
<g filter="url(#b2)">
<ellipse cx="3987.3" cy="920.3" rx="12.8" ry="10.9" fill="#1c1c64"/>
<rect x="3981.3" y="926.6" width="12.0" height="10.9" fill="#1c1c64"/>
<rect x="3961.6" y="933.9" width="51.4" height="58.1" fill="#1c1c64" rx="8.56"/>
<rect x="3950.5" y="939.4" width="12.0" height="54.4" fill="#1c1c64" rx="5.135999999999999"/>
<rect x="4012.1" y="939.4" width="12.0" height="54.4" fill="#1c1c64" rx="5.135999999999999"/>
<rect x="3961.6" y="988.4" width="51.4" height="36.3" fill="#242c78" rx="4.28"/>
<rect x="3965.9" y="1021.0" width="16.3" height="61.7" fill="#1c1c64" rx="5.135999999999999"/>
<rect x="3992.4" y="1021.0" width="16.3" height="61.7" fill="#1c1c64" rx="5.135999999999999"/>
</g>
<ellipse cx="3983.0" cy="975.7" rx="32.1" ry="9.4" fill="url(#g75)"/>
<ellipse cx="3970.2" cy="999.2" rx="17.1" ry="9.4" fill="url(#g75)"/>
<ellipse cx="3997.6" cy="999.2" rx="12.8" ry="9.4" fill="url(#g75)"/>
</g>
<rect x="3944.5" y="1093.8" width="85.6" height="181.6" fill="url(#g80)"/>
<g clip-path="url(#c81)">
<g filter="url(#b2)">
<ellipse cx="3987.3" cy="1105.6" rx="12.8" ry="10.9" fill="#6a6aa6"/>
<rect x="3981.3" y="1112.0" width="12.0" height="10.9" fill="#6a6aa6"/>
<rect x="3961.6" y="1119.2" width="51.4" height="58.1" fill="#6a6aa6" rx="8.56"/>
<rect x="3950.5" y="1124.7" width="12.0" height="54.5" fill="#6a6aa6" rx="5.135999999999999"/>
<rect x="4012.1" y="1124.7" width="12.0" height="54.5" fill="#6a6aa6" rx="5.135999999999999"/>
<rect x="3961.6" y="1173.7" width="51.4" height="36.3" fill="#6a6aa6" rx="4.28"/>
<rect x="3965.9" y="1206.4" width="16.3" height="61.7" fill="#6a6aa6" rx="5.135999999999999"/>
<rect x="3992.4" y="1206.4" width="16.3" height="61.7" fill="#6a6aa6" rx="5.135999999999999"/>
</g>
<ellipse cx="3991.6" cy="1157.4" rx="12.8" ry="11.8" fill="url(#g75)"/>
<ellipse cx="3965.9" cy="1175.5" rx="19.3" ry="11.8" fill="url(#g75)"/>
<ellipse cx="4000.1" cy="1177.3" rx="32.1" ry="7.1" fill="url(#g75)"/>
</g>
<text x="3473.8" y="901.8" font-size="24.4" class="r" text-anchor="middle">Part2</text>
<text x="4077.8" y="901.8" font-size="24.4" class="r" text-anchor="middle">Part2</text>
<rect x="3431.2" y="909.6" width="85.4" height="180.2" fill="url(#g82)"/>
<g clip-path="url(#c83)">
<g filter="url(#b2)">
<ellipse cx="3473.8" cy="921.3" rx="12.8" ry="10.8" fill="#1c1c8c"/>
<rect x="3467.9" y="927.6" width="12.0" height="10.8" fill="#1c1c8c"/>
<rect x="3448.2" y="934.8" width="51.2" height="57.7" fill="#1c1c8c" rx="8.540000000000001"/>
<rect x="3437.1" y="940.2" width="12.0" height="54.1" fill="#1c1c8c" rx="5.1240000000000006"/>
<rect x="3498.6" y="940.2" width="12.0" height="54.1" fill="#1c1c8c" rx="5.1240000000000006"/>
<rect x="3448.2" y="988.9" width="51.2" height="36.0" fill="#202898" rx="4.2700000000000005"/>
<rect x="3452.5" y="1021.3" width="16.2" height="61.3" fill="#1c1c8c" rx="5.1240000000000006"/>
<rect x="3479.0" y="1021.3" width="16.2" height="61.3" fill="#1c1c8c" rx="5.1240000000000006"/>
</g>
<ellipse cx="3473.8" cy="1071.8" rx="37.4" ry="23.4" fill="url(#g75)"/>
<ellipse cx="3459.3" cy="1014.1" rx="17.1" ry="23.4" fill="url(#g75)"/>
<ellipse cx="3486.7" cy="1017.7" rx="14.9" ry="18.7" fill="url(#g75)"/>
<ellipse cx="3473.8" cy="945.6" rx="37.4" ry="9.4" fill="url(#g75)"/>
</g>
<rect x="3431.2" y="1095.3" width="85.4" height="180.4" fill="url(#g84)"/>
<g clip-path="url(#c85)">
<g filter="url(#b2)">
<ellipse cx="3473.8" cy="1107.0" rx="12.8" ry="10.8" fill="#6262c8"/>
<rect x="3467.9" y="1113.3" width="12.0" height="10.8" fill="#6262c8"/>
<rect x="3448.2" y="1120.6" width="51.2" height="57.7" fill="#6262c8" rx="8.540000000000001"/>
<rect x="3437.1" y="1126.0" width="12.0" height="54.1" fill="#6262c8" rx="5.1240000000000006"/>
<rect x="3498.6" y="1126.0" width="12.0" height="54.1" fill="#6262c8" rx="5.1240000000000006"/>
<rect x="3448.2" y="1174.7" width="51.2" height="36.1" fill="#6262c8" rx="4.2700000000000005"/>
<rect x="3452.5" y="1207.1" width="16.2" height="61.3" fill="#6262c8" rx="5.1240000000000006"/>
<rect x="3479.0" y="1207.1" width="16.2" height="61.3" fill="#6262c8" rx="5.1240000000000006"/>
</g>
<ellipse cx="3469.6" cy="1254.1" rx="17.1" ry="16.4" fill="url(#g75)"/>
<ellipse cx="3478.1" cy="1185.5" rx="26.7" ry="11.7" fill="url(#g75)"/>
<ellipse cx="3486.7" cy="1243.2" rx="12.8" ry="9.4" fill="url(#g75)"/>
</g>
<rect x="4035.1" y="908.5" width="85.6" height="181.5" fill="url(#g86)"/>
<g clip-path="url(#c87)">
<g filter="url(#b2)">
<ellipse cx="4077.9" cy="920.3" rx="12.8" ry="10.9" fill="#1c1c64"/>
<rect x="4071.9" y="926.6" width="12.0" height="10.9" fill="#1c1c64"/>
<rect x="4052.2" y="933.9" width="51.4" height="58.1" fill="#1c1c64" rx="8.56"/>
<rect x="4041.0" y="939.4" width="12.0" height="54.4" fill="#1c1c64" rx="5.135999999999999"/>
<rect x="4102.7" y="939.4" width="12.0" height="54.4" fill="#1c1c64" rx="5.135999999999999"/>
<rect x="4052.2" y="988.4" width="51.4" height="36.3" fill="#242c78" rx="4.28"/>
<rect x="4056.5" y="1021.0" width="16.3" height="61.7" fill="#1c1c64" rx="5.135999999999999"/>
<rect x="4083.0" y="1021.0" width="16.3" height="61.7" fill="#1c1c64" rx="5.135999999999999"/>
</g>
<ellipse cx="4069.3" cy="1084.6" rx="37.4" ry="16.5" fill="url(#g75)"/>
</g>
<rect x="4035.1" y="1093.8" width="85.6" height="181.6" fill="url(#g88)"/>
<g clip-path="url(#c89)">
<g filter="url(#b2)">
<ellipse cx="4077.9" cy="1105.6" rx="12.8" ry="10.9" fill="#6a6aa6"/>
<rect x="4071.9" y="1112.0" width="12.0" height="10.9" fill="#6a6aa6"/>
<rect x="4052.2" y="1119.2" width="51.4" height="58.1" fill="#6a6aa6" rx="8.56"/>
<rect x="4041.0" y="1124.7" width="12.0" height="54.5" fill="#6a6aa6" rx="5.135999999999999"/>
<rect x="4102.7" y="1124.7" width="12.0" height="54.5" fill="#6a6aa6" rx="5.135999999999999"/>
<rect x="4052.2" y="1173.7" width="51.4" height="36.3" fill="#6a6aa6" rx="4.28"/>
<rect x="4056.5" y="1206.4" width="16.3" height="61.7" fill="#6a6aa6" rx="5.135999999999999"/>
<rect x="4083.0" y="1206.4" width="16.3" height="61.7" fill="#6a6aa6" rx="5.135999999999999"/>
</g>
<ellipse cx="4069.3" cy="1250.0" rx="10.7" ry="11.8" fill="url(#g75)"/>
<ellipse cx="4090.7" cy="1244.5" rx="12.8" ry="9.4" fill="url(#g75)"/>
</g>
<text x="3564.4" y="901.8" font-size="24.4" class="r" text-anchor="middle">Part3</text>
<text x="4168.3" y="901.8" font-size="24.4" class="r" text-anchor="middle">Part3</text>
<rect x="3521.7" y="909.6" width="85.4" height="180.2" fill="url(#g90)"/>
<g clip-path="url(#c91)">
<g filter="url(#b2)">
<ellipse cx="3564.4" cy="921.3" rx="12.8" ry="10.8" fill="#1c1c8c"/>
<rect x="3558.4" y="927.6" width="12.0" height="10.8" fill="#1c1c8c"/>
<rect x="3538.8" y="934.8" width="51.2" height="57.7" fill="#1c1c8c" rx="8.540000000000001"/>
<rect x="3527.7" y="940.2" width="12.0" height="54.1" fill="#1c1c8c" rx="5.1240000000000006"/>
<rect x="3589.2" y="940.2" width="12.0" height="54.1" fill="#1c1c8c" rx="5.1240000000000006"/>
<rect x="3538.8" y="988.9" width="51.2" height="36.0" fill="#202898" rx="4.2700000000000005"/>
<rect x="3543.0" y="1021.3" width="16.2" height="61.3" fill="#1c1c8c" rx="5.1240000000000006"/>
<rect x="3569.5" y="1021.3" width="16.2" height="61.3" fill="#1c1c8c" rx="5.1240000000000006"/>
</g>
<ellipse cx="3560.1" cy="1028.5" rx="37.4" ry="18.7" fill="url(#g75)"/>
<ellipse cx="3564.4" cy="996.1" rx="42.7" ry="11.7" fill="url(#g75)"/>
</g>
<rect x="3521.7" y="1095.3" width="85.4" height="180.4" fill="url(#g92)"/>
<g clip-path="url(#c93)">
<g filter="url(#b2)">
<ellipse cx="3564.4" cy="1107.0" rx="12.8" ry="10.8" fill="#6262c8"/>
<rect x="3558.4" y="1113.3" width="12.0" height="10.8" fill="#6262c8"/>
<rect x="3538.8" y="1120.6" width="51.2" height="57.7" fill="#6262c8" rx="8.540000000000001"/>
<rect x="3527.7" y="1126.0" width="12.0" height="54.1" fill="#6262c8" rx="5.1240000000000006"/>
<rect x="3589.2" y="1126.0" width="12.0" height="54.1" fill="#6262c8" rx="5.1240000000000006"/>
<rect x="3538.8" y="1174.7" width="51.2" height="36.1" fill="#6262c8" rx="4.2700000000000005"/>
<rect x="3543.0" y="1207.1" width="16.2" height="61.3" fill="#6262c8" rx="5.1240000000000006"/>
<rect x="3569.5" y="1207.1" width="16.2" height="61.3" fill="#6262c8" rx="5.1240000000000006"/>
</g>
<ellipse cx="3564.4" cy="1174.7" rx="26.7" ry="18.8" fill="url(#g75)"/>
</g>
<rect x="4125.6" y="908.5" width="85.6" height="181.5" fill="url(#g94)"/>
<g clip-path="url(#c95)">
<g filter="url(#b2)">
<ellipse cx="4168.4" cy="920.3" rx="12.8" ry="10.9" fill="#1c1c64"/>
<rect x="4162.4" y="926.6" width="12.0" height="10.9" fill="#1c1c64"/>
<rect x="4142.7" y="933.9" width="51.4" height="58.1" fill="#1c1c64" rx="8.56"/>
<rect x="4131.6" y="939.4" width="12.0" height="54.4" fill="#1c1c64" rx="5.135999999999999"/>
<rect x="4193.2" y="939.4" width="12.0" height="54.4" fill="#1c1c64" rx="5.135999999999999"/>
<rect x="4142.7" y="988.4" width="51.4" height="36.3" fill="#242c78" rx="4.28"/>
<rect x="4147.0" y="1021.0" width="16.3" height="61.7" fill="#1c1c64" rx="5.135999999999999"/>
<rect x="4173.5" y="1021.0" width="16.3" height="61.7" fill="#1c1c64" rx="5.135999999999999"/>
</g>
<ellipse cx="4168.4" cy="926.6" rx="23.5" ry="21.2" fill="url(#g75)"/>
</g>
<rect x="4125.6" y="1093.8" width="85.6" height="181.6" fill="url(#g96)"/>
<g clip-path="url(#c97)">
<g filter="url(#b2)">
<ellipse cx="4168.4" cy="1105.6" rx="12.8" ry="10.9" fill="#6a6aa6"/>
<rect x="4162.4" y="1112.0" width="12.0" height="10.9" fill="#6a6aa6"/>
<rect x="4142.7" y="1119.2" width="51.4" height="58.1" fill="#6a6aa6" rx="8.56"/>
<rect x="4131.6" y="1124.7" width="12.0" height="54.5" fill="#6a6aa6" rx="5.135999999999999"/>
<rect x="4193.2" y="1124.7" width="12.0" height="54.5" fill="#6a6aa6" rx="5.135999999999999"/>
<rect x="4142.7" y="1173.7" width="51.4" height="36.3" fill="#6a6aa6" rx="4.28"/>
<rect x="4147.0" y="1206.4" width="16.3" height="61.7" fill="#6a6aa6" rx="5.135999999999999"/>
<rect x="4173.5" y="1206.4" width="16.3" height="61.7" fill="#6a6aa6" rx="5.135999999999999"/>
</g>
<ellipse cx="4168.4" cy="1108.3" rx="16.0" ry="11.8" fill="url(#g75)"/>
</g>
<text x="3654.9" y="901.8" font-size="24.4" class="r" text-anchor="middle">Part4</text>
<text x="4258.8" y="901.8" font-size="24.4" class="r" text-anchor="middle">Part4</text>
<rect x="3612.2" y="909.6" width="85.4" height="180.2" fill="url(#g98)"/>
<g clip-path="url(#c99)">
<g filter="url(#b2)">
<ellipse cx="3654.9" cy="921.3" rx="12.8" ry="10.8" fill="#1c1c8c"/>
<rect x="3649.0" y="927.6" width="12.0" height="10.8" fill="#1c1c8c"/>
<rect x="3629.3" y="934.8" width="51.2" height="57.7" fill="#1c1c8c" rx="8.540000000000001"/>
<rect x="3618.2" y="940.2" width="12.0" height="54.1" fill="#1c1c8c" rx="5.1240000000000006"/>
<rect x="3679.7" y="940.2" width="12.0" height="54.1" fill="#1c1c8c" rx="5.1240000000000006"/>
<rect x="3629.3" y="988.9" width="51.2" height="36.0" fill="#202898" rx="4.2700000000000005"/>
<rect x="3633.6" y="1021.3" width="16.2" height="61.3" fill="#1c1c8c" rx="5.1240000000000006"/>
<rect x="3660.1" y="1021.3" width="16.2" height="61.3" fill="#1c1c8c" rx="5.1240000000000006"/>
</g>
<ellipse cx="3654.9" cy="1030.3" rx="29.9" ry="14.1" fill="url(#g75)"/>
<ellipse cx="3637.9" cy="936.6" rx="16.0" ry="11.7" fill="url(#g75)"/>
</g>
<rect x="3612.2" y="1095.3" width="85.4" height="180.4" fill="url(#g100)"/>
<g clip-path="url(#c101)">
<g filter="url(#b2)">
<ellipse cx="3654.9" cy="1107.0" rx="12.8" ry="10.8" fill="#6262c8"/>
<rect x="3649.0" y="1113.3" width="12.0" height="10.8" fill="#6262c8"/>
<rect x="3629.3" y="1120.6" width="51.2" height="57.7" fill="#6262c8" rx="8.540000000000001"/>
<rect x="3618.2" y="1126.0" width="12.0" height="54.1" fill="#6262c8" rx="5.1240000000000006"/>
<rect x="3679.7" y="1126.0" width="12.0" height="54.1" fill="#6262c8" rx="5.1240000000000006"/>
<rect x="3629.3" y="1174.7" width="51.2" height="36.1" fill="#6262c8" rx="4.2700000000000005"/>
<rect x="3633.6" y="1207.1" width="16.2" height="61.3" fill="#6262c8" rx="5.1240000000000006"/>
<rect x="3660.1" y="1207.1" width="16.2" height="61.3" fill="#6262c8" rx="5.1240000000000006"/>
</g>
<ellipse cx="3650.7" cy="1218.0" rx="29.9" ry="11.7" fill="url(#g75)"/>
</g>
<rect x="4216.1" y="908.5" width="85.6" height="181.5" fill="url(#g102)"/>
<g clip-path="url(#c103)">
<g filter="url(#b2)">
<ellipse cx="4258.9" cy="920.3" rx="12.8" ry="10.9" fill="#1c1c64"/>
<rect x="4253.0" y="926.6" width="12.0" height="10.9" fill="#1c1c64"/>
<rect x="4233.3" y="933.9" width="51.4" height="58.1" fill="#1c1c64" rx="8.56"/>
<rect x="4222.1" y="939.4" width="12.0" height="54.4" fill="#1c1c64" rx="5.135999999999999"/>
<rect x="4283.8" y="939.4" width="12.0" height="54.4" fill="#1c1c64" rx="5.135999999999999"/>
<rect x="4233.3" y="988.4" width="51.4" height="36.3" fill="#242c78" rx="4.28"/>
<rect x="4237.6" y="1021.0" width="16.3" height="61.7" fill="#1c1c64" rx="5.135999999999999"/>
<rect x="4264.1" y="1021.0" width="16.3" height="61.7" fill="#1c1c64" rx="5.135999999999999"/>
</g>
<ellipse cx="4258.9" cy="1031.9" rx="32.1" ry="9.4" fill="url(#g75)"/>
</g>
<rect x="4216.1" y="1093.8" width="85.6" height="181.6" fill="url(#g104)"/>
<g clip-path="url(#c105)">
<g filter="url(#b2)">
<ellipse cx="4258.9" cy="1105.6" rx="12.8" ry="10.9" fill="#6a6aa6"/>
<rect x="4253.0" y="1112.0" width="12.0" height="10.9" fill="#6a6aa6"/>
<rect x="4233.3" y="1119.2" width="51.4" height="58.1" fill="#6a6aa6" rx="8.56"/>
<rect x="4222.1" y="1124.7" width="12.0" height="54.5" fill="#6a6aa6" rx="5.135999999999999"/>
<rect x="4283.8" y="1124.7" width="12.0" height="54.5" fill="#6a6aa6" rx="5.135999999999999"/>
<rect x="4233.3" y="1173.7" width="51.4" height="36.3" fill="#6a6aa6" rx="4.28"/>
<rect x="4237.6" y="1206.4" width="16.3" height="61.7" fill="#6a6aa6" rx="5.135999999999999"/>
<rect x="4264.1" y="1206.4" width="16.3" height="61.7" fill="#6a6aa6" rx="5.135999999999999"/>
</g>
<ellipse cx="4258.9" cy="1217.3" rx="37.4" ry="9.4" fill="url(#g75)"/>
</g>
<text x="3745.5" y="901.8" font-size="24.4" class="r" text-anchor="middle">Part5</text>
<text x="4349.4" y="901.8" font-size="24.4" class="r" text-anchor="middle">Part5</text>
<rect x="3702.8" y="909.6" width="85.4" height="180.2" fill="url(#g106)"/>
<g clip-path="url(#c107)">
<g filter="url(#b2)">
<ellipse cx="3745.5" cy="921.3" rx="12.8" ry="10.8" fill="#1c1c8c"/>
<rect x="3739.5" y="927.6" width="12.0" height="10.8" fill="#1c1c8c"/>
<rect x="3719.9" y="934.8" width="51.2" height="57.7" fill="#1c1c8c" rx="8.540000000000001"/>
<rect x="3708.8" y="940.2" width="12.0" height="54.1" fill="#1c1c8c" rx="5.1240000000000006"/>
<rect x="3770.3" y="940.2" width="12.0" height="54.1" fill="#1c1c8c" rx="5.1240000000000006"/>
<rect x="3719.9" y="988.9" width="51.2" height="36.0" fill="#202898" rx="4.2700000000000005"/>
<rect x="3724.1" y="1021.3" width="16.2" height="61.3" fill="#1c1c8c" rx="5.1240000000000006"/>
<rect x="3750.6" y="1021.3" width="16.2" height="61.3" fill="#1c1c8c" rx="5.1240000000000006"/>
</g>
<ellipse cx="3728.4" cy="1068.2" rx="16.0" ry="16.4" fill="url(#g75)"/>
</g>
<rect x="3702.8" y="1095.3" width="85.4" height="180.4" fill="url(#g108)"/>
<g clip-path="url(#c109)">
<g filter="url(#b2)">
<ellipse cx="3745.5" cy="1107.0" rx="12.8" ry="10.8" fill="#6262c8"/>
<rect x="3739.5" y="1113.3" width="12.0" height="10.8" fill="#6262c8"/>
<rect x="3719.9" y="1120.6" width="51.2" height="57.7" fill="#6262c8" rx="8.540000000000001"/>
<rect x="3708.8" y="1126.0" width="12.0" height="54.1" fill="#6262c8" rx="5.1240000000000006"/>
<rect x="3770.3" y="1126.0" width="12.0" height="54.1" fill="#6262c8" rx="5.1240000000000006"/>
<rect x="3719.9" y="1174.7" width="51.2" height="36.1" fill="#6262c8" rx="4.2700000000000005"/>
<rect x="3724.1" y="1207.1" width="16.2" height="61.3" fill="#6262c8" rx="5.1240000000000006"/>
<rect x="3750.6" y="1207.1" width="16.2" height="61.3" fill="#6262c8" rx="5.1240000000000006"/>
</g>
<ellipse cx="3745.5" cy="1171.1" rx="32.0" ry="14.1" fill="url(#g75)"/>
<ellipse cx="3737.0" cy="1250.4" rx="12.8" ry="14.1" fill="url(#g75)"/>
<ellipse cx="3760.9" cy="1239.6" rx="12.8" ry="11.7" fill="url(#g75)"/>
</g>
<rect x="4306.7" y="908.5" width="85.6" height="181.5" fill="url(#g110)"/>
<g clip-path="url(#c111)">
<g filter="url(#b2)">
<ellipse cx="4349.5" cy="920.3" rx="12.8" ry="10.9" fill="#1c1c64"/>
<rect x="4343.5" y="926.6" width="12.0" height="10.9" fill="#1c1c64"/>
<rect x="4323.8" y="933.9" width="51.4" height="58.1" fill="#1c1c64" rx="8.56"/>
<rect x="4312.7" y="939.4" width="12.0" height="54.4" fill="#1c1c64" rx="5.135999999999999"/>
<rect x="4374.3" y="939.4" width="12.0" height="54.4" fill="#1c1c64" rx="5.135999999999999"/>
<rect x="4323.8" y="988.4" width="51.4" height="36.3" fill="#242c78" rx="4.28"/>
<rect x="4328.1" y="1021.0" width="16.3" height="61.7" fill="#1c1c64" rx="5.135999999999999"/>
<rect x="4354.6" y="1021.0" width="16.3" height="61.7" fill="#1c1c64" rx="5.135999999999999"/>
</g>
<ellipse cx="4317.0" cy="957.5" rx="10.7" ry="16.5" fill="url(#g75)"/>
<ellipse cx="4388.0" cy="963.0" rx="10.7" ry="11.8" fill="url(#g75)"/>
</g>
<rect x="4306.7" y="1093.8" width="85.6" height="181.6" fill="url(#g112)"/>
<g clip-path="url(#c113)">
<g filter="url(#b2)">
<ellipse cx="4349.5" cy="1105.6" rx="12.8" ry="10.9" fill="#6a6aa6"/>
<rect x="4343.5" y="1112.0" width="12.0" height="10.9" fill="#6a6aa6"/>
<rect x="4323.8" y="1119.2" width="51.4" height="58.1" fill="#6a6aa6" rx="8.56"/>
<rect x="4312.7" y="1124.7" width="12.0" height="54.5" fill="#6a6aa6" rx="5.135999999999999"/>
<rect x="4374.3" y="1124.7" width="12.0" height="54.5" fill="#6a6aa6" rx="5.135999999999999"/>
<rect x="4323.8" y="1173.7" width="51.4" height="36.3" fill="#6a6aa6" rx="4.28"/>
<rect x="4328.1" y="1206.4" width="16.3" height="61.7" fill="#6a6aa6" rx="5.135999999999999"/>
<rect x="4354.6" y="1206.4" width="16.3" height="61.7" fill="#6a6aa6" rx="5.135999999999999"/>
</g>
<ellipse cx="4311.0" cy="1142.8" rx="10.7" ry="11.8" fill="url(#g75)"/>
<ellipse cx="4383.7" cy="1142.8" rx="10.7" ry="11.8" fill="url(#g75)"/>
</g>
<text x="3836.0" y="901.8" font-size="24.4" class="r" text-anchor="middle">Part6</text>
<text x="4439.9" y="901.8" font-size="24.4" class="r" text-anchor="middle">Part6</text>
<rect x="3793.3" y="909.6" width="85.4" height="180.2" fill="url(#g114)"/>
<g clip-path="url(#c115)">
<g filter="url(#b2)">
<ellipse cx="3836.0" cy="921.3" rx="12.8" ry="10.8" fill="#1c1c8c"/>
<rect x="3830.1" y="927.6" width="12.0" height="10.8" fill="#1c1c8c"/>
<rect x="3810.4" y="934.8" width="51.2" height="57.7" fill="#1c1c8c" rx="8.540000000000001"/>
<rect x="3799.3" y="940.2" width="12.0" height="54.1" fill="#1c1c8c" rx="5.1240000000000006"/>
<rect x="3860.8" y="940.2" width="12.0" height="54.1" fill="#1c1c8c" rx="5.1240000000000006"/>
<rect x="3810.4" y="988.9" width="51.2" height="36.0" fill="#202898" rx="4.2700000000000005"/>
<rect x="3814.7" y="1021.3" width="16.2" height="61.3" fill="#1c1c8c" rx="5.1240000000000006"/>
<rect x="3841.2" y="1021.3" width="16.2" height="61.3" fill="#1c1c8c" rx="5.1240000000000006"/>
</g>
<ellipse cx="3836.0" cy="958.3" rx="53.4" ry="18.7" fill="url(#g75)"/>
<ellipse cx="3806.2" cy="958.3" rx="19.2" ry="14.1" fill="url(#g75)"/>
<ellipse cx="3865.9" cy="958.3" rx="19.2" ry="14.1" fill="url(#g75)"/>
</g>
<rect x="3793.3" y="1095.3" width="85.4" height="180.4" fill="url(#g116)"/>
<g clip-path="url(#c117)">
<g filter="url(#b2)">
<ellipse cx="3836.0" cy="1107.0" rx="12.8" ry="10.8" fill="#6262c8"/>
<rect x="3830.1" y="1113.3" width="12.0" height="10.8" fill="#6262c8"/>
<rect x="3810.4" y="1120.6" width="51.2" height="57.7" fill="#6262c8" rx="8.540000000000001"/>
<rect x="3799.3" y="1126.0" width="12.0" height="54.1" fill="#6262c8" rx="5.1240000000000006"/>
<rect x="3860.8" y="1126.0" width="12.0" height="54.1" fill="#6262c8" rx="5.1240000000000006"/>
<rect x="3810.4" y="1174.7" width="51.2" height="36.1" fill="#6262c8" rx="4.2700000000000005"/>
<rect x="3814.7" y="1207.1" width="16.2" height="61.3" fill="#6262c8" rx="5.1240000000000006"/>
<rect x="3841.2" y="1207.1" width="16.2" height="61.3" fill="#6262c8" rx="5.1240000000000006"/>
</g>
<ellipse cx="3836.0" cy="1140.4" rx="48.0" ry="18.8" fill="url(#g75)"/>
<ellipse cx="3806.2" cy="1145.8" rx="16.0" ry="14.1" fill="url(#g75)"/>
<ellipse cx="3865.9" cy="1145.8" rx="16.0" ry="14.1" fill="url(#g75)"/>
</g>
<rect x="4397.2" y="908.5" width="85.6" height="181.5" fill="url(#g118)"/>
<g clip-path="url(#c119)">
<g filter="url(#b2)">
<ellipse cx="4440.1" cy="920.3" rx="12.8" ry="10.9" fill="#1c1c64"/>
<rect x="4434.1" y="926.6" width="12.0" height="10.9" fill="#1c1c64"/>
<rect x="4414.4" y="933.9" width="51.4" height="58.1" fill="#1c1c64" rx="8.56"/>
<rect x="4403.2" y="939.4" width="12.0" height="54.4" fill="#1c1c64" rx="5.135999999999999"/>
<rect x="4464.9" y="939.4" width="12.0" height="54.4" fill="#1c1c64" rx="5.135999999999999"/>
<rect x="4414.4" y="988.4" width="51.4" height="36.3" fill="#242c78" rx="4.28"/>
<rect x="4418.7" y="1021.0" width="16.3" height="61.7" fill="#1c1c64" rx="5.135999999999999"/>
<rect x="4445.2" y="1021.0" width="16.3" height="61.7" fill="#1c1c64" rx="5.135999999999999"/>
</g>
<ellipse cx="4422.9" cy="953.9" rx="16.0" ry="14.2" fill="url(#g75)"/>
<ellipse cx="4461.4" cy="953.9" rx="16.0" ry="14.2" fill="url(#g75)"/>
</g>
<rect x="4397.2" y="1093.8" width="85.6" height="181.6" fill="url(#g120)"/>
<g clip-path="url(#c121)">
<g filter="url(#b2)">
<ellipse cx="4440.1" cy="1105.6" rx="12.8" ry="10.9" fill="#6a6aa6"/>
<rect x="4434.1" y="1112.0" width="12.0" height="10.9" fill="#6a6aa6"/>
<rect x="4414.4" y="1119.2" width="51.4" height="58.1" fill="#6a6aa6" rx="8.56"/>
<rect x="4403.2" y="1124.7" width="12.0" height="54.5" fill="#6a6aa6" rx="5.135999999999999"/>
<rect x="4464.9" y="1124.7" width="12.0" height="54.5" fill="#6a6aa6" rx="5.135999999999999"/>
<rect x="4414.4" y="1173.7" width="51.4" height="36.3" fill="#6a6aa6" rx="4.28"/>
<rect x="4418.7" y="1206.4" width="16.3" height="61.7" fill="#6a6aa6" rx="5.135999999999999"/>
<rect x="4445.2" y="1206.4" width="16.3" height="61.7" fill="#6a6aa6" rx="5.135999999999999"/>
</g>
<ellipse cx="4418.6" cy="1144.6" rx="16.0" ry="11.8" fill="url(#g75)"/>
<ellipse cx="4458.9" cy="1142.8" rx="13.9" ry="11.8" fill="url(#g75)"/>
</g>
<rect x="3207.9" y="1397.3" width="286.1" height="263.6" fill="#fff" stroke="#222" stroke-width="1.2"/>
<text x="3202.9" y="1417.4" font-size="11" class="s" text-anchor="end">60</text>
<line x1="3204.9" y1="1413.4" x2="3207.9" y2="1413.4" stroke="#222" stroke-width="1" />
<text x="3202.9" y="1454.4" font-size="11" class="s" text-anchor="end">40</text>
<line x1="3204.9" y1="1450.4" x2="3207.9" y2="1450.4" stroke="#222" stroke-width="1" />
<text x="3202.9" y="1490.8" font-size="11" class="s" text-anchor="end">20</text>
<line x1="3204.9" y1="1486.8" x2="3207.9" y2="1486.8" stroke="#222" stroke-width="1" />
<text x="3202.9" y="1527.2" font-size="11" class="s" text-anchor="end">0</text>
<line x1="3204.9" y1="1523.2" x2="3207.9" y2="1523.2" stroke="#222" stroke-width="1" />
<text x="3202.9" y="1564.2" font-size="11" class="s" text-anchor="end">−20</text>
<line x1="3204.9" y1="1560.2" x2="3207.9" y2="1560.2" stroke="#222" stroke-width="1" />
<text x="3202.9" y="1601.0" font-size="11" class="s" text-anchor="end">−40</text>
<line x1="3204.9" y1="1597.0" x2="3207.9" y2="1597.0" stroke="#222" stroke-width="1" />
<text x="3202.9" y="1638.0" font-size="11" class="s" text-anchor="end">−60</text>
<line x1="3204.9" y1="1634.0" x2="3207.9" y2="1634.0" stroke="#222" stroke-width="1" />
<text x="3238.4" y="1675.0" font-size="11" class="s" text-anchor="middle">−60</text>
<line x1="3238.4" y1="1660.9" x2="3238.4" y2="1663.9" stroke="#222" stroke-width="1" />
<text x="3276.4" y="1675.0" font-size="11" class="s" text-anchor="middle">−40</text>
<line x1="3276.4" y1="1660.9" x2="3276.4" y2="1663.9" stroke="#222" stroke-width="1" />
<text x="3314.5" y="1675.0" font-size="11" class="s" text-anchor="middle">−20</text>
<line x1="3314.5" y1="1660.9" x2="3314.5" y2="1663.9" stroke="#222" stroke-width="1" />
<text x="3352.5" y="1675.0" font-size="11" class="s" text-anchor="middle">0</text>
<line x1="3352.5" y1="1660.9" x2="3352.5" y2="1663.9" stroke="#222" stroke-width="1" />
<text x="3390.0" y="1675.0" font-size="11" class="s" text-anchor="middle">20</text>
<line x1="3390.0" y1="1660.9" x2="3390.0" y2="1663.9" stroke="#222" stroke-width="1" />
<text x="3427.5" y="1675.0" font-size="11" class="s" text-anchor="middle">40</text>
<line x1="3427.5" y1="1660.9" x2="3427.5" y2="1663.9" stroke="#222" stroke-width="1" />
<text x="3466.0" y="1675.0" font-size="11" class="s" text-anchor="middle">60</text>
<line x1="3466.0" y1="1660.9" x2="3466.0" y2="1663.9" stroke="#222" stroke-width="1" />
<circle cx="3240.2" cy="1521.8" r="3.9" fill="#b04fd8"/>
<circle cx="3232.7" cy="1521.5" r="3.4" fill="#b04fd8"/>
<circle cx="3227.0" cy="1499.7" r="2.9" fill="#b04fd8"/>
<circle cx="3243.6" cy="1513.5" r="3.4" fill="#b04fd8"/>
<circle cx="3233.0" cy="1510.6" r="3.4" fill="#b04fd8"/>
<circle cx="3232.1" cy="1504.5" r="4.1" fill="#b04fd8"/>
<circle cx="3234.2" cy="1509.9" r="2.8" fill="#b04fd8"/>
<circle cx="3221.8" cy="1507.0" r="3.3" fill="#b04fd8"/>
<circle cx="3234.5" cy="1520.3" r="2.8" fill="#b04fd8"/>
<circle cx="3234.3" cy="1520.6" r="3.5" fill="#b04fd8"/>
<circle cx="3233.5" cy="1517.6" r="3.1" fill="#b04fd8"/>
<circle cx="3227.5" cy="1512.9" r="2.8" fill="#b04fd8"/>
<circle cx="3237.4" cy="1501.4" r="3.7" fill="#b04fd8"/>
<circle cx="3237.7" cy="1525.7" r="4.0" fill="#b04fd8"/>
<circle cx="3237.5" cy="1516.7" r="3.8" fill="#b04fd8"/>
<circle cx="3230.2" cy="1496.1" r="3.4" fill="#b04fd8"/>
<circle cx="3237.5" cy="1500.0" r="3.2" fill="#b04fd8"/>
<circle cx="3223.5" cy="1503.2" r="4.0" fill="#b04fd8"/>
<circle cx="3224.3" cy="1510.6" r="2.8" fill="#b04fd8"/>
<circle cx="3233.5" cy="1525.0" r="3.4" fill="#b04fd8"/>
<circle cx="3236.9" cy="1520.9" r="3.8" fill="#b04fd8"/>
<circle cx="3230.0" cy="1503.1" r="3.4" fill="#b04fd8"/>
<circle cx="3222.7" cy="1510.3" r="3.5" fill="#b04fd8"/>
<circle cx="3226.9" cy="1517.5" r="2.8" fill="#b04fd8"/>
<circle cx="3242.4" cy="1514.5" r="4.2" fill="#b04fd8"/>
<circle cx="3227.3" cy="1505.9" r="3.0" fill="#b04fd8"/>
<circle cx="3221.1" cy="1510.8" r="3.9" fill="#b04fd8"/>
<circle cx="3222.4" cy="1507.4" r="3.1" fill="#b04fd8"/>
<circle cx="3221.4" cy="1509.7" r="3.6" fill="#b04fd8"/>
<circle cx="3227.7" cy="1512.8" r="3.6" fill="#b04fd8"/>
<circle cx="3233.5" cy="1510.8" r="3.9" fill="#b04fd8"/>
<circle cx="3237.8" cy="1497.6" r="3.8" fill="#b04fd8"/>
<circle cx="3235.9" cy="1500.9" r="3.6" fill="#b04fd8"/>
<circle cx="3231.1" cy="1512.3" r="4.0" fill="#b04fd8"/>
<circle cx="3228.9" cy="1508.4" r="3.5" fill="#b04fd8"/>
<circle cx="3226.6" cy="1511.8" r="3.3" fill="#b04fd8"/>
<circle cx="3224.2" cy="1508.1" r="3.7" fill="#b04fd8"/>
<circle cx="3231.6" cy="1511.5" r="3.1" fill="#b04fd8"/>
<circle cx="3236.8" cy="1521.4" r="4.0" fill="#b04fd8"/>
<circle cx="3236.1" cy="1497.7" r="3.9" fill="#b04fd8"/>
<circle cx="3232.6" cy="1525.4" r="3.7" fill="#b04fd8"/>
<circle cx="3233.9" cy="1511.7" r="2.8" fill="#b04fd8"/>
<circle cx="3233.2" cy="1504.0" r="3.0" fill="#b04fd8"/>
<circle cx="3228.5" cy="1505.0" r="2.9" fill="#b04fd8"/>
<circle cx="3237.4" cy="1520.2" r="3.0" fill="#b04fd8"/>
<circle cx="3231.6" cy="1523.9" r="3.4" fill="#b04fd8"/>
<circle cx="3229.6" cy="1520.2" r="2.8" fill="#b04fd8"/>
<circle cx="3227.6" cy="1517.2" r="3.1" fill="#b04fd8"/>
<circle cx="3241.7" cy="1520.5" r="3.5" fill="#b04fd8"/>
<circle cx="3235.3" cy="1522.5" r="3.9" fill="#b04fd8"/>
<circle cx="3234.1" cy="1511.2" r="3.0" fill="#b04fd8"/>
<circle cx="3232.2" cy="1505.8" r="3.8" fill="#b04fd8"/>
<circle cx="3229.4" cy="1501.0" r="3.1" fill="#b04fd8"/>
<circle cx="3243.4" cy="1508.9" r="3.5" fill="#b04fd8"/>
<circle cx="3479.3" cy="1518.8" r="2.9" fill="#b04fd8"/>
<circle cx="3477.7" cy="1530.3" r="3.8" fill="#b04fd8"/>
<circle cx="3467.6" cy="1516.1" r="3.6" fill="#b04fd8"/>
<circle cx="3464.3" cy="1515.8" r="3.0" fill="#b04fd8"/>
<circle cx="3464.8" cy="1526.9" r="3.8" fill="#b04fd8"/>
<circle cx="3479.7" cy="1522.5" r="3.6" fill="#b04fd8"/>
<circle cx="3465.7" cy="1525.5" r="2.9" fill="#b04fd8"/>
<circle cx="3476.2" cy="1524.7" r="3.2" fill="#b04fd8"/>
<circle cx="3463.2" cy="1533.2" r="3.5" fill="#b04fd8"/>
<circle cx="3466.1" cy="1520.5" r="2.8" fill="#b04fd8"/>
<circle cx="3468.6" cy="1527.3" r="3.5" fill="#b04fd8"/>
<circle cx="3477.9" cy="1522.9" r="3.1" fill="#b04fd8"/>
<circle cx="3476.8" cy="1514.3" r="3.8" fill="#b04fd8"/>
<circle cx="3477.1" cy="1515.5" r="3.9" fill="#b04fd8"/>
<circle cx="3464.0" cy="1535.6" r="4.1" fill="#b04fd8"/>
<circle cx="3474.5" cy="1534.5" r="3.8" fill="#b04fd8"/>
<circle cx="3463.4" cy="1525.6" r="3.5" fill="#b04fd8"/>
<circle cx="3475.9" cy="1518.2" r="4.0" fill="#b04fd8"/>
<circle cx="3464.4" cy="1534.8" r="4.1" fill="#b04fd8"/>
<circle cx="3463.1" cy="1525.8" r="4.1" fill="#b04fd8"/>
<circle cx="3468.9" cy="1512.8" r="3.1" fill="#b04fd8"/>
<circle cx="3466.4" cy="1534.5" r="3.0" fill="#b04fd8"/>
<circle cx="3473.8" cy="1519.0" r="4.1" fill="#b04fd8"/>
<circle cx="3466.4" cy="1537.5" r="3.8" fill="#b04fd8"/>
<circle cx="3463.3" cy="1522.7" r="3.7" fill="#b04fd8"/>
<circle cx="3465.8" cy="1518.8" r="3.1" fill="#b04fd8"/>
<circle cx="3460.4" cy="1521.9" r="3.7" fill="#b04fd8"/>
<circle cx="3477.9" cy="1529.5" r="3.8" fill="#b04fd8"/>
<circle cx="3473.1" cy="1519.7" r="3.8" fill="#b04fd8"/>
<circle cx="3477.2" cy="1527.5" r="3.2" fill="#b04fd8"/>
<circle cx="3471.4" cy="1537.6" r="2.9" fill="#b04fd8"/>
<circle cx="3461.0" cy="1521.0" r="3.1" fill="#b04fd8"/>
<circle cx="3472.3" cy="1537.4" r="3.4" fill="#b04fd8"/>
<circle cx="3469.7" cy="1521.0" r="3.3" fill="#b04fd8"/>
<circle cx="3473.7" cy="1534.1" r="2.9" fill="#b04fd8"/>
<circle cx="3471.1" cy="1522.5" r="3.8" fill="#b04fd8"/>
<circle cx="3474.4" cy="1523.9" r="3.9" fill="#b04fd8"/>
<circle cx="3472.0" cy="1527.8" r="3.8" fill="#b04fd8"/>
<circle cx="3468.9" cy="1524.6" r="4.2" fill="#b04fd8"/>
<circle cx="3470.8" cy="1524.8" r="3.3" fill="#b04fd8"/>
<circle cx="3463.7" cy="1514.1" r="3.0" fill="#b04fd8"/>
<circle cx="3469.4" cy="1524.7" r="3.4" fill="#b04fd8"/>
<circle cx="3470.8" cy="1509.7" r="4.1" fill="#b04fd8"/>
<circle cx="3470.3" cy="1508.4" r="3.8" fill="#b04fd8"/>
<circle cx="3466.0" cy="1524.1" r="3.7" fill="#b04fd8"/>
<circle cx="3469.0" cy="1526.7" r="3.4" fill="#b04fd8"/>
<circle cx="3472.1" cy="1519.7" r="3.6" fill="#b04fd8"/>
<circle cx="3324.8" cy="1428.7" r="3.3" fill="#fcd41c"/>
<circle cx="3314.4" cy="1418.4" r="2.9" fill="#fcd41c"/>
<circle cx="3338.3" cy="1423.2" r="3.2" fill="#fcd41c"/>
<circle cx="3325.6" cy="1431.4" r="3.5" fill="#fcd41c"/>
<circle cx="3329.3" cy="1417.6" r="3.7" fill="#fcd41c"/>
<circle cx="3331.1" cy="1428.1" r="4.0" fill="#fcd41c"/>
<circle cx="3310.8" cy="1421.4" r="3.7" fill="#fcd41c"/>
<circle cx="3336.5" cy="1425.5" r="3.6" fill="#fcd41c"/>
<circle cx="3323.4" cy="1423.6" r="4.0" fill="#fcd41c"/>
<circle cx="3311.1" cy="1423.8" r="4.0" fill="#fcd41c"/>
<circle cx="3320.6" cy="1414.1" r="3.4" fill="#fcd41c"/>
<circle cx="3327.1" cy="1417.2" r="4.1" fill="#fcd41c"/>
<circle cx="3326.9" cy="1421.0" r="3.0" fill="#fcd41c"/>
<circle cx="3327.2" cy="1431.1" r="3.4" fill="#fcd41c"/>
<circle cx="3318.6" cy="1419.4" r="3.5" fill="#fcd41c"/>
<circle cx="3317.6" cy="1425.7" r="3.6" fill="#fcd41c"/>
<circle cx="3311.0" cy="1418.2" r="3.8" fill="#fcd41c"/>
<circle cx="3337.1" cy="1419.0" r="4.2" fill="#fcd41c"/>
<circle cx="3321.4" cy="1419.8" r="4.0" fill="#fcd41c"/>
<circle cx="3338.7" cy="1420.6" r="3.6" fill="#fcd41c"/>
<circle cx="3322.6" cy="1419.1" r="4.0" fill="#fcd41c"/>
<circle cx="3317.3" cy="1420.6" r="2.9" fill="#fcd41c"/>
<circle cx="3333.7" cy="1415.4" r="2.9" fill="#fcd41c"/>
<circle cx="3326.9" cy="1417.5" r="3.0" fill="#fcd41c"/>
<circle cx="3320.3" cy="1429.9" r="4.0" fill="#fcd41c"/>
<circle cx="3335.5" cy="1424.3" r="2.9" fill="#fcd41c"/>
<circle cx="3322.4" cy="1418.0" r="4.0" fill="#fcd41c"/>
<circle cx="3334.5" cy="1421.8" r="4.2" fill="#fcd41c"/>
<circle cx="3322.7" cy="1424.3" r="3.6" fill="#fcd41c"/>
<circle cx="3329.9" cy="1423.2" r="3.4" fill="#fcd41c"/>
<circle cx="3320.0" cy="1420.6" r="2.9" fill="#fcd41c"/>
<circle cx="3329.4" cy="1419.2" r="4.1" fill="#fcd41c"/>
<circle cx="3331.1" cy="1419.5" r="3.4" fill="#fcd41c"/>
<circle cx="3311.8" cy="1421.6" r="3.6" fill="#fcd41c"/>
<circle cx="3312.8" cy="1420.0" r="4.1" fill="#fcd41c"/>
<circle cx="3314.4" cy="1422.3" r="3.8" fill="#fcd41c"/>
<circle cx="3324.6" cy="1426.9" r="4.2" fill="#fcd41c"/>
<circle cx="3312.9" cy="1421.7" r="2.8" fill="#fcd41c"/>
<circle cx="3314.1" cy="1425.8" r="2.8" fill="#fcd41c"/>
<circle cx="3314.9" cy="1418.0" r="2.9" fill="#fcd41c"/>
<circle cx="3316.9" cy="1418.4" r="3.8" fill="#fcd41c"/>
<circle cx="3316.2" cy="1428.3" r="3.8" fill="#fcd41c"/>
<circle cx="3326.9" cy="1422.7" r="3.7" fill="#fcd41c"/>
<circle cx="3330.8" cy="1421.6" r="3.4" fill="#fcd41c"/>
<circle cx="3349.2" cy="1415.8" r="3.4" fill="#fcd41c"/>
<circle cx="3349.9" cy="1415.1" r="3.4" fill="#fcd41c"/>
<circle cx="3355.1" cy="1411.0" r="3.9" fill="#fcd41c"/>
<circle cx="3350.0" cy="1418.7" r="3.2" fill="#fcd41c"/>
<circle cx="3350.0" cy="1415.6" r="3.1" fill="#fcd41c"/>
<circle cx="3355.4" cy="1411.2" r="3.9" fill="#fcd41c"/>
<circle cx="3349.9" cy="1411.5" r="3.2" fill="#fcd41c"/>
<circle cx="3344.4" cy="1409.8" r="4.0" fill="#fcd41c"/>
<circle cx="3350.3" cy="1412.9" r="3.6" fill="#fcd41c"/>
<circle cx="3346.5" cy="1409.9" r="3.0" fill="#fcd41c"/>
<circle cx="3347.1" cy="1414.3" r="4.1" fill="#fcd41c"/>
<circle cx="3352.7" cy="1410.4" r="3.2" fill="#fcd41c"/>
<circle cx="3353.8" cy="1411.3" r="4.0" fill="#fcd41c"/>
<circle cx="3352.1" cy="1410.2" r="3.4" fill="#fcd41c"/>
<circle cx="3345.1" cy="1411.5" r="3.0" fill="#fcd41c"/>
<circle cx="3346.6" cy="1419.8" r="2.9" fill="#fcd41c"/>
<circle cx="3354.8" cy="1415.5" r="3.2" fill="#fcd41c"/>
<circle cx="3344.0" cy="1413.0" r="3.3" fill="#fcd41c"/>
<circle cx="3352.0" cy="1414.0" r="3.4" fill="#fcd41c"/>
<circle cx="3350.8" cy="1419.1" r="3.2" fill="#fcd41c"/>
<circle cx="3344.9" cy="1418.6" r="3.2" fill="#fcd41c"/>
<circle cx="3342.0" cy="1411.6" r="2.9" fill="#fcd41c"/>
<circle cx="3352.1" cy="1415.1" r="3.9" fill="#fcd41c"/>
<circle cx="3346.5" cy="1412.0" r="3.3" fill="#fcd41c"/>
<circle cx="3409.0" cy="1578.7" r="3.9" fill="#fcd41c"/>
<circle cx="3422.8" cy="1583.3" r="4.1" fill="#fcd41c"/>
<circle cx="3421.2" cy="1589.8" r="4.1" fill="#fcd41c"/>
<circle cx="3409.4" cy="1575.9" r="3.0" fill="#fcd41c"/>
<circle cx="3410.8" cy="1589.3" r="3.6" fill="#fcd41c"/>
<circle cx="3414.3" cy="1587.5" r="3.1" fill="#fcd41c"/>
<circle cx="3413.3" cy="1602.9" r="3.9" fill="#fcd41c"/>
<circle cx="3419.7" cy="1599.8" r="3.0" fill="#fcd41c"/>
<circle cx="3412.9" cy="1584.9" r="2.8" fill="#fcd41c"/>
<circle cx="3417.7" cy="1583.5" r="3.1" fill="#fcd41c"/>
<circle cx="3424.2" cy="1586.4" r="3.2" fill="#fcd41c"/>
<circle cx="3421.7" cy="1585.4" r="3.7" fill="#fcd41c"/>
<circle cx="3417.7" cy="1602.8" r="3.8" fill="#fcd41c"/>
<circle cx="3424.1" cy="1584.9" r="3.2" fill="#fcd41c"/>
<circle cx="3412.8" cy="1592.2" r="3.0" fill="#fcd41c"/>
<circle cx="3419.5" cy="1591.1" r="3.6" fill="#fcd41c"/>
<circle cx="3422.9" cy="1588.3" r="3.3" fill="#fcd41c"/>
<circle cx="3411.7" cy="1601.2" r="3.5" fill="#fcd41c"/>
<circle cx="3412.4" cy="1597.4" r="3.8" fill="#fcd41c"/>
<circle cx="3424.2" cy="1593.5" r="2.8" fill="#fcd41c"/>
<circle cx="3415.0" cy="1573.5" r="2.8" fill="#fcd41c"/>
<circle cx="3416.3" cy="1579.5" r="3.6" fill="#fcd41c"/>
<circle cx="3416.6" cy="1588.1" r="3.1" fill="#fcd41c"/>
<circle cx="3418.6" cy="1586.3" r="3.9" fill="#fcd41c"/>
<circle cx="3423.7" cy="1581.4" r="3.3" fill="#fcd41c"/>
<circle cx="3410.8" cy="1596.6" r="3.9" fill="#fcd41c"/>
<circle cx="3421.5" cy="1596.4" r="3.9" fill="#fcd41c"/>
<circle cx="3415.9" cy="1586.3" r="4.1" fill="#fcd41c"/>
<circle cx="3419.4" cy="1592.5" r="3.7" fill="#fcd41c"/>
<circle cx="3419.6" cy="1583.9" r="4.1" fill="#fcd41c"/>
<circle cx="3410.2" cy="1585.8" r="3.2" fill="#fcd41c"/>
<circle cx="3416.0" cy="1591.1" r="3.0" fill="#fcd41c"/>
<circle cx="3411.3" cy="1573.2" r="3.0" fill="#fcd41c"/>
<circle cx="3424.5" cy="1592.8" r="3.5" fill="#fcd41c"/>
<circle cx="3411.5" cy="1591.8" r="3.6" fill="#fcd41c"/>
<circle cx="3417.9" cy="1579.1" r="3.4" fill="#fcd41c"/>
<circle cx="3423.9" cy="1593.2" r="2.8" fill="#fcd41c"/>
<circle cx="3406.0" cy="1588.6" r="3.0" fill="#fcd41c"/>
<circle cx="3413.9" cy="1572.6" r="3.7" fill="#fcd41c"/>
<circle cx="3415.6" cy="1583.9" r="3.4" fill="#fcd41c"/>
<circle cx="3420.3" cy="1599.7" r="3.2" fill="#fcd41c"/>
<circle cx="3405.4" cy="1592.6" r="4.0" fill="#fcd41c"/>
<circle cx="3421.2" cy="1586.5" r="3.5" fill="#fcd41c"/>
<circle cx="3414.2" cy="1577.8" r="3.2" fill="#fcd41c"/>
<circle cx="3412.4" cy="1590.9" r="3.3" fill="#fcd41c"/>
<circle cx="3424.7" cy="1586.9" r="3.7" fill="#fcd41c"/>
<circle cx="3409.8" cy="1588.0" r="2.9" fill="#fcd41c"/>
<circle cx="3377.2" cy="1418.5" r="3.5" fill="#6496f0"/>
<circle cx="3375.0" cy="1423.7" r="3.7" fill="#6496f0"/>
<circle cx="3367.5" cy="1424.5" r="3.3" fill="#6496f0"/>
<circle cx="3375.5" cy="1420.9" r="3.9" fill="#6496f0"/>
<circle cx="3374.3" cy="1420.1" r="3.6" fill="#6496f0"/>
<circle cx="3373.6" cy="1421.6" r="3.6" fill="#6496f0"/>
<circle cx="3376.4" cy="1421.1" r="3.9" fill="#6496f0"/>
<circle cx="3371.8" cy="1418.6" r="3.3" fill="#6496f0"/>
<circle cx="3381.6" cy="1426.5" r="3.9" fill="#6496f0"/>
<circle cx="3373.0" cy="1424.1" r="3.1" fill="#6496f0"/>
<circle cx="3372.2" cy="1421.5" r="4.1" fill="#6496f0"/>
<circle cx="3372.1" cy="1422.4" r="3.7" fill="#6496f0"/>
<circle cx="3369.5" cy="1428.0" r="4.1" fill="#6496f0"/>
<circle cx="3368.1" cy="1423.2" r="3.8" fill="#6496f0"/>
<circle cx="3378.0" cy="1418.0" r="2.8" fill="#6496f0"/>
<circle cx="3370.7" cy="1427.0" r="3.2" fill="#6496f0"/>
<circle cx="3373.2" cy="1422.8" r="4.0" fill="#6496f0"/>
<circle cx="3372.5" cy="1423.3" r="3.7" fill="#6496f0"/>
<circle cx="3373.7" cy="1425.7" r="3.5" fill="#6496f0"/>
<circle cx="3377.3" cy="1425.4" r="4.0" fill="#6496f0"/>
<circle cx="3374.8" cy="1423.2" r="3.9" fill="#6496f0"/>
<circle cx="3379.6" cy="1423.9" r="4.1" fill="#6496f0"/>
<circle cx="3371.8" cy="1421.6" r="3.3" fill="#6496f0"/>
<circle cx="3373.0" cy="1424.7" r="4.2" fill="#6496f0"/>
<circle cx="3394.5" cy="1446.3" r="3.7" fill="#6496f0"/>
<circle cx="3404.4" cy="1446.4" r="3.3" fill="#6496f0"/>
<circle cx="3404.5" cy="1445.9" r="2.9" fill="#6496f0"/>
<circle cx="3394.0" cy="1444.7" r="2.9" fill="#6496f0"/>
<circle cx="3386.1" cy="1447.3" r="3.0" fill="#6496f0"/>
<circle cx="3398.0" cy="1450.0" r="4.1" fill="#6496f0"/>
<circle cx="3389.8" cy="1441.9" r="4.2" fill="#6496f0"/>
<circle cx="3407.8" cy="1446.1" r="3.2" fill="#6496f0"/>
<circle cx="3398.6" cy="1445.7" r="3.2" fill="#6496f0"/>
<circle cx="3398.3" cy="1441.4" r="3.6" fill="#6496f0"/>
<circle cx="3391.8" cy="1440.6" r="3.6" fill="#6496f0"/>
<circle cx="3398.6" cy="1444.6" r="3.1" fill="#6496f0"/>
<circle cx="3393.1" cy="1439.6" r="3.2" fill="#6496f0"/>
<circle cx="3389.5" cy="1441.5" r="3.2" fill="#6496f0"/>
<circle cx="3399.3" cy="1437.8" r="3.1" fill="#6496f0"/>
<circle cx="3388.5" cy="1441.6" r="4.0" fill="#6496f0"/>
<circle cx="3395.6" cy="1440.2" r="4.2" fill="#6496f0"/>
<circle cx="3402.1" cy="1447.2" r="3.9" fill="#6496f0"/>
<circle cx="3401.3" cy="1448.3" r="2.9" fill="#6496f0"/>
<circle cx="3391.0" cy="1438.1" r="3.6" fill="#6496f0"/>
<circle cx="3401.0" cy="1441.2" r="3.8" fill="#6496f0"/>
<circle cx="3388.6" cy="1440.8" r="3.4" fill="#6496f0"/>
<circle cx="3403.1" cy="1437.5" r="3.5" fill="#6496f0"/>
<circle cx="3395.2" cy="1442.7" r="3.8" fill="#6496f0"/>
<circle cx="3388.6" cy="1437.6" r="4.0" fill="#6496f0"/>
<circle cx="3394.8" cy="1448.4" r="3.7" fill="#6496f0"/>
<circle cx="3404.5" cy="1444.7" r="3.0" fill="#6496f0"/>
<circle cx="3398.2" cy="1445.0" r="3.9" fill="#6496f0"/>
<circle cx="3400.3" cy="1446.5" r="3.3" fill="#6496f0"/>
<circle cx="3398.4" cy="1442.7" r="3.4" fill="#6496f0"/>
<circle cx="3384.9" cy="1441.7" r="3.9" fill="#6496f0"/>
<circle cx="3400.4" cy="1441.2" r="3.4" fill="#6496f0"/>
<circle cx="3388.8" cy="1449.8" r="4.1" fill="#6496f0"/>
<circle cx="3399.1" cy="1446.3" r="3.1" fill="#6496f0"/>
<circle cx="3397.3" cy="1449.2" r="3.6" fill="#6496f0"/>
<circle cx="3312.1" cy="1638.7" r="3.0" fill="#6496f0"/>
<circle cx="3310.1" cy="1628.0" r="3.1" fill="#6496f0"/>
<circle cx="3314.6" cy="1630.0" r="3.7" fill="#6496f0"/>
<circle cx="3304.7" cy="1631.4" r="3.5" fill="#6496f0"/>
<circle cx="3313.9" cy="1637.5" r="2.9" fill="#6496f0"/>
<circle cx="3310.8" cy="1630.9" r="3.2" fill="#6496f0"/>
<circle cx="3302.8" cy="1634.6" r="3.3" fill="#6496f0"/>
<circle cx="3314.1" cy="1632.6" r="4.2" fill="#6496f0"/>
<circle cx="3317.6" cy="1632.6" r="3.3" fill="#6496f0"/>
<circle cx="3307.9" cy="1626.0" r="3.8" fill="#6496f0"/>
<circle cx="3303.0" cy="1630.1" r="4.1" fill="#6496f0"/>
<circle cx="3308.0" cy="1628.6" r="2.9" fill="#6496f0"/>
<circle cx="3316.8" cy="1628.1" r="3.1" fill="#6496f0"/>
<circle cx="3317.5" cy="1627.8" r="3.8" fill="#6496f0"/>
<circle cx="3314.2" cy="1627.1" r="3.3" fill="#6496f0"/>
<circle cx="3312.9" cy="1628.1" r="3.9" fill="#6496f0"/>
<circle cx="3317.2" cy="1634.1" r="3.8" fill="#6496f0"/>
<circle cx="3319.3" cy="1627.5" r="3.5" fill="#6496f0"/>
<circle cx="3311.7" cy="1632.7" r="3.5" fill="#6496f0"/>
<circle cx="3308.7" cy="1629.9" r="4.1" fill="#6496f0"/>
<circle cx="3302.6" cy="1629.7" r="3.1" fill="#6496f0"/>
<circle cx="3310.7" cy="1630.6" r="3.3" fill="#6496f0"/>
<circle cx="3310.1" cy="1635.3" r="3.3" fill="#6496f0"/>
<circle cx="3315.4" cy="1622.8" r="3.0" fill="#6496f0"/>
<circle cx="3308.0" cy="1631.9" r="3.7" fill="#6496f0"/>
<circle cx="3314.5" cy="1629.5" r="3.9" fill="#6496f0"/>
<circle cx="3310.5" cy="1630.6" r="3.9" fill="#6496f0"/>
<circle cx="3308.8" cy="1632.6" r="3.4" fill="#6496f0"/>
<circle cx="3311.4" cy="1635.2" r="3.4" fill="#6496f0"/>
<circle cx="3304.4" cy="1633.2" r="3.2" fill="#6496f0"/>
<circle cx="3312.6" cy="1631.2" r="2.9" fill="#6496f0"/>
<circle cx="3305.3" cy="1629.4" r="3.9" fill="#6496f0"/>
<circle cx="3334.8" cy="1642.8" r="3.0" fill="#6496f0"/>
<circle cx="3338.8" cy="1641.8" r="3.5" fill="#6496f0"/>
<circle cx="3339.8" cy="1641.2" r="3.6" fill="#6496f0"/>
<circle cx="3337.8" cy="1641.4" r="3.3" fill="#6496f0"/>
<circle cx="3337.3" cy="1638.4" r="3.8" fill="#6496f0"/>
<circle cx="3340.2" cy="1644.1" r="3.0" fill="#6496f0"/>
<circle cx="3331.9" cy="1641.8" r="3.6" fill="#6496f0"/>
<circle cx="3339.2" cy="1638.7" r="3.8" fill="#6496f0"/>
<circle cx="3341.3" cy="1643.7" r="3.7" fill="#6496f0"/>
<circle cx="3338.0" cy="1638.5" r="2.9" fill="#6496f0"/>
<circle cx="3338.3" cy="1644.3" r="3.2" fill="#6496f0"/>
<circle cx="3339.6" cy="1639.9" r="4.0" fill="#6496f0"/>
<circle cx="3339.5" cy="1641.3" r="3.3" fill="#6496f0"/>
<circle cx="3337.9" cy="1642.0" r="3.4" fill="#6496f0"/>
<circle cx="3340.2" cy="1641.1" r="3.6" fill="#6496f0"/>
<circle cx="3342.2" cy="1645.0" r="4.1" fill="#6496f0"/>
<circle cx="3338.7" cy="1642.3" r="2.9" fill="#6496f0"/>
<circle cx="3338.0" cy="1641.9" r="2.9" fill="#6496f0"/>
<circle cx="3331.9" cy="1642.1" r="3.4" fill="#6496f0"/>
<circle cx="3334.3" cy="1644.7" r="2.9" fill="#6496f0"/>
<circle cx="3336.5" cy="1641.0" r="3.7" fill="#6496f0"/>
<circle cx="3350.3" cy="1470.5" r="3.6" fill="#ff4a10"/>
<circle cx="3362.9" cy="1482.7" r="4.0" fill="#ff4a10"/>
<circle cx="3356.0" cy="1470.4" r="3.5" fill="#ff4a10"/>
<circle cx="3355.7" cy="1477.6" r="4.1" fill="#ff4a10"/>
<circle cx="3361.5" cy="1473.4" r="4.0" fill="#ff4a10"/>
<circle cx="3351.8" cy="1469.7" r="3.2" fill="#ff4a10"/>
<circle cx="3354.5" cy="1467.3" r="3.8" fill="#ff4a10"/>
<circle cx="3356.5" cy="1470.6" r="3.9" fill="#ff4a10"/>
<circle cx="3374.6" cy="1472.2" r="3.7" fill="#ff4a10"/>
<circle cx="3359.6" cy="1473.5" r="3.0" fill="#ff4a10"/>
<circle cx="3366.3" cy="1471.5" r="3.3" fill="#ff4a10"/>
<circle cx="3365.4" cy="1470.1" r="3.6" fill="#ff4a10"/>
<circle cx="3356.1" cy="1474.2" r="3.6" fill="#ff4a10"/>
<circle cx="3361.9" cy="1470.4" r="3.1" fill="#ff4a10"/>
<circle cx="3357.1" cy="1474.2" r="3.5" fill="#ff4a10"/>
<circle cx="3364.2" cy="1465.6" r="3.5" fill="#ff4a10"/>
<circle cx="3362.1" cy="1470.6" r="3.6" fill="#ff4a10"/>
<circle cx="3350.7" cy="1479.2" r="3.0" fill="#ff4a10"/>
<circle cx="3359.6" cy="1470.7" r="3.0" fill="#ff4a10"/>
<circle cx="3364.5" cy="1463.4" r="3.4" fill="#ff4a10"/>
<circle cx="3353.1" cy="1475.8" r="3.2" fill="#ff4a10"/>
<circle cx="3354.8" cy="1470.8" r="3.0" fill="#ff4a10"/>
<circle cx="3353.8" cy="1474.4" r="3.7" fill="#ff4a10"/>
<circle cx="3364.9" cy="1464.9" r="3.5" fill="#ff4a10"/>
<circle cx="3353.4" cy="1478.9" r="2.8" fill="#ff4a10"/>
<circle cx="3357.1" cy="1467.9" r="3.2" fill="#ff4a10"/>
<circle cx="3367.7" cy="1476.7" r="3.6" fill="#ff4a10"/>
<circle cx="3347.6" cy="1479.8" r="3.7" fill="#ff4a10"/>
<circle cx="3359.6" cy="1480.9" r="4.1" fill="#ff4a10"/>
<circle cx="3347.3" cy="1472.4" r="2.9" fill="#ff4a10"/>
<circle cx="3349.0" cy="1473.9" r="3.4" fill="#ff4a10"/>
<circle cx="3348.8" cy="1477.2" r="3.6" fill="#ff4a10"/>
<circle cx="3353.6" cy="1473.6" r="3.4" fill="#ff4a10"/>
<circle cx="3368.3" cy="1472.1" r="2.8" fill="#ff4a10"/>
<circle cx="3370.0" cy="1473.5" r="2.9" fill="#ff4a10"/>
<circle cx="3362.5" cy="1475.0" r="3.4" fill="#ff4a10"/>
<circle cx="3369.4" cy="1473.1" r="3.4" fill="#ff4a10"/>
<circle cx="3349.3" cy="1476.2" r="3.4" fill="#ff4a10"/>
<circle cx="3356.8" cy="1463.2" r="3.8" fill="#ff4a10"/>
<circle cx="3348.1" cy="1477.3" r="4.1" fill="#ff4a10"/>
<circle cx="3362.8" cy="1477.2" r="3.7" fill="#ff4a10"/>
<circle cx="3354.3" cy="1465.6" r="3.6" fill="#ff4a10"/>
<circle cx="3363.9" cy="1467.2" r="3.9" fill="#ff4a10"/>
<circle cx="3368.4" cy="1471.8" r="4.0" fill="#ff4a10"/>
<circle cx="3356.0" cy="1463.4" r="2.9" fill="#ff4a10"/>
<circle cx="3370.7" cy="1468.5" r="4.1" fill="#ff4a10"/>
<circle cx="3366.5" cy="1472.8" r="3.7" fill="#ff4a10"/>
<circle cx="3366.4" cy="1479.6" r="4.1" fill="#ff4a10"/>
<circle cx="3362.0" cy="1478.9" r="2.9" fill="#ff4a10"/>
<circle cx="3361.1" cy="1477.4" r="2.9" fill="#ff4a10"/>
<circle cx="3373.9" cy="1473.4" r="3.4" fill="#ff4a10"/>
<circle cx="3343.1" cy="1588.5" r="4.1" fill="#ff4a10"/>
<circle cx="3343.4" cy="1587.7" r="3.6" fill="#ff4a10"/>
<circle cx="3356.2" cy="1593.4" r="3.7" fill="#ff4a10"/>
<circle cx="3353.4" cy="1583.2" r="3.2" fill="#ff4a10"/>
<circle cx="3362.9" cy="1591.7" r="3.8" fill="#ff4a10"/>
<circle cx="3365.9" cy="1589.1" r="4.2" fill="#ff4a10"/>
<circle cx="3346.6" cy="1578.6" r="3.0" fill="#ff4a10"/>
<circle cx="3362.0" cy="1586.8" r="2.9" fill="#ff4a10"/>
<circle cx="3354.7" cy="1590.8" r="2.8" fill="#ff4a10"/>
<circle cx="3344.2" cy="1587.6" r="4.0" fill="#ff4a10"/>
<circle cx="3341.9" cy="1584.9" r="3.5" fill="#ff4a10"/>
<circle cx="3347.9" cy="1579.6" r="3.2" fill="#ff4a10"/>
<circle cx="3366.5" cy="1585.8" r="4.0" fill="#ff4a10"/>
<circle cx="3350.7" cy="1580.2" r="3.1" fill="#ff4a10"/>
<circle cx="3351.8" cy="1588.4" r="3.9" fill="#ff4a10"/>
<circle cx="3342.2" cy="1592.4" r="3.3" fill="#ff4a10"/>
<circle cx="3364.7" cy="1583.2" r="2.8" fill="#ff4a10"/>
<circle cx="3355.8" cy="1597.0" r="3.5" fill="#ff4a10"/>
<circle cx="3360.5" cy="1585.1" r="2.9" fill="#ff4a10"/>
<circle cx="3344.2" cy="1578.5" r="3.2" fill="#ff4a10"/>
<circle cx="3358.7" cy="1589.2" r="4.1" fill="#ff4a10"/>
<circle cx="3352.7" cy="1582.7" r="3.1" fill="#ff4a10"/>
<circle cx="3354.6" cy="1587.3" r="3.9" fill="#ff4a10"/>
<circle cx="3356.8" cy="1593.6" r="3.4" fill="#ff4a10"/>
<circle cx="3356.7" cy="1595.3" r="3.0" fill="#ff4a10"/>
<circle cx="3350.1" cy="1583.4" r="3.4" fill="#ff4a10"/>
<circle cx="3354.0" cy="1591.3" r="4.2" fill="#ff4a10"/>
<circle cx="3354.8" cy="1580.5" r="4.0" fill="#ff4a10"/>
<circle cx="3354.5" cy="1592.7" r="4.0" fill="#ff4a10"/>
<circle cx="3350.3" cy="1583.7" r="4.2" fill="#ff4a10"/>
<circle cx="3353.9" cy="1591.2" r="3.9" fill="#ff4a10"/>
<circle cx="3349.3" cy="1591.1" r="2.9" fill="#ff4a10"/>
<circle cx="3361.0" cy="1590.7" r="3.1" fill="#ff4a10"/>
<circle cx="3346.3" cy="1582.1" r="3.4" fill="#ff4a10"/>
<circle cx="3361.3" cy="1584.0" r="3.6" fill="#ff4a10"/>
<circle cx="3355.9" cy="1582.8" r="3.0" fill="#ff4a10"/>
<circle cx="3362.9" cy="1580.2" r="3.1" fill="#ff4a10"/>
<circle cx="3356.8" cy="1595.3" r="4.1" fill="#ff4a10"/>
<circle cx="3357.0" cy="1597.0" r="4.0" fill="#ff4a10"/>
<circle cx="3345.9" cy="1581.7" r="2.9" fill="#ff4a10"/>
<circle cx="3365.8" cy="1588.8" r="3.1" fill="#ff4a10"/>
<circle cx="3350.8" cy="1580.9" r="4.0" fill="#ff4a10"/>
<circle cx="3347.0" cy="1582.7" r="3.0" fill="#ff4a10"/>
<circle cx="3352.0" cy="1583.6" r="3.1" fill="#ff4a10"/>
<circle cx="3340.7" cy="1582.0" r="3.7" fill="#ff4a10"/>
<circle cx="3350.0" cy="1597.2" r="3.1" fill="#ff4a10"/>
<circle cx="3358.8" cy="1586.6" r="3.4" fill="#ff4a10"/>
<circle cx="3357.1" cy="1587.6" r="3.3" fill="#ff4a10"/>
<circle cx="3348.8" cy="1584.4" r="3.3" fill="#ff4a10"/>
<circle cx="3290.6" cy="1491.5" r="3.7" fill="#f29a1a"/>
<circle cx="3299.5" cy="1490.3" r="3.3" fill="#f29a1a"/>
<circle cx="3297.5" cy="1503.4" r="3.8" fill="#f29a1a"/>
<circle cx="3292.8" cy="1482.8" r="3.7" fill="#f29a1a"/>
<circle cx="3303.1" cy="1497.2" r="3.0" fill="#f29a1a"/>
<circle cx="3300.7" cy="1487.9" r="3.9" fill="#f29a1a"/>
<circle cx="3306.8" cy="1495.3" r="3.3" fill="#f29a1a"/>
<circle cx="3290.8" cy="1497.6" r="2.8" fill="#f29a1a"/>
<circle cx="3308.7" cy="1495.2" r="3.5" fill="#f29a1a"/>
<circle cx="3308.2" cy="1498.1" r="4.1" fill="#f29a1a"/>
<circle cx="3304.0" cy="1495.7" r="3.0" fill="#f29a1a"/>
<circle cx="3295.8" cy="1500.6" r="3.0" fill="#f29a1a"/>
<circle cx="3298.4" cy="1487.0" r="3.0" fill="#f29a1a"/>
<circle cx="3301.5" cy="1481.0" r="3.4" fill="#f29a1a"/>
<circle cx="3293.2" cy="1483.7" r="3.3" fill="#f29a1a"/>
<circle cx="3307.9" cy="1492.0" r="4.2" fill="#f29a1a"/>
<circle cx="3307.5" cy="1487.6" r="3.3" fill="#f29a1a"/>
<circle cx="3293.3" cy="1499.2" r="3.7" fill="#f29a1a"/>
<circle cx="3302.5" cy="1493.9" r="3.3" fill="#f29a1a"/>
<circle cx="3289.3" cy="1488.5" r="3.5" fill="#f29a1a"/>
<circle cx="3308.6" cy="1492.0" r="3.4" fill="#f29a1a"/>
<circle cx="3294.6" cy="1488.7" r="3.4" fill="#f29a1a"/>
<circle cx="3291.8" cy="1498.3" r="2.9" fill="#f29a1a"/>
<circle cx="3295.3" cy="1487.7" r="3.8" fill="#f29a1a"/>
<circle cx="3304.0" cy="1491.2" r="3.3" fill="#f29a1a"/>
<circle cx="3297.8" cy="1487.4" r="3.4" fill="#f29a1a"/>
<circle cx="3300.3" cy="1496.7" r="3.5" fill="#f29a1a"/>
<circle cx="3305.9" cy="1486.9" r="4.1" fill="#f29a1a"/>
<circle cx="3304.2" cy="1502.8" r="3.3" fill="#f29a1a"/>
<circle cx="3302.4" cy="1502.0" r="4.1" fill="#f29a1a"/>
<circle cx="3304.0" cy="1489.8" r="3.9" fill="#f29a1a"/>
<circle cx="3296.4" cy="1495.2" r="2.8" fill="#f29a1a"/>
<circle cx="3307.0" cy="1492.5" r="4.2" fill="#f29a1a"/>
<circle cx="3306.3" cy="1489.4" r="2.8" fill="#f29a1a"/>
<circle cx="3294.8" cy="1502.0" r="4.0" fill="#f29a1a"/>
<circle cx="3296.1" cy="1484.4" r="3.5" fill="#f29a1a"/>
<circle cx="3290.8" cy="1491.2" r="3.2" fill="#f29a1a"/>
<circle cx="3308.7" cy="1484.6" r="3.0" fill="#f29a1a"/>
<circle cx="3296.4" cy="1503.8" r="3.2" fill="#f29a1a"/>
<circle cx="3305.9" cy="1485.8" r="3.8" fill="#f29a1a"/>
<circle cx="3297.8" cy="1483.4" r="3.2" fill="#f29a1a"/>
<circle cx="3298.7" cy="1502.2" r="3.8" fill="#f29a1a"/>
<circle cx="3305.9" cy="1500.5" r="3.4" fill="#f29a1a"/>
<circle cx="3299.4" cy="1499.2" r="4.2" fill="#f29a1a"/>
<circle cx="3291.3" cy="1485.1" r="4.1" fill="#f29a1a"/>
<circle cx="3308.1" cy="1486.3" r="3.4" fill="#f29a1a"/>
<circle cx="3290.2" cy="1481.6" r="3.9" fill="#f29a1a"/>
<circle cx="3293.9" cy="1485.4" r="3.3" fill="#f29a1a"/>
<circle cx="3298.3" cy="1478.2" r="2.8" fill="#f29a1a"/>
<circle cx="3296.4" cy="1474.9" r="3.9" fill="#f29a1a"/>
<circle cx="3307.3" cy="1480.4" r="3.5" fill="#f29a1a"/>
<circle cx="3351.8" cy="1539.5" r="3.8" fill="#f29a1a"/>
<circle cx="3355.9" cy="1527.4" r="3.1" fill="#f29a1a"/>
<circle cx="3356.4" cy="1534.3" r="3.8" fill="#f29a1a"/>
<circle cx="3360.0" cy="1536.2" r="3.1" fill="#f29a1a"/>
<circle cx="3349.8" cy="1537.1" r="4.0" fill="#f29a1a"/>
<circle cx="3351.5" cy="1530.2" r="3.2" fill="#f29a1a"/>
<circle cx="3361.4" cy="1538.8" r="3.9" fill="#f29a1a"/>
<circle cx="3357.4" cy="1521.5" r="3.8" fill="#f29a1a"/>
<circle cx="3365.7" cy="1527.7" r="3.2" fill="#f29a1a"/>
<circle cx="3358.6" cy="1524.9" r="3.9" fill="#f29a1a"/>
<circle cx="3343.6" cy="1528.1" r="3.3" fill="#f29a1a"/>
<circle cx="3345.3" cy="1533.0" r="3.0" fill="#f29a1a"/>
<circle cx="3358.4" cy="1522.0" r="4.2" fill="#f29a1a"/>
<circle cx="3348.4" cy="1523.5" r="3.8" fill="#f29a1a"/>
<circle cx="3360.9" cy="1537.2" r="3.4" fill="#f29a1a"/>
<circle cx="3355.2" cy="1534.5" r="3.5" fill="#f29a1a"/>
<circle cx="3352.3" cy="1537.6" r="3.6" fill="#f29a1a"/>
<circle cx="3348.8" cy="1532.7" r="3.5" fill="#f29a1a"/>
<circle cx="3353.1" cy="1535.3" r="3.1" fill="#f29a1a"/>
<circle cx="3350.3" cy="1532.4" r="3.7" fill="#f29a1a"/>
<circle cx="3361.2" cy="1528.9" r="3.8" fill="#f29a1a"/>
<circle cx="3354.7" cy="1530.0" r="3.0" fill="#f29a1a"/>
<circle cx="3357.5" cy="1521.4" r="3.7" fill="#f29a1a"/>
<circle cx="3357.6" cy="1536.2" r="4.0" fill="#f29a1a"/>
<circle cx="3363.1" cy="1524.4" r="3.1" fill="#f29a1a"/>
<circle cx="3357.9" cy="1525.8" r="3.8" fill="#f29a1a"/>
<circle cx="3362.7" cy="1538.9" r="3.6" fill="#f29a1a"/>
<circle cx="3351.4" cy="1526.4" r="3.7" fill="#f29a1a"/>
<circle cx="3342.3" cy="1526.8" r="3.3" fill="#f29a1a"/>
<circle cx="3351.3" cy="1525.0" r="3.2" fill="#f29a1a"/>
<circle cx="3359.0" cy="1538.2" r="3.0" fill="#f29a1a"/>
<circle cx="3353.0" cy="1532.9" r="3.7" fill="#f29a1a"/>
<circle cx="3342.1" cy="1528.1" r="2.9" fill="#f29a1a"/>
<circle cx="3344.7" cy="1532.8" r="2.9" fill="#f29a1a"/>
<circle cx="3368.5" cy="1530.9" r="3.0" fill="#f29a1a"/>
<circle cx="3350.2" cy="1535.4" r="3.6" fill="#f29a1a"/>
<circle cx="3361.5" cy="1534.0" r="3.3" fill="#f29a1a"/>
<circle cx="3352.9" cy="1530.3" r="3.3" fill="#f29a1a"/>
<circle cx="3336.8" cy="1530.9" r="3.5" fill="#f29a1a"/>
<circle cx="3340.1" cy="1532.1" r="3.2" fill="#f29a1a"/>
<circle cx="3362.9" cy="1532.1" r="4.1" fill="#f29a1a"/>
<circle cx="3352.0" cy="1525.8" r="3.8" fill="#f29a1a"/>
<circle cx="3356.6" cy="1526.7" r="3.6" fill="#f29a1a"/>
<circle cx="3348.3" cy="1534.4" r="3.2" fill="#f29a1a"/>
<circle cx="3354.9" cy="1536.3" r="2.9" fill="#f29a1a"/>
<circle cx="3349.5" cy="1532.2" r="3.9" fill="#f29a1a"/>
<circle cx="3352.0" cy="1530.5" r="3.9" fill="#f29a1a"/>
<circle cx="3356.3" cy="1537.3" r="3.6" fill="#f29a1a"/>
<circle cx="3348.7" cy="1535.2" r="3.4" fill="#f29a1a"/>
<circle cx="3362.1" cy="1538.3" r="3.0" fill="#f29a1a"/>
<circle cx="3355.4" cy="1526.7" r="3.2" fill="#f29a1a"/>
<circle cx="3298.0" cy="1564.5" r="3.7" fill="#2ec02e"/>
<circle cx="3295.5" cy="1553.7" r="3.2" fill="#2ec02e"/>
<circle cx="3289.5" cy="1544.0" r="3.2" fill="#2ec02e"/>
<circle cx="3287.6" cy="1548.0" r="3.9" fill="#2ec02e"/>
<circle cx="3294.0" cy="1560.8" r="4.1" fill="#2ec02e"/>
<circle cx="3287.0" cy="1562.0" r="3.9" fill="#2ec02e"/>
<circle cx="3287.8" cy="1552.6" r="3.6" fill="#2ec02e"/>
<circle cx="3288.3" cy="1551.7" r="3.7" fill="#2ec02e"/>
<circle cx="3294.9" cy="1562.2" r="2.9" fill="#2ec02e"/>
<circle cx="3293.7" cy="1571.5" r="3.4" fill="#2ec02e"/>
<circle cx="3297.7" cy="1555.8" r="3.7" fill="#2ec02e"/>
<circle cx="3297.1" cy="1547.2" r="3.0" fill="#2ec02e"/>
<circle cx="3282.7" cy="1549.9" r="3.1" fill="#2ec02e"/>
<circle cx="3299.6" cy="1564.7" r="3.5" fill="#2ec02e"/>
<circle cx="3293.0" cy="1565.7" r="3.1" fill="#2ec02e"/>
<circle cx="3292.8" cy="1546.3" r="2.9" fill="#2ec02e"/>
<circle cx="3291.6" cy="1553.0" r="3.2" fill="#2ec02e"/>
<circle cx="3300.3" cy="1558.7" r="3.0" fill="#2ec02e"/>
<circle cx="3287.6" cy="1555.8" r="3.5" fill="#2ec02e"/>
<circle cx="3287.1" cy="1546.3" r="3.4" fill="#2ec02e"/>
<circle cx="3283.1" cy="1557.3" r="3.6" fill="#2ec02e"/>
<circle cx="3296.7" cy="1562.1" r="3.1" fill="#2ec02e"/>
<circle cx="3298.1" cy="1544.9" r="2.9" fill="#2ec02e"/>
<circle cx="3296.4" cy="1566.6" r="3.6" fill="#2ec02e"/>
<circle cx="3300.1" cy="1558.0" r="4.1" fill="#2ec02e"/>
<circle cx="3284.8" cy="1560.3" r="3.6" fill="#2ec02e"/>
<circle cx="3295.4" cy="1553.7" r="3.2" fill="#2ec02e"/>
<circle cx="3293.8" cy="1567.6" r="3.5" fill="#2ec02e"/>
<circle cx="3290.1" cy="1565.5" r="2.8" fill="#2ec02e"/>
<circle cx="3285.9" cy="1571.0" r="3.6" fill="#2ec02e"/>
<circle cx="3288.1" cy="1571.5" r="3.3" fill="#2ec02e"/>
<circle cx="3290.4" cy="1558.5" r="3.0" fill="#2ec02e"/>
<circle cx="3292.0" cy="1562.7" r="4.0" fill="#2ec02e"/>
<circle cx="3289.9" cy="1563.3" r="3.6" fill="#2ec02e"/>
<circle cx="3295.4" cy="1552.6" r="3.9" fill="#2ec02e"/>
<circle cx="3284.6" cy="1564.7" r="3.6" fill="#2ec02e"/>
<circle cx="3299.9" cy="1551.6" r="3.5" fill="#2ec02e"/>
<circle cx="3294.0" cy="1549.0" r="3.3" fill="#2ec02e"/>
<circle cx="3298.5" cy="1553.6" r="3.9" fill="#2ec02e"/>
<circle cx="3285.9" cy="1570.3" r="3.7" fill="#2ec02e"/>
<circle cx="3290.6" cy="1571.8" r="3.5" fill="#2ec02e"/>
<circle cx="3287.5" cy="1562.5" r="2.9" fill="#2ec02e"/>
<circle cx="3293.3" cy="1568.6" r="3.0" fill="#2ec02e"/>
<circle cx="3290.0" cy="1566.3" r="3.6" fill="#2ec02e"/>
<circle cx="3282.8" cy="1565.8" r="3.2" fill="#2ec02e"/>
<circle cx="3285.5" cy="1563.4" r="3.0" fill="#2ec02e"/>
<circle cx="3291.1" cy="1561.4" r="3.8" fill="#2ec02e"/>
<circle cx="3296.1" cy="1566.4" r="3.1" fill="#2ec02e"/>
<circle cx="3284.8" cy="1546.5" r="3.3" fill="#2ec02e"/>
<circle cx="3298.9" cy="1551.3" r="3.6" fill="#2ec02e"/>
<circle cx="3297.1" cy="1559.1" r="3.2" fill="#2ec02e"/>
<circle cx="3279.1" cy="1559.3" r="4.0" fill="#2ec02e"/>
<circle cx="3299.2" cy="1561.2" r="4.1" fill="#2ec02e"/>
<circle cx="3287.5" cy="1555.4" r="4.0" fill="#2ec02e"/>
<circle cx="3410.7" cy="1515.8" r="3.8" fill="#2ec02e"/>
<circle cx="3416.8" cy="1526.8" r="2.8" fill="#2ec02e"/>
<circle cx="3417.3" cy="1508.9" r="4.0" fill="#2ec02e"/>
<circle cx="3415.3" cy="1516.0" r="3.3" fill="#2ec02e"/>
<circle cx="3408.2" cy="1510.1" r="3.2" fill="#2ec02e"/>
<circle cx="3411.4" cy="1527.8" r="4.0" fill="#2ec02e"/>
<circle cx="3411.4" cy="1510.9" r="4.1" fill="#2ec02e"/>
<circle cx="3404.4" cy="1515.6" r="3.4" fill="#2ec02e"/>
<circle cx="3407.3" cy="1517.4" r="3.6" fill="#2ec02e"/>
<circle cx="3403.9" cy="1523.1" r="4.1" fill="#2ec02e"/>
<circle cx="3405.2" cy="1510.0" r="4.0" fill="#2ec02e"/>
<circle cx="3418.3" cy="1515.7" r="4.1" fill="#2ec02e"/>
<circle cx="3413.8" cy="1516.5" r="3.0" fill="#2ec02e"/>
<circle cx="3419.4" cy="1512.0" r="3.8" fill="#2ec02e"/>
<circle cx="3407.9" cy="1524.3" r="4.0" fill="#2ec02e"/>
<circle cx="3412.7" cy="1518.1" r="2.9" fill="#2ec02e"/>
<circle cx="3398.3" cy="1518.3" r="3.6" fill="#2ec02e"/>
<circle cx="3402.8" cy="1521.0" r="3.1" fill="#2ec02e"/>
<circle cx="3416.4" cy="1513.8" r="3.1" fill="#2ec02e"/>
<circle cx="3405.5" cy="1526.7" r="3.2" fill="#2ec02e"/>
<circle cx="3415.4" cy="1512.2" r="3.4" fill="#2ec02e"/>
<circle cx="3420.8" cy="1521.5" r="3.9" fill="#2ec02e"/>
<circle cx="3406.3" cy="1516.6" r="3.5" fill="#2ec02e"/>
<circle cx="3401.5" cy="1524.2" r="4.1" fill="#2ec02e"/>
<circle cx="3409.5" cy="1509.9" r="2.9" fill="#2ec02e"/>
<circle cx="3419.7" cy="1508.2" r="3.0" fill="#2ec02e"/>
<circle cx="3401.4" cy="1516.0" r="4.2" fill="#2ec02e"/>
<circle cx="3412.2" cy="1516.7" r="4.0" fill="#2ec02e"/>
<circle cx="3402.4" cy="1512.5" r="3.9" fill="#2ec02e"/>
<circle cx="3401.1" cy="1510.2" r="3.2" fill="#2ec02e"/>
<circle cx="3410.5" cy="1516.4" r="3.3" fill="#2ec02e"/>
<circle cx="3405.5" cy="1510.2" r="3.3" fill="#2ec02e"/>
<circle cx="3402.0" cy="1508.9" r="3.6" fill="#2ec02e"/>
<circle cx="3405.4" cy="1526.7" r="3.9" fill="#2ec02e"/>
<circle cx="3419.3" cy="1508.5" r="2.8" fill="#2ec02e"/>
<circle cx="3406.4" cy="1510.0" r="3.3" fill="#2ec02e"/>
<circle cx="3405.8" cy="1515.5" r="3.1" fill="#2ec02e"/>
<circle cx="3416.5" cy="1515.4" r="4.1" fill="#2ec02e"/>
<circle cx="3407.2" cy="1510.0" r="3.2" fill="#2ec02e"/>
<circle cx="3401.5" cy="1509.6" r="3.3" fill="#2ec02e"/>
<circle cx="3414.0" cy="1517.6" r="4.0" fill="#2ec02e"/>
<circle cx="3409.3" cy="1512.6" r="4.0" fill="#2ec02e"/>
<circle cx="3403.8" cy="1512.9" r="4.1" fill="#2ec02e"/>
<circle cx="3412.0" cy="1518.3" r="3.3" fill="#2ec02e"/>
<circle cx="3409.1" cy="1507.0" r="3.5" fill="#2ec02e"/>
<circle cx="3416.0" cy="1511.9" r="3.9" fill="#2ec02e"/>
<circle cx="3421.0" cy="1516.3" r="3.0" fill="#2ec02e"/>
<circle cx="3403.3" cy="1506.3" r="3.7" fill="#2ec02e"/>
<circle cx="3401.8" cy="1511.7" r="3.9" fill="#2ec02e"/>
<rect x="3207.9" y="1684.0" width="287.6" height="34.0" fill="#fff" stroke="#222" stroke-width="1.5" rx="7"/>
<rect x="3220.9" y="1687.5" width="10.5" height="10.5" fill="#b04fd8"/>
<text x="3235.9" y="1697.3" font-size="12" class="s">Part 1</text>
<rect x="3289.3" y="1687.5" width="10.5" height="10.5" fill="#2ec02e"/>
<text x="3304.3" y="1697.3" font-size="12" class="s">Part 3</text>
<rect x="3357.8" y="1687.5" width="10.5" height="10.5" fill="#ff4a10"/>
<text x="3372.8" y="1697.3" font-size="12" class="s">Part 5</text>
<rect x="3220.9" y="1703.0" width="10.5" height="10.5" fill="#f29a1a"/>
<text x="3235.9" y="1712.8" font-size="12" class="s">Part 2</text>
<rect x="3289.3" y="1703.0" width="10.5" height="10.5" fill="#fcd41c"/>
<text x="3304.3" y="1712.8" font-size="12" class="s">Part 4</text>
<rect x="3357.8" y="1703.0" width="10.5" height="10.5" fill="#6496f0"/>
<text x="3372.8" y="1712.8" font-size="12" class="s">Part 6</text>
<text x="3431.2" y="1697.5" font-size="13" class="s" text-anchor="middle">☆</text>
<text x="3431.2" y="1713.0" font-size="10.5" class="s" text-anchor="middle">⚄</text>
<text x="3442.2" y="1697.3" font-size="12" class="s">ID 162</text>
<text x="3442.2" y="1712.8" font-size="12" class="s">ID 63</text>
<rect x="3864.0" y="1395.7" width="287.8" height="265.3" fill="#fff" stroke="#222" stroke-width="1.2"/>
<text x="3859.0" y="1432.9" font-size="11" class="s" text-anchor="end">60</text>
<line x1="3861.0" y1="1428.9" x2="3864.0" y2="1428.9" stroke="#222" stroke-width="1" />
<text x="3859.0" y="1468.3" font-size="11" class="s" text-anchor="end">40</text>
<line x1="3861.0" y1="1464.3" x2="3864.0" y2="1464.3" stroke="#222" stroke-width="1" />
<text x="3859.0" y="1504.2" font-size="11" class="s" text-anchor="end">20</text>
<line x1="3861.0" y1="1500.2" x2="3864.0" y2="1500.2" stroke="#222" stroke-width="1" />
<text x="3859.0" y="1540.0" font-size="11" class="s" text-anchor="end">0</text>
<line x1="3861.0" y1="1536.0" x2="3864.0" y2="1536.0" stroke="#222" stroke-width="1" />
<text x="3859.0" y="1574.9" font-size="11" class="s" text-anchor="end">−20</text>
<line x1="3861.0" y1="1570.9" x2="3864.0" y2="1570.9" stroke="#222" stroke-width="1" />
<text x="3859.0" y="1610.2" font-size="11" class="s" text-anchor="end">−40</text>
<line x1="3861.0" y1="1606.2" x2="3864.0" y2="1606.2" stroke="#222" stroke-width="1" />
<text x="3859.0" y="1646.0" font-size="11" class="s" text-anchor="end">−60</text>
<line x1="3861.0" y1="1642.0" x2="3864.0" y2="1642.0" stroke="#222" stroke-width="1" />
<text x="3896.2" y="1675.0" font-size="11" class="s" text-anchor="middle">−60</text>
<line x1="3896.2" y1="1661.0" x2="3896.2" y2="1664.0" stroke="#222" stroke-width="1" />
<text x="3931.0" y="1675.0" font-size="11" class="s" text-anchor="middle">−40</text>
<line x1="3931.0" y1="1661.0" x2="3931.0" y2="1664.0" stroke="#222" stroke-width="1" />
<text x="3965.9" y="1675.0" font-size="11" class="s" text-anchor="middle">−20</text>
<line x1="3965.9" y1="1661.0" x2="3965.9" y2="1664.0" stroke="#222" stroke-width="1" />
<text x="4001.8" y="1675.0" font-size="11" class="s" text-anchor="middle">0</text>
<line x1="4001.8" y1="1661.0" x2="4001.8" y2="1664.0" stroke="#222" stroke-width="1" />
<text x="4036.6" y="1675.0" font-size="11" class="s" text-anchor="middle">20</text>
<line x1="4036.6" y1="1661.0" x2="4036.6" y2="1664.0" stroke="#222" stroke-width="1" />
<text x="4071.4" y="1675.0" font-size="11" class="s" text-anchor="middle">40</text>
<line x1="4071.4" y1="1661.0" x2="4071.4" y2="1664.0" stroke="#222" stroke-width="1" />
<text x="4106.2" y="1675.0" font-size="11" class="s" text-anchor="middle">60</text>
<line x1="4106.2" y1="1661.0" x2="4106.2" y2="1664.0" stroke="#222" stroke-width="1" />
<text x="4141.0" y="1675.0" font-size="11" class="s" text-anchor="middle">80</text>
<line x1="4141.0" y1="1661.0" x2="4141.0" y2="1664.0" stroke="#222" stroke-width="1" />
<circle cx="3979.4" cy="1416.1" r="3.7" fill="#6496f0"/>
<circle cx="3983.2" cy="1423.7" r="4.2" fill="#6496f0"/>
<circle cx="3986.5" cy="1419.1" r="3.7" fill="#6496f0"/>
<circle cx="3985.2" cy="1418.0" r="4.0" fill="#6496f0"/>
<circle cx="3987.0" cy="1415.2" r="3.1" fill="#6496f0"/>
<circle cx="3987.0" cy="1414.9" r="3.6" fill="#6496f0"/>
<circle cx="3978.2" cy="1410.3" r="4.1" fill="#6496f0"/>
<circle cx="3989.2" cy="1413.7" r="4.0" fill="#6496f0"/>
<circle cx="3984.7" cy="1407.1" r="3.4" fill="#6496f0"/>
<circle cx="3983.5" cy="1421.4" r="4.1" fill="#6496f0"/>
<circle cx="3982.4" cy="1413.0" r="4.1" fill="#6496f0"/>
<circle cx="3982.2" cy="1425.5" r="3.4" fill="#6496f0"/>
<circle cx="3982.6" cy="1420.7" r="3.6" fill="#6496f0"/>
<circle cx="3977.9" cy="1420.8" r="3.8" fill="#6496f0"/>
<circle cx="3986.1" cy="1406.1" r="3.7" fill="#6496f0"/>
<circle cx="3988.1" cy="1414.3" r="4.0" fill="#6496f0"/>
<circle cx="3985.8" cy="1406.2" r="3.0" fill="#6496f0"/>
<circle cx="3978.1" cy="1412.5" r="2.9" fill="#6496f0"/>
<circle cx="3979.4" cy="1422.0" r="2.8" fill="#6496f0"/>
<circle cx="3988.8" cy="1416.5" r="3.4" fill="#6496f0"/>
<circle cx="3990.2" cy="1414.5" r="4.0" fill="#6496f0"/>
<circle cx="3984.1" cy="1411.4" r="3.8" fill="#6496f0"/>
<circle cx="3985.0" cy="1418.1" r="3.3" fill="#6496f0"/>
<circle cx="3983.0" cy="1417.6" r="3.5" fill="#6496f0"/>
<circle cx="3984.7" cy="1415.4" r="3.1" fill="#6496f0"/>
<circle cx="3987.9" cy="1412.3" r="3.5" fill="#6496f0"/>
<circle cx="3976.8" cy="1421.2" r="3.5" fill="#6496f0"/>
<circle cx="3979.4" cy="1419.7" r="3.9" fill="#6496f0"/>
<circle cx="3987.9" cy="1416.9" r="3.7" fill="#6496f0"/>
<circle cx="3987.0" cy="1416.3" r="3.3" fill="#6496f0"/>
<circle cx="3979.7" cy="1409.6" r="3.5" fill="#6496f0"/>
<circle cx="3981.5" cy="1422.9" r="4.1" fill="#6496f0"/>
<circle cx="3984.4" cy="1417.8" r="3.0" fill="#6496f0"/>
<circle cx="3943.4" cy="1463.9" r="3.0" fill="#6496f0"/>
<circle cx="3945.9" cy="1449.4" r="3.6" fill="#6496f0"/>
<circle cx="3951.2" cy="1451.0" r="4.2" fill="#6496f0"/>
<circle cx="3941.7" cy="1444.9" r="3.7" fill="#6496f0"/>
<circle cx="3935.6" cy="1450.7" r="4.2" fill="#6496f0"/>
<circle cx="3930.0" cy="1462.5" r="4.0" fill="#6496f0"/>
<circle cx="3950.0" cy="1455.7" r="3.5" fill="#6496f0"/>
<circle cx="3945.2" cy="1450.0" r="3.7" fill="#6496f0"/>
<circle cx="3933.7" cy="1463.6" r="4.1" fill="#6496f0"/>
<circle cx="3943.5" cy="1449.4" r="3.9" fill="#6496f0"/>
<circle cx="3929.7" cy="1459.4" r="3.5" fill="#6496f0"/>
<circle cx="3956.2" cy="1446.9" r="4.0" fill="#6496f0"/>
<circle cx="3949.5" cy="1443.6" r="3.6" fill="#6496f0"/>
<circle cx="3950.2" cy="1467.0" r="3.4" fill="#6496f0"/>
<circle cx="3952.7" cy="1455.5" r="3.4" fill="#6496f0"/>
<circle cx="3947.7" cy="1467.6" r="3.0" fill="#6496f0"/>
<circle cx="3952.2" cy="1449.1" r="3.1" fill="#6496f0"/>
<circle cx="3936.8" cy="1461.3" r="3.0" fill="#6496f0"/>
<circle cx="3944.0" cy="1443.8" r="4.2" fill="#6496f0"/>
<circle cx="3949.7" cy="1444.0" r="4.2" fill="#6496f0"/>
<circle cx="3954.2" cy="1450.1" r="3.6" fill="#6496f0"/>
<circle cx="3929.0" cy="1452.8" r="4.1" fill="#6496f0"/>
<circle cx="3950.0" cy="1443.6" r="2.8" fill="#6496f0"/>
<circle cx="3939.7" cy="1456.1" r="3.6" fill="#6496f0"/>
<circle cx="3933.1" cy="1449.8" r="4.0" fill="#6496f0"/>
<circle cx="3945.1" cy="1466.0" r="3.6" fill="#6496f0"/>
<circle cx="3946.6" cy="1468.0" r="2.9" fill="#6496f0"/>
<circle cx="3932.3" cy="1456.7" r="3.6" fill="#6496f0"/>
<circle cx="3954.1" cy="1453.5" r="4.0" fill="#6496f0"/>
<circle cx="3940.2" cy="1463.3" r="3.0" fill="#6496f0"/>
<circle cx="3936.9" cy="1448.2" r="3.9" fill="#6496f0"/>
<circle cx="3950.7" cy="1460.3" r="4.1" fill="#6496f0"/>
<circle cx="3955.4" cy="1455.4" r="3.7" fill="#6496f0"/>
<circle cx="3941.3" cy="1444.9" r="3.5" fill="#6496f0"/>
<circle cx="3950.3" cy="1452.9" r="3.8" fill="#6496f0"/>
<circle cx="3936.5" cy="1444.5" r="3.5" fill="#6496f0"/>
<circle cx="3956.7" cy="1455.9" r="3.2" fill="#6496f0"/>
<circle cx="3946.2" cy="1441.0" r="3.9" fill="#6496f0"/>
<circle cx="3931.0" cy="1461.9" r="3.3" fill="#6496f0"/>
<circle cx="3938.1" cy="1463.7" r="3.7" fill="#6496f0"/>
<circle cx="3938.6" cy="1445.6" r="3.4" fill="#6496f0"/>
<circle cx="3942.6" cy="1447.5" r="3.6" fill="#6496f0"/>
<circle cx="3947.7" cy="1454.7" r="4.0" fill="#6496f0"/>
<circle cx="3945.0" cy="1462.6" r="2.9" fill="#6496f0"/>
<circle cx="3943.8" cy="1447.5" r="2.9" fill="#6496f0"/>
<circle cx="3940.7" cy="1467.9" r="3.9" fill="#6496f0"/>
<circle cx="3958.5" cy="1454.9" r="2.9" fill="#6496f0"/>
<circle cx="3932.1" cy="1455.6" r="3.9" fill="#6496f0"/>
<circle cx="3952.0" cy="1464.3" r="3.2" fill="#6496f0"/>
<circle cx="3941.9" cy="1441.3" r="3.6" fill="#6496f0"/>
<circle cx="3955.5" cy="1454.7" r="3.4" fill="#6496f0"/>
<circle cx="3941.3" cy="1442.6" r="3.0" fill="#6496f0"/>
<circle cx="3931.8" cy="1450.2" r="4.1" fill="#6496f0"/>
<circle cx="3934.0" cy="1447.7" r="3.9" fill="#6496f0"/>
<circle cx="3950.8" cy="1465.4" r="3.6" fill="#6496f0"/>
<circle cx="3939.6" cy="1451.2" r="3.5" fill="#6496f0"/>
<circle cx="3937.8" cy="1457.5" r="4.1" fill="#6496f0"/>
<circle cx="3948.7" cy="1447.4" r="2.9" fill="#6496f0"/>
<circle cx="3947.4" cy="1454.2" r="3.5" fill="#6496f0"/>
<circle cx="3929.6" cy="1449.5" r="3.7" fill="#6496f0"/>
<circle cx="3934.5" cy="1448.9" r="4.2" fill="#6496f0"/>
<circle cx="3931.0" cy="1507.8" r="3.8" fill="#6496f0"/>
<circle cx="3920.8" cy="1508.7" r="3.4" fill="#6496f0"/>
<circle cx="3932.0" cy="1506.9" r="4.2" fill="#6496f0"/>
<circle cx="3926.6" cy="1509.3" r="3.3" fill="#6496f0"/>
<circle cx="3928.6" cy="1507.3" r="3.3" fill="#6496f0"/>
<circle cx="3931.2" cy="1508.1" r="3.0" fill="#6496f0"/>
<circle cx="3929.9" cy="1511.2" r="3.9" fill="#6496f0"/>
<circle cx="3922.3" cy="1511.2" r="4.1" fill="#6496f0"/>
<circle cx="3936.3" cy="1503.9" r="3.6" fill="#6496f0"/>
<circle cx="3925.4" cy="1502.3" r="3.6" fill="#6496f0"/>
<circle cx="3933.2" cy="1511.7" r="3.5" fill="#6496f0"/>
<circle cx="3930.3" cy="1509.5" r="3.1" fill="#6496f0"/>
<circle cx="3926.8" cy="1502.2" r="3.7" fill="#6496f0"/>
<circle cx="3928.4" cy="1508.4" r="2.8" fill="#6496f0"/>
<circle cx="3925.9" cy="1504.0" r="3.4" fill="#6496f0"/>
<circle cx="3930.6" cy="1509.8" r="3.1" fill="#6496f0"/>
<circle cx="3934.0" cy="1511.7" r="3.2" fill="#6496f0"/>
<circle cx="3924.3" cy="1506.6" r="3.6" fill="#6496f0"/>
<circle cx="3929.1" cy="1502.0" r="3.0" fill="#6496f0"/>
<circle cx="3937.3" cy="1506.4" r="3.9" fill="#6496f0"/>
<circle cx="3921.0" cy="1510.0" r="3.9" fill="#6496f0"/>
<circle cx="3929.9" cy="1513.6" r="4.0" fill="#6496f0"/>
<circle cx="3929.6" cy="1501.4" r="3.5" fill="#6496f0"/>
<circle cx="3928.5" cy="1506.7" r="3.7" fill="#6496f0"/>
<circle cx="3933.9" cy="1512.6" r="4.1" fill="#6496f0"/>
<circle cx="3928.1" cy="1509.0" r="2.9" fill="#6496f0"/>
<circle cx="3924.6" cy="1545.4" r="3.4" fill="#6496f0"/>
<circle cx="3927.8" cy="1542.6" r="3.5" fill="#6496f0"/>
<circle cx="3928.8" cy="1543.6" r="4.0" fill="#6496f0"/>
<circle cx="3931.7" cy="1551.7" r="4.2" fill="#6496f0"/>
<circle cx="3929.3" cy="1547.0" r="3.8" fill="#6496f0"/>
<circle cx="3931.2" cy="1555.3" r="3.4" fill="#6496f0"/>
<circle cx="3929.7" cy="1553.7" r="3.5" fill="#6496f0"/>
<circle cx="3927.3" cy="1547.4" r="3.7" fill="#6496f0"/>
<circle cx="3930.6" cy="1550.8" r="3.2" fill="#6496f0"/>
<circle cx="3934.1" cy="1554.8" r="3.4" fill="#6496f0"/>
<circle cx="3926.6" cy="1552.4" r="3.9" fill="#6496f0"/>
<circle cx="3929.6" cy="1545.5" r="4.0" fill="#6496f0"/>
<circle cx="3929.8" cy="1555.7" r="4.1" fill="#6496f0"/>
<circle cx="3929.7" cy="1553.8" r="2.8" fill="#6496f0"/>
<circle cx="3926.5" cy="1543.9" r="2.9" fill="#6496f0"/>
<circle cx="3925.4" cy="1551.7" r="3.3" fill="#6496f0"/>
<circle cx="3929.8" cy="1556.0" r="3.0" fill="#6496f0"/>
<circle cx="3931.7" cy="1549.4" r="3.5" fill="#6496f0"/>
<circle cx="3926.0" cy="1545.6" r="3.5" fill="#6496f0"/>
<circle cx="3922.7" cy="1549.7" r="3.0" fill="#6496f0"/>
<circle cx="3930.4" cy="1555.2" r="3.8" fill="#6496f0"/>
<circle cx="3925.9" cy="1553.4" r="2.9" fill="#6496f0"/>
<circle cx="3933.2" cy="1556.0" r="3.1" fill="#6496f0"/>
<circle cx="3926.5" cy="1551.9" r="3.2" fill="#6496f0"/>
<circle cx="3931.8" cy="1558.9" r="3.7" fill="#6496f0"/>
<circle cx="3926.5" cy="1551.3" r="4.0" fill="#6496f0"/>
<circle cx="3998.7" cy="1445.0" r="3.6" fill="#f29a1a"/>
<circle cx="3987.7" cy="1447.6" r="3.3" fill="#f29a1a"/>
<circle cx="3990.3" cy="1449.0" r="3.3" fill="#f29a1a"/>
<circle cx="4003.5" cy="1441.7" r="3.8" fill="#f29a1a"/>
<circle cx="4004.8" cy="1450.0" r="3.6" fill="#f29a1a"/>
<circle cx="3991.3" cy="1442.6" r="3.5" fill="#f29a1a"/>
<circle cx="4000.1" cy="1444.7" r="3.0" fill="#f29a1a"/>
<circle cx="4000.4" cy="1446.6" r="3.2" fill="#f29a1a"/>
<circle cx="3988.6" cy="1450.2" r="3.3" fill="#f29a1a"/>
<circle cx="4000.5" cy="1447.0" r="3.1" fill="#f29a1a"/>
<circle cx="4004.7" cy="1447.8" r="3.8" fill="#f29a1a"/>
<circle cx="3998.9" cy="1449.8" r="4.2" fill="#f29a1a"/>
<circle cx="3994.7" cy="1440.7" r="3.6" fill="#f29a1a"/>
<circle cx="4000.2" cy="1446.1" r="3.7" fill="#f29a1a"/>
<circle cx="4002.2" cy="1447.3" r="3.1" fill="#f29a1a"/>
<circle cx="3993.6" cy="1451.4" r="3.4" fill="#f29a1a"/>
<circle cx="4000.3" cy="1443.2" r="2.8" fill="#f29a1a"/>
<circle cx="4000.9" cy="1438.5" r="4.0" fill="#f29a1a"/>
<circle cx="3995.1" cy="1451.8" r="3.9" fill="#f29a1a"/>
<circle cx="3997.8" cy="1447.5" r="3.5" fill="#f29a1a"/>
<circle cx="3997.1" cy="1452.9" r="3.0" fill="#f29a1a"/>
<circle cx="4002.1" cy="1445.0" r="3.3" fill="#f29a1a"/>
<circle cx="3995.0" cy="1450.9" r="3.9" fill="#f29a1a"/>
<circle cx="3998.7" cy="1438.3" r="4.1" fill="#f29a1a"/>
<circle cx="3992.4" cy="1443.2" r="3.4" fill="#f29a1a"/>
<circle cx="3999.7" cy="1450.7" r="3.5" fill="#f29a1a"/>
<circle cx="4000.7" cy="1441.2" r="2.9" fill="#f29a1a"/>
<circle cx="3991.8" cy="1445.4" r="3.9" fill="#f29a1a"/>
<circle cx="3999.8" cy="1440.4" r="3.7" fill="#f29a1a"/>
<circle cx="3992.7" cy="1448.8" r="3.9" fill="#f29a1a"/>
<circle cx="3997.3" cy="1439.6" r="4.1" fill="#f29a1a"/>
<circle cx="3999.4" cy="1439.3" r="2.9" fill="#f29a1a"/>
<circle cx="3992.6" cy="1476.3" r="3.0" fill="#f29a1a"/>
<circle cx="3979.4" cy="1459.2" r="3.8" fill="#f29a1a"/>
<circle cx="3977.7" cy="1476.1" r="3.8" fill="#f29a1a"/>
<circle cx="3991.7" cy="1468.0" r="3.6" fill="#f29a1a"/>
<circle cx="3973.6" cy="1474.5" r="3.8" fill="#f29a1a"/>
<circle cx="3971.0" cy="1473.6" r="3.7" fill="#f29a1a"/>
<circle cx="3978.8" cy="1468.7" r="3.1" fill="#f29a1a"/>
<circle cx="3977.4" cy="1461.8" r="4.0" fill="#f29a1a"/>
<circle cx="3986.2" cy="1471.6" r="3.5" fill="#f29a1a"/>
<circle cx="3980.2" cy="1465.5" r="3.9" fill="#f29a1a"/>
<circle cx="3974.1" cy="1473.1" r="4.0" fill="#f29a1a"/>
<circle cx="3991.6" cy="1477.2" r="3.2" fill="#f29a1a"/>
<circle cx="3976.6" cy="1473.5" r="3.5" fill="#f29a1a"/>
<circle cx="3983.6" cy="1465.9" r="3.6" fill="#f29a1a"/>
<circle cx="3973.5" cy="1472.1" r="3.0" fill="#f29a1a"/>
<circle cx="3977.5" cy="1463.3" r="3.5" fill="#f29a1a"/>
<circle cx="3977.2" cy="1468.1" r="3.9" fill="#f29a1a"/>
<circle cx="3985.4" cy="1466.7" r="3.9" fill="#f29a1a"/>
<circle cx="3978.0" cy="1464.5" r="3.2" fill="#f29a1a"/>
<circle cx="3987.9" cy="1473.6" r="3.4" fill="#f29a1a"/>
<circle cx="3970.7" cy="1470.6" r="3.6" fill="#f29a1a"/>
<circle cx="3984.6" cy="1473.5" r="3.6" fill="#f29a1a"/>
<circle cx="3975.1" cy="1470.7" r="3.2" fill="#f29a1a"/>
<circle cx="3993.3" cy="1468.6" r="3.8" fill="#f29a1a"/>
<circle cx="3974.8" cy="1475.6" r="3.8" fill="#f29a1a"/>
<circle cx="3969.7" cy="1466.5" r="2.8" fill="#f29a1a"/>
<circle cx="3979.0" cy="1465.6" r="3.3" fill="#f29a1a"/>
<circle cx="3966.0" cy="1467.8" r="3.4" fill="#f29a1a"/>
<circle cx="3976.7" cy="1466.3" r="4.1" fill="#f29a1a"/>
<circle cx="3980.4" cy="1478.3" r="3.8" fill="#f29a1a"/>
<circle cx="3977.4" cy="1463.0" r="3.7" fill="#f29a1a"/>
<circle cx="3995.1" cy="1470.8" r="3.6" fill="#f29a1a"/>
<circle cx="3974.8" cy="1467.0" r="3.5" fill="#f29a1a"/>
<circle cx="3974.8" cy="1464.5" r="3.0" fill="#f29a1a"/>
<circle cx="3984.9" cy="1480.4" r="3.1" fill="#f29a1a"/>
<circle cx="3968.1" cy="1469.1" r="3.1" fill="#f29a1a"/>
<circle cx="3983.7" cy="1462.8" r="4.1" fill="#f29a1a"/>
<circle cx="3982.8" cy="1476.9" r="3.3" fill="#f29a1a"/>
<circle cx="3979.0" cy="1477.1" r="3.4" fill="#f29a1a"/>
<circle cx="3969.4" cy="1476.8" r="3.3" fill="#f29a1a"/>
<circle cx="3992.1" cy="1473.5" r="3.4" fill="#f29a1a"/>
<circle cx="3992.8" cy="1471.6" r="3.8" fill="#f29a1a"/>
<circle cx="3972.8" cy="1461.2" r="3.2" fill="#f29a1a"/>
<circle cx="3984.7" cy="1464.5" r="4.0" fill="#f29a1a"/>
<circle cx="3990.8" cy="1469.9" r="3.4" fill="#f29a1a"/>
<circle cx="3979.1" cy="1460.2" r="3.5" fill="#f29a1a"/>
<circle cx="3987.3" cy="1473.2" r="3.8" fill="#f29a1a"/>
<circle cx="3989.0" cy="1470.6" r="4.1" fill="#f29a1a"/>
<circle cx="3978.8" cy="1464.8" r="3.0" fill="#f29a1a"/>
<circle cx="3970.2" cy="1466.1" r="3.2" fill="#f29a1a"/>
<circle cx="3965.4" cy="1468.8" r="3.7" fill="#f29a1a"/>
<circle cx="3977.6" cy="1469.4" r="3.5" fill="#f29a1a"/>
<circle cx="3973.9" cy="1515.3" r="3.5" fill="#f29a1a"/>
<circle cx="3958.6" cy="1515.8" r="4.2" fill="#f29a1a"/>
<circle cx="3963.4" cy="1521.6" r="3.3" fill="#f29a1a"/>
<circle cx="3974.0" cy="1523.7" r="4.2" fill="#f29a1a"/>
<circle cx="3969.3" cy="1532.7" r="3.1" fill="#f29a1a"/>
<circle cx="3973.4" cy="1512.6" r="3.3" fill="#f29a1a"/>
<circle cx="3970.2" cy="1519.1" r="4.1" fill="#f29a1a"/>
<circle cx="3969.9" cy="1530.4" r="3.6" fill="#f29a1a"/>
<circle cx="3959.3" cy="1523.1" r="3.0" fill="#f29a1a"/>
<circle cx="3966.1" cy="1515.0" r="3.1" fill="#f29a1a"/>
<circle cx="3965.3" cy="1512.1" r="3.0" fill="#f29a1a"/>
<circle cx="3959.4" cy="1518.3" r="2.8" fill="#f29a1a"/>
<circle cx="3963.7" cy="1506.4" r="2.8" fill="#f29a1a"/>
<circle cx="3966.9" cy="1517.9" r="3.6" fill="#f29a1a"/>
<circle cx="3962.7" cy="1511.5" r="3.3" fill="#f29a1a"/>
<circle cx="3968.0" cy="1511.5" r="3.5" fill="#f29a1a"/>
<circle cx="3965.5" cy="1518.0" r="4.1" fill="#f29a1a"/>
<circle cx="3970.7" cy="1532.2" r="3.5" fill="#f29a1a"/>
<circle cx="3971.9" cy="1518.5" r="3.6" fill="#f29a1a"/>
<circle cx="3957.8" cy="1522.1" r="2.8" fill="#f29a1a"/>
<circle cx="3971.4" cy="1503.5" r="3.0" fill="#f29a1a"/>
<circle cx="3965.4" cy="1517.8" r="3.6" fill="#f29a1a"/>
<circle cx="3965.4" cy="1510.0" r="3.9" fill="#f29a1a"/>
<circle cx="3967.1" cy="1521.2" r="3.5" fill="#f29a1a"/>
<circle cx="3966.9" cy="1509.2" r="3.1" fill="#f29a1a"/>
<circle cx="3962.6" cy="1506.3" r="3.0" fill="#f29a1a"/>
<circle cx="3970.8" cy="1529.6" r="3.9" fill="#f29a1a"/>
<circle cx="3971.7" cy="1528.8" r="3.7" fill="#f29a1a"/>
<circle cx="3974.7" cy="1521.7" r="3.5" fill="#f29a1a"/>
<circle cx="3969.4" cy="1521.4" r="3.2" fill="#f29a1a"/>
<circle cx="3966.1" cy="1512.5" r="3.6" fill="#f29a1a"/>
<circle cx="3971.8" cy="1508.5" r="3.8" fill="#f29a1a"/>
<circle cx="3974.3" cy="1529.6" r="4.1" fill="#f29a1a"/>
<circle cx="3969.6" cy="1512.2" r="3.6" fill="#f29a1a"/>
<circle cx="3967.0" cy="1512.6" r="3.0" fill="#f29a1a"/>
<circle cx="3972.7" cy="1510.5" r="4.1" fill="#f29a1a"/>
<circle cx="3958.6" cy="1526.3" r="3.8" fill="#f29a1a"/>
<circle cx="3968.5" cy="1525.1" r="4.1" fill="#f29a1a"/>
<circle cx="3974.8" cy="1528.8" r="3.7" fill="#f29a1a"/>
<circle cx="3970.4" cy="1515.5" r="2.9" fill="#f29a1a"/>
<circle cx="3973.3" cy="1513.0" r="3.2" fill="#f29a1a"/>
<circle cx="3964.5" cy="1514.6" r="3.8" fill="#f29a1a"/>
<circle cx="3961.7" cy="1507.8" r="3.3" fill="#f29a1a"/>
<circle cx="3963.5" cy="1522.4" r="2.9" fill="#f29a1a"/>
<circle cx="3961.9" cy="1517.3" r="3.3" fill="#f29a1a"/>
<circle cx="3973.1" cy="1528.6" r="3.6" fill="#f29a1a"/>
<circle cx="3972.0" cy="1524.6" r="3.4" fill="#f29a1a"/>
<circle cx="3969.8" cy="1509.6" r="3.2" fill="#f29a1a"/>
<circle cx="3958.1" cy="1514.8" r="2.8" fill="#f29a1a"/>
<circle cx="3969.1" cy="1516.8" r="2.8" fill="#f29a1a"/>
<circle cx="3966.4" cy="1532.5" r="4.0" fill="#f29a1a"/>
<circle cx="3964.5" cy="1521.0" r="3.4" fill="#f29a1a"/>
<circle cx="4067.0" cy="1453.5" r="2.8" fill="#fcd41c"/>
<circle cx="4051.9" cy="1451.3" r="3.2" fill="#fcd41c"/>
<circle cx="4067.5" cy="1451.0" r="4.0" fill="#fcd41c"/>
<circle cx="4068.1" cy="1452.8" r="3.5" fill="#fcd41c"/>
<circle cx="4056.7" cy="1449.3" r="4.2" fill="#fcd41c"/>
<circle cx="4056.5" cy="1446.5" r="3.8" fill="#fcd41c"/>
<circle cx="4053.1" cy="1450.0" r="3.7" fill="#fcd41c"/>
<circle cx="4058.2" cy="1451.0" r="3.6" fill="#fcd41c"/>
<circle cx="4064.4" cy="1456.8" r="3.4" fill="#fcd41c"/>
<circle cx="4061.2" cy="1446.2" r="3.3" fill="#fcd41c"/>
<circle cx="4057.1" cy="1451.6" r="4.2" fill="#fcd41c"/>
<circle cx="4063.9" cy="1448.4" r="3.1" fill="#fcd41c"/>
<circle cx="4054.2" cy="1454.0" r="3.4" fill="#fcd41c"/>
<circle cx="4062.1" cy="1451.5" r="3.3" fill="#fcd41c"/>
<circle cx="4059.3" cy="1451.9" r="3.5" fill="#fcd41c"/>
<circle cx="4056.7" cy="1450.3" r="4.2" fill="#fcd41c"/>
<circle cx="4057.8" cy="1455.6" r="3.6" fill="#fcd41c"/>
<circle cx="4060.2" cy="1457.1" r="3.0" fill="#fcd41c"/>
<circle cx="4067.4" cy="1454.2" r="3.2" fill="#fcd41c"/>
<circle cx="4062.8" cy="1455.0" r="3.4" fill="#fcd41c"/>
<circle cx="4065.1" cy="1457.1" r="3.8" fill="#fcd41c"/>
<circle cx="4062.0" cy="1451.8" r="3.2" fill="#fcd41c"/>
<circle cx="4056.9" cy="1445.6" r="3.1" fill="#fcd41c"/>
<circle cx="4061.6" cy="1451.1" r="3.6" fill="#fcd41c"/>
<circle cx="4063.6" cy="1452.4" r="3.8" fill="#fcd41c"/>
<circle cx="4052.7" cy="1454.5" r="4.1" fill="#fcd41c"/>
<circle cx="4054.9" cy="1453.8" r="3.3" fill="#fcd41c"/>
<circle cx="4063.4" cy="1456.1" r="3.9" fill="#fcd41c"/>
<circle cx="4033.9" cy="1482.2" r="3.7" fill="#fcd41c"/>
<circle cx="4041.1" cy="1484.3" r="3.4" fill="#fcd41c"/>
<circle cx="4034.7" cy="1490.7" r="4.0" fill="#fcd41c"/>
<circle cx="4051.9" cy="1482.3" r="3.4" fill="#fcd41c"/>
<circle cx="4041.7" cy="1482.2" r="3.5" fill="#fcd41c"/>
<circle cx="4035.9" cy="1485.6" r="3.6" fill="#fcd41c"/>
<circle cx="4033.1" cy="1490.8" r="2.9" fill="#fcd41c"/>
<circle cx="4036.8" cy="1481.1" r="2.8" fill="#fcd41c"/>
<circle cx="4044.0" cy="1479.5" r="3.7" fill="#fcd41c"/>
<circle cx="4037.1" cy="1472.4" r="4.1" fill="#fcd41c"/>
<circle cx="4044.0" cy="1492.8" r="3.0" fill="#fcd41c"/>
<circle cx="4037.8" cy="1478.9" r="3.2" fill="#fcd41c"/>
<circle cx="4039.0" cy="1497.3" r="3.5" fill="#fcd41c"/>
<circle cx="4044.2" cy="1475.4" r="3.6" fill="#fcd41c"/>
<circle cx="4035.3" cy="1478.2" r="3.4" fill="#fcd41c"/>
<circle cx="4037.7" cy="1490.7" r="4.1" fill="#fcd41c"/>
<circle cx="4031.8" cy="1479.1" r="3.7" fill="#fcd41c"/>
<circle cx="4045.1" cy="1497.5" r="3.5" fill="#fcd41c"/>
<circle cx="4035.4" cy="1496.5" r="3.5" fill="#fcd41c"/>
<circle cx="4037.8" cy="1480.8" r="4.1" fill="#fcd41c"/>
<circle cx="4042.2" cy="1482.0" r="3.5" fill="#fcd41c"/>
<circle cx="4041.7" cy="1485.6" r="3.1" fill="#fcd41c"/>
<circle cx="4052.2" cy="1491.1" r="3.5" fill="#fcd41c"/>
<circle cx="4027.4" cy="1481.0" r="3.2" fill="#fcd41c"/>
<circle cx="4026.9" cy="1486.1" r="3.6" fill="#fcd41c"/>
<circle cx="4037.9" cy="1487.5" r="4.1" fill="#fcd41c"/>
<circle cx="4053.8" cy="1483.7" r="3.0" fill="#fcd41c"/>
<circle cx="4040.7" cy="1490.5" r="4.0" fill="#fcd41c"/>
<circle cx="4028.3" cy="1491.5" r="3.9" fill="#fcd41c"/>
<circle cx="4033.3" cy="1485.5" r="4.2" fill="#fcd41c"/>
<circle cx="4027.6" cy="1479.4" r="2.9" fill="#fcd41c"/>
<circle cx="4027.4" cy="1479.5" r="3.3" fill="#fcd41c"/>
<circle cx="4027.1" cy="1491.7" r="3.5" fill="#fcd41c"/>
<circle cx="4034.0" cy="1478.5" r="2.9" fill="#fcd41c"/>
<circle cx="4028.0" cy="1483.0" r="3.8" fill="#fcd41c"/>
<circle cx="4028.3" cy="1492.7" r="3.9" fill="#fcd41c"/>
<circle cx="4042.7" cy="1487.1" r="3.9" fill="#fcd41c"/>
<circle cx="4044.7" cy="1473.3" r="3.0" fill="#fcd41c"/>
<circle cx="4042.9" cy="1483.3" r="3.0" fill="#fcd41c"/>
<circle cx="4031.1" cy="1475.6" r="2.9" fill="#fcd41c"/>
<circle cx="4037.7" cy="1481.2" r="3.3" fill="#fcd41c"/>
<circle cx="4040.0" cy="1497.8" r="3.4" fill="#fcd41c"/>
<circle cx="4051.6" cy="1490.1" r="3.3" fill="#fcd41c"/>
<circle cx="4042.9" cy="1481.8" r="3.0" fill="#fcd41c"/>
<circle cx="4035.9" cy="1493.4" r="2.8" fill="#fcd41c"/>
<circle cx="4029.5" cy="1476.0" r="3.6" fill="#fcd41c"/>
<circle cx="4025.5" cy="1485.7" r="3.3" fill="#fcd41c"/>
<circle cx="4043.4" cy="1489.7" r="4.0" fill="#fcd41c"/>
<circle cx="4045.1" cy="1491.3" r="3.3" fill="#fcd41c"/>
<circle cx="4048.7" cy="1478.9" r="3.4" fill="#fcd41c"/>
<circle cx="4036.7" cy="1491.3" r="2.9" fill="#fcd41c"/>
<circle cx="4030.0" cy="1491.2" r="3.8" fill="#fcd41c"/>
<circle cx="4037.1" cy="1489.4" r="3.3" fill="#fcd41c"/>
<circle cx="4051.1" cy="1482.1" r="4.2" fill="#fcd41c"/>
<circle cx="4030.2" cy="1479.9" r="4.1" fill="#fcd41c"/>
<circle cx="4041.0" cy="1491.0" r="3.1" fill="#fcd41c"/>
<circle cx="4039.8" cy="1489.4" r="4.1" fill="#fcd41c"/>
<circle cx="4029.5" cy="1487.6" r="3.5" fill="#fcd41c"/>
<circle cx="4042.1" cy="1489.2" r="2.8" fill="#fcd41c"/>
<circle cx="4041.9" cy="1481.2" r="3.3" fill="#fcd41c"/>
<circle cx="4052.2" cy="1484.2" r="3.9" fill="#fcd41c"/>
<circle cx="4044.8" cy="1492.5" r="4.2" fill="#fcd41c"/>
<circle cx="3885.4" cy="1552.0" r="4.1" fill="#fcd41c"/>
<circle cx="3892.1" cy="1537.3" r="3.8" fill="#fcd41c"/>
<circle cx="3883.7" cy="1533.9" r="4.0" fill="#fcd41c"/>
<circle cx="3878.3" cy="1546.0" r="3.6" fill="#fcd41c"/>
<circle cx="3884.5" cy="1520.2" r="3.3" fill="#fcd41c"/>
<circle cx="3879.7" cy="1519.5" r="4.0" fill="#fcd41c"/>
<circle cx="3885.9" cy="1532.5" r="3.7" fill="#fcd41c"/>
<circle cx="3886.5" cy="1527.7" r="2.9" fill="#fcd41c"/>
<circle cx="3883.9" cy="1522.2" r="4.2" fill="#fcd41c"/>
<circle cx="3884.0" cy="1539.2" r="3.6" fill="#fcd41c"/>
<circle cx="3887.9" cy="1523.5" r="2.9" fill="#fcd41c"/>
<circle cx="3882.6" cy="1539.4" r="3.4" fill="#fcd41c"/>
<circle cx="3885.0" cy="1524.0" r="3.6" fill="#fcd41c"/>
<circle cx="3884.9" cy="1547.0" r="4.2" fill="#fcd41c"/>
<circle cx="3880.4" cy="1540.2" r="3.8" fill="#fcd41c"/>
<circle cx="3885.2" cy="1532.9" r="3.7" fill="#fcd41c"/>
<circle cx="3878.7" cy="1527.1" r="3.5" fill="#fcd41c"/>
<circle cx="3880.5" cy="1520.2" r="3.2" fill="#fcd41c"/>
<circle cx="3885.7" cy="1539.5" r="3.6" fill="#fcd41c"/>
<circle cx="3884.2" cy="1546.5" r="3.5" fill="#fcd41c"/>
<circle cx="3877.7" cy="1540.2" r="3.5" fill="#fcd41c"/>
<circle cx="3876.4" cy="1532.1" r="3.3" fill="#fcd41c"/>
<circle cx="3892.4" cy="1537.8" r="3.3" fill="#fcd41c"/>
<circle cx="3882.0" cy="1538.0" r="3.6" fill="#fcd41c"/>
<circle cx="3884.7" cy="1531.5" r="3.6" fill="#fcd41c"/>
<circle cx="3889.1" cy="1537.9" r="3.0" fill="#fcd41c"/>
<circle cx="3882.9" cy="1517.9" r="3.5" fill="#fcd41c"/>
<circle cx="3879.3" cy="1546.6" r="3.9" fill="#fcd41c"/>
<circle cx="3889.3" cy="1539.7" r="3.8" fill="#fcd41c"/>
<circle cx="3886.6" cy="1531.9" r="4.0" fill="#fcd41c"/>
<circle cx="3884.8" cy="1548.3" r="4.0" fill="#fcd41c"/>
<circle cx="3885.9" cy="1526.7" r="3.8" fill="#fcd41c"/>
<circle cx="3881.5" cy="1540.6" r="4.1" fill="#fcd41c"/>
<circle cx="3892.5" cy="1540.1" r="2.8" fill="#fcd41c"/>
<circle cx="3886.0" cy="1528.1" r="3.3" fill="#fcd41c"/>
<circle cx="3890.4" cy="1535.1" r="3.9" fill="#fcd41c"/>
<circle cx="3885.7" cy="1528.5" r="3.1" fill="#fcd41c"/>
<circle cx="3886.7" cy="1536.0" r="3.7" fill="#fcd41c"/>
<circle cx="3885.1" cy="1540.3" r="2.9" fill="#fcd41c"/>
<circle cx="3886.8" cy="1537.5" r="3.7" fill="#fcd41c"/>
<circle cx="3879.0" cy="1527.3" r="3.2" fill="#fcd41c"/>
<circle cx="3884.0" cy="1527.3" r="3.8" fill="#fcd41c"/>
<circle cx="3879.1" cy="1523.8" r="3.6" fill="#fcd41c"/>
<circle cx="3888.2" cy="1546.7" r="3.5" fill="#fcd41c"/>
<circle cx="3889.9" cy="1535.7" r="3.1" fill="#fcd41c"/>
<circle cx="3885.6" cy="1545.5" r="4.1" fill="#fcd41c"/>
<circle cx="3886.1" cy="1544.8" r="3.9" fill="#fcd41c"/>
<circle cx="3875.3" cy="1538.0" r="4.0" fill="#fcd41c"/>
<circle cx="4080.0" cy="1529.0" r="3.2" fill="#b04fd8"/>
<circle cx="4083.8" cy="1515.1" r="3.3" fill="#b04fd8"/>
<circle cx="4087.5" cy="1515.8" r="4.0" fill="#b04fd8"/>
<circle cx="4080.5" cy="1518.1" r="3.3" fill="#b04fd8"/>
<circle cx="4082.5" cy="1531.2" r="2.8" fill="#b04fd8"/>
<circle cx="4082.7" cy="1518.0" r="3.2" fill="#b04fd8"/>
<circle cx="4077.6" cy="1515.3" r="3.5" fill="#b04fd8"/>
<circle cx="4076.5" cy="1518.8" r="3.6" fill="#b04fd8"/>
<circle cx="4085.0" cy="1525.0" r="2.8" fill="#b04fd8"/>
<circle cx="4078.5" cy="1519.4" r="3.1" fill="#b04fd8"/>
<circle cx="4080.8" cy="1532.1" r="3.0" fill="#b04fd8"/>
<circle cx="4088.1" cy="1515.6" r="3.1" fill="#b04fd8"/>
<circle cx="4083.4" cy="1518.0" r="3.7" fill="#b04fd8"/>
<circle cx="4084.9" cy="1525.4" r="3.5" fill="#b04fd8"/>
<circle cx="4076.9" cy="1528.5" r="3.7" fill="#b04fd8"/>
<circle cx="4087.5" cy="1523.2" r="2.9" fill="#b04fd8"/>
<circle cx="4084.1" cy="1527.2" r="3.2" fill="#b04fd8"/>
<circle cx="4074.6" cy="1517.8" r="3.9" fill="#b04fd8"/>
<circle cx="4075.1" cy="1518.8" r="3.0" fill="#b04fd8"/>
<circle cx="4080.3" cy="1511.0" r="4.1" fill="#b04fd8"/>
<circle cx="4076.2" cy="1521.1" r="3.3" fill="#b04fd8"/>
<circle cx="4074.6" cy="1525.7" r="3.0" fill="#b04fd8"/>
<circle cx="4084.0" cy="1518.1" r="3.6" fill="#b04fd8"/>
<circle cx="4080.8" cy="1521.1" r="3.5" fill="#b04fd8"/>
<circle cx="4089.7" cy="1522.7" r="4.1" fill="#b04fd8"/>
<circle cx="4076.0" cy="1517.1" r="3.8" fill="#b04fd8"/>
<circle cx="4082.4" cy="1523.7" r="3.3" fill="#b04fd8"/>
<circle cx="4077.4" cy="1525.0" r="3.7" fill="#b04fd8"/>
<circle cx="4082.4" cy="1513.8" r="2.8" fill="#b04fd8"/>
<circle cx="4078.9" cy="1528.8" r="4.0" fill="#b04fd8"/>
<circle cx="4088.6" cy="1522.5" r="3.5" fill="#b04fd8"/>
<circle cx="4112.6" cy="1526.4" r="3.9" fill="#b04fd8"/>
<circle cx="4117.4" cy="1533.3" r="3.8" fill="#b04fd8"/>
<circle cx="4114.2" cy="1526.8" r="3.4" fill="#b04fd8"/>
<circle cx="4118.0" cy="1530.8" r="3.7" fill="#b04fd8"/>
<circle cx="4125.9" cy="1518.1" r="3.7" fill="#b04fd8"/>
<circle cx="4116.4" cy="1534.3" r="3.0" fill="#b04fd8"/>
<circle cx="4119.0" cy="1518.4" r="3.2" fill="#b04fd8"/>
<circle cx="4124.8" cy="1525.0" r="4.2" fill="#b04fd8"/>
<circle cx="4113.3" cy="1516.8" r="3.7" fill="#b04fd8"/>
<circle cx="4123.1" cy="1537.8" r="3.2" fill="#b04fd8"/>
<circle cx="4117.1" cy="1528.6" r="2.9" fill="#b04fd8"/>
<circle cx="4119.1" cy="1526.9" r="3.3" fill="#b04fd8"/>
<circle cx="4125.5" cy="1513.1" r="3.4" fill="#b04fd8"/>
<circle cx="4123.7" cy="1531.3" r="2.9" fill="#b04fd8"/>
<circle cx="4121.1" cy="1537.8" r="3.7" fill="#b04fd8"/>
<circle cx="4126.0" cy="1528.0" r="3.4" fill="#b04fd8"/>
<circle cx="4117.2" cy="1528.9" r="3.4" fill="#b04fd8"/>
<circle cx="4126.0" cy="1533.6" r="3.7" fill="#b04fd8"/>
<circle cx="4115.6" cy="1519.2" r="4.1" fill="#b04fd8"/>
<circle cx="4117.0" cy="1530.5" r="3.3" fill="#b04fd8"/>
<circle cx="4122.4" cy="1523.2" r="3.9" fill="#b04fd8"/>
<circle cx="4128.0" cy="1520.5" r="3.5" fill="#b04fd8"/>
<circle cx="4110.8" cy="1530.5" r="3.8" fill="#b04fd8"/>
<circle cx="4120.8" cy="1520.7" r="3.7" fill="#b04fd8"/>
<circle cx="4119.3" cy="1519.3" r="3.1" fill="#b04fd8"/>
<circle cx="4123.5" cy="1516.4" r="3.4" fill="#b04fd8"/>
<circle cx="4115.2" cy="1526.6" r="3.1" fill="#b04fd8"/>
<circle cx="4124.1" cy="1531.7" r="3.0" fill="#b04fd8"/>
<circle cx="4127.4" cy="1516.6" r="3.6" fill="#b04fd8"/>
<circle cx="4125.8" cy="1532.3" r="3.0" fill="#b04fd8"/>
<circle cx="4117.6" cy="1529.4" r="3.5" fill="#b04fd8"/>
<circle cx="4123.7" cy="1529.4" r="3.1" fill="#b04fd8"/>
<circle cx="4110.2" cy="1529.2" r="3.6" fill="#b04fd8"/>
<circle cx="4121.3" cy="1513.1" r="3.5" fill="#b04fd8"/>
<circle cx="4121.3" cy="1527.2" r="3.0" fill="#b04fd8"/>
<circle cx="4114.4" cy="1525.1" r="4.1" fill="#b04fd8"/>
<circle cx="4120.5" cy="1530.5" r="3.7" fill="#b04fd8"/>
<circle cx="4118.3" cy="1524.3" r="3.3" fill="#b04fd8"/>
<circle cx="4111.2" cy="1530.9" r="3.9" fill="#b04fd8"/>
<circle cx="4124.4" cy="1518.1" r="4.1" fill="#b04fd8"/>
<circle cx="4114.9" cy="1527.4" r="3.0" fill="#b04fd8"/>
<circle cx="4123.4" cy="1515.2" r="3.7" fill="#b04fd8"/>
<circle cx="4127.1" cy="1524.3" r="3.2" fill="#b04fd8"/>
<circle cx="4116.4" cy="1511.6" r="3.0" fill="#b04fd8"/>
<circle cx="4125.1" cy="1522.7" r="3.0" fill="#b04fd8"/>
<circle cx="4111.0" cy="1525.3" r="3.5" fill="#b04fd8"/>
<circle cx="4118.6" cy="1539.6" r="2.9" fill="#b04fd8"/>
<circle cx="3939.2" cy="1629.0" r="4.2" fill="#b04fd8"/>
<circle cx="3935.5" cy="1636.1" r="4.1" fill="#b04fd8"/>
<circle cx="3929.0" cy="1635.1" r="3.0" fill="#b04fd8"/>
<circle cx="3948.3" cy="1628.2" r="3.0" fill="#b04fd8"/>
<circle cx="3941.2" cy="1634.4" r="3.5" fill="#b04fd8"/>
<circle cx="3936.0" cy="1625.7" r="3.6" fill="#b04fd8"/>
<circle cx="3937.8" cy="1633.4" r="2.9" fill="#b04fd8"/>
<circle cx="3925.3" cy="1628.6" r="3.7" fill="#b04fd8"/>
<circle cx="3941.1" cy="1628.7" r="3.3" fill="#b04fd8"/>
<circle cx="3921.6" cy="1632.4" r="3.2" fill="#b04fd8"/>
<circle cx="3932.7" cy="1635.6" r="3.8" fill="#b04fd8"/>
<circle cx="3933.9" cy="1633.5" r="3.8" fill="#b04fd8"/>
<circle cx="3925.8" cy="1627.5" r="2.8" fill="#b04fd8"/>
<circle cx="3934.8" cy="1632.7" r="3.3" fill="#b04fd8"/>
<circle cx="3946.3" cy="1625.4" r="4.0" fill="#b04fd8"/>
<circle cx="3928.0" cy="1635.1" r="4.1" fill="#b04fd8"/>
<circle cx="3930.3" cy="1634.7" r="3.8" fill="#b04fd8"/>
<circle cx="3929.9" cy="1635.2" r="3.3" fill="#b04fd8"/>
<circle cx="3939.0" cy="1625.0" r="2.9" fill="#b04fd8"/>
<circle cx="3945.5" cy="1631.1" r="3.0" fill="#b04fd8"/>
<circle cx="3932.0" cy="1627.2" r="3.5" fill="#b04fd8"/>
<circle cx="3928.8" cy="1636.2" r="3.0" fill="#b04fd8"/>
<circle cx="3925.7" cy="1634.2" r="3.2" fill="#b04fd8"/>
<circle cx="3948.7" cy="1629.9" r="4.2" fill="#b04fd8"/>
<circle cx="3947.1" cy="1626.8" r="3.6" fill="#b04fd8"/>
<circle cx="3939.1" cy="1625.9" r="2.9" fill="#b04fd8"/>
<circle cx="3946.7" cy="1626.5" r="3.2" fill="#b04fd8"/>
<circle cx="3930.6" cy="1633.1" r="3.8" fill="#b04fd8"/>
<circle cx="3940.8" cy="1637.3" r="2.9" fill="#b04fd8"/>
<circle cx="3924.9" cy="1634.8" r="3.5" fill="#b04fd8"/>
<circle cx="3935.9" cy="1631.2" r="3.8" fill="#b04fd8"/>
<circle cx="3940.6" cy="1632.3" r="3.6" fill="#b04fd8"/>
<circle cx="3934.1" cy="1631.6" r="3.9" fill="#b04fd8"/>
<circle cx="3933.0" cy="1623.8" r="2.9" fill="#b04fd8"/>
<circle cx="3921.2" cy="1631.2" r="3.5" fill="#b04fd8"/>
<circle cx="3934.4" cy="1639.1" r="3.3" fill="#b04fd8"/>
<circle cx="3930.1" cy="1630.0" r="4.0" fill="#b04fd8"/>
<circle cx="3930.9" cy="1624.8" r="3.5" fill="#b04fd8"/>
<circle cx="3930.1" cy="1635.2" r="3.5" fill="#b04fd8"/>
<circle cx="3946.1" cy="1631.3" r="3.9" fill="#b04fd8"/>
<circle cx="3971.4" cy="1584.6" r="4.1" fill="#2ec02e"/>
<circle cx="3974.5" cy="1583.2" r="3.8" fill="#2ec02e"/>
<circle cx="3982.5" cy="1584.8" r="2.9" fill="#2ec02e"/>
<circle cx="3968.9" cy="1576.5" r="3.7" fill="#2ec02e"/>
<circle cx="3979.9" cy="1591.9" r="4.0" fill="#2ec02e"/>
<circle cx="3974.7" cy="1587.1" r="3.7" fill="#2ec02e"/>
<circle cx="3990.8" cy="1581.4" r="4.0" fill="#2ec02e"/>
<circle cx="3976.5" cy="1579.0" r="3.7" fill="#2ec02e"/>
<circle cx="3968.1" cy="1586.3" r="3.5" fill="#2ec02e"/>
<circle cx="3981.3" cy="1592.0" r="2.9" fill="#2ec02e"/>
<circle cx="3973.8" cy="1587.3" r="4.2" fill="#2ec02e"/>
<circle cx="3985.1" cy="1587.8" r="4.1" fill="#2ec02e"/>
<circle cx="3967.5" cy="1576.8" r="3.4" fill="#2ec02e"/>
<circle cx="3970.6" cy="1585.1" r="3.3" fill="#2ec02e"/>
<circle cx="3976.0" cy="1584.7" r="4.2" fill="#2ec02e"/>
<circle cx="3976.6" cy="1575.1" r="3.5" fill="#2ec02e"/>
<circle cx="3979.5" cy="1586.9" r="4.2" fill="#2ec02e"/>
<circle cx="3981.6" cy="1577.4" r="3.8" fill="#2ec02e"/>
<circle cx="3979.7" cy="1582.6" r="3.3" fill="#2ec02e"/>
<circle cx="3971.7" cy="1586.0" r="3.6" fill="#2ec02e"/>
<circle cx="3976.6" cy="1585.7" r="4.0" fill="#2ec02e"/>
<circle cx="3966.8" cy="1587.0" r="3.0" fill="#2ec02e"/>
<circle cx="3974.5" cy="1589.1" r="2.9" fill="#2ec02e"/>
<circle cx="3973.4" cy="1584.8" r="3.4" fill="#2ec02e"/>
<circle cx="3974.5" cy="1591.3" r="3.5" fill="#2ec02e"/>
<circle cx="3977.6" cy="1590.3" r="3.5" fill="#2ec02e"/>
<circle cx="3979.8" cy="1591.5" r="3.6" fill="#2ec02e"/>
<circle cx="3987.4" cy="1583.6" r="3.4" fill="#2ec02e"/>
<circle cx="3989.5" cy="1588.1" r="3.7" fill="#2ec02e"/>
<circle cx="3986.7" cy="1582.7" r="3.4" fill="#2ec02e"/>
<circle cx="3983.7" cy="1589.5" r="3.5" fill="#2ec02e"/>
<circle cx="3983.1" cy="1591.2" r="3.6" fill="#2ec02e"/>
<circle cx="3989.6" cy="1588.1" r="3.4" fill="#2ec02e"/>
<circle cx="3985.0" cy="1580.3" r="2.9" fill="#2ec02e"/>
<circle cx="3969.9" cy="1581.2" r="3.9" fill="#2ec02e"/>
<circle cx="3970.0" cy="1583.2" r="3.4" fill="#2ec02e"/>
<circle cx="3966.2" cy="1583.9" r="3.9" fill="#2ec02e"/>
<circle cx="3974.3" cy="1584.9" r="2.8" fill="#2ec02e"/>
<circle cx="3973.0" cy="1580.5" r="4.0" fill="#2ec02e"/>
<circle cx="3965.6" cy="1587.5" r="2.9" fill="#2ec02e"/>
<circle cx="3979.7" cy="1580.6" r="3.1" fill="#2ec02e"/>
<circle cx="3972.2" cy="1585.5" r="3.4" fill="#2ec02e"/>
<circle cx="3967.2" cy="1582.8" r="2.8" fill="#2ec02e"/>
<circle cx="4006.5" cy="1635.6" r="3.4" fill="#2ec02e"/>
<circle cx="4024.7" cy="1633.4" r="4.2" fill="#2ec02e"/>
<circle cx="4017.5" cy="1622.2" r="3.9" fill="#2ec02e"/>
<circle cx="4028.9" cy="1645.8" r="3.7" fill="#2ec02e"/>
<circle cx="4035.1" cy="1644.2" r="3.4" fill="#2ec02e"/>
<circle cx="4022.1" cy="1630.9" r="3.8" fill="#2ec02e"/>
<circle cx="4027.2" cy="1634.1" r="2.9" fill="#2ec02e"/>
<circle cx="4038.4" cy="1636.9" r="3.1" fill="#2ec02e"/>
<circle cx="4029.4" cy="1645.7" r="3.9" fill="#2ec02e"/>
<circle cx="4016.0" cy="1637.3" r="3.8" fill="#2ec02e"/>
<circle cx="4011.7" cy="1631.7" r="3.2" fill="#2ec02e"/>
<circle cx="4013.6" cy="1640.8" r="3.1" fill="#2ec02e"/>
<circle cx="4036.9" cy="1634.1" r="3.1" fill="#2ec02e"/>
<circle cx="4032.6" cy="1636.3" r="3.7" fill="#2ec02e"/>
<circle cx="4024.3" cy="1632.5" r="3.9" fill="#2ec02e"/>
<circle cx="4016.4" cy="1646.1" r="4.0" fill="#2ec02e"/>
<circle cx="4017.9" cy="1644.2" r="3.6" fill="#2ec02e"/>
<circle cx="4024.7" cy="1647.6" r="3.7" fill="#2ec02e"/>
<circle cx="4029.6" cy="1632.6" r="3.2" fill="#2ec02e"/>
<circle cx="4032.4" cy="1630.8" r="3.3" fill="#2ec02e"/>
<circle cx="4020.1" cy="1646.4" r="3.2" fill="#2ec02e"/>
<circle cx="4027.1" cy="1636.7" r="4.1" fill="#2ec02e"/>
<circle cx="4030.1" cy="1635.7" r="3.3" fill="#2ec02e"/>
<circle cx="4004.7" cy="1629.3" r="4.2" fill="#2ec02e"/>
<circle cx="4005.9" cy="1635.9" r="3.2" fill="#2ec02e"/>
<circle cx="4020.0" cy="1633.8" r="3.8" fill="#2ec02e"/>
<circle cx="4006.1" cy="1631.6" r="4.0" fill="#2ec02e"/>
<circle cx="4032.6" cy="1621.6" r="3.8" fill="#2ec02e"/>
<circle cx="4031.7" cy="1638.6" r="3.7" fill="#2ec02e"/>
<circle cx="4031.7" cy="1639.7" r="3.3" fill="#2ec02e"/>
<circle cx="4031.5" cy="1640.3" r="3.8" fill="#2ec02e"/>
<circle cx="4038.5" cy="1629.3" r="3.7" fill="#2ec02e"/>
<circle cx="4033.3" cy="1646.2" r="3.9" fill="#2ec02e"/>
<circle cx="4018.0" cy="1625.6" r="3.6" fill="#2ec02e"/>
<circle cx="4032.2" cy="1637.4" r="2.8" fill="#2ec02e"/>
<circle cx="4034.9" cy="1633.5" r="3.7" fill="#2ec02e"/>
<circle cx="4023.3" cy="1625.1" r="4.2" fill="#2ec02e"/>
<circle cx="4037.2" cy="1632.9" r="2.9" fill="#2ec02e"/>
<circle cx="4026.1" cy="1624.8" r="2.8" fill="#2ec02e"/>
<circle cx="4020.6" cy="1623.8" r="4.2" fill="#2ec02e"/>
<circle cx="4012.5" cy="1629.3" r="3.0" fill="#2ec02e"/>
<circle cx="4032.6" cy="1643.9" r="4.0" fill="#2ec02e"/>
<circle cx="4013.8" cy="1642.0" r="3.1" fill="#2ec02e"/>
<circle cx="4032.0" cy="1634.1" r="3.0" fill="#2ec02e"/>
<circle cx="4025.2" cy="1631.1" r="3.1" fill="#2ec02e"/>
<circle cx="4004.6" cy="1640.3" r="3.2" fill="#2ec02e"/>
<circle cx="4015.9" cy="1645.0" r="3.5" fill="#2ec02e"/>
<circle cx="4035.6" cy="1629.1" r="3.2" fill="#2ec02e"/>
<circle cx="4036.0" cy="1627.6" r="3.4" fill="#2ec02e"/>
<circle cx="4028.4" cy="1627.7" r="3.1" fill="#2ec02e"/>
<circle cx="4025.6" cy="1640.0" r="3.9" fill="#2ec02e"/>
<circle cx="4025.9" cy="1629.5" r="2.8" fill="#2ec02e"/>
<circle cx="4023.5" cy="1634.8" r="3.6" fill="#2ec02e"/>
<circle cx="4014.8" cy="1643.3" r="3.0" fill="#2ec02e"/>
<circle cx="4012.6" cy="1624.2" r="3.2" fill="#2ec02e"/>
<circle cx="4033.1" cy="1632.9" r="4.2" fill="#2ec02e"/>
<circle cx="4043.6" cy="1632.5" r="3.4" fill="#2ec02e"/>
<circle cx="4030.7" cy="1621.5" r="3.3" fill="#2ec02e"/>
<circle cx="4024.2" cy="1626.6" r="3.2" fill="#2ec02e"/>
<circle cx="4036.9" cy="1626.8" r="3.9" fill="#2ec02e"/>
<circle cx="4034.7" cy="1637.7" r="2.9" fill="#2ec02e"/>
<circle cx="4007.6" cy="1633.4" r="3.3" fill="#2ec02e"/>
<circle cx="4009.8" cy="1635.9" r="2.8" fill="#2ec02e"/>
<circle cx="4008.9" cy="1641.5" r="3.5" fill="#2ec02e"/>
<circle cx="4031.5" cy="1634.3" r="3.1" fill="#2ec02e"/>
<circle cx="4035.3" cy="1635.2" r="3.1" fill="#2ec02e"/>
<circle cx="4005.9" cy="1638.3" r="4.2" fill="#2ec02e"/>
<circle cx="4016.4" cy="1632.6" r="4.1" fill="#2ec02e"/>
<circle cx="4039.8" cy="1628.5" r="3.1" fill="#2ec02e"/>
<circle cx="4013.6" cy="1633.1" r="3.7" fill="#2ec02e"/>
<circle cx="4037.8" cy="1627.7" r="3.5" fill="#2ec02e"/>
<circle cx="4020.8" cy="1629.4" r="3.4" fill="#2ec02e"/>
<circle cx="4026.9" cy="1634.9" r="2.9" fill="#2ec02e"/>
<circle cx="4013.6" cy="1636.6" r="3.9" fill="#2ec02e"/>
<circle cx="4028.9" cy="1642.4" r="3.5" fill="#2ec02e"/>
<circle cx="4018.1" cy="1640.2" r="3.3" fill="#2ec02e"/>
<circle cx="4008.6" cy="1624.9" r="3.4" fill="#2ec02e"/>
<circle cx="4029.4" cy="1633.5" r="3.8" fill="#2ec02e"/>
<circle cx="4008.5" cy="1627.1" r="2.9" fill="#2ec02e"/>
<circle cx="4023.6" cy="1634.3" r="3.1" fill="#2ec02e"/>
<circle cx="4031.3" cy="1567.8" r="4.0" fill="#ff4a10"/>
<circle cx="4023.0" cy="1567.7" r="3.6" fill="#ff4a10"/>
<circle cx="4031.4" cy="1576.0" r="4.1" fill="#ff4a10"/>
<circle cx="4068.9" cy="1569.2" r="3.2" fill="#ff4a10"/>
<circle cx="4030.9" cy="1550.5" r="2.9" fill="#ff4a10"/>
<circle cx="4064.6" cy="1571.9" r="4.0" fill="#ff4a10"/>
<circle cx="4055.5" cy="1546.0" r="3.0" fill="#ff4a10"/>
<circle cx="4030.7" cy="1574.6" r="3.3" fill="#ff4a10"/>
<circle cx="4050.2" cy="1581.9" r="3.7" fill="#ff4a10"/>
<circle cx="4027.5" cy="1570.7" r="3.8" fill="#ff4a10"/>
<circle cx="4047.8" cy="1545.8" r="3.3" fill="#ff4a10"/>
<circle cx="4076.0" cy="1559.6" r="3.2" fill="#ff4a10"/>
<circle cx="4056.2" cy="1573.6" r="3.2" fill="#ff4a10"/>
<circle cx="4047.6" cy="1562.2" r="3.9" fill="#ff4a10"/>
<circle cx="4062.7" cy="1578.0" r="3.4" fill="#ff4a10"/>
<circle cx="4070.1" cy="1577.6" r="3.4" fill="#ff4a10"/>
<circle cx="4064.1" cy="1561.6" r="3.1" fill="#ff4a10"/>
<circle cx="4033.3" cy="1560.5" r="3.6" fill="#ff4a10"/>
<circle cx="4038.7" cy="1548.2" r="2.8" fill="#ff4a10"/>
<circle cx="4037.9" cy="1555.1" r="3.4" fill="#ff4a10"/>
<circle cx="4066.7" cy="1548.7" r="3.0" fill="#ff4a10"/>
<circle cx="4071.5" cy="1572.2" r="3.4" fill="#ff4a10"/>
<circle cx="4038.7" cy="1548.1" r="4.2" fill="#ff4a10"/>
<circle cx="4068.9" cy="1547.6" r="4.1" fill="#ff4a10"/>
<circle cx="4026.9" cy="1558.1" r="3.0" fill="#ff4a10"/>
<circle cx="4058.6" cy="1552.0" r="3.5" fill="#ff4a10"/>
<circle cx="4041.0" cy="1572.9" r="3.5" fill="#ff4a10"/>
<circle cx="4034.9" cy="1555.3" r="3.0" fill="#ff4a10"/>
<circle cx="4017.2" cy="1552.1" r="3.6" fill="#ff4a10"/>
<circle cx="4058.8" cy="1562.0" r="3.9" fill="#ff4a10"/>
<circle cx="4041.6" cy="1562.4" r="3.0" fill="#ff4a10"/>
<circle cx="4040.2" cy="1545.6" r="3.0" fill="#ff4a10"/>
<circle cx="4032.3" cy="1546.0" r="3.1" fill="#ff4a10"/>
<circle cx="4051.6" cy="1557.2" r="3.0" fill="#ff4a10"/>
<circle cx="4055.6" cy="1545.2" r="3.8" fill="#ff4a10"/>
<circle cx="4018.0" cy="1562.8" r="3.6" fill="#ff4a10"/>
<circle cx="4019.0" cy="1551.1" r="3.5" fill="#ff4a10"/>
<circle cx="4044.1" cy="1571.0" r="3.5" fill="#ff4a10"/>
<circle cx="4047.4" cy="1551.7" r="3.2" fill="#ff4a10"/>
<circle cx="4061.7" cy="1576.9" r="2.8" fill="#ff4a10"/>
<circle cx="4038.3" cy="1568.2" r="3.8" fill="#ff4a10"/>
<circle cx="4043.9" cy="1547.1" r="2.9" fill="#ff4a10"/>
<circle cx="4044.3" cy="1572.2" r="4.1" fill="#ff4a10"/>
<circle cx="4074.6" cy="1556.4" r="3.6" fill="#ff4a10"/>
<circle cx="4023.2" cy="1570.1" r="3.6" fill="#ff4a10"/>
<circle cx="4036.2" cy="1568.5" r="2.9" fill="#ff4a10"/>
<circle cx="4045.2" cy="1569.6" r="3.8" fill="#ff4a10"/>
<circle cx="4050.3" cy="1556.8" r="4.0" fill="#ff4a10"/>
<circle cx="4048.0" cy="1552.1" r="3.8" fill="#ff4a10"/>
<circle cx="4018.1" cy="1564.1" r="3.8" fill="#ff4a10"/>
<circle cx="4068.9" cy="1556.3" r="3.1" fill="#ff4a10"/>
<circle cx="4029.1" cy="1550.6" r="3.5" fill="#ff4a10"/>
<circle cx="4022.4" cy="1578.1" r="4.1" fill="#ff4a10"/>
<circle cx="4047.9" cy="1550.0" r="3.7" fill="#ff4a10"/>
<circle cx="4048.6" cy="1566.1" r="3.1" fill="#ff4a10"/>
<circle cx="4019.4" cy="1550.2" r="3.9" fill="#ff4a10"/>
<circle cx="4040.7" cy="1559.2" r="4.0" fill="#ff4a10"/>
<circle cx="4059.0" cy="1565.4" r="3.6" fill="#ff4a10"/>
<circle cx="4047.8" cy="1559.5" r="3.9" fill="#ff4a10"/>
<circle cx="4028.8" cy="1550.8" r="3.6" fill="#ff4a10"/>
<circle cx="4077.9" cy="1559.6" r="2.8" fill="#ff4a10"/>
<circle cx="4069.9" cy="1555.0" r="4.2" fill="#ff4a10"/>
<circle cx="4066.0" cy="1559.3" r="3.0" fill="#ff4a10"/>
<circle cx="4049.9" cy="1562.6" r="3.0" fill="#ff4a10"/>
<circle cx="4053.6" cy="1580.1" r="3.0" fill="#ff4a10"/>
<circle cx="4034.9" cy="1557.4" r="3.7" fill="#ff4a10"/>
<circle cx="4018.2" cy="1571.5" r="3.6" fill="#ff4a10"/>
<circle cx="4055.0" cy="1562.1" r="3.0" fill="#ff4a10"/>
<circle cx="4018.4" cy="1554.0" r="4.1" fill="#ff4a10"/>
<circle cx="4072.3" cy="1576.1" r="3.4" fill="#ff4a10"/>
<circle cx="4049.3" cy="1562.0" r="3.3" fill="#ff4a10"/>
<circle cx="4017.9" cy="1556.8" r="3.9" fill="#ff4a10"/>
<circle cx="4064.1" cy="1572.9" r="3.0" fill="#ff4a10"/>
<circle cx="4043.7" cy="1558.9" r="4.1" fill="#ff4a10"/>
<circle cx="4022.6" cy="1568.4" r="3.7" fill="#ff4a10"/>
<circle cx="4075.8" cy="1572.0" r="3.6" fill="#ff4a10"/>
<circle cx="4016.2" cy="1564.1" r="3.4" fill="#ff4a10"/>
<circle cx="4049.8" cy="1562.2" r="2.9" fill="#ff4a10"/>
<circle cx="4025.1" cy="1551.0" r="3.8" fill="#ff4a10"/>
<circle cx="4058.5" cy="1566.0" r="3.1" fill="#ff4a10"/>
<circle cx="4064.5" cy="1552.2" r="3.2" fill="#ff4a10"/>
<circle cx="4044.2" cy="1578.7" r="3.3" fill="#ff4a10"/>
<circle cx="4042.6" cy="1578.9" r="3.1" fill="#ff4a10"/>
<circle cx="4039.2" cy="1568.9" r="3.2" fill="#ff4a10"/>
<circle cx="4043.8" cy="1557.8" r="3.3" fill="#ff4a10"/>
<circle cx="4027.6" cy="1570.0" r="3.4" fill="#ff4a10"/>
<circle cx="4038.8" cy="1572.7" r="4.0" fill="#ff4a10"/>
<circle cx="4029.4" cy="1569.1" r="3.2" fill="#ff4a10"/>
<circle cx="4028.3" cy="1551.3" r="4.1" fill="#ff4a10"/>
<circle cx="4069.3" cy="1556.0" r="3.9" fill="#ff4a10"/>
<circle cx="4069.4" cy="1565.5" r="3.6" fill="#ff4a10"/>
<circle cx="4036.4" cy="1581.4" r="3.7" fill="#ff4a10"/>
<circle cx="4067.5" cy="1571.6" r="3.1" fill="#ff4a10"/>
<circle cx="4046.2" cy="1568.3" r="3.6" fill="#ff4a10"/>
<circle cx="4061.0" cy="1570.5" r="3.8" fill="#ff4a10"/>
<circle cx="4052.4" cy="1555.5" r="3.5" fill="#ff4a10"/>
<circle cx="4046.0" cy="1560.2" r="3.5" fill="#ff4a10"/>
<circle cx="4024.6" cy="1551.5" r="3.7" fill="#ff4a10"/>
<circle cx="4024.3" cy="1567.2" r="3.6" fill="#ff4a10"/>
<circle cx="4039.1" cy="1564.1" r="3.5" fill="#ff4a10"/>
<circle cx="4020.2" cy="1561.7" r="3.8" fill="#ff4a10"/>
<circle cx="4066.5" cy="1568.0" r="3.2" fill="#ff4a10"/>
<circle cx="4016.7" cy="1563.9" r="3.7" fill="#ff4a10"/>
<circle cx="4055.6" cy="1578.9" r="4.1" fill="#ff4a10"/>
<circle cx="4029.1" cy="1566.1" r="4.0" fill="#ff4a10"/>
<circle cx="4022.8" cy="1567.6" r="3.3" fill="#ff4a10"/>
<circle cx="4035.1" cy="1556.6" r="3.1" fill="#ff4a10"/>
<circle cx="4062.3" cy="1554.9" r="3.9" fill="#ff4a10"/>
<circle cx="4059.5" cy="1571.8" r="3.3" fill="#ff4a10"/>
<circle cx="4041.3" cy="1574.8" r="3.8" fill="#ff4a10"/>
<circle cx="4057.6" cy="1554.1" r="4.0" fill="#ff4a10"/>
<circle cx="4072.4" cy="1553.4" r="3.9" fill="#ff4a10"/>
<circle cx="4023.2" cy="1575.7" r="2.8" fill="#ff4a10"/>
<circle cx="4029.8" cy="1552.4" r="3.0" fill="#ff4a10"/>
<circle cx="4041.5" cy="1564.7" r="2.9" fill="#ff4a10"/>
<circle cx="4050.9" cy="1567.9" r="4.0" fill="#ff4a10"/>
<circle cx="4043.6" cy="1580.5" r="3.4" fill="#ff4a10"/>
<circle cx="4030.0" cy="1547.5" r="2.9" fill="#ff4a10"/>
<circle cx="4065.1" cy="1566.5" r="3.6" fill="#ff4a10"/>
<circle cx="4043.4" cy="1559.1" r="4.0" fill="#ff4a10"/>
<circle cx="4069.1" cy="1570.4" r="2.8" fill="#ff4a10"/>
<circle cx="4037.0" cy="1544.1" r="3.1" fill="#ff4a10"/>
<circle cx="4014.7" cy="1559.5" r="2.9" fill="#ff4a10"/>
<circle cx="4053.7" cy="1570.6" r="3.3" fill="#ff4a10"/>
<circle cx="4021.9" cy="1562.4" r="3.1" fill="#ff4a10"/>
<circle cx="4035.7" cy="1567.3" r="3.7" fill="#ff4a10"/>
<circle cx="4057.9" cy="1550.4" r="2.9" fill="#ff4a10"/>
<circle cx="4069.6" cy="1565.3" r="3.0" fill="#ff4a10"/>
<circle cx="4052.0" cy="1571.9" r="3.4" fill="#ff4a10"/>
<circle cx="4031.3" cy="1565.2" r="3.4" fill="#ff4a10"/>
<circle cx="4030.4" cy="1578.4" r="3.2" fill="#ff4a10"/>
<circle cx="4071.3" cy="1574.9" r="2.9" fill="#ff4a10"/>
<circle cx="4077.5" cy="1570.2" r="2.9" fill="#ff4a10"/>
<circle cx="4056.6" cy="1562.0" r="3.3" fill="#ff4a10"/>
<circle cx="4024.6" cy="1552.4" r="3.8" fill="#ff4a10"/>
<circle cx="4029.3" cy="1556.9" r="3.3" fill="#ff4a10"/>
<circle cx="4013.6" cy="1560.7" r="3.0" fill="#ff4a10"/>
<circle cx="4018.1" cy="1552.3" r="3.7" fill="#ff4a10"/>
<circle cx="4027.4" cy="1558.0" r="3.7" fill="#ff4a10"/>
<circle cx="4071.7" cy="1561.3" r="3.7" fill="#ff4a10"/>
<circle cx="4051.7" cy="1566.9" r="4.1" fill="#ff4a10"/>
<circle cx="4059.5" cy="1575.0" r="3.5" fill="#ff4a10"/>
<circle cx="4069.5" cy="1557.1" r="3.1" fill="#ff4a10"/>
<circle cx="4056.2" cy="1573.1" r="3.9" fill="#ff4a10"/>
<circle cx="4052.2" cy="1543.7" r="2.9" fill="#ff4a10"/>
<circle cx="4045.8" cy="1555.2" r="3.1" fill="#ff4a10"/>
<circle cx="4041.8" cy="1570.2" r="4.0" fill="#ff4a10"/>
<circle cx="4026.6" cy="1564.5" r="2.8" fill="#ff4a10"/>
<circle cx="4048.9" cy="1556.6" r="4.1" fill="#ff4a10"/>
<circle cx="4063.1" cy="1575.2" r="3.7" fill="#ff4a10"/>
<circle cx="4078.4" cy="1554.8" r="4.2" fill="#ff4a10"/>
<circle cx="4030.1" cy="1549.9" r="4.2" fill="#ff4a10"/>
<circle cx="4066.7" cy="1574.2" r="3.9" fill="#ff4a10"/>
<circle cx="4013.9" cy="1559.5" r="3.7" fill="#ff4a10"/>
<circle cx="4030.7" cy="1571.1" r="4.1" fill="#ff4a10"/>
<circle cx="4035.0" cy="1544.2" r="4.0" fill="#ff4a10"/>
<circle cx="4016.9" cy="1567.5" r="3.1" fill="#ff4a10"/>
<circle cx="4074.5" cy="1555.5" r="3.7" fill="#ff4a10"/>
<circle cx="4051.9" cy="1556.4" r="2.9" fill="#ff4a10"/>
<circle cx="4069.3" cy="1552.5" r="3.1" fill="#ff4a10"/>
<circle cx="4051.8" cy="1570.2" r="2.8" fill="#ff4a10"/>
<circle cx="4079.6" cy="1558.8" r="2.9" fill="#ff4a10"/>
<circle cx="4053.7" cy="1576.4" r="4.0" fill="#ff4a10"/>
<circle cx="4046.0" cy="1578.9" r="3.0" fill="#ff4a10"/>
<circle cx="4080.5" cy="1557.7" r="4.2" fill="#ff4a10"/>
<circle cx="4077.1" cy="1559.3" r="3.0" fill="#ff4a10"/>
<circle cx="4038.2" cy="1555.8" r="3.0" fill="#ff4a10"/>
<circle cx="4033.9" cy="1554.3" r="3.4" fill="#ff4a10"/>
<circle cx="4073.5" cy="1570.7" r="3.8" fill="#ff4a10"/>
<circle cx="4067.9" cy="1553.9" r="2.8" fill="#ff4a10"/>
<circle cx="4064.6" cy="1549.5" r="4.1" fill="#ff4a10"/>
<circle cx="4053.7" cy="1571.2" r="3.7" fill="#ff4a10"/>
<ellipse cx="4045.0" cy="1564.5" rx="46.0" ry="26.0" fill="none" stroke="#111" stroke-width="1.5" stroke-dasharray="5 3" transform="rotate(15 4045 1564.5)"/>
<rect x="3864.0" y="1683.4" width="288.8" height="33.6" fill="#fff" stroke="#222" stroke-width="1.5" rx="7"/>
<rect x="3877.0" y="1686.9" width="10.5" height="10.5" fill="#b04fd8"/>
<text x="3892.0" y="1696.7" font-size="12" class="s">Part 1</text>
<rect x="3945.7" y="1686.9" width="10.5" height="10.5" fill="#2ec02e"/>
<text x="3960.7" y="1696.7" font-size="12" class="s">Part 3</text>
<rect x="4014.5" y="1686.9" width="10.5" height="10.5" fill="#ff4a10"/>
<text x="4029.5" y="1696.7" font-size="12" class="s">Part 5</text>
<rect x="3877.0" y="1702.4" width="10.5" height="10.5" fill="#f29a1a"/>
<text x="3892.0" y="1712.2" font-size="12" class="s">Part 2</text>
<rect x="3945.7" y="1702.4" width="10.5" height="10.5" fill="#fcd41c"/>
<text x="3960.7" y="1712.2" font-size="12" class="s">Part 4</text>
<rect x="4014.5" y="1702.4" width="10.5" height="10.5" fill="#6496f0"/>
<text x="4029.5" y="1712.2" font-size="12" class="s">Part 6</text>
<text x="4088.2" y="1696.9" font-size="13" class="s" text-anchor="middle">☆</text>
<text x="4088.2" y="1712.4" font-size="10.5" class="s" text-anchor="middle">⚄</text>
<text x="4099.2" y="1696.7" font-size="12" class="s">ID 6</text>
<text x="4099.2" y="1712.2" font-size="12" class="s">ID 229</text>
<rect x="3542.0" y="1398.0" width="35.0" height="75.0" fill="url(#g122)"/>
<g clip-path="url(#c123)">
<g opacity="1.0" filter="url(#b1_2)">
<rect x="3551.4" y="1437.0" width="7.0" height="32.2" fill="#2a2a2a" rx="1.75"/>
<rect x="3560.6" y="1437.0" width="7.0" height="32.2" fill="#2a2a2a" rx="1.75"/>
<rect x="3545.5" y="1413.0" width="4.5" height="26.3" fill="#2a2a30" rx="2.1"/>
<rect x="3568.9" y="1413.0" width="4.5" height="26.3" fill="#2a2a30" rx="2.1"/>
<rect x="3549.3" y="1411.5" width="20.3" height="27.8" fill="#2a2a30" rx="3.5"/>
<ellipse cx="3559.5" cy="1405.5" rx="4.5" ry="5.3" fill="#3a3030"/>
</g>
</g>
<rect x="3585.0" y="1398.0" width="35.8" height="75.0" fill="#2e2e7e"/>
<g filter="url(#b1_2)">
<ellipse cx="3602.9" cy="1405.5" rx="5.4" ry="4.5" fill="#1c1c5a"/>
<rect x="3592.2" y="1410.0" width="21.5" height="60.0" fill="#1c1c5a" rx="4"/>
</g>
<ellipse cx="3609.3" cy="1431.8" rx="13.6" ry="6.0" fill="url(#g75)"/>
<rect x="3585.0" y="1398.0" width="35.8" height="75.0" fill="none" stroke="#b04fe0" stroke-width="2"/>
<rect x="3625.7" y="1398.0" width="35.8" height="75.0" fill="#2e2e7e"/>
<g filter="url(#b1_2)">
<ellipse cx="3643.6" cy="1405.5" rx="5.4" ry="4.5" fill="#1c1c5a"/>
<rect x="3632.9" y="1410.0" width="21.5" height="60.0" fill="#1c1c5a" rx="4"/>
</g>
<ellipse cx="3645.8" cy="1443.0" rx="13.6" ry="6.0" fill="url(#g75)"/>
<rect x="3625.7" y="1398.0" width="35.8" height="75.0" fill="none" stroke="#f2a01a" stroke-width="2"/>
<rect x="3666.0" y="1398.0" width="35.8" height="75.0" fill="#2e2e7e"/>
<g filter="url(#b1_2)">
<ellipse cx="3683.9" cy="1405.5" rx="5.4" ry="4.5" fill="#1c1c5a"/>
<rect x="3673.2" y="1410.0" width="21.5" height="60.0" fill="#1c1c5a" rx="4"/>
</g>
<ellipse cx="3688.5" cy="1407.0" rx="13.6" ry="6.0" fill="url(#g75)"/>
<rect x="3666.0" y="1398.0" width="35.8" height="75.0" fill="none" stroke="#2ec02e" stroke-width="2"/>
<rect x="3707.0" y="1398.0" width="35.8" height="75.0" fill="#2e2e7e"/>
<g filter="url(#b1_2)">
<ellipse cx="3724.9" cy="1405.5" rx="5.4" ry="4.5" fill="#1c1c5a"/>
<rect x="3714.2" y="1410.0" width="21.5" height="60.0" fill="#1c1c5a" rx="4"/>
</g>
<ellipse cx="3723.0" cy="1407.0" rx="13.6" ry="6.0" fill="url(#g75)"/>
<rect x="3707.0" y="1398.0" width="35.8" height="75.0" fill="none" stroke="#fcd41c" stroke-width="2"/>
<rect x="3746.2" y="1398.0" width="35.8" height="75.0" fill="#2e2e7e"/>
<g filter="url(#b1_2)">
<ellipse cx="3764.1" cy="1405.5" rx="5.4" ry="4.5" fill="#1c1c5a"/>
<rect x="3753.4" y="1410.0" width="21.5" height="60.0" fill="#1c1c5a" rx="4"/>
</g>
<ellipse cx="3770.0" cy="1407.0" rx="13.6" ry="6.0" fill="url(#g75)"/>
<rect x="3746.2" y="1398.0" width="35.8" height="75.0" fill="none" stroke="#ff4a10" stroke-width="2"/>
<rect x="3787.0" y="1398.0" width="35.8" height="75.0" fill="#2e2e7e"/>
<g filter="url(#b1_2)">
<ellipse cx="3804.9" cy="1405.5" rx="5.4" ry="4.5" fill="#1c1c5a"/>
<rect x="3794.2" y="1410.0" width="21.5" height="60.0" fill="#1c1c5a" rx="4"/>
</g>
<ellipse cx="3798.3" cy="1420.5" rx="13.6" ry="6.0" fill="url(#g75)"/>
<rect x="3787.0" y="1398.0" width="35.8" height="75.0" fill="none" stroke="#6496f0" stroke-width="2"/>
<rect x="3542.0" y="1477.0" width="35.0" height="75.0" fill="url(#g124)"/>
<g clip-path="url(#c125)">
<g opacity="1.0" filter="url(#b1_2)">
<rect x="3551.4" y="1516.0" width="7.0" height="32.2" fill="#c8c8c8" rx="1.75"/>
<rect x="3560.6" y="1516.0" width="7.0" height="32.2" fill="#c8c8c8" rx="1.75"/>
<rect x="3545.5" y="1492.0" width="4.5" height="26.3" fill="#e8e8e8" rx="2.1"/>
<rect x="3568.9" y="1492.0" width="4.5" height="26.3" fill="#e8e8e8" rx="2.1"/>
<rect x="3549.3" y="1490.5" width="20.3" height="27.8" fill="#e8e8e8" rx="3.5"/>
<ellipse cx="3559.5" cy="1484.5" rx="4.5" ry="5.3" fill="#505050"/>
</g>
</g>
<rect x="3585.0" y="1477.0" width="35.8" height="75.0" fill="#303082"/>
<g filter="url(#b1_2)">
<ellipse cx="3602.9" cy="1484.5" rx="5.4" ry="4.5" fill="#6a6aac"/>
<rect x="3592.2" y="1489.0" width="21.5" height="60.0" fill="#6a6aac" rx="4"/>
</g>
<ellipse cx="3601.7" cy="1522.0" rx="13.6" ry="6.0" fill="url(#g75)"/>
<rect x="3585.0" y="1477.0" width="35.8" height="75.0" fill="none" stroke="#b04fe0" stroke-width="2"/>
<rect x="3625.7" y="1477.0" width="35.8" height="75.0" fill="#303082"/>
<g filter="url(#b1_2)">
<ellipse cx="3643.6" cy="1484.5" rx="5.4" ry="4.5" fill="#6a6aac"/>
<rect x="3632.9" y="1489.0" width="21.5" height="60.0" fill="#6a6aac" rx="4"/>
</g>
<ellipse cx="3637.7" cy="1499.5" rx="13.6" ry="6.0" fill="url(#g75)"/>
<rect x="3625.7" y="1477.0" width="35.8" height="75.0" fill="none" stroke="#f2a01a" stroke-width="2"/>
<rect x="3666.0" y="1477.0" width="35.8" height="75.0" fill="#303082"/>
<g filter="url(#b1_2)">
<ellipse cx="3683.9" cy="1484.5" rx="5.4" ry="4.5" fill="#6a6aac"/>
<rect x="3673.2" y="1489.0" width="21.5" height="60.0" fill="#6a6aac" rx="4"/>
</g>
<ellipse cx="3677.6" cy="1522.0" rx="13.6" ry="6.0" fill="url(#g75)"/>
<rect x="3666.0" y="1477.0" width="35.8" height="75.0" fill="none" stroke="#2ec02e" stroke-width="2"/>
<rect x="3707.0" y="1477.0" width="35.8" height="75.0" fill="#303082"/>
<g filter="url(#b1_2)">
<ellipse cx="3724.9" cy="1484.5" rx="5.4" ry="4.5" fill="#6a6aac"/>
<rect x="3714.2" y="1489.0" width="21.5" height="60.0" fill="#6a6aac" rx="4"/>
</g>
<ellipse cx="3719.5" cy="1533.2" rx="13.6" ry="6.0" fill="url(#g75)"/>
<rect x="3707.0" y="1477.0" width="35.8" height="75.0" fill="none" stroke="#fcd41c" stroke-width="2"/>
<rect x="3746.2" y="1477.0" width="35.8" height="75.0" fill="#303082"/>
<g filter="url(#b1_2)">
<ellipse cx="3764.1" cy="1484.5" rx="5.4" ry="4.5" fill="#6a6aac"/>
<rect x="3753.4" y="1489.0" width="21.5" height="60.0" fill="#6a6aac" rx="4"/>
</g>
<ellipse cx="3766.0" cy="1499.5" rx="13.6" ry="6.0" fill="url(#g75)"/>
<rect x="3746.2" y="1477.0" width="35.8" height="75.0" fill="none" stroke="#ff4a10" stroke-width="2"/>
<rect x="3787.0" y="1477.0" width="35.8" height="75.0" fill="#303082"/>
<g filter="url(#b1_2)">
<ellipse cx="3804.9" cy="1484.5" rx="5.4" ry="4.5" fill="#6a6aac"/>
<rect x="3794.2" y="1489.0" width="21.5" height="60.0" fill="#6a6aac" rx="4"/>
</g>
<ellipse cx="3811.3" cy="1533.2" rx="13.6" ry="6.0" fill="url(#g75)"/>
<rect x="3787.0" y="1477.0" width="35.8" height="75.0" fill="none" stroke="#6496f0" stroke-width="2"/>
<rect x="3542.0" y="1564.5" width="35.0" height="73.9" fill="url(#g126)"/>
<g clip-path="url(#c127)">
<g opacity="1.0" filter="url(#b1_2)">
<rect x="3551.4" y="1602.9" width="7.0" height="31.8" fill="#3a3440" rx="1.75"/>
<rect x="3560.6" y="1602.9" width="7.0" height="31.8" fill="#3a3440" rx="1.75"/>
<rect x="3545.5" y="1579.3" width="4.5" height="25.9" fill="#2a2228" rx="2.1"/>
<rect x="3568.9" y="1579.3" width="4.5" height="25.9" fill="#2a2228" rx="2.1"/>
<rect x="3549.3" y="1577.8" width="20.3" height="27.3" fill="#2a2228" rx="3.5"/>
<ellipse cx="3559.5" cy="1571.9" rx="4.5" ry="5.2" fill="#2a2020"/>
</g>
</g>
<rect x="3585.0" y="1564.5" width="35.8" height="73.9" fill="#2e2e7e"/>
<g filter="url(#b1_2)">
<ellipse cx="3602.9" cy="1571.9" rx="5.4" ry="4.4" fill="#1c1c5a"/>
<rect x="3592.2" y="1576.3" width="21.5" height="59.1" fill="#1c1c5a" rx="4"/>
</g>
<ellipse cx="3604.1" cy="1619.9" rx="13.6" ry="5.9" fill="url(#g75)"/>
<rect x="3585.0" y="1564.5" width="35.8" height="73.9" fill="none" stroke="#b04fe0" stroke-width="2"/>
<rect x="3625.7" y="1564.5" width="35.8" height="73.9" fill="#2e2e7e"/>
<g filter="url(#b1_2)">
<ellipse cx="3643.6" cy="1571.9" rx="5.4" ry="4.4" fill="#1c1c5a"/>
<rect x="3632.9" y="1576.3" width="21.5" height="59.1" fill="#1c1c5a" rx="4"/>
</g>
<ellipse cx="3650.4" cy="1573.4" rx="13.6" ry="5.9" fill="url(#g75)"/>
<rect x="3625.7" y="1564.5" width="35.8" height="73.9" fill="none" stroke="#f2a01a" stroke-width="2"/>
<rect x="3666.0" y="1564.5" width="35.8" height="73.9" fill="#2e2e7e"/>
<g filter="url(#b1_2)">
<ellipse cx="3683.9" cy="1571.9" rx="5.4" ry="4.4" fill="#1c1c5a"/>
<rect x="3673.2" y="1576.3" width="21.5" height="59.1" fill="#1c1c5a" rx="4"/>
</g>
<ellipse cx="3684.7" cy="1573.4" rx="13.6" ry="5.9" fill="url(#g75)"/>
<rect x="3666.0" y="1564.5" width="35.8" height="73.9" fill="none" stroke="#2ec02e" stroke-width="2"/>
<rect x="3707.0" y="1564.5" width="35.8" height="73.9" fill="#2e2e7e"/>
<g filter="url(#b1_2)">
<ellipse cx="3724.9" cy="1571.9" rx="5.4" ry="4.4" fill="#1c1c5a"/>
<rect x="3714.2" y="1576.3" width="21.5" height="59.1" fill="#1c1c5a" rx="4"/>
</g>
<ellipse cx="3721.9" cy="1586.7" rx="13.6" ry="5.9" fill="url(#g75)"/>
<rect x="3707.0" y="1564.5" width="35.8" height="73.9" fill="none" stroke="#fcd41c" stroke-width="2"/>
<rect x="3746.2" y="1564.5" width="35.8" height="73.9" fill="#2e2e7e"/>
<g filter="url(#b1_2)">
<ellipse cx="3764.1" cy="1571.9" rx="5.4" ry="4.4" fill="#1c1c5a"/>
<rect x="3753.4" y="1576.3" width="21.5" height="59.1" fill="#1c1c5a" rx="4"/>
</g>
<ellipse cx="3764.7" cy="1586.7" rx="13.6" ry="5.9" fill="url(#g75)"/>
<rect x="3746.2" y="1564.5" width="35.8" height="73.9" fill="none" stroke="#ff4a10" stroke-width="2"/>
<rect x="3787.0" y="1564.5" width="35.8" height="73.9" fill="#2e2e7e"/>
<g filter="url(#b1_2)">
<ellipse cx="3804.9" cy="1571.9" rx="5.4" ry="4.4" fill="#1c1c5a"/>
<rect x="3794.2" y="1576.3" width="21.5" height="59.1" fill="#1c1c5a" rx="4"/>
</g>
<ellipse cx="3802.2" cy="1619.9" rx="13.6" ry="5.9" fill="url(#g75)"/>
<rect x="3787.0" y="1564.5" width="35.8" height="73.9" fill="none" stroke="#6496f0" stroke-width="2"/>
<rect x="3542.0" y="1643.0" width="35.0" height="75.0" fill="url(#g128)"/>
<g clip-path="url(#c129)">
<g opacity="1.0" filter="url(#b1_2)">
<rect x="3551.4" y="1682.0" width="7.0" height="32.2" fill="#d0d0d0" rx="1.75"/>
<rect x="3560.6" y="1682.0" width="7.0" height="32.2" fill="#d0d0d0" rx="1.75"/>
<rect x="3545.5" y="1658.0" width="4.5" height="26.3" fill="#dadada" rx="2.1"/>
<rect x="3568.9" y="1658.0" width="4.5" height="26.3" fill="#dadada" rx="2.1"/>
<rect x="3549.3" y="1656.5" width="20.3" height="27.8" fill="#dadada" rx="3.5"/>
<ellipse cx="3559.5" cy="1650.5" rx="4.5" ry="5.3" fill="#5a5a5a"/>
</g>
</g>
<rect x="3585.0" y="1643.0" width="35.8" height="75.0" fill="#303082"/>
<g filter="url(#b1_2)">
<ellipse cx="3602.9" cy="1650.5" rx="5.4" ry="4.5" fill="#6a6aac"/>
<rect x="3592.2" y="1655.0" width="21.5" height="60.0" fill="#6a6aac" rx="4"/>
</g>
<ellipse cx="3598.3" cy="1710.5" rx="13.6" ry="6.0" fill="url(#g75)"/>
<rect x="3585.0" y="1643.0" width="35.8" height="75.0" fill="none" stroke="#b04fe0" stroke-width="2"/>
<rect x="3625.7" y="1643.0" width="35.8" height="75.0" fill="#303082"/>
<g filter="url(#b1_2)">
<ellipse cx="3643.6" cy="1650.5" rx="5.4" ry="4.5" fill="#6a6aac"/>
<rect x="3632.9" y="1655.0" width="21.5" height="60.0" fill="#6a6aac" rx="4"/>
</g>
<ellipse cx="3644.6" cy="1699.2" rx="13.6" ry="6.0" fill="url(#g75)"/>
<rect x="3625.7" y="1643.0" width="35.8" height="75.0" fill="none" stroke="#f2a01a" stroke-width="2"/>
<rect x="3666.0" y="1643.0" width="35.8" height="75.0" fill="#303082"/>
<g filter="url(#b1_2)">
<ellipse cx="3683.9" cy="1650.5" rx="5.4" ry="4.5" fill="#6a6aac"/>
<rect x="3673.2" y="1655.0" width="21.5" height="60.0" fill="#6a6aac" rx="4"/>
</g>
<ellipse cx="3682.1" cy="1665.5" rx="13.6" ry="6.0" fill="url(#g75)"/>
<rect x="3666.0" y="1643.0" width="35.8" height="75.0" fill="none" stroke="#2ec02e" stroke-width="2"/>
<rect x="3707.0" y="1643.0" width="35.8" height="75.0" fill="#303082"/>
<g filter="url(#b1_2)">
<ellipse cx="3724.9" cy="1650.5" rx="5.4" ry="4.5" fill="#6a6aac"/>
<rect x="3714.2" y="1655.0" width="21.5" height="60.0" fill="#6a6aac" rx="4"/>
</g>
<ellipse cx="3727.9" cy="1699.2" rx="13.6" ry="6.0" fill="url(#g75)"/>
<rect x="3707.0" y="1643.0" width="35.8" height="75.0" fill="none" stroke="#fcd41c" stroke-width="2"/>
<rect x="3746.2" y="1643.0" width="35.8" height="75.0" fill="#303082"/>
<g filter="url(#b1_2)">
<ellipse cx="3764.1" cy="1650.5" rx="5.4" ry="4.5" fill="#6a6aac"/>
<rect x="3753.4" y="1655.0" width="21.5" height="60.0" fill="#6a6aac" rx="4"/>
</g>
<ellipse cx="3757.8" cy="1699.2" rx="13.6" ry="6.0" fill="url(#g75)"/>
<rect x="3746.2" y="1643.0" width="35.8" height="75.0" fill="none" stroke="#ff4a10" stroke-width="2"/>
<rect x="3787.0" y="1643.0" width="35.8" height="75.0" fill="#303082"/>
<g filter="url(#b1_2)">
<ellipse cx="3804.9" cy="1650.5" rx="5.4" ry="4.5" fill="#6a6aac"/>
<rect x="3794.2" y="1655.0" width="21.5" height="60.0" fill="#6a6aac" rx="4"/>
</g>
<ellipse cx="3804.8" cy="1665.5" rx="13.6" ry="6.0" fill="url(#g75)"/>
<rect x="3787.0" y="1643.0" width="35.8" height="75.0" fill="none" stroke="#6496f0" stroke-width="2"/>
<rect x="4200.0" y="1394.6" width="34.8" height="76.1" fill="url(#g130)"/>
<g clip-path="url(#c131)">
<g opacity="1.0" filter="url(#b1_2)">
<rect x="4209.4" y="1434.2" width="7.0" height="32.7" fill="#2a2a2a" rx="1.740000000000009"/>
<rect x="4218.4" y="1434.2" width="7.0" height="32.7" fill="#2a2a2a" rx="1.740000000000009"/>
<rect x="4203.5" y="1409.8" width="4.5" height="26.6" fill="#2a2a30" rx="2.0880000000000107"/>
<rect x="4226.8" y="1409.8" width="4.5" height="26.6" fill="#2a2a30" rx="2.0880000000000107"/>
<rect x="4207.3" y="1408.3" width="20.2" height="28.2" fill="#2a2a30" rx="3.480000000000018"/>
<ellipse cx="4217.4" cy="1402.2" rx="4.5" ry="5.3" fill="#3a3030"/>
</g>
</g>
<rect x="4244.0" y="1394.6" width="35.8" height="76.1" fill="#2e2e7e"/>
<g filter="url(#b1_2)">
<ellipse cx="4261.9" cy="1402.2" rx="5.4" ry="4.6" fill="#1c1c5a"/>
<rect x="4251.2" y="1406.8" width="21.5" height="60.9" fill="#1c1c5a" rx="4"/>
</g>
<ellipse cx="4263.5" cy="1440.3" rx="13.6" ry="6.1" fill="url(#g75)"/>
<rect x="4244.0" y="1394.6" width="35.8" height="76.1" fill="none" stroke="#b04fe0" stroke-width="2"/>
<rect x="4284.6" y="1394.6" width="35.8" height="76.1" fill="#2e2e7e"/>
<g filter="url(#b1_2)">
<ellipse cx="4302.5" cy="1402.2" rx="5.4" ry="4.6" fill="#1c1c5a"/>
<rect x="4291.8" y="1406.8" width="21.5" height="60.9" fill="#1c1c5a" rx="4"/>
</g>
<ellipse cx="4297.3" cy="1428.8" rx="13.6" ry="6.1" fill="url(#g75)"/>
<rect x="4284.6" y="1394.6" width="35.8" height="76.1" fill="none" stroke="#f2a01a" stroke-width="2"/>
<rect x="4325.8" y="1394.6" width="35.8" height="76.1" fill="#2e2e7e"/>
<g filter="url(#b1_2)">
<ellipse cx="4343.7" cy="1402.2" rx="5.4" ry="4.6" fill="#1c1c5a"/>
<rect x="4333.0" y="1406.8" width="21.5" height="60.9" fill="#1c1c5a" rx="4"/>
</g>
<ellipse cx="4336.6" cy="1463.1" rx="13.6" ry="6.1" fill="url(#g75)"/>
<rect x="4325.8" y="1394.6" width="35.8" height="76.1" fill="none" stroke="#2ec02e" stroke-width="2"/>
<rect x="4366.0" y="1394.6" width="35.8" height="76.1" fill="#2e2e7e"/>
<g filter="url(#b1_2)">
<ellipse cx="4383.9" cy="1402.2" rx="5.4" ry="4.6" fill="#1c1c5a"/>
<rect x="4373.2" y="1406.8" width="21.5" height="60.9" fill="#1c1c5a" rx="4"/>
</g>
<ellipse cx="4383.4" cy="1451.7" rx="13.6" ry="6.1" fill="url(#g75)"/>
<rect x="4366.0" y="1394.6" width="35.8" height="76.1" fill="none" stroke="#fcd41c" stroke-width="2"/>
<rect x="4407.3" y="1394.6" width="35.8" height="76.1" fill="#2e2e7e"/>
<g filter="url(#b1_2)">
<ellipse cx="4425.2" cy="1402.2" rx="5.4" ry="4.6" fill="#1c1c5a"/>
<rect x="4414.5" y="1406.8" width="21.5" height="60.9" fill="#1c1c5a" rx="4"/>
</g>
<ellipse cx="4419.2" cy="1451.7" rx="13.6" ry="6.1" fill="url(#g75)"/>
<rect x="4407.3" y="1394.6" width="35.8" height="76.1" fill="none" stroke="#ff4a10" stroke-width="2"/>
<rect x="4447.5" y="1394.6" width="35.8" height="76.1" fill="#2e2e7e"/>
<g filter="url(#b1_2)">
<ellipse cx="4465.4" cy="1402.2" rx="5.4" ry="4.6" fill="#1c1c5a"/>
<rect x="4454.7" y="1406.8" width="21.5" height="60.9" fill="#1c1c5a" rx="4"/>
</g>
<ellipse cx="4471.6" cy="1451.7" rx="13.6" ry="6.1" fill="url(#g75)"/>
<rect x="4447.5" y="1394.6" width="35.8" height="76.1" fill="none" stroke="#6496f0" stroke-width="2"/>
<rect x="4200.0" y="1474.5" width="34.8" height="76.5" fill="url(#g132)"/>
<g clip-path="url(#c133)">
<g opacity="1.0" filter="url(#b1_2)">
<rect x="4209.4" y="1514.3" width="7.0" height="32.9" fill="#c8c8c8" rx="1.740000000000009"/>
<rect x="4218.4" y="1514.3" width="7.0" height="32.9" fill="#c8c8c8" rx="1.740000000000009"/>
<rect x="4203.5" y="1489.8" width="4.5" height="26.8" fill="#e8e8e8" rx="2.0880000000000107"/>
<rect x="4226.8" y="1489.8" width="4.5" height="26.8" fill="#e8e8e8" rx="2.0880000000000107"/>
<rect x="4207.3" y="1488.3" width="20.2" height="28.3" fill="#e8e8e8" rx="3.480000000000018"/>
<ellipse cx="4217.4" cy="1482.2" rx="4.5" ry="5.4" fill="#505050"/>
</g>
</g>
<rect x="4244.0" y="1474.5" width="35.8" height="76.5" fill="#303082"/>
<g filter="url(#b1_2)">
<ellipse cx="4261.9" cy="1482.2" rx="5.4" ry="4.6" fill="#6a6aac"/>
<rect x="4251.2" y="1486.7" width="21.5" height="61.2" fill="#6a6aac" rx="4"/>
</g>
<ellipse cx="4255.3" cy="1543.3" rx="13.6" ry="6.1" fill="url(#g75)"/>
<rect x="4244.0" y="1474.5" width="35.8" height="76.5" fill="none" stroke="#b04fe0" stroke-width="2"/>
<rect x="4284.6" y="1474.5" width="35.8" height="76.5" fill="#303082"/>
<g filter="url(#b1_2)">
<ellipse cx="4302.5" cy="1482.2" rx="5.4" ry="4.6" fill="#6a6aac"/>
<rect x="4291.8" y="1486.7" width="21.5" height="61.2" fill="#6a6aac" rx="4"/>
</g>
<ellipse cx="4297.8" cy="1520.4" rx="13.6" ry="6.1" fill="url(#g75)"/>
<rect x="4284.6" y="1474.5" width="35.8" height="76.5" fill="none" stroke="#f2a01a" stroke-width="2"/>
<rect x="4325.8" y="1474.5" width="35.8" height="76.5" fill="#303082"/>
<g filter="url(#b1_2)">
<ellipse cx="4343.7" cy="1482.2" rx="5.4" ry="4.6" fill="#6a6aac"/>
<rect x="4333.0" y="1486.7" width="21.5" height="61.2" fill="#6a6aac" rx="4"/>
</g>
<ellipse cx="4350.2" cy="1520.4" rx="13.6" ry="6.1" fill="url(#g75)"/>
<rect x="4325.8" y="1474.5" width="35.8" height="76.5" fill="none" stroke="#2ec02e" stroke-width="2"/>
<rect x="4366.0" y="1474.5" width="35.8" height="76.5" fill="#303082"/>
<g filter="url(#b1_2)">
<ellipse cx="4383.9" cy="1482.2" rx="5.4" ry="4.6" fill="#6a6aac"/>
<rect x="4373.2" y="1486.7" width="21.5" height="61.2" fill="#6a6aac" rx="4"/>
</g>
<ellipse cx="4379.0" cy="1520.4" rx="13.6" ry="6.1" fill="url(#g75)"/>
<rect x="4366.0" y="1474.5" width="35.8" height="76.5" fill="none" stroke="#fcd41c" stroke-width="2"/>
<rect x="4407.3" y="1474.5" width="35.8" height="76.5" fill="#303082"/>
<g filter="url(#b1_2)">
<ellipse cx="4425.2" cy="1482.2" rx="5.4" ry="4.6" fill="#6a6aac"/>
<rect x="4414.5" y="1486.7" width="21.5" height="61.2" fill="#6a6aac" rx="4"/>
</g>
<ellipse cx="4418.8" cy="1497.5" rx="13.6" ry="6.1" fill="url(#g75)"/>
<rect x="4407.3" y="1474.5" width="35.8" height="76.5" fill="none" stroke="#ff4a10" stroke-width="2"/>
<rect x="4447.5" y="1474.5" width="35.8" height="76.5" fill="#303082"/>
<g filter="url(#b1_2)">
<ellipse cx="4465.4" cy="1482.2" rx="5.4" ry="4.6" fill="#6a6aac"/>
<rect x="4454.7" y="1486.7" width="21.5" height="61.2" fill="#6a6aac" rx="4"/>
</g>
<ellipse cx="4465.5" cy="1497.5" rx="13.6" ry="6.1" fill="url(#g75)"/>
<rect x="4447.5" y="1474.5" width="35.8" height="76.5" fill="none" stroke="#6496f0" stroke-width="2"/>
<rect x="4200.0" y="1561.8" width="34.8" height="76.0" fill="url(#g134)"/>
<g clip-path="url(#c135)">
<g opacity="1.0" filter="url(#b1_2)">
<rect x="4209.4" y="1601.3" width="7.0" height="32.7" fill="#3a3440" rx="1.740000000000009"/>
<rect x="4218.4" y="1601.3" width="7.0" height="32.7" fill="#3a3440" rx="1.740000000000009"/>
<rect x="4203.5" y="1577.0" width="4.5" height="26.6" fill="#2a2228" rx="2.0880000000000107"/>
<rect x="4226.8" y="1577.0" width="4.5" height="26.6" fill="#2a2228" rx="2.0880000000000107"/>
<rect x="4207.3" y="1575.5" width="20.2" height="28.1" fill="#2a2228" rx="3.480000000000018"/>
<ellipse cx="4217.4" cy="1569.4" rx="4.5" ry="5.3" fill="#2a2020"/>
</g>
</g>
<rect x="4244.0" y="1561.8" width="35.8" height="76.0" fill="#2e2e7e"/>
<g filter="url(#b1_2)">
<ellipse cx="4261.9" cy="1569.4" rx="5.4" ry="4.6" fill="#1c1c5a"/>
<rect x="4251.2" y="1574.0" width="21.5" height="60.8" fill="#1c1c5a" rx="4"/>
</g>
<ellipse cx="4255.6" cy="1618.8" rx="13.6" ry="6.1" fill="url(#g75)"/>
<rect x="4244.0" y="1561.8" width="35.8" height="76.0" fill="none" stroke="#b04fe0" stroke-width="2"/>
<rect x="4284.6" y="1561.8" width="35.8" height="76.0" fill="#2e2e7e"/>
<g filter="url(#b1_2)">
<ellipse cx="4302.5" cy="1569.4" rx="5.4" ry="4.6" fill="#1c1c5a"/>
<rect x="4291.8" y="1574.0" width="21.5" height="60.8" fill="#1c1c5a" rx="4"/>
</g>
<ellipse cx="4300.8" cy="1630.2" rx="13.6" ry="6.1" fill="url(#g75)"/>
<rect x="4284.6" y="1561.8" width="35.8" height="76.0" fill="none" stroke="#f2a01a" stroke-width="2"/>
<rect x="4325.8" y="1561.8" width="35.8" height="76.0" fill="#2e2e7e"/>
<g filter="url(#b1_2)">
<ellipse cx="4343.7" cy="1569.4" rx="5.4" ry="4.6" fill="#1c1c5a"/>
<rect x="4333.0" y="1574.0" width="21.5" height="60.8" fill="#1c1c5a" rx="4"/>
</g>
<ellipse cx="4349.2" cy="1630.2" rx="13.6" ry="6.1" fill="url(#g75)"/>
<rect x="4325.8" y="1561.8" width="35.8" height="76.0" fill="none" stroke="#2ec02e" stroke-width="2"/>
<rect x="4366.0" y="1561.8" width="35.8" height="76.0" fill="#2e2e7e"/>
<g filter="url(#b1_2)">
<ellipse cx="4383.9" cy="1569.4" rx="5.4" ry="4.6" fill="#1c1c5a"/>
<rect x="4373.2" y="1574.0" width="21.5" height="60.8" fill="#1c1c5a" rx="4"/>
</g>
<ellipse cx="4379.7" cy="1596.0" rx="13.6" ry="6.1" fill="url(#g75)"/>
<rect x="4366.0" y="1561.8" width="35.8" height="76.0" fill="none" stroke="#fcd41c" stroke-width="2"/>
<rect x="4407.3" y="1561.8" width="35.8" height="76.0" fill="#2e2e7e"/>
<g filter="url(#b1_2)">
<ellipse cx="4425.2" cy="1569.4" rx="5.4" ry="4.6" fill="#1c1c5a"/>
<rect x="4414.5" y="1574.0" width="21.5" height="60.8" fill="#1c1c5a" rx="4"/>
</g>
<ellipse cx="4428.4" cy="1584.6" rx="13.6" ry="6.1" fill="url(#g75)"/>
<rect x="4407.3" y="1561.8" width="35.8" height="76.0" fill="none" stroke="#ff4a10" stroke-width="2"/>
<rect x="4447.5" y="1561.8" width="35.8" height="76.0" fill="#2e2e7e"/>
<g filter="url(#b1_2)">
<ellipse cx="4465.4" cy="1569.4" rx="5.4" ry="4.6" fill="#1c1c5a"/>
<rect x="4454.7" y="1574.0" width="21.5" height="60.8" fill="#1c1c5a" rx="4"/>
</g>
<ellipse cx="4471.0" cy="1607.4" rx="13.6" ry="6.1" fill="url(#g75)"/>
<rect x="4447.5" y="1561.8" width="35.8" height="76.0" fill="none" stroke="#6496f0" stroke-width="2"/>
<rect x="4200.0" y="1641.0" width="34.8" height="76.0" fill="url(#g136)"/>
<g clip-path="url(#c137)">
<g opacity="1.0" filter="url(#b1_2)">
<rect x="4209.4" y="1680.5" width="7.0" height="32.7" fill="#d0d0d0" rx="1.740000000000009"/>
<rect x="4218.4" y="1680.5" width="7.0" height="32.7" fill="#d0d0d0" rx="1.740000000000009"/>
<rect x="4203.5" y="1656.2" width="4.5" height="26.6" fill="#dadada" rx="2.0880000000000107"/>
<rect x="4226.8" y="1656.2" width="4.5" height="26.6" fill="#dadada" rx="2.0880000000000107"/>
<rect x="4207.3" y="1654.7" width="20.2" height="28.1" fill="#dadada" rx="3.480000000000018"/>
<ellipse cx="4217.4" cy="1648.6" rx="4.5" ry="5.3" fill="#5a5a5a"/>
</g>
</g>
<rect x="4244.0" y="1641.0" width="35.8" height="76.0" fill="#303082"/>
<g filter="url(#b1_2)">
<ellipse cx="4261.9" cy="1648.6" rx="5.4" ry="4.6" fill="#6a6aac"/>
<rect x="4251.2" y="1653.2" width="21.5" height="60.8" fill="#6a6aac" rx="4"/>
</g>
<ellipse cx="4267.8" cy="1675.2" rx="13.6" ry="6.1" fill="url(#g75)"/>
<rect x="4244.0" y="1641.0" width="35.8" height="76.0" fill="none" stroke="#b04fe0" stroke-width="2"/>
<rect x="4284.6" y="1641.0" width="35.8" height="76.0" fill="#303082"/>
<g filter="url(#b1_2)">
<ellipse cx="4302.5" cy="1648.6" rx="5.4" ry="4.6" fill="#6a6aac"/>
<rect x="4291.8" y="1653.2" width="21.5" height="60.8" fill="#6a6aac" rx="4"/>
</g>
<ellipse cx="4299.4" cy="1686.6" rx="13.6" ry="6.1" fill="url(#g75)"/>
<rect x="4284.6" y="1641.0" width="35.8" height="76.0" fill="none" stroke="#f2a01a" stroke-width="2"/>
<rect x="4325.8" y="1641.0" width="35.8" height="76.0" fill="#303082"/>
<g filter="url(#b1_2)">
<ellipse cx="4343.7" cy="1648.6" rx="5.4" ry="4.6" fill="#6a6aac"/>
<rect x="4333.0" y="1653.2" width="21.5" height="60.8" fill="#6a6aac" rx="4"/>
</g>
<ellipse cx="4339.4" cy="1650.1" rx="13.6" ry="6.1" fill="url(#g75)"/>
<rect x="4325.8" y="1641.0" width="35.8" height="76.0" fill="none" stroke="#2ec02e" stroke-width="2"/>
<rect x="4366.0" y="1641.0" width="35.8" height="76.0" fill="#303082"/>
<g filter="url(#b1_2)">
<ellipse cx="4383.9" cy="1648.6" rx="5.4" ry="4.6" fill="#6a6aac"/>
<rect x="4373.2" y="1653.2" width="21.5" height="60.8" fill="#6a6aac" rx="4"/>
</g>
<ellipse cx="4389.3" cy="1650.1" rx="13.6" ry="6.1" fill="url(#g75)"/>
<rect x="4366.0" y="1641.0" width="35.8" height="76.0" fill="none" stroke="#fcd41c" stroke-width="2"/>
<rect x="4407.3" y="1641.0" width="35.8" height="76.0" fill="#303082"/>
<g filter="url(#b1_2)">
<ellipse cx="4425.2" cy="1648.6" rx="5.4" ry="4.6" fill="#6a6aac"/>
<rect x="4414.5" y="1653.2" width="21.5" height="60.8" fill="#6a6aac" rx="4"/>
</g>
<ellipse cx="4430.9" cy="1650.1" rx="13.6" ry="6.1" fill="url(#g75)"/>
<rect x="4407.3" y="1641.0" width="35.8" height="76.0" fill="none" stroke="#ff4a10" stroke-width="2"/>
<rect x="4447.5" y="1641.0" width="35.8" height="76.0" fill="#303082"/>
<g filter="url(#b1_2)">
<ellipse cx="4465.4" cy="1648.6" rx="5.4" ry="4.6" fill="#6a6aac"/>
<rect x="4454.7" y="1653.2" width="21.5" height="60.8" fill="#6a6aac" rx="4"/>
</g>
<ellipse cx="4460.2" cy="1686.6" rx="13.6" ry="6.1" fill="url(#g75)"/>
<rect x="4447.5" y="1641.0" width="35.8" height="76.0" fill="none" stroke="#6496f0" stroke-width="2"/>
<text x="3502.0" y="1478.7" font-size="13.5" class="s" textLength="31.0" lengthAdjust="spacingAndGlyphs">ID 162</text>
<text x="3505.0" y="1644.8" font-size="13.5" class="s" textLength="25.0" lengthAdjust="spacingAndGlyphs">ID 63</text>
<text x="4166.0" y="1476.0" font-size="13.5" class="s" textLength="18.0" lengthAdjust="spacingAndGlyphs">ID 6</text>
<text x="4161.0" y="1643.0" font-size="13.5" class="s" textLength="29.0" lengthAdjust="spacingAndGlyphs">ID 229</text>
</svg>
</body></html>
